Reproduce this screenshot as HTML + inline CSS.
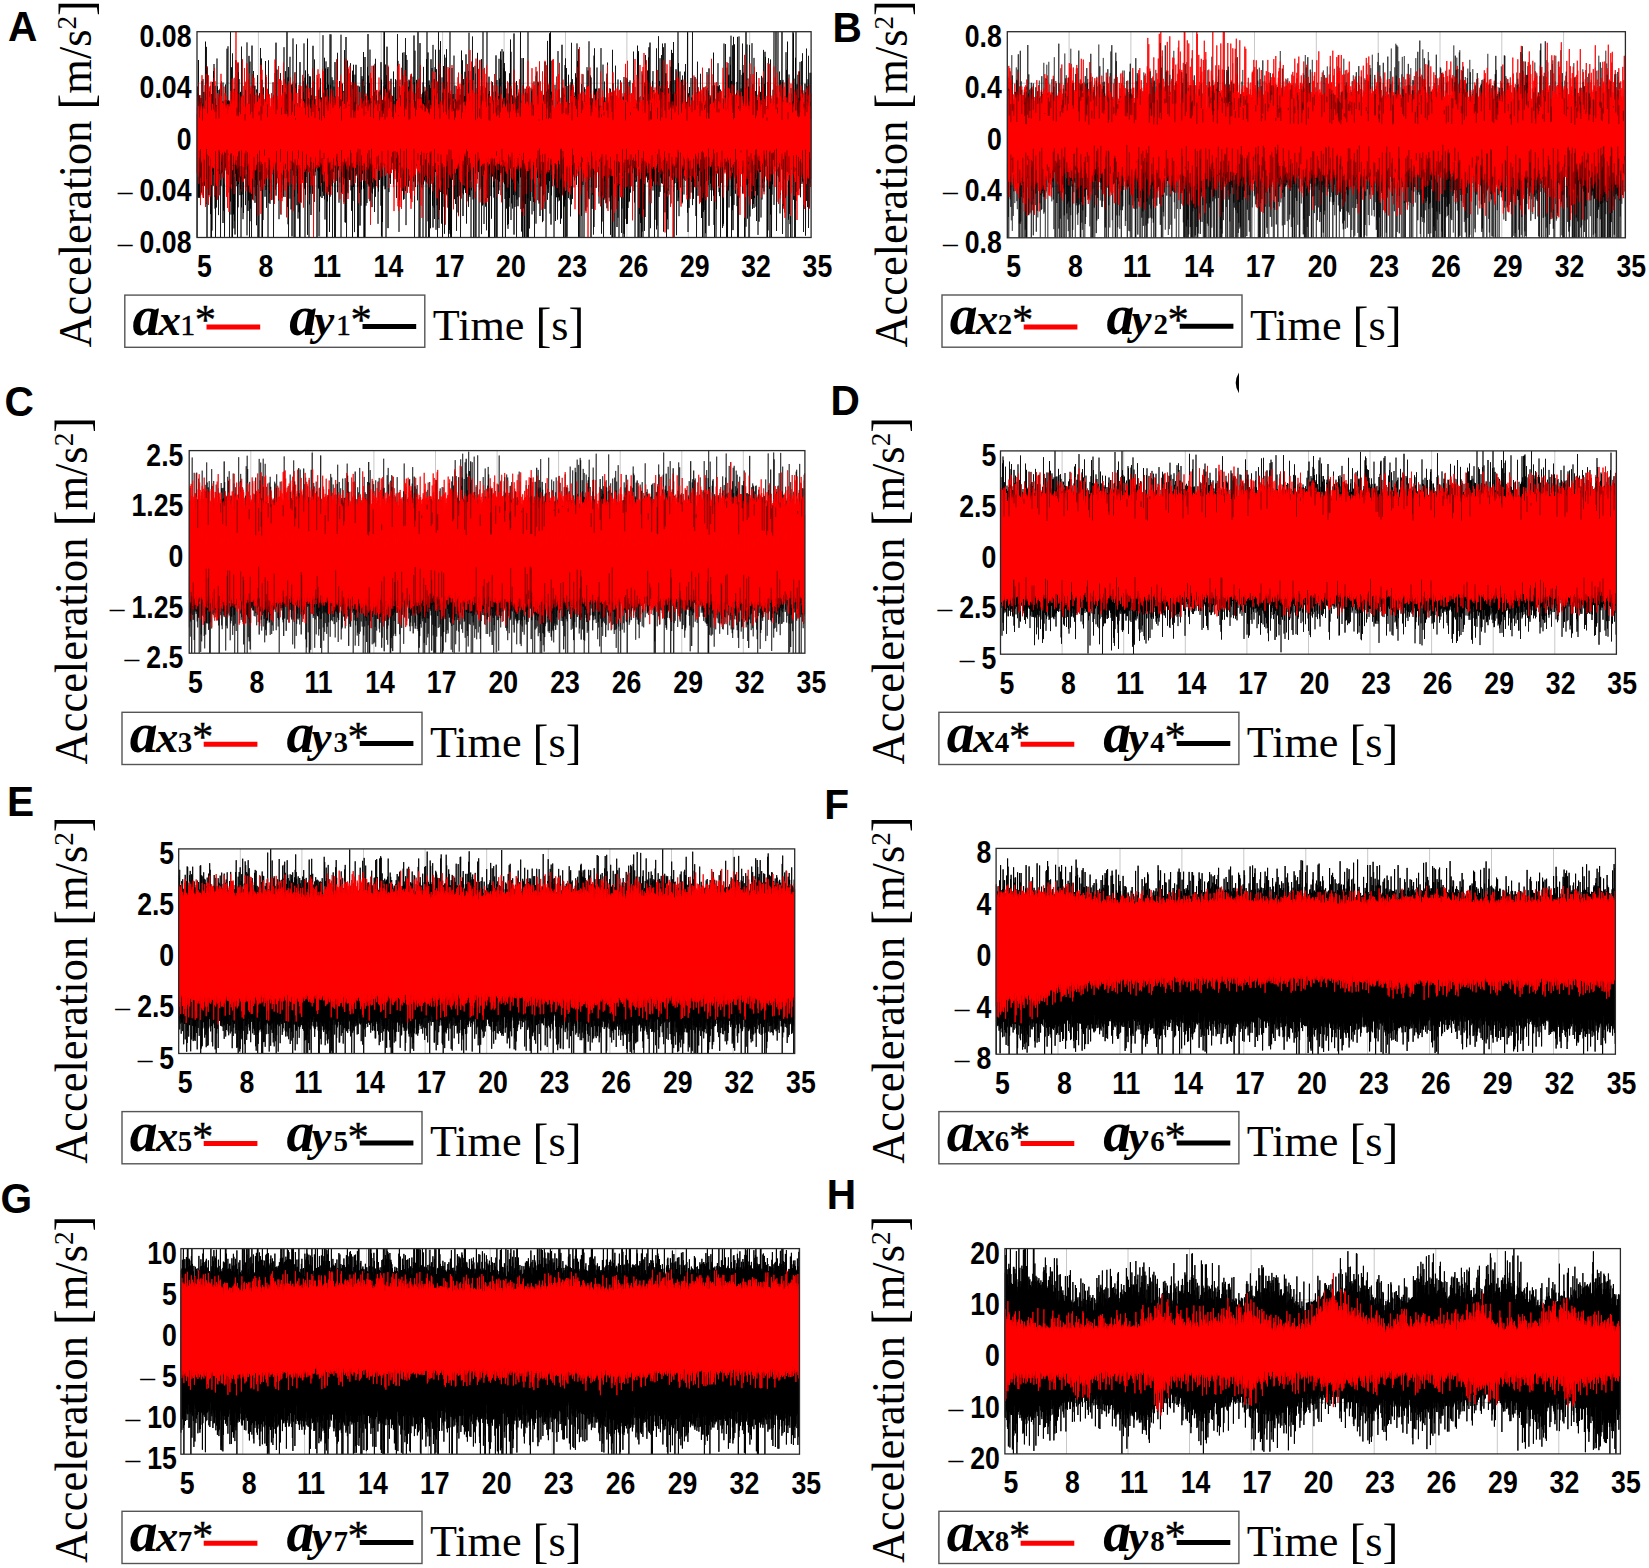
<!DOCTYPE html><html><head><meta charset="utf-8"><title>Acceleration figure</title>
<style>html,body{margin:0;padding:0;background:#fff}svg{display:block}.tk{font-family:"Liberation Sans",sans-serif;font-weight:700;font-size:31px;fill:#000}.pl{font-family:"Liberation Sans",sans-serif;font-weight:700;font-size:41.7px;fill:#000}.se{font-family:"Liberation Serif",serif;fill:#000}</style></head><body>
<svg width="1649" height="1568" viewBox="0 0 1649 1568">
<rect width="1649" height="1568" fill="#fff"/>
<g id="panelA">
<path d="M258.4 31.7V237.5M319.8 31.7V237.5M381.2 31.7V237.5M442.6 31.7V237.5M504.1 31.7V237.5M565.5 31.7V237.5M626.9 31.7V237.5M688.3 31.7V237.5M749.7 31.7V237.5M197.0 83.2H811.1M197.0 134.6H811.1M197.0 186.1H811.1" stroke="#c8c8c8" stroke-width="1" fill="none"/>
<clipPath id="cA"><rect x="196.5" y="31.7" width="615.1" height="205.8"/></clipPath>
<g clip-path="url(#cA)" fill="none" stroke-linejoin="bevel">
<path d="M197 113.8v123.7l.5-151v80.1l.5-73.2v103.5l.5-136.9v137.8l.5-84.7v51.7l.5-69.2v102.1l.5-102.6v101.1l.5-93.9v75.3l.5-79.6v74.7l.5-64.1v83.9l.5-111.6v73.1l.5-50.5v82.4l.5-106.8v116.2l.5-79.9v82.6l.5-106.1v78.7l.5-54.7v69.7l.5-71.7v56.4l.5-128.6v112.3l.5-60.2v110.3l.5-157.2v132.1l.5-108.4v166.9l.5-169.8v103.8l.5-52.9v64.5l.5-66.7v78.7l.5-85.8v85.7l.5-103.4v84.7l.5-90v75.7l.5-47.8v99.9l.5-119.8v143.2l.5-143.5v143.5l.5-116.7v109.8l.5-148.7v89.4l.5-75.7v89.9l.5-114.3v103.4l.5-110.6v121.9l.5-94.1v104.6l.5-110.6v122.8l.5-110.1v139l.5-132.5v61.4l.5-57v98.1l.5-149v132.8l.5-105v111.3l.5-99.1v72.4l.5-50v94.2l.5-125.1v105.3l.5-97.6v76.3l.5-85.3v73l.5-51.4v127.2l.5-152v100.2l.5-104.3v83.6l.5-63.6v72l.5-61.8v60.4l.5-89.5v140.5l.5-121.8v109.4l.5-107.7v67.4l.5-57.6v124l.5-124.2v52.9l.5-80.9v83l.5-67.4v70.4l.5-65.7v63.1l.5-119.2v125.5l.5-73v68.1l.5-123v108.8l.5-54.7v74.2l.5-71.5v89.5l.5-91.3v136.2l.5-128.3v58.6l.5-136.1v169.7l.5-98.2v111.4l.5-147.2v116.9l.5-70.8v124l.5-184.1v184.1l.5-121.2v49.7l.5-70.6v118.9l.5-125.5v139.6l.5-111.7v104.3l.5-143.3v156.8l.5-174.3v113.3l.5-56.1v52.8l.5-86.3v97.2l.5-73.5v78.5l.5-94v145.4l.5-174.2v144l.5-135v111.8l.5-105v98.4l.5-69.2v69.1l.5-84.1v101.8l.5-103.2v97.2l.5-68.9v117.3l.5-190.9v160.7l.5-94.5v81.7l.5-111.5v77.3l.5-64.3v123.2l.5-97.3v91l.5-126.9v92.8l.5-65.4v52.8l.5-51.9v63.8l.5-88.2v115.2l.5-123.5v88l.5-78.5v96l.5-144.7v193l.5-131.6v68.6l.5-59.2v97.7l.5-107.4v97.1l.5-144.7v115.2l.5-65v131.4l.5-175.9v159.6l.5-127.3v114.7l.5-103.6v82.8l.5-82.1v131.8l.5-191.9v149.9l.5-87.2v91.2l.5-114.3v113.7l.5-127.9v111.9l.5-83.8v88.1l.5-101.3v87.6l.5-87.8v117.1l.5-98.4v75.2l.5-77.5v93.8l.5-106.4v135.7l.5-125.5v73.6l.5-98.2v109.8l.5-71.3v123.9l.5-133.3v73.3l.5-66v126l.5-144.3v76.9l.5-56.3v66.7l.5-132.5v138.9l.5-80.5v84.6l.5-132.5v120.9l.5-99.6v157.7l.5-147.9v147.9l.5-141.6v124.1l.5-132.6v86.9l.5-61.9v71.5l.5-72.5v44.4l.5-35.9v76.8l.5-135.7v118.8l.5-72.5v82.6l.5-84.5v102.4l.5-112.2v79.3l.5-70.6v62.5l.5-66.3v137l.5-177.2v117.1l.5-62.9v88.4l.5-98.8v89.1l.5-80.5v91.2l.5-87.9v66.9l.5-73.1v51.6l.5-54.5v93l.5-77.8v52.1l.5-68.8v50.8l.5-73.9v117.5l.5-104.7v142.4l.5-133.7v78.7l.5-73.8v56.8l.5-92.4v116.5l.5-100.9v71.4l.5-117.4v152.9l.5-93.5v82.2l.5-114.6v93.2l.5-42.5v57.9l.5-74.4v49.3l.5-33.4v80.6l.5-89.2v108l.5-116.1v59.1l.5-49v65l.5-105.1v88.6l.5-44.2v97.2l.5-107.1v84.3l.5-78v84.2l.5-113.1v94.4l.5-58.1v63.6l.5-83.3v95.1l.5-149.5v131l.5-88.4v70l.5-67.7v104.9l.5-125.8v97.7l.5-74.6v82l.5-58.8v51.1l.5-136.9v146.5l.5-68.5v97.1l.5-129.4v146.9l.5-157.3v170.5l.5-142.5v81.9l.5-74.3v75.4l.5-121.2v141.8l.5-93.4v56l.5-58.4v106.6l.5-124.3v77.6l.5-78.9v152.6l.5-149.3v83.1l.5-131.8v114.2l.5-53.6v76.5l.5-71.3v133.3l.5-133.1v92l.5-124.3v165.4l.5-119.4v47.5l.5-82.1v79.4l.5-118.5v131.6l.5-72.6v101.8l.5-93.2v81.2l.5-90v115.4l.5-106.2v46.2l.5-69.5v123.1l.5-107.4v132.7l.5-175.4v175.4l.5-149.5v114.1l.5-91.8v56.5l.5-50.1v47.1l.5-44.8v57.7l.5-65.1v68.3l.5-98.8v86.7l.5-75.8v93.4l.5-142v115.5l.5-59.4v89.1l.5-110.9v159.8l.5-167v124.1l.5-79v61.4l.5-91.1v84.4l.5-66.3v78.9l.5-144.2v196.1l.5-160.9v90.7l.5-66.6v73.7l.5-59.8v125.6l.5-161.2v128.1l.5-105.2v94.4l.5-117.1v94.9l.5-63.7v107.3l.5-119.6v84l.5-75v60.6l.5-77.8v106.6l.5-148v124.2l.5-74.5v80.2l.5-64.5v61l.5-112.7v142.3l.5-102.7v76.5l.5-57.9v53.9l.5-60.5v52.9l.5-46.9v44.7l.5-54.2v129.9l.5-159.1v75.4l.5-54.1v71.1l.5-80.9v98.5l.5-98.7v146.6l.5-128.4v103.6l.5-124.1v85.2l.5-94.2v118l.5-90.1v68.5l.5-77.2v85.2l.5-76.7v91.9l.5-92.5v86.1l.5-156.4v119.1l.5-61.5v103l.5-102.3v65.5l.5-101.2v141.5l.5-87.9v108.1l.5-151v102.5l.5-109.6v111.2l.5-70.9v135.8l.5-149.3v149.3l.5-168.7v132.6l.5-134.3v107.3l.5-89.7v107l.5-76.1v58.4l.5-62.5v120.5l.5-197.7v162.4l.5-111.9v109.3l.5-159.7v149.6l.5-85.7v82.7l.5-103.7v108.8l.5-71.6v123l.5-157.3v98.8l.5-78.4v71.3l.5-85.3v82l.5-57.8v126.7l.5-175.4v105.8l.5-67.9v137.5l.5-141v76.3l.5-82.9v71.4l.5-49.1v68.7l.5-128.1v139.4l.5-92.8v70.9l.5-65.4v63.2l.5-61.3v95.9l.5-121.7v100.4l.5-62.1v63.5l.5-83.8v62.7l.5-127v202.8l.5-137.7v92.5l.5-71.3v52.4l.5-89.8v89.5l.5-79.9v83.9l.5-85.9v93.1l.5-76.6v94.4l.5-152v128.4l.5-75.6v119.3l.5-111.9v112.3l.5-185.6v159.9l.5-90.9v131.5l.5-121.7v46.1l.5-101.2v130.8l.5-84.2v85.9l.5-108.5v92.6l.5-72.7v56.8l.5-77.7v96.3l.5-58.8v58l.5-116v116.4l.5-94.6v105.4l.5-74.6v95l.5-106.4v66l.5-99.7v166.8l.5-162.6v126l.5-136.1v122.1l.5-77.2v48.4l.5-56v130l.5-157.4v108.2l.5-85.6v73.9l.5-106.4v111l.5-77v63.9l.5-52.2v63.9l.5-57.2v120.3l.5-151.8v101.3l.5-80.5v131l.5-126.7v43.8l.5-68v106.3l.5-88.9v121.5l.5-114.4v53.4l.5-97.5v138.7l.5-98.9v82.6l.5-113.2v90.9l.5-53.4v59.8l.5-94.6v101.3l.5-128.1v136.5l.5-102.8v151.7l.5-143.5v143.5l.5-180.5v180.5l.5-141v70.3l.5-54.2v93.1l.5-102.9v66.8l.5-50.6v84l.5-136.1v112.1l.5-144.9v149.7l.5-108.1v108.7l.5-79.8v81.8l.5-103.3v103.1l.5-136.6v151.6l.5-103v102.2l.5-99.1v91.3l.5-96.1v86l.5-69.9v94.5l.5-95.5v81.9l.5-85.2v80.3l.5-122.8v96.7l.5-67.8v92.1l.5-94.4v119.6l.5-148.2v95l.5-100v138l.5-106.2v95.4l.5-90.5v73.5l.5-63.3v58.4l.5-57.1v50.8l.5-57.3v123.3l.5-110.4v78.1l.5-99.9v72l.5-52.3v68.7l.5-90.1v81.6l.5-74.5v73.8l.5-108.6v143.5l.5-125.9v155.9l.5-135.4v137.2l.5-133.7v118.1l.5-121.8v52l.5-65.4v78l.5-133v154l.5-154v133.8l.5-64.6v88.4l.5-124.7v124.2l.5-103.9v152.6l.5-162.1v90l.5-118.7v119.9l.5-77.8v83.6l.5-75.6v131.3l.5-161v93.6l.5-70v101.4l.5-99.3v63.7l.5-67.1v88.6l.5-70.1v76l.5-105.1v85.4l.5-55.4v60.4l.5-71.4v60.2l.5-62v66.9l.5-47.4v39.2l.5-83.1v112.6l.5-83.3v76.3l.5-60.4v54.1l.5-83.8v81.8l.5-89.6v72.3l.5-52.4v62.2l.5-52.1v88.6l.5-117.6v97.7l.5-143.9v148l.5-121.2v111.8l.5-57.6v61l.5-87.6v143.4l.5-145.6v113.9l.5-120.6v85.6l.5-69.8v82.2l.5-72.5v53l.5-45.8v51.5l.5-58.4v85.7l.5-138.3v120.1l.5-53.5v71.3l.5-113.5v122.3l.5-147.2v146.6l.5-106.9v81.8l.5-91.4v83.9l.5-128.2v152.7l.5-135.8v170.1l.5-126.7v87l.5-125.5v95.8l.5-73.1v92.1l.5-70.3v67.9l.5-85.5v99.7l.5-106.8v92.9l.5-72.4v80.5l.5-99.9v86.5l.5-91.6v122.8l.5-97.8v74.1l.5-101v125.7l.5-82.4v60.3l.5-60v56.8l.5-97.5v114.2l.5-95.9v81.3l.5-140.8v146.1l.5-99.1v155l.5-186.8v129.7l.5-79.1v85.8l.5-70.7v51.5l.5-88v86.1l.5-62.5v59.4l.5-57.7v95.1l.5-168.6v128.6l.5-63v84.3l.5-93.6v149.5l.5-133v57.1l.5-118.5v194.4l.5-131.8v59.5l.5-59.8v77.9l.5-85.5v86.8l.5-90.4v93.4l.5-94.9v67.6l.5-77.9v155.1l.5-170.6v117.4l.5-97.6v89.9l.5-73.6v77.1l.5-88.6v90l.5-86v81.2l.5-86.3v147.1l.5-178.5v123.1l.5-150.4v122.4l.5-57.3v57.9l.5-102.2v168.8l.5-117.8v134l.5-157v96.8l.5-92.4v152.6l.5-130.3v87.2l.5-106.2v140l.5-168.9v121.3l.5-69.1v62.9l.5-106.4v85.5l.5-63.3v115.5l.5-160.8v182.6l.5-139v83.6l.5-93v128.4l.5-111.9v123.4l.5-151.8v98.3l.5-115.8v122l.5-55.3v113.4l.5-160.6v84.5l.5-61.3v112.9l.5-123v155.2l.5-129.5v53.5l.5-129.8v187.5l.5-116.7v125.5l.5-153.4v135.3l.5-160.1v135.7l.5-144.3v150.7l.5-72.9v61.6l.5-70.6v113.5l.5-146.1v89.8l.5-74.6v144.9l.5-132.7v89.1l.5-127.9v93.2l.5-48.9v96.5l.5-152.1v179l.5-139.8v102.7l.5-77.5v93.7l.5-155.1v133.4l.5-141.8v144.6l.5-112v113.5l.5-98.4v92.1l.5-97.1v73.1l.5-72.1v144.5l.5-139.1v135.3l.5-165.3v161.6l.5-198.3v152l.5-89.7v143.5l.5-123v120.2l.5-115.6v118.4l.5-169.4v103.5l.5-74.1v82.1l.5-85.5v82l.5-75v74.3l.5-119.8v98.4l.5-45.4v90.5l.5-113.5v85.7l.5-71.9v104.6l.5-102.4v53.2l.5-43.1v119.2l.5-130.3v74.1l.5-61.6v83.7l.5-107.9v123.5l.5-104.3v107l.5-115.4v96.5l.5-100.3v61.5l.5-62.7v100.7l.5-88.5v130.6l.5-148.3v84l.5-122.6v128.8l.5-59.7v73.5l.5-132.8v97.2l.5-62.6v121l.5-136.9v115.3l.5-79.7v75l.5-93.4v91.7l.5-116.2v111.6l.5-87.5v96.9l.5-138.4v117.9l.5-90.3v141.5l.5-120.1v64.8l.5-50.5v47.2l.5-93.8v130.2l.5-118.1v123.6l.5-174.2v147.6l.5-65.3v80l.5-114.8v116.7l.5-100.4v83.5l.5-64.1v121.7l.5-162v114.8l.5-70.3v54.5l.5-138v138.2l.5-92.3v117.1l.5-132.3v170.3l.5-117.5v58.8l.5-80.8v88.1l.5-120.3v171.7l.5-163.9v99.7l.5-53.2v117.4l.5-146.3v65.9l.5-43.3v48.2l.5-109.1v126.2l.5-87v78.5l.5-70v71.5l.5-76.1v141.5l.5-128.8v81.5l.5-70.1v68.7l.5-72.4v51.8l.5-72.8v91.5l.5-127.8v175l.5-147.8v75.5l.5-72.5v116.1l.5-173.7v172.8l.5-111.4v81.3l.5-54.3v103.9l.5-107.4v53.7l.5-79.3v75.2l.5-78.5v118.9l.5-90.6v38.4l.5-72.1v148l.5-198.6v159.2l.5-89.8v96.9l.5-95.4v75.8l.5-84.5v143.6l.5-160.8v96.8l.5-82.5v146.5l.5-134.5v65.5l.5-70.4v68.9l.5-65.4v94.5l.5-83.5v106l.5-111.8v67.9l.5-92.6v94.1l.5-76.4v76.8l.5-76.2v86.9l.5-89.8v100.1l.5-93.2v133.1l.5-122.2v62.6l.5-86.2v86.9l.5-123.2v182.1l.5-129.8v48.2l.5-75.9v157.5l.5-137.4v79.6l.5-74.4v69.7l.5-79v98l.5-135.2v131.6l.5-111.8v102.9l.5-73.6v46.8l.5-103.1v121.2l.5-113v135.4l.5-77.6v55.7l.5-124.2v112.7l.5-60.4v136.1l.5-138.3v80.9l.5-128.5v116.2l.5-99.8v91l.5-95.9v121.1l.5-98.4v113.2l.5-127.6v166.1l.5-149v103.2l.5-71.3v88.1l.5-110.1v73.3l.5-71.3v124.7l.5-131.6v135.3l.5-128.5v123.7l.5-117.2v99.9l.5-133.3v124.6l.5-99.6v69.7l.5-128.5v128.9l.5-116.7v168.2l.5-131.3v114.6l.5-101v79.6l.5-86.4v113l.5-102.1v69.2l.5-77.9v97.1l.5-161.3v201.1l.5-137.7v74.9l.5-74.8v109.9l.5-103.7v83.7l.5-88.2v96.6l.5-114.3v156.5l.5-152.4v114.4l.5-78.8v60.1l.5-85v110.4l.5-112.8v90l.5-91.1v105l.5-96.6v54.3l.5-60.6v76.2l.5-138.9v145.6l.5-67.9v99.7l.5-107.9v130.3l.5-173.4v128.9l.5-90.2v140.7l.5-127.9v91.8l.5-143.4v150.3l.5-101.1v130.3l.5-130.2v130.2l.5-148.9v114.8l.5-111.1v111.5l.5-114.7v148.4l.5-147.3v88.9l.5-85.5v143.9l.5-144.6v144.6l.5-205.8v166.8l.5-110.2v149.2l.5-133.5v66.2l.5-76.8v135l.5-117.2v60.9l.5-61.3v90l.5-113.1v71.3l.5-67.9v92l.5-93.8v125.1l.5-108.7v56.3l.5-61.2v96.1l.5-92.1v97.2l.5-120.6v129.7l.5-115.9v142.3l.5-132v56.5l.5-44.8v66.7l.5-108v147.8l.5-151.2v94.8l.5-96v90.5l.5-47.2v63.1l.5-96v118.5l.5-116.9v104.5l.5-68.5v84.3l.5-96.7v70.7l.5-67.4v105.8l.5-97.5v67.7l.5-95.4v73.1l.5-43.8v66.1l.5-90.1v83l.5-75.6v118.6l.5-111v109.8l.5-126.1v100.5l.5-74.2v72.7l.5-79v69.4l.5-122.3v147l.5-115.3v75.7l.5-54.2v122.4l.5-146.1v93.1l.5-90.7v68.2l.5-121.1v158.9l.5-96.9v85.7l.5-99.5v103.7l.5-97.1v63.8l.5-126.1v147.7l.5-79.4v111.9l.5-181.9v122.6l.5-93.6v163.9l.5-132.8v103.5l.5-91.2v71.5l.5-75.4v68.4l.5-54.3v39.9l.5-33.2v37.9l.5-37.9v116.5l.5-118.3v66.2l.5-100.7v95.6l.5-79.9v120.6l.5-124.5v79.8l.5-76.9v97.8l.5-93v49.9l.5-52.4v117.9l.5-168.5v150.3l.5-112v107.9l.5-107.9v107.6l.5-84.2v87.6l.5-88.7v75.6l.5-70.5v107l.5-126.1v58.1l.5-52.3v114.9l.5-173.6v149.3l.5-81.4v44.3l.5-69.3v86l.5-80.7v144.5l.5-142v111.6l.5-112.2v110.9l.5-140.7v172.4l.5-179.1v141.1l.5-91.6v129.6l.5-169.5v123.4l.5-84.3v129.7l.5-121.1v49.3l.5-79v92.7l.5-103.9v123.3l.5-89.8v68.2l.5-73.5v84.8l.5-73.5v85.3l.5-114.4v131.2l.5-134.1v88.6l.5-128.1v161.5l.5-102v54.5l.5-77.6v119.6l.5-109.6v83.4l.5-55.3v57.5l.5-82.4v61.6l.5-57.9v84.3l.5-78.8v59.8l.5-88v94.4l.5-76.9v86.9l.5-100.1v107.1l.5-141.4v130.2l.5-112.5v104.5l.5-100.2v94l.5-110.2v187.4l.5-165.7v166.6l.5-120.1v83l.5-105.1v142.2l.5-137.3v78.4l.5-74.4v62.9l.5-83v131.7l.5-118.9v140.6l.5-136.5v61.1l.5-87.8v110.7l.5-79.9v59.9l.5-61.6v134.1l.5-150.2v88.9l.5-87.1v79.5l.5-55.3v97l.5-106.8v107.4l.5-99.2v54.9l.5-99.4v140.1l.5-108.5v72.5l.5-100.7v120.5l.5-100.5v107l.5-156.3v157.9l.5-93.8v74l.5-81.4v63.6l.5-86v89.7l.5-87.8v160l.5-135.1v85.1l.5-89.3v110.7l.5-101.3v87l.5-95.9v76.5l.5-62.9v122.3l.5-179v171.4l.5-178.7v114l.5-73.8v85.8l.5-85.3v86.3l.5-61.3v74l.5-99.3v83.6l.5-104.8v87.1l.5-42.7v57.7l.5-50.7v41.7l.5-61.8v93l.5-103.4v115.2l.5-93.8v51.7l.5-55.7v48.9l.5-36.5v80.2l.5-150.3v148.4l.5-82.2v119.3l.5-121.6v109.5l.5-114.5v88.3l.5-130.7v130.3l.5-94.3v136.9l.5-125.4v87.7l.5-118.2v99.4l.5-83.5v100.7l.5-85.2v54.5l.5-66.7v102l.5-115.6v90.1l.5-103.7v134.7l.5-145.7v96.1l.5-55.9v68.8l.5-53.3v59.6l.5-61.1v80.8l.5-91.2v69l.5-62.2v88.2l.5-112.7v146.1l.5-138.8v113.5l.5-104.2v90.1l.5-99.5v141.6l.5-187.7v187.7l.5-154.2v110.3l.5-79.1v71l.5-94.6v146.3l.5-115v61.6l.5-79.1v132.8l.5-171.8v88.9l.5-58.5v88.5l.5-76.7v69.1l.5-57.2v107.2l.5-108.7v50.3l.5-89.1v138.2l.5-107.5v90.6l.5-80.2v116.9l.5-118.7v54.2l.5-69.3v81.5l.5-104.8v82.6l.5-66.2v89.9l.5-88.6v134.8l.5-123.7v99.4l.5-100v67.7l.5-79.7v140.9l.5-139.2v81.2l.5-102.5v156.8l.5-111.5v115.2l.5-128.2v62.8l.5-70v84.1l.5-108.5v141.2l.5-123.1v128.2l.5-111.5v94.7l.5-128.4v145l.5-105v89.2l.5-98.5v58.8l.5-86.3v120.1l.5-96.9v95.8l.5-120.6v90.2l.5-58.3v80.2l.5-85v58.6l.5-49.3v58.4l.5-67.6v77l.5-87.6v76.2l.5-64.7v82.6l.5-139.5v116.6l.5-61.1v59l.5-67.9v104.2l.5-115.6v150.7l.5-115.6v55.5l.5-73.8v78.4l.5-75.5v74.1l.5-77.2v52.8l.5-110.5v120.7l.5-112.4v183.5l.5-186.2v115.7l.5-56.4v126.9l.5-140.2v116.9l.5-103.2v59.1l.5-63.5v116.3l.5-112.8v127.4l.5-128.9v128.9l.5-166.2v160.2l.5-156.9v78.4l.5-43.4v127.9l.5-140.2v111.9l.5-93.1v40.5l.5-74v148.3l.5-144.7v130.8l.5-162v113l.5-85.2v94.7l.5-63.9v62.4l.5-79.4v66.9l.5-92.9v111.7l.5-77.7v60.8l.5-107.9v122.4l.5-132.6v190.2l.5-134.8v67.3l.5-127.4v152.9l.5-84.3v117l.5-141.6v116.6l.5-100.3v76l.5-68v64.6l.5-94.4v104.7l.5-114.7v119.4l.5-78.1v69l.5-91.4v85.2l.5-80.8v143.1l.5-122.7v104.9l.5-109.7v42.5l.5-45v59.7l.5-118.8v180.9l.5-142.7v138.9l.5-117.8v73.6l.5-73.2v129.4l.5-201.3v122l.5-63.8v102.5l.5-115.8v80.1l.5-103v133.6l.5-103.3v78.3l.5-60.1v71.1l.5-122.7v128.1l.5-92.2v69.4l.5-116.8v140.1l.5-93v77.1l.5-120.5v184.4l.5-143.4v85.8l.5-77.2v95.7l.5-149.3v169l.5-99.8v52.2l.5-91.4v120.1l.5-99.4v143.5l.5-148.3v104.9l.5-77.8v103l.5-127.5v137.5l.5-141.1v102.5l.5-88.7v74.3l.5-69v45.7l.5-68.4v110l.5-113.6v98.2l.5-112.5v136.8l.5-153.6v119l.5-62v71.1l.5-125v126.7l.5-85.3v78.6l.5-131v149.7l.5-84v129.8l.5-129.3v75.2l.5-103.2v102.9l.5-69.7v45.5l.5-89.6v98.6l.5-73.2v140.5l.5-122.9v55.2l.5-63v85.2l.5-158v169.4l.5-137.9v134.4l.5-92.3v110.9l.5-111.8v63.7l.5-96.6v105.1l.5-71.3v82.1l.5-92.3v87.6l.5-102.8v93.9l.5-93.2v122.9l.5-128v126.7l.5-100.7v77.1l.5-84v76.7l.5-77.8v101l.5-122.8v98.4l.5-86.4v96.3l.5-116v110.1l.5-71.7v77.4l.5-59.9v43.5l.5-61.6v93.3l.5-163.4v181l.5-96.3v115.6l.5-138.7v105.3l.5-91.3v100.5l.5-120.8v110.7l.5-88.4v66.6l.5-67.9v56.4l.5-86.4v114.6l.5-75.7v46.1l.5-65.6v84.5l.5-150.2v173.4l.5-84.7v72.8l.5-88.5v94.1l.5-80.8v52.4l.5-61.6v78.3l.5-110v109.8l.5-95.9v81.5l.5-67.8v111.3l.5-108.5v130l.5-145.4v76.9l.5-107.3v114.1l.5-71.4v91.4l.5-106.1v91.4l.5-73.2v69l.5-75.4v69.5l.5-69.6v97.1l.5-124.7v112.7l.5-92.7v61.6l.5-54v116.6l.5-114.7v67.2l.5-60.2v127.2l.5-145.3v112.7l.5-117.4v124.2l.5-90.6v116.4l.5-132.6v78.8l.5-96.7v123l.5-106.4v129.6l.5-132.5v136.8l.5-147.7v91l.5-108.8v97.7l.5-81.7v79.5l.5-77.1v94.7l.5-92.2v86.9l.5-111.4v157.4l.5-126.8v61.8l.5-65.6v80.5l.5-77.7v85.6l.5-87.3v93.9l.5-89.7v100.5l.5-109.8v85l.5-72.7v76.2l.5-71.7v82.3l.5-137.6v142.9l.5-90.3v119.6l.5-139.5v152.1l.5-126.1v64l.5-70.7v68.4l.5-59.9v124.3l.5-135.3v107l.5-123.1v81.8l.5-58.1v63.1l.5-109.7v101.2l.5-77.9v99.2l.5-77v83.4l.5-106.9v110.9l.5-75.1v64.1l.5-95.5v147.9l.5-133.4v54.6l.5-45v66.2l.5-81.7v84.6l.5-79.7v124.9l.5-122.7v120.8l.5-126.7v124.3l.5-180.2v128.9l.5-64.6v60.4l.5-72.5v73.9l.5-125.5v123l.5-60v58.9l.5-48.8v120.3l.5-169.8v102l.5-70.8v138.6l.5-174.5v103.5l.5-90.9v114.8l.5-115.8v132.9l.5-89.9v46.4l.5-107.2v121l.5-113v105.7l.5-134.8v160.5l.5-115.2v156.5l.5-123.9v74.9l.5-143.1v164.8l.5-114.6v134.5l.5-193.2v132.1l.5-55.6v91.6l.5-160.5v128.7l.5-68v71.1l.5-57.7v75l.5-90.7v49.9l.5-59.9v90.4l.5-101.4v124.2l.5-169.2v200.6l.5-123.1v64.9l.5-73.3v131.5l.5-201.1v139.5l.5-70.1v52.1l.5-87.9v101.4l.5-64.4v79.4l.5-98v63.9l.5-32.3v36.5l.5-81.6v85.3l.5-116.6v149.9l.5-120.6v100.6l.5-100.6v110.2l.5-118.1v127.7l.5-105.5v150.3l.5-144.7v144.7l.5-148.7v71.5l.5-128.6v195l.5-139.8v76.8l.5-119.2v140.3l.5-79v112.8l.5-140.1v105.5l.5-97.1v77.4l.5-77.6v150.8l.5-192.6v137.3l.5-108.2v142.5l.5-122.9v73l.5-70.1v76.4l.5-74.7v100.9l.5-155.9v146.3l.5-90.4v109.7l.5-124.6v81l.5-73.4v112.1l.5-146v150l.5-99v89.2l.5-92v84.9l.5-100v86.7l.5-70.8v99.8l.5-134.7v149l.5-114.8v82l.5-88.1v95.2l.5-100.6v140.2l.5-123.5v57.5l.5-73.1v125.8l.5-135.3v85.4l.5-78v78.2l.5-80v79.7l.5-68v113.9l.5-141.6v81.8l.5-45.8v87.6l.5-90.2v73.4l.5-105.1v110.5l.5-138.2v112.4l.5-57.9v87.1l.5-107.6v97.8l.5-129.9v103.6l.5-98.5v109.7l.5-60.5v70.5l.5-68.2v57.8l.5-48.8v120.1l.5-155.5v155.5l.5-135v127.9l.5-172.2v93.7l.5-50.1v62.7l.5-58.3v82.5l.5-125v173.8l.5-177.9v154.9l.5-97.3v73l.5-74.3v121.6l.5-127.7v84.8l.5-83.6v73.3l.5-94.6v64l.5-34.5v40.8l.5-128.3v173.2l.5-120.9v82.1l.5-52.8v47.9l.5-57.2v55.6l.5-127.9v125.4l.5-47.3v121.2l.5-133.6v78.4l.5-68.1v59.9l.5-135.9v140.1l.5-71.3v76.8l.5-71.3v76.1l.5-110.5v110.2l.5-79.9v111.5l.5-133.3v114.7l.5-84.5v42.8l.5-34.8v47l.5-133.6v137.8l.5-87.6v152.1l.5-154.1v113.7l.5-93.7v106.1l.5-94.2v83.4l.5-84.9v97.3l.5-111.5v83.4l.5-79.6v98l.5-145.7v185l.5-167.3v105.5l.5-94.9v91.4l.5-130.2v129.4l.5-58.9v125.3l.5-125.2v107.3l.5-145.1v98.9l.5-65v105.5l.5-111.4v121.6l.5-117.8v131.2l.5-149.5v80.8l.5-52.9v53.4l.5-75.8v144l.5-136.2v68.2l.5-137.8v137.8l.5-136v166.2l.5-121.1v93.4l.5-75.8v141.3l.5-118.6v90.4l.5-151.5v179.7l.5-205.8v138.7l.5-51.5v73l.5-107.6v74.4l.5-56v91.8l.5-119.7v115.8l.5-92.5v78l.5-96.2v79.9l.5-88.2v99.5l.5-109.2v126.7l.5-92.1v100.7l.5-107.3v66.7l.5-95.4v102.5l.5-49.9v70l.5-130.5v127.5l.5-87.6v88.8l.5-79.6v129.6l.5-128v78.7l.5-66.1v62l.5-94.9v82.8l.5-72.8v141.9l.5-143.5v83.7l.5-127.2v152.3l.5-114.5v97.7l.5-84.4v107.4l.5-127.9v89.3l.5-112.7v172.2l.5-108.8v62l.5-85.1v111.2l.5-134.5v110.5l.5-81.3v84.8l.5-114v106.3" stroke="#000" stroke-width="0.7"/>
<path d="M197 106.8v65.9l.5-66.2v56.6l.5-66.7v80.4l.5-94.4v77.8l.5-65.2v88.8l.5-79.7v67.8l.5-62.8v53.3l.5-51.4v94.1l.5-107.2v96.8l.5-90.4v56.2l.5-85.3v84.8l.5-50.6v72.9l.5-74v89.3l.5-91.5v48.4l.5-48.7v53.3l.5-51.2v73.9l.5-96.6v76.3l.5-52.3v97.7l.5-132.8v128.7l.5-119v77.4l.5-61.5v73.9l.5-107.1v122.4l.5-93.4v92.3l.5-112.5v129.6l.5-116.9v101.5l.5-92.5v70l.5-56.6v86.4l.5-111v70.8l.5-75v77.1l.5-63.3v89.6l.5-81.5v64.9l.5-64.4v62.2l.5-55.4v56.3l.5-89.2v90.2l.5-70.6v66.2l.5-95.8v127.7l.5-114.5v102.3l.5-75.9v59.9l.5-56v51.1l.5-49.9v73.1l.5-80.3v48.7l.5-60.8v106.4l.5-101.7v72.3l.5-60.7v86l.5-101.7v78.8l.5-75.9v59.3l.5-57.3v81.4l.5-96.7v89.1l.5-98.8v88l.5-65.6v61.1l.5-47.8v49.2l.5-55.8v68l.5-67.4v74.3l.5-68.5v59.2l.5-81.9v85.7l.5-72.4v83.5l.5-90.3v76.1l.5-60.8v54.9l.5-67.4v63.5l.5-51v88.4l.5-92v64.8l.5-56.1v94.5l.5-104v65.8l.5-59.9v50.8l.5-54.5v105.7l.5-104.9v52.7l.5-59.5v86.7l.5-96v64.9l.5-49.3v75.9l.5-78.9v85.4l.5-110.1v90.2l.5-67.9v69.1l.5-91.7v84.5l.5-70.8v70.4l.5-62.1v93.6l.5-88.5v71.2l.5-86.2v71.2l.5-91.5v85.6l.5-124.2v133.1l.5-104.5v109.2l.5-77.4v72l.5-69.9v79.4l.5-111.5v119.6l.5-79.1v64.2l.5-61.5v62.2l.5-73.6v87.5l.5-80.7v73.1l.5-69.9v72.5l.5-79.9v58.4l.5-57.5v94.1l.5-82.1v60.6l.5-110.7v117.9l.5-82.1v86.9l.5-75.6v74.7l.5-85.1v78.9l.5-106.8v92.1l.5-57.3v60.1l.5-47v60.4l.5-93.1v107.9l.5-111.6v94.2l.5-110.5v101.9l.5-61v62l.5-55.6v55.6l.5-62.9v82.1l.5-105.9v90.6l.5-96.6v79.9l.5-65.4v104.5l.5-104.5v100.3l.5-102.1v103.7l.5-89.2v93.2l.5-101.7v85.6l.5-103.5v96.5l.5-65.5v73.7l.5-90.8v112.1l.5-122.5v116.8l.5-86.9v72.8l.5-85.4v75.7l.5-75.8v71.6l.5-57v60.5l.5-77.4v75.4l.5-65.1v65.6l.5-66.8v82.8l.5-82.5v113.6l.5-120.1v88.7l.5-76.2v60.6l.5-69.1v69.6l.5-71.1v73.9l.5-97.5v89.4l.5-99v149l.5-110v65.5l.5-99.6v117.5l.5-97.6v76l.5-71.1v95.5l.5-84v80.6l.5-81.9v69.1l.5-74.6v80l.5-70.6v60.4l.5-77.2v93.7l.5-110.7v86.8l.5-84.5v90.9l.5-62.3v72.6l.5-89.6v77.9l.5-72.4v75.5l.5-62.8v57.9l.5-67.4v81.6l.5-84.7v69.8l.5-58.2v84.5l.5-82.8v57.9l.5-67.3v101.8l.5-106.9v86.3l.5-80v64.4l.5-66.6v76.2l.5-70.3v64.1l.5-57.1v52.3l.5-79.9v87.1l.5-68.1v102.3l.5-144.4v101.5l.5-99.9v103.3l.5-95v94.4l.5-57.2v67.4l.5-78v87.3l.5-83.3v70.7l.5-72.2v66.8l.5-99.3v112.1l.5-73.3v94.7l.5-120.4v111.7l.5-95.8v74.1l.5-72.5v117.1l.5-133.2v93.3l.5-77.2v75.8l.5-77.6v106.4l.5-93.3v66.7l.5-81.7v73.4l.5-103.7v99.5l.5-53.3v61.6l.5-91.3v85.1l.5-67.3v93.6l.5-102.2v89.8l.5-94.5v79.5l.5-64.4v118.6l.5-112.9v69l.5-55.1v48l.5-81v96.9l.5-100.9v90l.5-86.7v71.9l.5-63.9v93.1l.5-84v57.5l.5-81.8v83.3l.5-59.4v67.8l.5-76.2v67.4l.5-59.2v82.7l.5-74.3v53.6l.5-62.1v65.1l.5-73.3v118.3l.5-129.6v77l.5-85.2v91l.5-76.2v101.7l.5-84v56.4l.5-69.3v90.4l.5-79.4v61.4l.5-72.3v62.4l.5-48.1v52l.5-53.5v63.1l.5-71.7v104.9l.5-117.2v115.5l.5-93.2v96.2l.5-92.8v73.6l.5-98.5v82.5l.5-82.1v77.1l.5-56.3v95.7l.5-103.8v84.2l.5-108.1v107.7l.5-74.3v61.8l.5-69v106.5l.5-99.2v63.5l.5-64.1v57.8l.5-63v66l.5-64.6v67.3l.5-83.1v80.3l.5-64.4v64.8l.5-84.5v78.8l.5-58.4v95.5l.5-88.5v60.7l.5-68.8v62.2l.5-77.8v71.1l.5-66.9v75.1l.5-58.7v64.1l.5-60.1v63.9l.5-69.1v78.1l.5-81.4v52.9l.5-69.2v97.3l.5-117v100.9l.5-69.5v62.2l.5-80.3v156l.5-133.1v95.8l.5-93v61.7l.5-64.2v52.9l.5-58v56.7l.5-60.3v71.4l.5-61.8v62.7l.5-93.4v93.2l.5-60.8v55.9l.5-93.9v98.9l.5-63.4v55.7l.5-86.7v93.1l.5-67.6v68l.5-50.3v41.2l.5-56.2v84.3l.5-86.9v62.8l.5-61.7v63.3l.5-64.3v74.7l.5-105v104.5l.5-78.2v79.6l.5-103.8v86.4l.5-58.8v82.5l.5-91.4v81.9l.5-63.8v53.4l.5-64.7v75.8l.5-67.7v87.8l.5-84.5v78.2l.5-89.9v67.1l.5-74.1v97.5l.5-82.8v90.6l.5-88.3v49.4l.5-54.2v64.1l.5-66.9v86l.5-89v64.1l.5-46v56.2l.5-81.4v106.1l.5-102v67.6l.5-58.7v67.4l.5-63.6v58.7l.5-67.8v82.8l.5-88.7v70.7l.5-58.3v79.9l.5-83v83.1l.5-85.8v67.2l.5-61.4v63.2l.5-63.3v62.7l.5-106.2v119.4l.5-82.7v71.3l.5-87.5v79.8l.5-72.6v77l.5-67.5v69.6l.5-62v44.4l.5-44.2v72.7l.5-89.9v112l.5-124.4v91.2l.5-68.1v66.8l.5-81.9v86.1l.5-64.9v68l.5-70.7v92.7l.5-89v79.4l.5-92v70.4l.5-56.3v97.5l.5-100.2v55.1l.5-49.5v50.3l.5-99.1v101.7l.5-103.4v105.4l.5-66.9v68.7l.5-84.8v88l.5-73.1v69.3l.5-98.2v131.7l.5-129.9v101.7l.5-80.9v75.5l.5-92.1v91.6l.5-99.2v100.9l.5-69.6v74.1l.5-71.1v80.2l.5-87.4v71.3l.5-81.9v103.2l.5-96.2v74.6l.5-73v77l.5-80.9v74l.5-77.7v83.5l.5-80.3v97.3l.5-100.9v75.6l.5-59.6v69.1l.5-83.2v77.4l.5-65.3v59.9l.5-70.9v79.1l.5-57.1v56.6l.5-55.4v68.7l.5-72.2v97.7l.5-85.1v41.3l.5-53.7v55.7l.5-69.4v82.3l.5-74.9v65.7l.5-67.2v84.1l.5-82.3v67.5l.5-63.3v58.4l.5-58v61.3l.5-62.3v67.3l.5-89.4v99.6l.5-82.2v71.3l.5-76.1v67.5l.5-54v59.8l.5-66.9v80.8l.5-87.4v66.2l.5-51.4v58.7l.5-70.9v74l.5-62.7v76.8l.5-84.3v82.6l.5-75.4v55.3l.5-52.5v89.1l.5-93.4v47.5l.5-49.7v56.9l.5-87.5v152l.5-126.7v68.7l.5-88.5v87.7l.5-100.3v105.5l.5-75.4v86.5l.5-73.8v52.5l.5-51.9v68.7l.5-112.3v99.1l.5-56.9v60.3l.5-75.3v86.2l.5-77.6v78.8l.5-90.3v73.8l.5-58.9v59l.5-73.8v79.4l.5-59v77.2l.5-81.3v58.9l.5-63v63.3l.5-88v93.2l.5-74.2v69.3l.5-62.5v67.5l.5-75.9v83.2l.5-73.2v54.8l.5-60.6v67.4l.5-66.8v76.7l.5-76v70.7l.5-63.8v57.5l.5-77.5v75.7l.5-53.3v57.7l.5-59.3v55l.5-66.4v67l.5-74.7v86.6l.5-69.2v59.6l.5-73.1v80.8l.5-81.4v80.1l.5-64.4v56.8l.5-99.2v105.8l.5-60.9v77.5l.5-90.3v69.2l.5-64.3v70.6l.5-92.2v93.5l.5-65.4v59.2l.5-73.3v68.6l.5-51.6v61l.5-77.3v62.3l.5-58.4v70l.5-59v51.5l.5-50.3v75.4l.5-83.2v107.1l.5-101.6v53.8l.5-57v72.9l.5-66.9v47.4l.5-55.3v66.3l.5-69.6v84.8l.5-84.4v68.7l.5-69.9v72.1l.5-106.2v140.1l.5-98.4v103.1l.5-147.1v94.9l.5-61.1v81l.5-79.1v107.4l.5-100.6v61.3l.5-80.4v100.3l.5-119.8v141l.5-116.6v78.6l.5-85.4v88.5l.5-80.3v94.6l.5-113v97l.5-84.4v100.9l.5-105.6v111.3l.5-124.4v115.5l.5-104.7v105.4l.5-109.9v90.9l.5-61.3v61.9l.5-61.1v52.9l.5-78.5v111.7l.5-100.9v85.9l.5-60v61.7l.5-88.4v78.9l.5-80.8v86.1l.5-71.6v89.3l.5-85.4v70.9l.5-104.5v134.8l.5-129.8v81l.5-67.9v110l.5-94.5v69.7l.5-73.1v53.7l.5-73.3v92l.5-68.3v55.4l.5-55.4v87.4l.5-93.7v59.4l.5-67.9v81.1l.5-78.4v72.9l.5-83.5v78.3l.5-80.6v75.1l.5-76.8v90.8l.5-74.5v86.8l.5-76.9v62.8l.5-91.8v83.6l.5-83.5v93.1l.5-74.4v75.7l.5-108.2v99.1l.5-57v98.5l.5-107.3v73.3l.5-68.3v114.5l.5-107.8v79.6l.5-78.4v61l.5-68.1v77.1l.5-76.1v57.8l.5-56.7v70.3l.5-61.8v57l.5-67.8v70l.5-86.9v88.6l.5-71.7v71.7l.5-84.6v79.5l.5-61.4v74.2l.5-71.6v65.2l.5-76.3v77.6l.5-77.4v65.3l.5-66.2v87.2l.5-82.4v62.1l.5-59.2v67.4l.5-66.6v60.1l.5-59.8v74.9l.5-101.2v95.6l.5-77.5v90.6l.5-119.9v97.5l.5-79.6v93.2l.5-93.9v88.6l.5-66.8v52.2l.5-56.7v57.2l.5-90.9v90.4l.5-57.2v64.3l.5-70.7v77l.5-94.9v117.3l.5-104.8v70l.5-53.3v64.5l.5-66.8v110.3l.5-114.3v63.7l.5-47.9v68l.5-124.4v126.4l.5-99.4v100.8l.5-81.9v76l.5-84.3v64.4l.5-57.2v61.1l.5-86.6v85.1l.5-65.4v75.7l.5-77v63.9l.5-76.1v105.1l.5-94.2v76.9l.5-87.2v109.9l.5-104.6v129.9l.5-157.9v100.2l.5-60.6v52.2l.5-72.4v86.6l.5-86.3v121.1l.5-140.4v97.2l.5-60.3v83.9l.5-119.1v105.2l.5-61.4v62.1l.5-67.6v58.3l.5-60.7v71.5l.5-85.6v87.6l.5-69.4v69.9l.5-113.6v99l.5-65.3v75.2l.5-69.1v64.2l.5-70.3v110.5l.5-108v64.8l.5-63.2v82.4l.5-75.7v48l.5-56.8v72.3l.5-79.4v59.2l.5-66.8v82.4l.5-71.9v72.3l.5-78.1v76.9l.5-90.4v73.2l.5-77.9v143.6l.5-129.4v79.5l.5-78.8v68l.5-71.7v96l.5-75.2v77.6l.5-84.7v71.3l.5-94.5v124.2l.5-120.6v93.3l.5-85.5v78.6l.5-79.1v99.8l.5-82.5v57.4l.5-53.9v58.8l.5-63.3v84.1l.5-81.4v56.8l.5-48.1v52.3l.5-88.2v99.3l.5-95.5v123.9l.5-126.3v74l.5-88.3v130l.5-98.8v65l.5-66.9v71.6l.5-52.1v59.1l.5-70.8v86.4l.5-137.5v105.2l.5-56.6v71l.5-98.6v91l.5-100.5v120.2l.5-91.8v97.7l.5-76.4v63.9l.5-81.8v69.4l.5-82.5v87l.5-73.4v64.4l.5-65.2v105.1l.5-98.7v92.1l.5-107.3v79.8l.5-105.5v97.4l.5-67.8v82.3l.5-70.5v83.6l.5-79.6v57.9l.5-68.1v65.4l.5-90.3v91.6l.5-60.8v59.1l.5-98.3v97.1l.5-97.8v142.6l.5-112.5v77.1l.5-81v80.1l.5-75.6v74.6l.5-85.7v74.7l.5-55.7v77.4l.5-106.6v94.1l.5-60.8v60.9l.5-77.7v117.7l.5-135.5v99l.5-64.4v68.8l.5-69.6v96.3l.5-124.2v128.9l.5-137.4v93l.5-53v74.5l.5-81.4v96.5l.5-112v118.9l.5-96.4v51l.5-61.3v68.4l.5-65.6v66.3l.5-59.7v59l.5-67v80.1l.5-77.8v70.4l.5-88v75.1l.5-56.1v72.7l.5-68.6v70.1l.5-72.9v63.6l.5-73.2v71.4l.5-77.9v96l.5-107.4v97.9l.5-74.4v67.9l.5-60v56.4l.5-60v64.5l.5-51.5v81.9l.5-111.1v77.6l.5-53v52l.5-69.2v77.1l.5-59.8v53l.5-64.8v65.3l.5-56.4v50.2l.5-48.7v52.2l.5-74.5v86.4l.5-72.8v74.6l.5-80.3v107.8l.5-97.6v61.2l.5-58v58.8l.5-68.2v58.5l.5-52.5v77.8l.5-81.1v59l.5-62.4v64.4l.5-55.9v60.3l.5-58.6v52.6l.5-53.7v64.7l.5-68.9v58.5l.5-68.2v80.7l.5-92.4v81.8l.5-80.5v104.9l.5-90.8v87.2l.5-76v58l.5-62.3v65.8l.5-63.9v54.3l.5-66v65.7l.5-73.5v92.3l.5-81.4v63.8l.5-44.8v57.4l.5-69.4v75.5l.5-66.6v49.8l.5-52.3v72.5l.5-113v106.9l.5-71.2v52.7l.5-75.6v107.8l.5-80.2v81.3l.5-89.3v59.6l.5-67.3v72l.5-52.5v54.9l.5-59.5v55.9l.5-55.8v54.4l.5-55.8v54.8l.5-73.6v76.6l.5-86.6v91.5l.5-68.1v65.3l.5-60.7v57.9l.5-53v56.3l.5-65.8v53.1l.5-62.3v118.4l.5-126.3v75.1l.5-46.3v81l.5-99.6v75.1l.5-77.4v122.5l.5-110.1v62.6l.5-65.1v65.8l.5-79.8v86.1l.5-77.2v95.6l.5-107.3v84.7l.5-70v68l.5-66.9v68.2l.5-109.7v110.2l.5-64.8v55l.5-56.9v62.2l.5-80.1v82.2l.5-66.8v68.7l.5-64.9v73.6l.5-70.6v56.1l.5-60v87.2l.5-123.8v97.5l.5-56.6v70.2l.5-95.9v76.4l.5-60v65.4l.5-77v71.4l.5-74.4v98.1l.5-71.7v87.1l.5-94.3v98l.5-135.5v108.4l.5-93.8v85.2l.5-57.8v57.3l.5-70.5v75.8l.5-73.8v59.4l.5-71.7v115.8l.5-96.8v78.3l.5-121.3v105l.5-74.3v66.3l.5-77v92.5l.5-82.3v78.6l.5-77.2v70.5l.5-63.9v110.4l.5-138.6v93l.5-63.8v90.6l.5-89.5v106.4l.5-100.3v55.8l.5-90.1v119.2l.5-131.9v140.9l.5-118.6v107.9l.5-114.1v96.7l.5-108.3v104.4l.5-61.2v63.3l.5-69.9v59.5l.5-67.9v59.9l.5-68.3v72.7l.5-74v88.6l.5-66.3v64.3l.5-59.9v53.8l.5-69.9v64.5l.5-60.6v61.8l.5-54.4v69.2l.5-72.7v61.4l.5-103.9v126.4l.5-92.4v76l.5-110.4v105.1l.5-54.9v69.8l.5-70.2v64.6l.5-66.6v56.1l.5-74.5v73.7l.5-62.9v65.1l.5-88v106.1l.5-76.9v82.1l.5-97.2v77.9l.5-77.9v70.3l.5-86.9v85.9l.5-65.3v64.8l.5-96.6v130.4l.5-90.1v76.7l.5-75.6v71.4l.5-67.1v69.6l.5-75.6v66.5l.5-80.5v67.5l.5-56.5v95.7l.5-115.7v84.8l.5-58.1v50.5l.5-68v98.4l.5-89.9v83.5l.5-72.2v52.6l.5-75.2v104.8l.5-87v86.6l.5-88.2v66.6l.5-57v50.2l.5-56.4v76.5l.5-81.6v67.5l.5-60.8v84.6l.5-87.4v63.3l.5-62.7v60.2l.5-80.6v110l.5-91.3v71.1l.5-78.4v83.2l.5-72.2v79l.5-95.8v70l.5-54.6v59.5l.5-80.5v77.8l.5-75.6v89.8l.5-77.1v88l.5-90.4v78l.5-63v97.1l.5-113.4v80.5l.5-68.1v61l.5-69.8v70.1l.5-66v72.7l.5-109.3v100.7l.5-67.9v66.4l.5-65.2v60.7l.5-67.5v77.1l.5-124.1v167.3l.5-121.8v102.2l.5-100.8v96.7l.5-89.6v60.8l.5-67.1v73.5l.5-94.4v91.3l.5-75.4v91.6l.5-81.5v63.1l.5-54.3v61.1l.5-77.9v81.6l.5-71.4v75.3l.5-71.4v61.8l.5-72.9v87.2l.5-83.2v113.9l.5-126.9v77.3l.5-60.1v73.5l.5-89.5v69.8l.5-53.1v133.7l.5-151.4v84.2l.5-72v64.2l.5-61.3v78.1l.5-111.8v105.3l.5-79.9v83.8l.5-82v82.9l.5-76.9v69.7l.5-58.5v81.3l.5-87.7v62.6l.5-65.9v60.8l.5-71.7v77.5l.5-71.4v60.1l.5-62.7v76.2l.5-65.6v104.5l.5-102.3v42.6l.5-50.5v78.4l.5-70.3v78.6l.5-95v79.2l.5-70.6v72.2l.5-62.3v52.5l.5-50.7v84.6l.5-107.6v71.9l.5-43.9v47l.5-52.9v64.7l.5-104.1v134.9l.5-98.7v63.8l.5-65.5v85.6l.5-94v71.3l.5-78.4v87.6l.5-70v89.8l.5-100.7v59l.5-47.2v67.1l.5-73.9v72.9l.5-71.4v72.7l.5-74.8v62l.5-54.8v94.7l.5-110.8v86.8l.5-101.3v88.8l.5-101.6v123.1l.5-91.1v113.7l.5-109.8v58.9l.5-67v74.7l.5-79.5v80l.5-68.7v75.8l.5-67.7v63l.5-78.8v74.2l.5-73.7v76.7l.5-72.3v79.3l.5-85.8v85.4l.5-103.4v97.4l.5-69.4v121.1l.5-130.9v93.4l.5-82.5v111.1l.5-120.7v105l.5-88v80.9l.5-101.1v72.1l.5-64.2v112.4l.5-113.6v75.6l.5-84.5v96.6l.5-81.5v83.8l.5-87.2v67.2l.5-74.3v73l.5-74.2v85.1l.5-76.1v85.2l.5-83.6v96.8l.5-115.2v74l.5-72.9v113.7l.5-103.5v75l.5-63.1v67.7l.5-73.3v78.6l.5-77.8v96.9l.5-89.4v54.1l.5-69.1v74l.5-56.7v60.9l.5-107.2v124l.5-93.8v92.3l.5-90.4v90.8l.5-106.9v85.3l.5-104.4v125.7l.5-92.9v79.8l.5-72.8v72l.5-86.1v83l.5-74.6v59.7l.5-52.6v87.3l.5-80.8v76.6l.5-91.3v86.5l.5-86.9v92.8l.5-92.6v88.7l.5-99.2v137.2l.5-113.9v63.1l.5-76.1v74.2l.5-87.8v88.4l.5-75.2v72.5l.5-106.5v103l.5-62.6v75.8l.5-69.3v74.1l.5-79.5v66.8l.5-92.4v101l.5-91.1v83.3l.5-89.4v81.8l.5-65.6v93.1l.5-79.8v99.9l.5-106v70.4l.5-107.5v102.1l.5-70.7v82.5l.5-73v56.7l.5-60.7v70.7l.5-72.5v58.9l.5-44.6v46.5l.5-93.9v149.7l.5-111.2v86.6l.5-139.1v114.1l.5-72.6v89.2l.5-79.4v76.2l.5-71.3v59.8l.5-104.5v101.3l.5-105.5v102l.5-67v63.1l.5-78.4v88.3l.5-62.6v67.2l.5-78.8v67.2l.5-63v64.4l.5-58.3v84.8l.5-106.6v120.5l.5-118.9v75l.5-69.2v98.7l.5-100.4v98.2l.5-99.5v73.5l.5-62.1v70.3l.5-61.4v48l.5-63.5v75.1l.5-67.7v67.8l.5-60.9v54.7l.5-73.4v82.2l.5-76.6v89.7l.5-90.1v92.2l.5-81.5v62.7l.5-76.1v72.4l.5-92.3v94.1l.5-62.1v59l.5-66.5v77.6l.5-67v48.2l.5-53.3v85.4l.5-99.5v84.7l.5-65.8v50.6l.5-63.8v82.6l.5-66.5v54.4l.5-63.2v72.6l.5-79.2v68.8l.5-68.4v77.4l.5-62.5v77.6l.5-125v100.5l.5-65.8v82.6l.5-76.9v131.9l.5-118.8v64.9l.5-92.3v104.8l.5-90v70.9l.5-107.7v103.7l.5-86.7v106.8l.5-81.4v89.8l.5-103.1v95.7l.5-87.4v68.7l.5-61.3v51.2l.5-100.2v107.8l.5-76.1v115.1l.5-102v75.3l.5-78.6v57l.5-53.5v70.3l.5-68.8v57.9l.5-63.1v136.1l.5-132.1v80.8l.5-84.4v63.4l.5-73.2v83.5l.5-81.1v68l.5-68.1v83.3l.5-77v77.3l.5-106.4v89.2l.5-48.7v51.2l.5-85v91.3l.5-78.8v91.4l.5-100.1v99.7l.5-104.4v112.7l.5-100.5v90.1l.5-91.3v83.1l.5-66.8v70.6l.5-93.4v124.8l.5-95.4v53.1l.5-54.6v82l.5-87.5v62.1l.5-64.1v66.7l.5-83.5v71l.5-76.8v73.8l.5-63.2v86l.5-74.7v68.7l.5-61.5v72.2l.5-72.2v60.6l.5-66.5v56.3l.5-54.4v94.7l.5-116.4v70.4l.5-55.5v59.6l.5-51.1v51.7l.5-61.3v81l.5-82.5v75.1l.5-65.5v94l.5-89.5v56.2l.5-61v75.6l.5-79.9v66.8l.5-55.3v63.9l.5-80.8v73.3l.5-64.4v57.6l.5-60.7v76.6l.5-101.8v84.3l.5-50.1v69.5l.5-84v91.8l.5-98.6v72.2l.5-81.8v108.7l.5-92.3v80.4l.5-82.5v61.3l.5-48.8v53l.5-53.5v59.1l.5-76.9v75.7l.5-61.3v54.5l.5-64.6v112l.5-101.1v69l.5-58.6v89.4l.5-112.8v74.4l.5-55.9v63.8l.5-81.3v81.4l.5-104.2v130.3l.5-95.8v90.8l.5-90.1v59.7l.5-74.6v71.8l.5-63.5v61.4l.5-48.5v59.9l.5-61v88.2l.5-110.2v114.2l.5-107.1v74.1l.5-77.1v72.5l.5-73v107.3l.5-122.5v88l.5-66.6v70.5l.5-71.3v70.3l.5-51.9v66l.5-74.3v60.6l.5-61.9v63l.5-58.7v47l.5-96.4v107.9l.5-92.4v80.3l.5-68.9v101.6l.5-77.1v47.3l.5-54.7v86.5l.5-76.6v49.3l.5-54.2v58l.5-83.2v119.1l.5-102.8v67.5l.5-60.1v64.5l.5-88.6v88.7l.5-66.5v69.6l.5-66.8v64.1l.5-78.5v58.2l.5-49.4v67l.5-67v65.9l.5-63.9v84.1l.5-96.8v76.5l.5-64v56.5l.5-53.4v55.8l.5-71.1v91.7l.5-76v60.2l.5-63.8v58.8l.5-94.3v94.1l.5-83.7v119.2l.5-108.7v78.4l.5-65.4v57l.5-61v75.8l.5-62.8v51.2l.5-59v69l.5-60.6v79.5l.5-128.7v118.7l.5-71.5v76.4l.5-98.1v71.5l.5-47.4v51.3l.5-65.3v61.9l.5-70.9v88.6l.5-70.9v73.5l.5-86.8v72.8l.5-70.6v79.7l.5-69.5v70.7l.5-91.8v80.3l.5-56v64.4l.5-79.9v68.4l.5-54.8v57l.5-78.2v82.1l.5-60.7v70.6l.5-83.2v67l.5-66.6v95.3l.5-94.8v75.2l.5-67.4v72.2l.5-80.1v70.9l.5-73.6v95.7l.5-98v105.4l.5-99.9v65.3l.5-65.7v73.7l.5-65.1v93.7l.5-100.9v118.2l.5-106.5v65.3l.5-66.2v60l.5-75.4v82l.5-71.8v62.5l.5-68.5v70.7l.5-61v80.5l.5-80.2v87.4l.5-90.1v58.4l.5-107.1v162.7l.5-108.4v56.7l.5-77.2v108.4l.5-90.3v59.5l.5-62.7v72.6l.5-88.9v91.7l.5-99.2v81l.5-62.2v70.1l.5-59.4v61l.5-64.4v90.2l.5-83.8v58l.5-106.9v141.2l.5-128.1v99.3l.5-81.4v88.9l.5-90.4v71.1l.5-75.3v102.5l.5-96.3v90.3l.5-111.1v84.3l.5-74.7v102.2l.5-83.3v74.8l.5-110.5v128.8l.5-92.2v58.9l.5-56v58.8l.5-69.3v77.4l.5-63.5v69.4l.5-81.5v59.6l.5-50.6v47l.5-49.7v66.6l.5-79.1v80.9l.5-94.3v86.6l.5-67.7v68.2l.5-58.3v63.3l.5-59.5v50.5l.5-60.8v66.1l.5-61.4v92.5l.5-93.5v66.5l.5-83.3v91.6l.5-77.7v69.4l.5-99.2v113l.5-75.6v85.5l.5-95.2v59l.5-47.4v48.7l.5-56.7v56.5l.5-63.3v79.8l.5-68.5v73.1l.5-70v69l.5-70.2v50l.5-96.1v115.4l.5-68.5v76.5l.5-89.9v73.7l.5-87.5v76.3l.5-94.4v116.7l.5-83.8v68.3l.5-57.2v65.4l.5-75.4v62.6l.5-65.6v79l.5-74v63.5l.5-60.9v62.5l.5-59.7v63.2l.5-102.6v107.6l.5-78.8v72.9l.5-91v109.7l.5-82.8v62.7l.5-72.8v77.3l.5-68.7v60l.5-76.8v71.2l.5-84.4v96.3l.5-68.5v101.3l.5-103.3v105.4l.5-118.5v75.6l.5-68.9v86l.5-80.7v101l.5-102.1v96.6l.5-108.3v81.9l.5-69.8v61.9l.5-54.7v86.3l.5-91.9v67l.5-77v115.8l.5-101.6v106.1l.5-126.1v91.2l.5-71.4v110.1l.5-125.6v131.1l.5-120.7v92.3l.5-87v62.9l.5-67.9v98.1l.5-92.4v77.5l.5-83.2v68.4l.5-62.2v71.9l.5-97.2v102.1l.5-87.3v78.5l.5-66.9v70l.5-67.2v59.9l.5-64.2v112.6l.5-132.3v109.6l.5-88.4v63.6l.5-67.8v61.1l.5-81.5v94.4l.5-71.8v70.3l.5-61v54.3l.5-59.8v89.3l.5-106.3v88l.5-85.6v76.7l.5-74.2v87.5l.5-86.8v78.7l.5-73.2v100l.5-101.7v121l.5-131.2v99.3l.5-82.7v89.7l.5-123.6v101.4l.5-69.6v91.9l.5-89.4v74.3l.5-79.4v82.8l.5-71v58.9l.5-85.8v87.1l.5-79.2v83.3l.5-72.9v70.5l.5-76.7v71.1l.5-75.2v80.3l.5-64.4v69.1l.5-88.2v114.3l.5-102.2v106.4l.5-98.4v60l.5-61.4v97.1l.5-112v75l.5-79.7v94.6l.5-96.6v90.8l.5-72.6v63.7l.5-74v81.1l.5-70.5v72.5l.5-75.4v67.6l.5-85.7v123.6l.5-102.4v80.5l.5-76.8v50.1l.5-67v66.8" stroke="#f00" stroke-width="0.85"/>
<path d="M198 93.4V101.3M198.5 60V106.1M199.5 95.6V117.7M199.5 157.7V197.7M200 150.9V196.2M200.5 149V177.6M201 98V106.7M201.5 162.8V192.5M202 80.9V103.1M202.5 103.5V120.6M204 91.9V108.6M204.5 159.8V185.6M205.5 41.7V100.4M206.5 148.9V179M207 154.4V237.5M207.5 67.7V113.4M208.5 156.1V195.1M209 165.8V195M211.5 94V110.3M213.5 71.2V109.2M215 85.8V111.7M215.5 151.2V237.5M216 105V118.8M218 169.3V170.9M219 90V118.3M219 149.8V195.3M219.5 151.6V174M221 169.9V185.7M221.5 154.4V165M222.5 152.7V172M223 155.1V223M224.5 151.6V236.7M225.5 152.8V167.5M226 100.1V105.5M227 149.7V174.2M228 153.6V155.1M229.5 101.3V104.1M230.5 153.7V201.4M231.5 67.4V99.6M231.5 153.2V184.3M233 165.1V166M233.5 155.6V214.3M235 164.3V234.5M236 160.4V170.2M236.5 165.6V181.1M237 107.6V115.8M237 168.7V186.1M237.5 156.5V237.5M238 63.3V114.7M238 168.3V207.3M238.5 72.3V116.3M238.5 151.6V184.1M239 79.1V111.9M239.5 150.9V177.4M240 166V195.1M240.5 91.9V114.1M241.5 150.3V207.3M242 166.3V194.5M244 167.2V178.8M245 114.3V120.4M245 153.4V178.1M245.5 89.9V106.9M246 150.7V169.6M247.5 152.2V172.4M248 163.9V210.9M249 55.9V103.9M250.5 93.9V114.3M252 45.6V111.9M253 85.2V118.3M254 157.1V187.2M254.5 85.9V103.7M255 170.1V202.8M256.5 164.7V225.2M257.5 153.9V184.9M258 162.2V237.5M259 111.5V115.3M259.5 150.5V170.1M260 161.3V180.5M261 106.4V120.4M261 165.6V191M261.5 162.3V179.4M262 79.8V113.8M262.5 164V237.5M264.5 149.5V155.8M265 162.1V196.7M265.5 61V101.9M267.5 104.3V117.2M269 157.9V202.9M269.5 160.1V193.2M271 109.8V109.9M276 42.7V114.1M276 162.4V195.6M276.5 151V184.3M277 69.7V109.6M280.5 149V161.7M281.5 107.6V114.8M285 92.1V113.8M285.5 163.9V168.9M286 94.3V114.1M287 31.7V111.3M287 169.5V178.2M287.5 109.7V113.8M287.5 151.3V206.8M288 77.4V116.5M291.5 85.1V114.9M292 161.4V236.4M292.5 87.1V112.1M292.5 151.2V170.2M293.5 162.5V175.5M294.5 104.4V115.8M295 159.4V237.5M295.5 118.1V119.8M297 165.2V205.2M298.5 150.2V158.6M299 165V212.2M300 62.1V103.2M302.5 151.6V179.9M303.5 92V100M305.5 70.5V114.7M305.5 169.5V194.6M306.5 154.4V170.3M307.5 38.7V106.7M307.5 164.9V234.8M308.5 98V117.6M310 99.2V104.8M310.5 157.3V171.4M311 162V215M311.5 95.4V115.8M312.5 87.2V100.1M313 45.8V111.9M313.5 162.8V175.7M315 99.1V117.9M317 165V237.5M318.5 89.9V111M318.5 165.9V188.4M319.5 107.9V119.7M319.5 167V211.5M320 149.7V172.6M320.5 163V196.4M321 165V174.8M321.5 97.6V120.5M321.5 165.8V182.8M322 158V198M323.5 92.8V116M324 152.9V159M324.5 57.8V118.1M328 67.1V110.8M328 158.1V174.4M328.5 84.7V99.4M328.5 162.8V191.7M329.5 163.1V232M330 161.8V196.7M330.5 84.8V103.5M332 168.7V186.1M333 80.2V107.8M333.5 158.4V171.9M335 62.1V105.2M335 165.1V167.9M336.5 156.8V161.3M337 153.7V180.9M337.5 161.2V192.2M339.5 81V108.3M340.5 99V106.3M341.5 99.8V120.4M341.5 150V192.3M343 161.8V177.1M343.5 165.6V184.3M344 107.7V108.9M344.5 158.6V178.5M346 37V108.2M346 161.4V196.9M347.5 60.7V101.5M348 157.3V193.2M349 104.6V106M350.5 149.9V179.6M351 85V117.5M351 152.8V190.4M352 163V170.4M352.5 167.3V237.5M353 74.9V109.9M353.5 64.8V117.6M353.5 168.4V186.9M354.5 102.1V111.7M355 74.7V117.8M355.5 97.3V110.7M356 64.8V104M357 152.4V174.4M358 85.7V110.6M358 148.7V187M359.5 166V192.9M360 149.3V225.5M361.5 155.4V189.4M362 76.2V108.2M362 165.7V167.1M363.5 52.1V101.1M364 85.8V115.7M364 163.1V237.5M364.5 163.8V237.5M365 57V99.4M365.5 96.5V106.1M366 112.6V113.5M367.5 153.5V179M368 34.1V111M368 169.4V183.8M368.5 168.6V184.4M369 150.2V186.4M369.5 166.4V186.2M370 158.4V201.2M370.5 98.2V116.9M370.5 163.8V200.4M371 101.3V103.1M371.5 148.8V182.5M372 164.6V207.1M373.5 65.8V118.2M374.5 92.4V100.3M375 158.6V158.8M376 90.6V104.5M376.5 95.5V102.5M377 156.5V164.1M378 100.5V111.1M378.5 155.4V191.5M379 91.6V104.1M379.5 111.3V120.3M381 62.2V117.3M381 162.7V205.7M381.5 79.8V101.1M382 100.3V110.7M382 151.3V237.5M382.5 103.8V117M382.5 169.4V221.9M383 100.1V110.9M383.5 86.7V113.6M385 100.9V119.5M387 46.7V117.1M388 150.3V228.1M389 90.7V99.3M389.5 92.8V107.7M391 78.8V101.9M391.5 156.9V169.2M392.5 96V117.1M392.5 152V162.9M393.5 71.6V118.8M393.5 151.3V184.2M395 87.1V99.4M395 151V168.9M395.5 79.3V112.6M396.5 158.2V197.9M397 151.8V178M397.5 152.6V182.1M398 155.1V172.7M398.5 115.1V116.1M400 162.7V165.2M400.5 95.4V106.4M400.5 148.7V177.6M402 167.5V191.1M403.5 169.6V199.5M404 150.9V198.9M404.5 92V116.5M405 82.4V107.8M406 55V109.5M406.5 98.4V101.7M406.5 148.7V185.4M408.5 169V186.5M409 79.7V120.1M409.5 100.2V102.6M410 80.8V118.8M414 35.5V99.5M414 148.9V181.6M414.5 82.5V106.7M415.5 101.3V116.3M416.5 79.9V109.9M418 31.7V99.2M418 153.2V160.3M420 43.1V99.1M420.5 155V165.2M421 105.4V108.3M421.5 151.4V184.6M422 165.1V187.6M423.5 165.3V184.3M424 152.8V176.6M425 91.5V111.6M425.5 95.5V111.2M425.5 159.4V176.7M426 90.4V106.4M426 159.5V237.5M426.5 59V107.7M426.5 153.9V182.1M427 153V154.1M428 52.5V109M428.5 103.5V112.6M428.5 162.8V237.5M429 80.5V112.3M429 165V177.3M429.5 84.9V114.4M430 107.2V108.9M430 152.4V194.4M430.5 153.9V228.2M431 59.3V105.3M431 151.3V180.6M433 166.1V227.5M434.5 95.6V119.2M434.5 149V219M438 153.6V161.5M438.5 165V219.2M440 49.8V118.7M440.5 41.2V101.5M441 154.6V180.6M441.5 163.2V223.5M442.5 92.6V104.6M442.5 163.6V237.5M443 167.2V193.9M443.5 66V112.6M444.5 166.8V233.7M446 57.7V111.9M446.5 49.3V114.7M446.5 166V193.9M447 154.6V195.4M447.5 161.4V189.1M448.5 93V109.4M449 98.4V119.3M449 149.4V233.7M451 149.9V234.7M451.5 159.1V237.5M452 68.1V111.6M452.5 159.3V179.6M453 94.1V108.7M453.5 101.1V111.1M454.5 108.6V120.2M454.5 169V199.1M455.5 99.4V117.3M456 101.6V110.4M457 100.6V108.8M458 88.9V110.9M458 165.3V212.4M458.5 163.5V215.1M459 99.7V109.7M460 94.7V104.7M461.5 50.6V118.7M462.5 60.4V112.3M463 161.1V216M464.5 155.7V188M465 71.8V105.1M465 153.6V183.4M465.5 95.9V105.8M465.5 156.6V192.8M466 54.4V101.4M466 164.4V172.3M466.5 149.2V223.5M467.5 151.3V164.9M469 158.1V180.2M469.5 157.8V194.9M470 167.5V196.8M470.5 163.2V179.9M475.5 73.6V120.1M475.5 154.2V173.3M477.5 52.9V118.4M478 152.3V170.6M479.5 108.7V116.8M481 95.4V119M481.5 59.1V104.7M482 86.3V100.8M482.5 164V205.4M483.5 165.9V174.4M484.5 163.2V170.3M486.5 82.3V106.8M487.5 162.3V198M488.5 93.9V105.4M488.5 165.6V237.5M489 76.7V120.2M490 103V120.7M491 158.6V196.1M491.5 161.5V218.6M492.5 158.3V176.2M493.5 100.4V113.6M494 159.2V197.6M494.5 158.4V237.5M496 55.4V112.6M496 169.1V237.5M496.5 107.7V116.5M496.5 151.3V155.9M497 164.1V237.5M498 105.3V115.3M498 164V175M498.5 96V99.3M499.5 78.6V117.7M500.5 51.6V112.3M500.5 165.5V172.8M501.5 164.8V173.3M502 148.9V161.8M502.5 101.4V107.4M503 160.2V180.1M503.5 165.4V167.8M504 68V104.3M505 85.8V102.6M506 88.5V104.3M507.5 100.4V110.3M508 93.5V112.3M508.5 154.3V224M509.5 73.4V117.9M509.5 168.4V198M510 156.8V168.1M510.5 39.6V111.5M512 152.6V181.9M513.5 167.6V194.8M514 33.5V103.3M514 167.1V234.6M516 98.7V112.6M516.5 81V116.9M518 95.8V112.8M518 157.9V206.2M519.5 154.3V155M520 94.4V116.5M520.5 31.7V116.5M521 167.1V209.1M522.5 160V237.5M523 163.4V201.4M523.5 152.9V208.3M524.5 163.4V237.5M525 165.5V203.4M525.5 92.3V103.7M525.5 168.7V203.8M527 93.6V101.7M529 161.8V170.2M530 159.2V172.1M530.5 168.7V200.8M531.5 91.1V102.3M532 89.3V115.5M533.5 104.8V115.6M533.5 162.1V202M536.5 158.7V167.3M537.5 169.3V177.7M538 81.7V104.4M538 150.6V200.2M539 119.3V120.6M539.5 148.6V177.6M540 155.2V216M540.5 164.2V186.2M541 161.9V163.9M542.5 103.5V120.1M542.5 154V222.1M543.5 162.2V195.3M545 61.9V103.9M545 153.8V208.9M546.5 91.4V118.7M547 93.8V108.4M548.5 89.1V119.2M549.5 33.4V117.9M549.5 170V181.1M550.5 31.7V112.7M551 60.7V118.7M551 158.7V224.6M551.5 165.2V195.3M552.5 100.2V105.1M555 163.3V180.3M555.5 164.3V221M556 169.5V176.3M556.5 164.5V197.2M557.5 101.7V104.1M559 89.4V101.7M559 167.3V197M559.5 164.2V200.4M560.5 148.8V223.8M561.5 148.8V218.4M562 44.8V114.1M562 159.3V194.1M563 87.7V112.9M563 151.1V173.7M563.5 157.2V237.5M566 107.9V114.1M567 166.3V236.8M568 86V115.2M568.5 74.8V112.9M572 102.3V120.4M572.5 148.6V198.8M573.5 155.2V174.8M574.5 163.1V180.4M575.5 73.4V105.7M576.5 77.7V108.9M577.5 61.1V117M581 162.6V167.1M581.5 84.1V113.2M581.5 156.7V215.8M582.5 101V109.7M582.5 158V162.1M586 103.5V104.2M588.5 162V197.6M589 165.3V199.2M590.5 75.6V104.7M591 77.5V115.8M591 169.3V237.5M591.5 102.4V109.1M591.5 151.7V187.5M592 98.2V112.1M592 156.3V208.9M595.5 89V100.4M596 160.4V188M598.5 167.1V191.8M599 88.4V117.7M599.5 159.5V161.5M600 105.8V107.3M601 157.5V196.5M601.5 114.3V117.2M601.5 162V233.6M602 154V221.5M603.5 100.6V110.4M604 112.1V115.6M605 165.5V198.2M606 154.6V202.8M607 73.6V110.5M607 160.3V208.3M608 102.8V117.7M610 113.2V113.4M610.5 156.9V234.8M612 95.9V112M613 83.3V120.1M614.5 160.5V183.8M616.5 161.8V177M617 154V227M618.5 161.1V200.8M619.5 162.1V173M622.5 108.6V108.7M622.5 149.1V176.3M623 96.6V99.5M624 162.8V233.8M625 159.6V172.1M625.5 102.1V120.3M626 77.7V100.2M626.5 148.8V224M627.5 78.8V102.2M627.5 159.8V223.8M628.5 159.4V168.3M629.5 164.8V201M630.5 112.3V115.1M630.5 160.3V192.5M631 154.6V166.1M632.5 159.9V173.2M633.5 157.8V168.2M634 107.1V108.2M634.5 160.9V202.4M635.5 154.2V177.4M636 160.8V182M636.5 168V180.6M637 103.4V108.3M637.5 45.7V102.3M638 54V110.3M638.5 51.3V111.2M638.5 150V167M639 169.1V237.5M641.5 163.6V237.5M642 157.9V231.5M643 109.6V109.9M643.5 97.3V100M643.5 151.3V209.2M645 86.2V112.7M645 160.9V217M646 163.2V177.5M647.5 70.6V100.9M648.5 57.5V104.5M649 47.3V120.7M649 163.8V237.5M650 42.6V99.9M650.5 111.2V119.4M651.5 102.9V119.6M651.5 167.3V178.9M652 155.1V175.5M654 169.1V175.2M655.5 110V110.2M655.5 152V152.5M656.5 167.9V229.3M657.5 107.7V118.9M657.5 154.2V181.3M659 149.2V196.9M660 157.9V191.8M660.5 88.5V120.7M661 169.9V177.8M661.5 168.6V183.2M662 91V117.4M664 160V174.1M664.5 151.4V192.6M665 43.3V110.5M665 157.6V212.3M666 73.3V118.1M666.5 163.6V237.5M667 160.8V194.1M668.5 168.9V190.7M669 102V109.6M669 153V176.3M670.5 81V107.6M671 66.7V104.3M671.5 49.9V119.9M672 157V178M672.5 165.5V179.7M673 94.4V108.6M673 163.9V173M673.5 42V105.5M674 166.5V237.5M674.5 167.3V183.4M675 80.2V112.4M675 165.2V183.1M676 69.3V105.2M676 157.3V167.9M676.5 94.7V106.3M677.5 157.9V189.7M678 149.8V201.1M678.5 63.2V114.7M678.5 152V197.6M680.5 152.6V187.4M681.5 79.9V112.7M682.5 167.3V202.2M683 165.1V178.6M684.5 159.3V170.1M687 101.8V120.6M687.5 31.7V103.2M688.5 161.3V198.6M689 168.5V207.8M689.5 87V106.8M690 160.6V175.9M692 97.4V112.2M692 169.3V181.9M693.5 158.8V198.8M695 77.1V110.2M695.5 153.9V172.5M696 156.4V216M698 166.1V195.8M698.5 152.9V181.1M699.5 167.8V171M700 101.4V116.2M700.5 159.5V186.5M701.5 151.9V218M702 103.3V110.6M702.5 150.9V237.5M703.5 152.6V211.7M704.5 104.9V110M705 157.1V210M706.5 89.8V118.7M706.5 156.4V180.8M708 90.4V112.8M708.5 92.9V118.3M708.5 148.6V179.8M709 68.4V118.8M709 157.3V225.8M710 166.3V175.7M711 169.4V190.2M711.5 165.2V201M712 162.1V176.2M713 159.4V190.3M713.5 52.7V100.3M713.5 149.1V195.6M714.5 85.4V100.7M714.5 153.6V237.5M717 86.1V112.3M717 152.4V167.9M717.5 166.3V172.9M718.5 166.2V185.7M719 108.7V112.4M722 150.7V182.8M723.5 99.4V108.8M725 158.6V169.6M726 162.4V166M726.5 161.6V237.5M727.5 157.6V237.5M728.5 160V190.4M730.5 158.4V170.5M731.5 167.6V237.5M733 95.6V112.9M733 165.1V230.1M733.5 36.9V119.3M734.5 44.5V118M735 162V176.3M735.5 149V193.6M736.5 159.7V183.3M738.5 106V108.9M740 70V111.1M741 150.6V152.3M743 72.9V100.3M743 160.6V173.5M743.5 72.9V101.6M746 31.7V106.3M747 149.6V184.8M748.5 86.9V104.6M748.5 162V164.3M749 86.7V101.4M749 156.5V237.5M751 153.5V172.9M752 159.3V189.5M752.5 161V208.8M753 84.2V115M754 164.8V207.9M755 155.2V191M755.5 91V118.4M755.5 149.7V177.7M756.5 72V115.4M756.5 149.2V221M757.5 100.1V110.6M758.5 160.3V168.9M759 155.8V221.6M759.5 161.1V171.7M761 103.6V104M762.5 163.7V182.7M763 77.6V117.8M764 150.5V191.5M764.5 154.5V181.7M765 51.8V114.3M766 106.1V107M766.5 108.4V108.9M766.5 150.3V166.2M767 117.4V120.6M767.5 166.2V237.5M769.5 151.9V188.7M770 150.7V237.5M770.5 59.6V103.3M771.5 153.4V237.5M772.5 152.8V184.3M773.5 152.5V160M774.5 149.9V166.1M776 31.7V109.2M776.5 148.7V231M777 97.4V104M777.5 107.7V113.5M778.5 167.3V177.3M779.5 163.2V181.8M781.5 164.3V165.3M782 31.7V120M782 153.6V169.5M782.5 81.9V101.6M783.5 159.2V206M785 152.3V179.5M785.5 156.2V197.9M787 80.5V102.3M787 150.3V171.9M787.5 41.7V102.7M788 112.2V119.3M789 156.4V173.4M792.5 101.3V112.6M793 31.7V104.1M793.5 33.5V102.8M793.5 155.5V199.7M794 166.8V172M795.5 57.8V110.5M796 168V170.4M796.5 155.1V191.9M797 84.3V110.5M797.5 102.7V116.2M798 74.8V113.3M798.5 98.1V117.3M798.5 156.8V176.1M799.5 71.6V116.6M800 161.2V188.6M800.5 159V197.2M802 162.8V183.8M802.5 150.2V180.8M804 104V107.1M805 83.7V116.2M805.5 149.7V235.6M807 86.4V112.1M807.5 99.7V101.4M809.5 152.1V207.3M810 158.5V183.3M810.5 102V106.3M811 72.8V119" stroke="#000" stroke-width="0.7" stroke-opacity="0.65"/>
</g>
<rect x="197.0" y="31.7" width="614.1" height="205.8" fill="none" stroke="#2a2a2a" stroke-width="1.3"/>
<text class="pl" transform="translate(8.0 40.7) scale(0.975 1)">A</text>
<text class="tk" text-anchor="end" transform="translate(191.5 46.7) scale(0.86 1)">0.08</text>
<text class="tk" text-anchor="end" transform="translate(191.5 98.2) scale(0.86 1)">0.04</text>
<text class="tk" text-anchor="end" transform="translate(191.5 149.6) scale(0.86 1)">0</text>
<text class="tk" text-anchor="end" transform="translate(191.5 201.1) scale(0.86 1)">0.04</text>
<text class="se" font-size="29.5" text-anchor="end" x="132.6" y="201.1">–</text>
<text class="tk" text-anchor="end" transform="translate(191.5 252.5) scale(0.86 1)">0.08</text>
<text class="se" font-size="29.5" text-anchor="end" x="132.6" y="252.5">–</text>
<text class="tk" text-anchor="middle" transform="translate(204.5 277.0) scale(0.86 1)">5</text>
<text class="tk" text-anchor="middle" transform="translate(265.8 277.0) scale(0.86 1)">8</text>
<text class="tk" text-anchor="middle" transform="translate(327.1 277.0) scale(0.86 1)">11</text>
<text class="tk" text-anchor="middle" transform="translate(388.4 277.0) scale(0.86 1)">14</text>
<text class="tk" text-anchor="middle" transform="translate(449.7 277.0) scale(0.86 1)">17</text>
<text class="tk" text-anchor="middle" transform="translate(510.9 277.0) scale(0.86 1)">20</text>
<text class="tk" text-anchor="middle" transform="translate(572.2 277.0) scale(0.86 1)">23</text>
<text class="tk" text-anchor="middle" transform="translate(633.5 277.0) scale(0.86 1)">26</text>
<text class="tk" text-anchor="middle" transform="translate(694.8 277.0) scale(0.86 1)">29</text>
<text class="tk" text-anchor="middle" transform="translate(756.1 277.0) scale(0.86 1)">32</text>
<text class="tk" text-anchor="middle" transform="translate(817.4 277.0) scale(0.86 1)">35</text>
<text class="se" font-size="46" transform="translate(90.5 347.5) rotate(-90) scale(0.966 1)">Acceleration <tspan font-size="49" dy="1">[</tspan><tspan dy="-1">m/s</tspan><tspan font-size="28" dy="-14.5">2</tspan><tspan font-size="49" dy="15.5">]</tspan></text>
<rect x="124.8" y="295.1" width="300.0" height="52.2" fill="#fff" stroke="#555" stroke-width="1.4"/>
<text class="se" font-weight="700" font-style="italic" font-size="58" transform="translate(132.6 334.5) scale(0.96 1)">a</text><text class="se" font-weight="700" font-style="italic" font-size="45" x="158.6" y="334.5">x</text><text class="se" font-weight="400" font-size="29" stroke="#000" stroke-width="0.6" x="180.6" y="334.5">1</text><text class="se" font-size="42.5" stroke="#000" stroke-width="0.4" x="194.8" y="334.0">*</text>
<path d="M206.5 327.1H260.2" stroke="#f00" stroke-width="5"/>
<text class="se" font-weight="700" font-style="italic" font-size="58" transform="translate(289.2 334.5) scale(0.96 1)">a</text><text class="se" font-weight="700" font-style="italic" font-size="45" x="314.2" y="334.5">y</text><text class="se" font-weight="400" font-size="29" stroke="#000" stroke-width="0.6" x="336.2" y="334.5">1</text><text class="se" font-size="42.5" stroke="#000" stroke-width="0.4" x="350.4" y="334.0">*</text>
<path d="M362.5 326.4H416.2" stroke="#000" stroke-width="5"/>
<text class="se" font-size="45" transform="translate(432.7 339.9) scale(0.982 1)">Time <tspan font-size="48.5" dy="0.6">[</tspan><tspan dy="-0.6">s</tspan><tspan font-size="48.5" dy="0.6">]</tspan></text>
</g>
<g id="panelB">
<path d="M1069.1 31.7V237.8M1130.9 31.7V237.8M1192.7 31.7V237.8M1254.5 31.7V237.8M1316.3 31.7V237.8M1378.2 31.7V237.8M1440.0 31.7V237.8M1501.8 31.7V237.8M1563.6 31.7V237.8M1007.3 83.2H1625.4M1007.3 134.8H1625.4M1007.3 186.3H1625.4" stroke="#c8c8c8" stroke-width="1" fill="none"/>
<clipPath id="cB"><rect x="1006.8" y="31.7" width="619.1" height="206.1"/></clipPath>
<g clip-path="url(#cB)" fill="none" stroke-linejoin="bevel">
<path d="M1007.3 103.6v75.9l.5-103.2v161.5l.5-149.3v128.5l.5-139.1v159.9l.5-148.4v89.7l.5-84.5v94.9l.5-108v117.8l.5-95.2v102.8l.5-115.2v128.7l.5-165.3v104.8l.5-84.4v155.4l.5-131.2v72.7l.5-73v116.5l.5-112.1v87.5l.5-84.8v62.1l.5-76.6v111.1l.5-89.8v70.4l.5-91.8v94.5l.5-119v107.4l.5-95v121.4l.5-120.3v128.3l.5-139.6v113.6l.5-128.9v115.5l.5-56.9v124.9l.5-137.9v123.6l.5-137.1v151.4l.5-187v173l.5-136.5v134.2l.5-140.2v156.5l.5-148v107.1l.5-89v75.4l.5-82.8v137.3l.5-131.8v86.6l.5-93v98.5l.5-105.8v145.5l.5-135.5v72l.5-81.3v136.6l.5-131.9v140.1l.5-146.2v146.2l.5-151.2v151.2l.5-134.2v74.4l.5-133v114.9l.5-66.4v121.5l.5-140.6v140.8l.5-113.2v110.7l.5-122.9v114l.5-95.8v62.8l.5-80v121.7l.5-129.7v155l.5-150.5v103.6l.5-93.5v107.2l.5-108.1v61.7l.5-74.8v151.9l.5-133.7v97.3l.5-88.6v102.9l.5-102.8v77l.5-82.5v100.2l.5-117.8v106.2l.5-88.8v127l.5-126.5v71.4l.5-79v113.4l.5-119.9v126.3l.5-115.9v65.6l.5-82v104.7l.5-109.3v97.9l.5-80.5v105.4l.5-99.1v133.6l.5-133v90.2l.5-103v118.1l.5-133.9v132.9l.5-115.1v99.4l.5-85.7v83.2l.5-99.1v105l.5-134v151l.5-100.7v99.2l.5-99.2v83.7l.5-118.7v159.7l.5-131.4v86.4l.5-114v112.5l.5-126.6v122.1l.5-74.1v58.1l.5-77.4v144.4l.5-140.4v62.3l.5-97.9v121l.5-81.3v91l.5-94.2v77.1l.5-68.5v71.2l.5-83.3v89.8l.5-85.6v90.1l.5-109.8v122.1l.5-108.9v95l.5-84.9v79l.5-102.8v120.7l.5-112.8v142.5l.5-172v114.8l.5-65.2v131l.5-120.9v54.1l.5-69.9v136.7l.5-154.5v95.5l.5-77.8v102l.5-106.8v141.6l.5-129.3v73l.5-88.3v100.3l.5-149.8v184.9l.5-145.2v154.4l.5-148.2v78l.5-56.2v107.3l.5-150.5v169.6l.5-139.5v82.7l.5-76.1v132.9l.5-141v81.7l.5-78.5v84.6l.5-96v149.2l.5-141.4v92.2l.5-85.9v112.7l.5-161.9v184.3l.5-144.3v70.2l.5-85.3v115.9l.5-119.1v162.6l.5-148.6v124.1l.5-117.3v107.6l.5-104.8v120.6l.5-141.8v153.6l.5-120.7v91l.5-94.5v130.8l.5-142v111.6l.5-115.1v145.5l.5-189.1v166.5l.5-114.3v80.2l.5-85.8v90.9l.5-77v128.1l.5-154.2v146.8l.5-147v104.2l.5-94.2v99.3l.5-88v77.2l.5-84.9v86.4l.5-73.2v128.1l.5-163.8v96.1l.5-101.8v137.1l.5-102v99.7l.5-97.5v108.9l.5-114.9v125.3l.5-131.2v119.1l.5-162.2v154.6l.5-108v95.8l.5-96v106.9l.5-119.5v153.4l.5-150.4v150.4l.5-153.5v117.6l.5-95.2v115.9l.5-139.3v146.5l.5-136.8v117.4l.5-118.6v146l.5-156v109l.5-91.9v97.8l.5-98.7v139.8l.5-161.7v147.9l.5-140v133l.5-119.4v91.9l.5-121.4v121l.5-105.8v78.9l.5-83.3v116.6l.5-106.6v110.2l.5-103.4v102.7l.5-94.3v63l.5-84.8v144l.5-144.3v87.9l.5-116.1v184l.5-147.6v101.4l.5-81v127.2l.5-134.8v134.8l.5-141.9v92.9l.5-96.9v145.7l.5-131v73l.5-95v123l.5-96.9v127.1l.5-135.2v78.3l.5-84.4v98.7l.5-114.6v152.5l.5-156.3v143.7l.5-134v91.3l.5-75.9v96l.5-106.1v127.1l.5-174.4v135.8l.5-95.9v94.6l.5-112.7v109.1l.5-62.4v87.5l.5-99.1v81.2l.5-72.3v79.3l.5-98.2v115.4l.5-117.9v118.2l.5-124.8v118.9l.5-143.3v134.6l.5-106.5v92.8l.5-97.1v107.3l.5-95.5v144.3l.5-128.4v118l.5-119.6v79.1l.5-90.9v141.8l.5-140.6v78.7l.5-81v92.8l.5-118.5v98.3l.5-70.9v141.2l.5-139.1v106.5l.5-99v77l.5-75.9v120.2l.5-154.4v100.5l.5-122.1v121.2l.5-58.3v78.6l.5-147.8v119.9l.5-63.2v118.3l.5-123.4v141l.5-139.2v85.7l.5-77.2v55.1l.5-83.5v104.5l.5-84.3v73.1l.5-61.6v127.4l.5-185.1v185.1l.5-176.6v118.2l.5-82.2v118.2l.5-110.1v132.5l.5-133.6v123.1l.5-128.4v85.3l.5-80.1v84.9l.5-87.7v114.3l.5-127.5v140.7l.5-132.8v91.3l.5-85.6v108.4l.5-110v137.7l.5-154v111.3l.5-84.9v100l.5-139.7v135.9l.5-100v78.5l.5-81.3v86.4l.5-119.4v89.1l.5-53.2v72.1l.5-82.9v130.3l.5-129.7v124.7l.5-116.2v54.9l.5-78.7v105.4l.5-96.9v148.3l.5-126.7v57.8l.5-68.5v86.1l.5-94.4v138.7l.5-136.9v110.8l.5-133v159.6l.5-167.6v174.1l.5-148.6v105.4l.5-101v85.3l.5-83v141.9l.5-142.9v96.7l.5-85.1v98.9l.5-117.1v109.4l.5-91.7v95.4l.5-98.6v106.1l.5-98.8v65.6l.5-69.6v131.6l.5-179.5v179.6l.5-126.6v51.1l.5-81v127.3l.5-135.4v124.8l.5-109.6v146.2l.5-159.3v104l.5-84.9v107.2l.5-117.2v91.4l.5-86.5v148.5l.5-148v107.9l.5-89.7v129.8l.5-131.2v58.7l.5-58.3v110.6l.5-125.8v146l.5-134.7v108.3l.5-111.2v125.6l.5-153.4v130.1l.5-98.8v74.1l.5-102.4v162.4l.5-140.1v79.5l.5-65.4v113.7l.5-122.6v134.9l.5-155v118.9l.5-125.9v162l.5-134.5v120.2l.5-125.4v93.1l.5-94.5v121.6l.5-124.4v110.7l.5-95.4v72l.5-109.9v146.3l.5-113.1v104.1l.5-105.8v135l.5-159.6v140.3l.5-110v76.9l.5-98.6v111.9l.5-92.3v116.2l.5-141.1v156.3l.5-157.1v117l.5-100.7v88.8l.5-89.3v141.3l.5-168v168l.5-151.2v73.3l.5-60.9v106.7l.5-105.7v88.3l.5-93.9v96.8l.5-107.3v102.7l.5-95.2v95.4l.5-103.9v91.2l.5-87.9v117.6l.5-160.8v181.8l.5-146.3v99.9l.5-110.7v170.1l.5-151.6v151.6l.5-181.5v140.5l.5-86.1v127.1l.5-137.5v111.6l.5-109.7v114.2l.5-126.9v103l.5-93.7v77.5l.5-130.9v184.3l.5-129.1v83.1l.5-111.8v95.8l.5-56.8v84.7l.5-110.4v95.8l.5-110.3v110.2l.5-76.9v131l.5-143.1v76.7l.5-72.4v132.9l.5-154.3v94.2l.5-58.5v86l.5-100.8v129.1l.5-127.4v63.9l.5-82.5v159l.5-138.2v91.5l.5-121.8v121.1l.5-99v84.7l.5-125.3v141.4l.5-98.6v108.6l.5-111.9v128.3l.5-114.3v71.1l.5-92.9v109.8l.5-89v134.5l.5-126.3v66.7l.5-77.2v107.9l.5-90.9v63.4l.5-117.9v129l.5-101v146.3l.5-128.7v69.3l.5-82.8v74.8l.5-66.2v104.9l.5-98.3v60.5l.5-78.6v111.1l.5-131.6v120.8l.5-102.4v100l.5-107.6v100l.5-104.9v144.3l.5-131.4v146.6l.5-157.6v157.8l.5-141.8v141.8l.5-173.6v104.2l.5-68.4v137.8l.5-164.1v152.7l.5-164.2v175.6l.5-143.5v143.5l.5-126.9v108.8l.5-131.9v150l.5-119.9v116.5l.5-132.7v89.6l.5-78.6v80.8l.5-97.9v131.5l.5-141.9v152.6l.5-134.8v134.8l.5-136.6v136.6l.5-136.9v136.9l.5-157.9v131.4l.5-125.9v122.4l.5-117.6v147.6l.5-162.4v162.4l.5-134.6v105.5l.5-96.4v123.1l.5-141.7v144.1l.5-144.8v115.4l.5-105.7v124.2l.5-113.9v124.8l.5-138.3v138.3l.5-148.6v144.2l.5-140.9v85.4l.5-88.6v82l.5-62.5v104.6l.5-101.3v121.9l.5-121.7v109.6l.5-138.3v108.7l.5-109.7v113.8l.5-102.9v128.4l.5-112.9v96.2l.5-93.2v125.8l.5-130.9v56l.5-65.1v140l.5-167.7v167.7l.5-130.9v130.9l.5-178.3v129.4l.5-78.2v92.7l.5-93v127.4l.5-130v115.7l.5-153.3v94.8l.5-56.3v117.2l.5-138.2v150.1l.5-156.1v125.8l.5-113.8v109.5l.5-107.4v142l.5-140.2v140.2l.5-152.8v104.5l.5-132.8v171l.5-136.7v77.5l.5-88.4v121.2l.5-115.9v111.3l.5-88.2v129.3l.5-144.5v144.5l.5-127.9v86.1l.5-105.7v108.2l.5-103.4v89l.5-95.1v148.8l.5-136.7v136.7l.5-150.1v88.4l.5-94v155.7l.5-161.5v121.7l.5-128.4v99.7l.5-78.1v83.7l.5-76.8v139.7l.5-144.7v144.7l.5-138.2v129.4l.5-128v136.8l.5-140.6v140.6l.5-139.1v134.9l.5-151.7v130.1l.5-111v119.1l.5-133.4v89.1l.5-105.8v92.5l.5-66.9v85.7l.5-97.1v99.7l.5-86.7v140.6l.5-139v108.2l.5-137v107.8l.5-105.6v165.6l.5-167.5v92.3l.5-95.9v123.5l.5-97.2v106.6l.5-115.1v153.3l.5-134.8v118.5l.5-130.4v102.4l.5-87.5v131.8l.5-155.9v103.1l.5-82.7v135.5l.5-131v80.7l.5-124.2v174.5l.5-154.1v154.1l.5-150.1v114.9l.5-104.6v109.6l.5-110.9v74.4l.5-60v126.7l.5-164.2v136.6l.5-133.1v160.7l.5-137v88.6l.5-132.2v155.9l.5-112.5v137.2l.5-137.4v132.6l.5-134.4v124.2l.5-114.9v94.2l.5-107.4v133.9l.5-131v129.2l.5-132.8v143.8l.5-130.4v73.2l.5-99v156.2l.5-126.8v88.9l.5-130v167.9l.5-129.9v129.9l.5-141.8v100.9l.5-81.6v75.4l.5-93.4v140.5l.5-138.1v138.1l.5-128.6v73.4l.5-75.9v62.4l.5-73.7v140.8l.5-148.2v121.6l.5-106.4v91.9l.5-112.9v102.8l.5-76.4v111.6l.5-112v123.5l.5-134.6v98.3l.5-96.6v139l.5-139.3v84.8l.5-79.4v76.1l.5-81.9v139.7l.5-164.4v134l.5-114v86l.5-84.4v84.6l.5-91.3v75.9l.5-59.7v91.8l.5-88.8v87l.5-92.6v59.2l.5-56v99.2l.5-93.7v96.4l.5-94.2v86.6l.5-130v124.6l.5-113.4v112.8l.5-81.2v125.6l.5-147.1v94.9l.5-118v170.2l.5-137.3v137.3l.5-158.7v158.7l.5-125.5v90.9l.5-117.2v88.6l.5-72.4v97l.5-83v61l.5-116.8v177.4l.5-136.1v69.1l.5-67.8v76.1l.5-73.2v131.9l.5-156.9v156.9l.5-134.1v103l.5-106.1v91.9l.5-109.7v96.4l.5-77.9v126.4l.5-125.5v131.7l.5-141.6v82.3l.5-71.9v56.6l.5-55.2v133.7l.5-151v120l.5-103.6v89.5l.5-119.6v143.8l.5-126.1v84.7l.5-85.3v96.5l.5-101.3v141.3l.5-134.9v90.1l.5-75.6v73.2l.5-94v152.3l.5-127.1v97.3l.5-106.6v136.4l.5-148.8v120.9l.5-126.1v112.5l.5-78.3v57.1l.5-58.7v108l.5-126.8v78.7l.5-89.2v90.5l.5-72.2v132.4l.5-135.5v99.5l.5-93.4v62l.5-91v127l.5-110.9v90.8l.5-135.3v128.2l.5-71.6v94.8l.5-94.2v76.3l.5-95.7v85.2l.5-105.4v156.9l.5-139.4v106.6l.5-92.8v137.9l.5-143.2v86.5l.5-77v92.7l.5-110.1v138.1l.5-124.6v86.1l.5-85v75.2l.5-77.1v85.9l.5-105.5v102.6l.5-79.6v118.3l.5-142.9v105.3l.5-75.7v130l.5-140.4v87.9l.5-83.4v117.6l.5-99.9v95l.5-125v101.1l.5-85.2v81.7l.5-101.7v141.5l.5-141.8v82.3l.5-78v148.3l.5-142.4v142.4l.5-138.5v118.1l.5-119.1v85.9l.5-89.5v143.1l.5-131.4v131.4l.5-154.4v89.6l.5-84.8v109.6l.5-111.3v151.3l.5-159.1v122.2l.5-108.3v79.5l.5-76.9v129.6l.5-124.4v88.2l.5-78v65.1l.5-83.5v145.6l.5-134.5v134.5l.5-144v74.1l.5-85.2v81.5l.5-78.9v118.2l.5-114v95.4l.5-82.9v58.4l.5-55.8v81.5l.5-99.5v147.8l.5-159.6v144.5l.5-113.4v131.9l.5-141.9v141.9l.5-182.8v125.7l.5-85.1v142.2l.5-170.3v170.3l.5-153.8v111.9l.5-94.6v125.7l.5-169.8v180.6l.5-130.5v130.5l.5-135.9v70.8l.5-89.7v132.9l.5-114.3v88.1l.5-120.1v108.4l.5-71.8v77.4l.5-84.2v138.4l.5-134.5v134.5l.5-178v126.6l.5-89.4v99.4l.5-81v122.4l.5-143.2v101.3l.5-101.3v118.5l.5-116.1v89.1l.5-91.3v110.7l.5-118.2v91.4l.5-62.2v121.3l.5-125.7v74.1l.5-103.6v137.5l.5-124.1v88.8l.5-73.7v96.3l.5-107.8v75.7l.5-55v69.9l.5-89.1v120.8l.5-127.6v117.7l.5-107.7v80.9l.5-108.1v160.7l.5-142.5v142.5l.5-122v76.5l.5-91v83.5l.5-114.4v162.2l.5-125.1v130.3l.5-162.7v139.5l.5-115.5v111.6l.5-100.3v72.8l.5-99.8v154.2l.5-144.5v72l.5-68.5v78.3l.5-108.5v171l.5-127.3v81.6l.5-108v105.1l.5-82v77.2l.5-95.1v148.9l.5-149v112.8l.5-135.1v106.2l.5-64.7v88.9l.5-103v65.2l.5-68.9v102.3l.5-77.7v87.5l.5-102.2v137.7l.5-144.2v111.4l.5-103.6v100.5l.5-91.7v74.5l.5-89.9v120.5l.5-108.3v51.9l.5-56.3v92.6l.5-90.6v133.2l.5-130.1v72.8l.5-82.5v96.9l.5-128.7v124.1l.5-91.3v106.4l.5-121.8v75.3l.5-57.5v136.3l.5-170v143.4l.5-98.7v99.3l.5-108.7v66.1l.5-76.8v100.1l.5-82.3v99l.5-117.6v107.7l.5-90.7v114.9l.5-122.1v128.1l.5-170.7v179.1l.5-124.4v107.2l.5-146.2v127.2l.5-115.9v143.2l.5-139.3v104l.5-111v107.2l.5-97.2v118.6l.5-96.6v113l.5-154.3v122l.5-91.5v108.6l.5-106.3v75.5l.5-74.2v107.4l.5-113.6v78.3l.5-73.8v59.9l.5-75.5v147.7l.5-145.8v94.3l.5-84.2v127.9l.5-148.8v78.4l.5-64.9v113.1l.5-132.5v110.5l.5-89.5v141.5l.5-135.1v82.8l.5-86.1v136.3l.5-120.9v64.7l.5-77.6v106.1l.5-135.8v104.3l.5-72.9v95.6l.5-92.6v97.3l.5-95.5v124.5l.5-136.8v116.5l.5-146.5v171.7l.5-135.4v69.7l.5-67v132.7l.5-131.5v131.5l.5-133v133l.5-161.2v161.2l.5-145.2v85.6l.5-75v69.5l.5-56.7v72.4l.5-83v81.3l.5-88.1v139.2l.5-136.1v136.1l.5-159.5v156.9l.5-155.3v145.1l.5-136.6v107.5l.5-88.8v71.9l.5-71.6v129.1l.5-146.9v99.6l.5-77.7v66.2l.5-96.4v133.7l.5-111.8v74.3l.5-93.1v140.8l.5-160.2v129.6l.5-119.9v101.6l.5-108.1v110l.5-70.5v79.6l.5-77v105.3l.5-160.9v121.6l.5-65.7v49.5l.5-47.3v76.3l.5-75.2v96.1l.5-112.8v119.3l.5-141.6v101.6l.5-82.5v65.9l.5-70.5v112.8l.5-116.2v143.8l.5-122.6v112.8l.5-124.5v142.3l.5-175.9v175.9l.5-184.9v184.9l.5-132.7v90.4l.5-81.2v103.1l.5-152.1v172.5l.5-155.5v155.5l.5-130.1v128.9l.5-133.9v90.2l.5-95.2v93.2l.5-88.7v135.6l.5-131v80.1l.5-124.1v106.1l.5-70v111.1l.5-118.7v85.9l.5-90.3v150.9l.5-141.5v65.9l.5-75.7v96.9l.5-79.9v129.2l.5-137.5v142.6l.5-146.2v105l.5-140v113.3l.5-75.7v93.5l.5-81.9v83.3l.5-85.9v60.4l.5-75.7v149.9l.5-166.6v104.9l.5-91.8v83l.5-118.8v189.3l.5-134.6v78.4l.5-75v89.1l.5-91.1v133.2l.5-142.3v76l.5-66.8v83.4l.5-82.9v106l.5-143.9v105.6l.5-80.3v79.5l.5-128.4v194.1l.5-162.1v162.1l.5-192.5v156.6l.5-91.8v121.8l.5-185.2v149.3l.5-111.2v73.7l.5-97.3v118.5l.5-93.1v146.7l.5-151.1v113.8l.5-101.2v72.5l.5-65.4v82.5l.5-86.1v139.5l.5-163.5v88.4l.5-105.8v130.3l.5-98.4v149l.5-142.8v81.2l.5-86.7v148.3l.5-181.8v147.1l.5-92v126.7l.5-144.7v144.7l.5-144.4v83.1l.5-71.4v76.4l.5-95.9v116.7l.5-99v83.7l.5-102.1v120.5l.5-141.5v123.2l.5-76.6v91.2l.5-116.8v94.7l.5-93.3v151.5l.5-129.9v94.9l.5-134.7v93.2l.5-61.9v138.4l.5-133.5v86.1l.5-99.9v80.7l.5-91.2v157.8l.5-157.3v126.1l.5-116.3v101.3l.5-115.6v101.4l.5-76.8v86.4l.5-75.1v90.7l.5-144.5v123.8l.5-88.9v67.5l.5-56.9v134.2l.5-131.8v88.8l.5-143v168.4l.5-111.3v57.1l.5-63v89.2l.5-88.8v64.1l.5-126.9v154l.5-118.1v157.4l.5-144.1v148l.5-142.7v121.8l.5-138.4v100.6l.5-103.4v146.2l.5-172.5v127.8l.5-68.1v108.9l.5-117.1v136.9l.5-179.5v164.3l.5-121.1v96.8l.5-111.4v123.4l.5-108.7v101.3l.5-91.7v89.9l.5-101.6v138.3l.5-135.2v94.7l.5-121.3v104.8l.5-128.8v181.8l.5-173.4v148.5l.5-122.3v117.1l.5-108.4v142.5l.5-142.3v107.1l.5-110.5v141.2l.5-141.8v88.3l.5-80.2v89.5l.5-86.3v105l.5-112.1v142.1l.5-135.5v135.5l.5-138.8v127.6l.5-143.6v154.8l.5-150.8v150.8l.5-159.6v152.5l.5-137.9v73l.5-111.1v183.1l.5-139.8v113.4l.5-117.2v125.4l.5-127.6v145.8l.5-137.3v74.1l.5-78v141.2l.5-145v119.3l.5-132.4v134.4l.5-146.8v110.1l.5-108.9v103.8l.5-67v132.5l.5-164.9v158.5l.5-146.8v153.2l.5-135.8v135.8l.5-159.2v92.6l.5-94.2v120l.5-86.8v127.6l.5-140v140l.5-136v136l.5-132.9v112.5l.5-111.1v91l.5-114.7v124l.5-121v130.5l.5-134.9v125.5l.5-101.2v109.5l.5-111.4v134.2l.5-162v128l.5-129v106l.5-76.5v133.5l.5-138.4v119.1l.5-119.5v89.6l.5-90.4v121.9l.5-141.4v95.8l.5-76v97.4l.5-95.8v132.5l.5-187.2v148.2l.5-107.2v103.7l.5-108.1v78.9l.5-105.2v182.1l.5-132.9v98.8l.5-133.9v120.5l.5-132.7v140.3l.5-96.9v109.5l.5-141.5v132.6l.5-92.4v128.6l.5-139.6v139.6l.5-185.4v111.2l.5-113.4v185.6l.5-137.8v91.7l.5-101.7v106.9l.5-88.9v94.9l.5-100.9v137.8l.5-166.8v107l.5-86v86.4l.5-111.8v136.4l.5-121.1v101.5l.5-94v132.5l.5-119.9v67.2l.5-92.2v155.3l.5-140v127.3l.5-136v154.2l.5-130.8v130.8l.5-159.8v115.1l.5-124.5v149.4l.5-113.8v76.7l.5-74.8v131.7l.5-135.9v135.9l.5-178v175l.5-162.6v88.1l.5-68.5v70.5l.5-65v100.4l.5-97.1v137.2l.5-143.4v73.4l.5-98.7v102.6l.5-80.9v147l.5-132.2v70.8l.5-72.4v83.1l.5-90.7v132.2l.5-142.3v146l.5-137.5v110.6l.5-111.9v80.9l.5-95.3v115.4l.5-121.4v110.3l.5-79.8v111l.5-103.9v49.4l.5-56.6v64.1l.5-69.8v75.6l.5-83.7v94.7l.5-73.5v70.2l.5-95.6v100l.5-101.6v120.4l.5-124.3v151.9l.5-133.2v129.8l.5-148.9v158.2l.5-130.7v86.4l.5-96.5v140.8l.5-159v89.2l.5-79.5v114.3l.5-105.3v100.7l.5-99.4v77.3l.5-73v92.4l.5-91v133.3l.5-127.4v79l.5-135.6v134.8l.5-96.3v68.8l.5-59.9v117.8l.5-129.1v142.6l.5-148.9v154.2l.5-137.8v70.3l.5-68.5v92.2l.5-105.8v111.2l.5-83.6v120.5l.5-150.9v99.2l.5-85.2v137.2l.5-130.5v71.7l.5-78.9v138.9l.5-129.3v69.2l.5-94.3v108.9l.5-118.1v163.6l.5-181.9v181.9l.5-167.9v94.3l.5-68.2v88.2l.5-82.2v108.2l.5-116.3v143.9l.5-142.1v99.5l.5-107.8v98.1l.5-93.1v145.4l.5-149.9v102.9l.5-85.3v85.6l.5-90.7v70.5l.5-104.5v130.9l.5-114.1v109.4l.5-104.7v103.8l.5-95v87.2l.5-73.7v76l.5-78.5v111.8l.5-164.2v152.3l.5-151.8v114.8l.5-74.9v105.6l.5-125.3v145l.5-109.3v56.9l.5-85.5v78.7l.5-52.2v97.1l.5-127.5v105.2l.5-80.4v71l.5-68.8v105.6l.5-126.2v119.4l.5-99.7v77l.5-67.9v64.6l.5-94.1v117.1l.5-100.4v112.5l.5-121.8v145.5l.5-123.2v123.2l.5-136.4v67.6l.5-70v95.3l.5-90.7v132.2l.5-148.4v108.7l.5-94.1v135.8l.5-145.4v140.7l.5-142.8v147.5l.5-140.7v62.7l.5-87.3v165.3l.5-152.8v111l.5-117.3v117.4l.5-111.9v115.6l.5-99.7v129.6l.5-126.2v134.3l.5-129v129l.5-130v97.6l.5-153.4v126.9l.5-98.6v154.6l.5-180.9v163l.5-170.8v191.6l.5-167v107.7l.5-83.3v99.5l.5-117.7v104.9l.5-96.8v152.7l.5-142v135.6l.5-169.8v152.9l.5-138.9v160.5l.5-153.3v155l.5-162.9v129l.5-129v93.1l.5-101.9v116.6l.5-81.5v92.8l.5-96.4v101.9l.5-101.9v98.5l.5-84.6v80.7l.5-95.3v89.3l.5-87.7v122.2l.5-118.5v77.9l.5-72.5v91.7l.5-93.9v59.3l.5-63.4v112.8l.5-116.6v80l.5-85.1v114.7l.5-116.8v106.3l.5-134.1v132.5l.5-107.4v131.5l.5-116v58.3l.5-53.4v91.5l.5-126.2v120l.5-95.8v103.6l.5-98.1v113.5l.5-124.1v97.4l.5-83.3v129.7l.5-139.9v141.5l.5-161.6v103.7l.5-129.6v133.4l.5-140.1v148.2l.5-121.6v167.6l.5-162.5v162.5l.5-126.6v71.8l.5-68.7v64.8l.5-82.7v121.4l.5-141.5v161.5l.5-141.6v88.8l.5-68.3v73.1l.5-148.5v175.4l.5-126.7v147.8l.5-140.2v130l.5-167.5v114.9l.5-77.5v140.3l.5-166.3v166.3l.5-145.7v95.5l.5-79.6v77.2l.5-99.3v149l.5-129.4v118.5l.5-114.3v109.5l.5-149.3v106.6l.5-69.9v105.8l.5-113.2v117.7l.5-152.9v154.2l.5-157.9v114.8l.5-65.1v118.7l.5-131v140.1l.5-130.4v88.9l.5-114.9v156.4l.5-134.1v66.4l.5-114.4v148.4l.5-106v122.6l.5-103.8v101.8l.5-109.3v103.5l.5-114.9v117.8l.5-154v115.2l.5-93.5v99.5l.5-108.3v92.6l.5-74.3v91.6l.5-85.8v139l.5-187.6v153.7l.5-98v95.8l.5-119.7v153.3l.5-162.2v121.5l.5-83.8v127l.5-141.2v141.2l.5-148.2v105.3l.5-96.4v139.3l.5-157.2v86.6l.5-67.9v73l.5-68v70.3l.5-103v166.2l.5-155.8v115.6l.5-96.5v106.3l.5-100.5v115l.5-122.8v86.9l.5-87.4v133l.5-133v139.2l.5-130.2v118.9l.5-125.8v81.6l.5-71.1v85.2l.5-89.6v98.5l.5-102.9v79.2l.5-82.3v138.5l.5-134.9v134.9l.5-119.5v119.5l.5-174.7v126.5l.5-84.4v132.6l.5-160.4v160.4l.5-149.2v95.1l.5-82.5v136.6l.5-156.1v135.9l.5-110v130.2l.5-140.6v98l.5-102.2v128.3l.5-117.2v133.7l.5-132.2v132.2l.5-141.2v141.2l.5-137.1v80.8l.5-93.9v96.4l.5-82v125.5l.5-139.7v150l.5-134.4v122l.5-129.6v92.9l.5-119.4v108.3l.5-95.8v156l.5-150.8v104.5l.5-105.4v145.9l.5-129.5v118l.5-115.8v101.5l.5-95v126.6l.5-145.3v145.3l.5-135.4v65.2l.5-90.6v142.4l.5-120.3v63.4l.5-62.5v92.5l.5-119v164.3l.5-144.3v83.3l.5-76v83.1l.5-87.1v119.4l.5-115.3v99.3l.5-120.5v115.8l.5-92.1v134.4l.5-130.1v83.7l.5-91.8v95.8l.5-96.1v135.5l.5-134.6v137.6l.5-151.5v112.3l.5-103v102.7l.5-130.6v165.7l.5-142.2v146.6l.5-135.4v134.9l.5-166.6v128.1l.5-103v122.3l.5-127v146.7l.5-137.3v109.1l.5-153.9v151.5l.5-119.4v101.8l.5-87.7v135.9l.5-175.5v157l.5-122.2v106.9l.5-101.7v135.5l.5-170v170l.5-129.6v129.6l.5-135.6v100.5l.5-109.3v103.5l.5-88.6v129.5l.5-144.5v144.5l.5-138.2v101.3l.5-89.8v126.7l.5-187.1v163.5l.5-99.8v76.9l.5-127.8v138.7l.5-127.5v163.1l.5-128.6v128.6l.5-135v135l.5-148.8v101.3l.5-108.9v156.4l.5-134.3v133.5l.5-130.7v131.4l.5-156.5v156.6l.5-130.6v114.9l.5-125.9v116.8l.5-105.5v54.8l.5-58.6v134.1l.5-131.6v99.8l.5-92.1v82.6l.5-109.9v148.1l.5-160.4v163.4l.5-134.5v96.1l.5-125.5v120.8l.5-88.3v131.5l.5-143.2v99l.5-78.8v123l.5-165.8v123.8l.5-105.3v147.3l.5-132.6v70l.5-60.1v122.7l.5-155.1v117.8l.5-92.1v108.1l.5-114.1v135.4l.5-141v93l.5-84.1v98.1l.5-102.2v68.9l.5-62.4v86.9l.5-84.2v62.3l.5-62.8v57.5l.5-74.9v69l.5-58.8v57.2l.5-57.9v135.4" stroke="#000" stroke-width="0.5"/>
<path d="M1007.3 92.2v101l.5-98.6v85.4l.5-80v78.6l.5-112.7v115.7l.5-92.2v107.7l.5-128.9v116.7l.5-113.5v105.1l.5-76.6v74l.5-94.4v102.6l.5-94.7v85.6l.5-82.4v94l.5-84.3v78.2l.5-84.1v79l.5-73.3v74.6l.5-73v86.7l.5-104.8v90l.5-75.2v92.5l.5-94.8v82.4l.5-82.8v95.7l.5-99.8v102l.5-98.9v94l.5-92.6v83.8l.5-108.1v112.3l.5-93.3v107.6l.5-103.1v91.9l.5-91.4v81l.5-90.1v94.2l.5-87v88.9l.5-84v73.6l.5-85.9v98.7l.5-84.9v80.8l.5-86v107.8l.5-107.9v87l.5-86.1v78.3l.5-84.7v122l.5-124.7v91.8l.5-90.1v94l.5-97.3v118.6l.5-104.8v77.9l.5-97.4v136.5l.5-112.2v83.5l.5-85.8v69l.5-73.1v89.6l.5-80.7v92.4l.5-103v80.2l.5-72.6v110.3l.5-125v93.2l.5-87.5v92l.5-82.7v80.2l.5-85.8v103.7l.5-105.9v114.5l.5-121v92.6l.5-96v96.1l.5-81.6v89l.5-88.2v113.8l.5-117.9v90.3l.5-82.9v66.7l.5-72.6v85.1l.5-87.6v82.8l.5-98.8v102.5l.5-83.2v81.7l.5-89.1v91l.5-86.1v94.1l.5-104.8v93.1l.5-74.3v106.3l.5-110.1v91.5l.5-96.4v97.1l.5-92.2v78.7l.5-89.6v84.3l.5-70.4v85.5l.5-95.3v94.2l.5-92.1v77.1l.5-82v93.8l.5-96.8v90l.5-84.8v95.9l.5-115.6v102.1l.5-78.7v76.9l.5-84.1v108.6l.5-99.8v77l.5-96.2v96.6l.5-101v104.5l.5-85.3v78l.5-80.2v86.1l.5-86.4v103.2l.5-103.6v91.6l.5-99.1v111.5l.5-98.1v83.4l.5-87.6v86.5l.5-88.1v105.2l.5-101.4v83.7l.5-85.3v76.2l.5-70.5v67l.5-91v102.1l.5-77.8v67.8l.5-69.6v74.7l.5-75.5v69.3l.5-70.3v70.6l.5-86.1v101.3l.5-86.9v85.5l.5-83v80.7l.5-83v80.3l.5-79.8v88l.5-85v93.2l.5-99.4v86.8l.5-81.1v86l.5-100.5v92.1l.5-76.8v91.4l.5-101.2v89.2l.5-81.3v100.1l.5-133.1v111.6l.5-82.4v98.8l.5-94.9v80.9l.5-79.7v101.9l.5-115.9v84.3l.5-79.8v74.8l.5-67.1v71.6l.5-71v76l.5-72.2v65.9l.5-75.2v86.1l.5-100.1v90.3l.5-77.4v80.9l.5-89.1v80.5l.5-67.4v72.4l.5-70.6v87.7l.5-122.3v113.7l.5-99.3v88.1l.5-97.7v99.2l.5-84.2v95.1l.5-114.1v105.9l.5-83.7v84.7l.5-78.9v77.3l.5-88.6v103.6l.5-116.7v98.8l.5-75.4v112.6l.5-111.4v83.5l.5-85.5v88l.5-95.4v79.4l.5-65.8v77.2l.5-92.2v86l.5-102.3v124.4l.5-121.2v98.5l.5-93.5v99l.5-82v81.6l.5-83.1v98.7l.5-104.3v115.1l.5-102v73.4l.5-90.2v91.6l.5-90.4v104.9l.5-126.7v104.1l.5-74.2v78.6l.5-73.9v84.7l.5-86.1v82.1l.5-114.5v145.3l.5-118.7v81.8l.5-76.7v84.7l.5-92.7v105.5l.5-99.9v80.6l.5-82.9v77.6l.5-67.5v91.3l.5-95.3v87.8l.5-91.7v78.1l.5-74.8v107.7l.5-108.7v112.9l.5-107.8v78.7l.5-83.5v89.3l.5-118.6v138l.5-105.3v88.2l.5-109.7v106.3l.5-98.2v96.7l.5-89v105.6l.5-117.8v103.6l.5-84v75.7l.5-82.3v78.8l.5-81.7v94.9l.5-86v79.2l.5-96.9v92l.5-72.8v75.7l.5-76v71.7l.5-73.6v109.9l.5-127.3v94.2l.5-81.1v83.9l.5-79.1v73.7l.5-85.7v105.9l.5-107.5v91.4l.5-97.2v105.8l.5-86.5v78.6l.5-89.9v93.8l.5-80v75l.5-73.5v73l.5-96.9v98.3l.5-88.1v85.9l.5-74.8v75.6l.5-80v101.6l.5-97.3v78l.5-76.9v82l.5-83.8v112.5l.5-107.6v96.4l.5-101.7v86.5l.5-109.6v107.6l.5-103.2v109.6l.5-87.9v87.7l.5-85.1v75.5l.5-93.5v86l.5-78.4v93.6l.5-90.6v82l.5-99.4v119.7l.5-96.5v91.7l.5-99.3v84l.5-82.3v91.2l.5-85.2v95.1l.5-95.8v91.8l.5-83.4v85.3l.5-93.8v73l.5-88.6v92.3l.5-78.3v105.7l.5-104.7v70.5l.5-79.5v94.2l.5-109.2v128.3l.5-105.4v83.7l.5-85.7v71.8l.5-90v100.4l.5-79.2v78.1l.5-73.9v73.8l.5-75.3v103.9l.5-122v88.9l.5-75.6v84.6l.5-92.3v97.3l.5-112.3v117.4l.5-87.7v80l.5-100.2v85.9l.5-96.3v102.8l.5-98.3v91.4l.5-71.9v80.1l.5-91.5v100.7l.5-81.1v72.1l.5-83.6v88.1l.5-93.4v81.5l.5-71.2v91.2l.5-94.1v92.9l.5-90.5v85.7l.5-87.3v75.9l.5-91.7v98.9l.5-77.8v81.9l.5-85.5v81.4l.5-90.4v98.4l.5-96.5v86.1l.5-77.3v75.7l.5-79v98.6l.5-97v85.9l.5-88v75.6l.5-83.6v106.6l.5-126.4v106.6l.5-80.6v114.2l.5-120.7v90l.5-72.1v67.3l.5-74.8v77.4l.5-72.4v76.5l.5-98.3v107.9l.5-96.6v81.9l.5-73v78.1l.5-82.4v78.6l.5-86.1v92.4l.5-96.6v95.9l.5-111.1v116.6l.5-112.9v132.6l.5-138.4v116.9l.5-95.3v101.1l.5-101.6v88l.5-97v127.2l.5-119.6v96.9l.5-93.6v97.8l.5-92.5v78.2l.5-77.1v76.8l.5-83.1v99.8l.5-105.9v99.6l.5-106.6v131.5l.5-136v95.7l.5-81.2v83.7l.5-71.2v78.4l.5-93.7v91.1l.5-110v106.7l.5-135.2v142.2l.5-75.7v94l.5-154.2v130.1l.5-102v122.9l.5-126.6v120.3l.5-94.7v90.8l.5-71.3v68.9l.5-82v73.1l.5-90.9v91.9l.5-88.6v96.1l.5-105.6v100.9l.5-97.5v94.1l.5-116.7v148.4l.5-102.5v70.5l.5-68.9v83.5l.5-94v113.4l.5-116.4v95l.5-82.9v70.9l.5-101.2v118.7l.5-103v97.4l.5-107.2v118.4l.5-138.9v110.8l.5-73.4v83l.5-145.2v155.9l.5-75.9v64.1l.5-89.5v110l.5-166.7v174.6l.5-116.3v80.9l.5-77.7v101.9l.5-144.6v131.8l.5-83.6v76.9l.5-96.8v116l.5-107v89.9l.5-91.1v91.5l.5-73v66.8l.5-90.7v101.7l.5-79.7v84.2l.5-116.9v109.1l.5-88.3v82.2l.5-131.6v135.6l.5-86.5v81.6l.5-87v87l.5-69.1v72.1l.5-76.4v84.4l.5-147.3v133l.5-77.4v102.3l.5-98.4v89.4l.5-104.4v104.8l.5-80v75.5l.5-93.8v88.1l.5-117.8v124.1l.5-107.4v110.9l.5-127.3v130.3l.5-99.1v85.8l.5-89.6v99.6l.5-81v86.5l.5-125.8v128.3l.5-111.9v85.4l.5-82v96.1l.5-96.4v90.4l.5-100.6v108.1l.5-134.5v123.8l.5-130.7v159.6l.5-130.9v107.1l.5-105.4v108.7l.5-128.1v118.4l.5-62.7v84.7l.5-89v85.6l.5-118.7v123.5l.5-85.8v65.6l.5-75.1v107.3l.5-142.5v137.2l.5-117.1v98.9l.5-150.2v157.2l.5-157.2v149.4l.5-87.6v86l.5-83.5v88.9l.5-91.3v78l.5-77.4v86.8l.5-140.7v151.4l.5-109.7v122.2l.5-118.2v90.7l.5-133.2v161.7l.5-120.2v88.2l.5-85.4v95.1l.5-116.1v116.4l.5-93.2v96.9l.5-91.1v87.4l.5-124.7v142l.5-150.3v127.1l.5-63.4v83.1l.5-89v78.1l.5-105.7v123.3l.5-109.8v81.5l.5-76.6v87.5l.5-101.2v122.3l.5-108.4v61.9l.5-74.7v103.8l.5-158.3v152.1l.5-149.7v141.7l.5-80.1v80.2l.5-66.8v96.5l.5-150.7v125l.5-94.1v111.7l.5-115.6v137.7l.5-152.7v149.4l.5-141v112.5l.5-129v121.8l.5-108.9v104.2l.5-79.1v84l.5-81.5v97.9l.5-137.2v119.6l.5-100.3v100.1l.5-138.7v158.4l.5-106v119.9l.5-108.3v73.5l.5-126.1v117.9l.5-57.6v66.8l.5-94.1v93.9l.5-72.1v65.8l.5-85.3v91.6l.5-74.2v82l.5-117.2v102.5l.5-89.6v95.4l.5-91.7v93.7l.5-93.1v94.6l.5-90.9v86.3l.5-106v99.8l.5-84.7v85.1l.5-95.9v121.7l.5-165.1v143.6l.5-88.9v90.4l.5-70.4v65.4l.5-80.8v97.6l.5-104.2v96.2l.5-98.7v103.1l.5-119.6v124.8l.5-110.7v110.8l.5-144.9v142.4l.5-84.3v70.5l.5-61.3v62.1l.5-89.2v89.7l.5-110.1v116.9l.5-75.3v69l.5-84.2v87.6l.5-86.6v124l.5-173.1v128.7l.5-76.8v89.8l.5-94.9v99.9l.5-120.7v106.7l.5-93v98.8l.5-150.3v144.6l.5-82.9v106.1l.5-167.8v151.7l.5-85.7v88.8l.5-95.6v82.9l.5-88.3v88.1l.5-86.5v88.2l.5-65.5v74.5l.5-81.6v74.9l.5-134.6v135.9l.5-102.1v119.8l.5-94.5v70.5l.5-75.5v84.8l.5-94.1v91.8l.5-76.9v69l.5-128.1v127l.5-90.2v91.3l.5-67.7v76.9l.5-83.3v78.3l.5-127.6v119.8l.5-69.5v73.5l.5-80v101.9l.5-110.3v100.3l.5-90.3v80.1l.5-125v126.2l.5-116.9v105.7l.5-125.1v134.5l.5-79.3v72l.5-91.5v109.6l.5-87v102.7l.5-107.2v86.7l.5-81.1v88.1l.5-101.7v91.8l.5-136v142.3l.5-85.2v82l.5-77v68.2l.5-76.8v82.7l.5-87.5v88.2l.5-77.2v86.8l.5-101.3v89.7l.5-82.4v85l.5-85.8v81l.5-76.5v87.2l.5-137.1v130.6l.5-91.5v112.2l.5-149.1v124.8l.5-85.8v89.3l.5-89.6v85.4l.5-80v76.1l.5-74.9v106.7l.5-123v111.2l.5-105.3v93.6l.5-82.4v72l.5-72.8v91.3l.5-96.2v85.5l.5-92.1v108l.5-92.3v83.3l.5-86.6v71.3l.5-94.5v103.7l.5-86.5v102l.5-120.6v113.6l.5-124.1v112.2l.5-72.1v73.3l.5-106.3v114.2l.5-96.1v90.5l.5-87.2v85.4l.5-113.5v111.7l.5-80.8v95.6l.5-88.3v109.6l.5-110.5v78.8l.5-82.4v77.4l.5-84.4v83.5l.5-73.5v109.5l.5-108.7v83.3l.5-91v80.9l.5-74.8v82.5l.5-108.7v141.7l.5-120v75.3l.5-70.8v78.3l.5-93.1v101.7l.5-85.2v114.9l.5-118.2v98.3l.5-95v77.1l.5-99.5v108.5l.5-89.4v92.6l.5-96.4v113.9l.5-133.6v99.8l.5-81.2v98.7l.5-103.9v107.2l.5-131.8v125.1l.5-81.9v84.8l.5-115.8v112.7l.5-102v90.3l.5-87.9v83.3l.5-88.2v120.6l.5-109.6v118.1l.5-121.6v84l.5-94.6v107.7l.5-89v86.3l.5-108.5v94l.5-94.3v105l.5-119.3v141l.5-122.7v124.6l.5-109.8v76.6l.5-83.2v103.7l.5-133.3v125.9l.5-93v92.8l.5-97.1v125.3l.5-118.3v76.7l.5-78.7v91.9l.5-103.8v98.6l.5-104.9v113.1l.5-116.6v110.2l.5-85.6v82.3l.5-113.4v114.8l.5-82.9v77.7l.5-75.8v103.2l.5-110.6v86.4l.5-88.9v104.2l.5-97.7v88.7l.5-115.5v111l.5-94.6v98.8l.5-89.9v93.2l.5-86.7v86.6l.5-96.9v87.6l.5-95.4v91.6l.5-84.5v81l.5-73v86.5l.5-95v87.5l.5-89.7v90.6l.5-83.2v97.3l.5-104.2v87.7l.5-90v91.2l.5-75.6v82l.5-95.6v106.6l.5-91v87.4l.5-101.8v88.2l.5-98.1v106l.5-91.8v83.3l.5-100.2v104.9l.5-93.3v91.3l.5-99v93.7l.5-74v72.9l.5-109.7v122.6l.5-93.8v81.6l.5-75.8v90.3l.5-93.1v87.6l.5-105.3v96.8l.5-91.6v96.5l.5-111.1v111.4l.5-89.4v81.1l.5-109.9v122.1l.5-84v78.8l.5-84.5v102.2l.5-107.5v95l.5-88.1v84.4l.5-99.6v93.4l.5-71.8v95.9l.5-101.7v78.6l.5-86.3v93.9l.5-104.4v124.3l.5-135.8v121.6l.5-94.7v93.2l.5-88.7v76.2l.5-90.8v94.5l.5-79.9v83.6l.5-84.6v96.5l.5-123.6v114.8l.5-88.4v94.3l.5-102.7v85.5l.5-91.4v110l.5-101.5v107.5l.5-107.1v85.8l.5-80.2v76.2l.5-73.8v84.7l.5-78.3v78.3l.5-84.2v79.8l.5-82.1v72.3l.5-92.3v98.8l.5-90v94.4l.5-94v128.4l.5-121.1v102.3l.5-115v89.5l.5-93.2v111.3l.5-88v82.4l.5-85.5v78.1l.5-78.2v82.2l.5-114.2v117.6l.5-84.1v82.1l.5-85.2v85l.5-78.7v76.9l.5-122.5v118.4l.5-76.2v85.2l.5-89.3v91.7l.5-84.3v107.9l.5-112.5v84.3l.5-95.3v89.3l.5-68.7v79.4l.5-108.7v102.2l.5-80.3v70.2l.5-70.3v79.3l.5-74.6v76.9l.5-80.5v79.6l.5-81.6v78.6l.5-69v75.5l.5-100.8v109l.5-108.5v89.5l.5-78.2v87.8l.5-99.7v117.8l.5-92.9v68.7l.5-74.2v83l.5-95.9v87.9l.5-97.4v108.8l.5-84.8v77.7l.5-120.4v127l.5-92.2v76.5l.5-84v96l.5-97.1v93.3l.5-76.2v88.5l.5-137v141.4l.5-95.1v80.2l.5-101.8v99.6l.5-106.2v102.1l.5-73.5v77.8l.5-79.8v82.8l.5-91.5v91.5l.5-91.7v93.2l.5-122.6v137.9l.5-106.2v97.2l.5-112.8v117.2l.5-135.3v133.9l.5-134v128.5l.5-87.7v96.8l.5-121.5v117.1l.5-85.5v75.4l.5-82.6v90.4l.5-130.9v138l.5-100.4v90.5l.5-86v83.1l.5-105.2v99.8l.5-100.5v132.5l.5-115.8v105.4l.5-101.6v80.7l.5-90.1v116.2l.5-131.2v121.9l.5-99.9v88l.5-97.9v104.5l.5-117.2v103.6l.5-79v74.6l.5-82.8v95l.5-96.6v94.1l.5-106.4v114.1l.5-124.8v110.6l.5-79.2v96.6l.5-97.4v91.1l.5-97v100.3l.5-90.2v76.7l.5-77.5v91.1l.5-105.3v93.6l.5-70.4v90l.5-98.5v80.7l.5-87.4v79.7l.5-89.6v109l.5-100.2v87.9l.5-99.7v106.8l.5-98.4v97.3l.5-100.3v91l.5-75.6v77.9l.5-84.1v98.2l.5-97v80.5l.5-90.1v130.7l.5-137.5v92.7l.5-83.9v107.9l.5-93.9v80.8l.5-90.3v86l.5-81.9v84l.5-106.9v116l.5-96.8v83.6l.5-76.5v83.9l.5-77.7v96.8l.5-134v113.4l.5-88.1v81.6l.5-80.1v96.5l.5-95.2v86.1l.5-96.8v108.2l.5-111.2v96.4l.5-118.6v111l.5-106v117.9l.5-106.2v98.4l.5-93.5v97.8l.5-93.1v97.3l.5-125v118.5l.5-98.1v101.8l.5-88.9v84.9l.5-85.7v110l.5-103.3v87.7l.5-90v92.1l.5-87.9v84.4l.5-95.7v104.4l.5-90.8v95l.5-103.1v102.9l.5-103.8v86.8l.5-76.2v79.6l.5-102.3v92.7l.5-82.2v89.9l.5-80.7v85l.5-92.6v85l.5-93.6v96.3l.5-93.8v106.4l.5-119v99.2l.5-77.5v87.5l.5-86.8v91.6l.5-97.8v111.7l.5-118.2v101.2l.5-106.7v126.4l.5-124.2v100.8l.5-89.3v91.7l.5-83.1v80.3l.5-81.2v100.3l.5-102.4v83.9l.5-96.5v116.8l.5-110.1v81.8l.5-72.3v111.5l.5-138.3v108.7l.5-80v111.5l.5-116.2v87.7l.5-85v81.3l.5-88.7v88.1l.5-100.3v118.3l.5-100.2v80.5l.5-80.9v118.3l.5-113.3v81.3l.5-104.6v110.3l.5-104.7v87.6l.5-74.1v78l.5-77.2v78l.5-84.8v99.6l.5-101v75.7l.5-85v112.7l.5-117.3v112.2l.5-85.7v75.6l.5-86.7v112.1l.5-108v89.1l.5-81.2v63.1l.5-66.6v88l.5-94.8v82.8l.5-81.9v98.7l.5-94.4v116.7l.5-125.6v79.6l.5-74.2v87.2l.5-88.3v113.3l.5-108.2v74.6l.5-96v98.6l.5-89.5v100.3l.5-90.3v117.3l.5-116.2v90.9l.5-95.5v82.6l.5-73.8v75.5l.5-81.3v76.8l.5-74.9v83l.5-104.8v115.4l.5-93.2v85.7l.5-98.2v114.2l.5-114.4v97.1l.5-87.1v89.4l.5-106.4v109.3l.5-90.3v83.7l.5-88.8v78.9l.5-98.3v135.8l.5-109.7v81.2l.5-84.2v75.6l.5-81.1v78.3l.5-91.9v98l.5-101.4v112.9l.5-88.3v77.2l.5-90.3v95.6l.5-75v67.4l.5-79.7v88.4l.5-82v103l.5-102.9v69.8l.5-75.4v73.4l.5-83.8v92.7l.5-82.9v69.1l.5-77.6v80.9l.5-86.5v94.2l.5-102.2v111l.5-112.1v118.1l.5-94.8v79.3l.5-73.8v71.8l.5-74.8v77.3l.5-83.2v77.6l.5-78.7v86.4l.5-99.8v98.3l.5-106.7v109.4l.5-76.2v72.9l.5-82.7v86.3l.5-90.9v102.4l.5-114.9v97.9l.5-86v102.6l.5-86.2v100.1l.5-124.1v120.8l.5-119v92.6l.5-75.3v87.8l.5-105.9v93.3l.5-94.2v101.6l.5-116.5v122.9l.5-89.2v78.3l.5-83.6v80.8l.5-83.7v96.1l.5-121.1v114.6l.5-111.6v115.9l.5-86.5v88.3l.5-85v78l.5-84.5v87.4l.5-81.6v65.2l.5-98.5v109.1l.5-76.6v70.1l.5-75v77.6l.5-81.6v83.6l.5-84.4v101.6l.5-104.7v105.2l.5-119v93.9l.5-75.2v84.4l.5-90.7v83.5l.5-93.1v92.6l.5-74v98.1l.5-103v111.9l.5-100.2v77.1l.5-83.1v87.8l.5-103.9v87.8l.5-81v90.6l.5-87.1v77.1l.5-70.6v106l.5-123.7v99.5l.5-88.1v83.5l.5-98.9v103.3l.5-79.2v96.4l.5-101.5v88.1l.5-80.4v94l.5-121.6v96.3l.5-94.9v96.4l.5-73.7v81.7l.5-78v72l.5-75.8v93.6l.5-99.6v74.2l.5-94v103.7l.5-78.2v73.1l.5-108.4v119l.5-103.8v101.5l.5-95.9v88.5l.5-67.1v75.4l.5-83.6v61.8l.5-87.2v98.9l.5-93.2v95.6l.5-72v69.6l.5-107v112.4l.5-78.7v84.3l.5-101.9v114.3l.5-96.6v66.1l.5-86.3v98.5l.5-86.9v82.8l.5-80v81.3l.5-75.2v85.1l.5-104.1v96.9l.5-87v115.6l.5-124.1v124.3l.5-102.9v68.8l.5-62v73l.5-113.3v111.9l.5-91.2v76.5l.5-79.1v117.6l.5-99.9v73.9l.5-82.3v96.2l.5-86.4v64.2l.5-68.9v84.6l.5-103.3v109.1l.5-118.7v109l.5-89.6v83.6l.5-85.1v106.6l.5-132.6v124.2l.5-92.5v113.3l.5-111.2v91.4l.5-106.6v87.4l.5-87.9v130.7l.5-130.6v114l.5-103.9v94l.5-91.6v94.5l.5-92.9v76.1l.5-78.2v81.2l.5-74.7v81.3l.5-80.2v83.1l.5-86v86.9l.5-86.9v85.6l.5-92.5v82.5l.5-75.1v116.8l.5-124.3v91.5l.5-78.4v98.5l.5-105.2v75.6l.5-76.8v88.1l.5-80.6v74.7l.5-78.4v77.3l.5-86.8v84.2l.5-71.9v90.7l.5-109.9v93.4l.5-91.2v97l.5-87.8v84.5l.5-80.7v90.5l.5-90.9v85.9l.5-89.5v98l.5-113.6v91l.5-72.3v83.1l.5-81.3v85.7l.5-88.4v104.7l.5-112.9v120.7l.5-109.8v85.6l.5-88.1v72.3l.5-75.6v85.1l.5-76.3v74.1l.5-79.2v82.5l.5-87.4v116.6l.5-127.3v84.8l.5-78.4v92.3l.5-109.3v109.9l.5-83.3v75.1l.5-98.8v110.5l.5-83.1v115.2l.5-132.1v91.5l.5-92.7v99.8l.5-114.4v122.6l.5-92.1v81.9l.5-95.7v101.6l.5-93.5v86.4l.5-99.5v99.1l.5-85.8v108.5l.5-104.8v95l.5-112.6v108.8l.5-89.9v92.7l.5-98.2v81.8l.5-77.3v96.2l.5-89.3v70.2l.5-88.2v108.6l.5-98.9v77.4l.5-92.2v105.8l.5-86v104.2l.5-114.5v111l.5-113.3v92.8l.5-85.9v80.8l.5-88.9v98.7l.5-87.6v89.2l.5-85.7v87.2l.5-97v97.6l.5-89.5v84.2l.5-85.1v95.2l.5-93.2v74.9l.5-80v90.1l.5-104.8v94.4l.5-79.8v83.3l.5-81v84.7l.5-81.9v77.7l.5-113.7v135.9l.5-99.1v112.1l.5-122.2v98.8l.5-94.7v94.3l.5-90.1v78l.5-80.3v77.7l.5-85.6v97.6l.5-109.1v90.4l.5-63.8v71l.5-91.3v123.9l.5-120.9v124.3l.5-128.7v101.7l.5-101.3v129.1l.5-119.4v75.7l.5-80.3v105.4l.5-116.3v122.2l.5-114.8v95.5l.5-87.2v83.8l.5-78.2v88.2l.5-88.3v116.2l.5-157.2v115l.5-99v90.6l.5-58.6v72.5l.5-88.3v112.6l.5-95.5v64l.5-86.7v103.4l.5-93.9v111.7l.5-107.2v71.7l.5-81v92.3l.5-79.5v87.2l.5-129.6v114.3l.5-86.3v103l.5-81.8v69.2l.5-90.7v91.6l.5-105.7v106.8l.5-85v95.2l.5-107.5v127.1l.5-163.6v129.3l.5-89.6v95.3l.5-81.7v115.7l.5-127.4v87.9l.5-103.4v116.4l.5-127v137.4l.5-105.3v82.5l.5-78.6v80.1l.5-102.9v102l.5-77.4v79.4l.5-100.8v98.7l.5-81.3v84.1l.5-90.9v88.7l.5-73.9v84.9l.5-126v123.4l.5-103.8v127.6l.5-157.9v130.3l.5-90.7v89.9l.5-116.2v127.9l.5-118.5v107.4l.5-80.5v75.7l.5-77.8v79.4l.5-89.7v123.5l.5-151.3v132.3l.5-96.2v97l.5-113.1v98.2l.5-90.9v90.1l.5-100.1v101.7l.5-108.6v114.4l.5-113.4v118.1l.5-81.6v71.4l.5-104.4v99.6l.5-79.5v81l.5-70.6v65.3l.5-67.5v79.6l.5-90.6v122.1l.5-121.1v90.8l.5-81.1v79.6l.5-117.7v113l.5-81.5v72.9l.5-77.7v85.9l.5-111.2v113.6l.5-78.9v86.3l.5-97.9v86.8l.5-85.9v88.7l.5-87.8v81.6l.5-100.7v119.7l.5-98.8v93.8l.5-97.8v88.2l.5-89.6v96.7l.5-108v108.2l.5-94v122l.5-170.4v139.3l.5-119.7v125l.5-97.7v97.6l.5-91.7v80.4l.5-89.3v110.3l.5-111.7v99.2l.5-83.8v71.8l.5-73.7v98.1l.5-94.1v73.3l.5-120.8v163.8l.5-123.3v84.7l.5-89.5v97.4l.5-90.7v111.6l.5-135.9v119l.5-137v133.1l.5-97v106.7l.5-99.7v79.1l.5-85.2v89.8l.5-95.8v130.2l.5-122v83.7l.5-93.4v96l.5-83.8v74.2l.5-83.4v89.8l.5-116.2v155.8l.5-118.8v74.3l.5-106v132.3l.5-107.8v78.7l.5-84.3v120.9l.5-164.3v148.9l.5-100.7v100.7l.5-95.9v85l.5-92.7v83.7l.5-68.8v87.7l.5-98.9v117.5l.5-122.9v79.5l.5-75.3v86.6l.5-84.3v84.6l.5-101.2v93.5l.5-80.6v80.2l.5-108v116.7l.5-89.1v97.4l.5-80.7v81.1l.5-91.6v112.1l.5-112.6v89.5l.5-134.7v146.1l.5-101.1v87.7l.5-115.5v153.8l.5-141.7v134.9l.5-122.7v111.8l.5-115.7v114.2l.5-127.7v100.9l.5-78.6v109.3l.5-138v125.9l.5-88.5v71.1l.5-78.1v107.1l.5-108.3v78.9l.5-83.3v86.6l.5-101.4v138.1l.5-117.4v79.6l.5-102.1v123.3l.5-137.5v107.5l.5-97.5v101.5l.5-64.7v69.5l.5-84.1v87.5l.5-83.6v66.1l.5-74.5v113.8l.5-153.1v128.8l.5-90.1v99.4l.5-96.6v86.5l.5-76.2v77.7l.5-83.6v124.5l.5-127.7v84.8l.5-104.4v105.2l.5-86v94.2l.5-75.2v63l.5-74.4v80.7l.5-100.5v96.8l.5-105.9v110.5l.5-117.6v124.4l.5-81v72.9l.5-93.3v114.2l.5-117.2v97l.5-81.7v69.8l.5-72.2v81.6l.5-76.9v89l.5-125.5v136.4l.5-108.5v85.5l.5-95.1v94.4l.5-104v99.3l.5-82.4v87.3l.5-75v83.1l.5-93.3v76.3l.5-99v119.3l.5-98.2v93.8l.5-98.6v98.4l.5-88.2v86.9l.5-137.2v136.3l.5-94.2v87.2l.5-79.5v103.9l.5-99.2v86.6l.5-106.7v92.7l.5-85v86.3l.5-103.4v102.5l.5-78.1v84.2l.5-88.1v88.5l.5-93.2v115.2l.5-105.6v84.4l.5-80.7v94.7l.5-105.7v109.3l.5-119.7v122.9l.5-112.7v87l.5-113.4v133.5l.5-112.3v106.8l.5-108.2v104.8l.5-94.7v86.7l.5-116.9v130.3l.5-93.8v87.5l.5-101.7v90.6l.5-83.3v102.9l.5-101.7v76.1l.5-100.1v132.7l.5-129.4v126l.5-152.9v123.2l.5-69.8v91.3l.5-109.8v96.7l.5-85.6v85.5l.5-90.6v127.4l.5-159.9v118.6l.5-68.8v78.2l.5-118.6v122.3l.5-133v139.2l.5-98.7v87.1l.5-79.3v87.6l.5-105.6v128l.5-117.1v82.3l.5-96.9v98.9l.5-107.2v110.9l.5-92v95.6l.5-97.4v88.3l.5-78v76.6l.5-78v91.5l.5-91.9v87.7l.5-106.5v100.7l.5-109.4v116.6l.5-85.3v99.3l.5-108.2v96.6l.5-97.6v83.6l.5-91.9v92.9l.5-77.2v71.2l.5-80v106.8l.5-95.3v81.5l.5-114.3v114.3l.5-85v101.9l.5-118v94l.5-118.3v118.9l.5-85.3v102.1l.5-134v119.9" stroke="#f00" stroke-width="0.85"/>
<path d="M1007.3 164.1V179.5M1008.3 88.5V90.9M1009.3 89.4V115.4M1010.8 104.1V122.2M1010.8 154.5V206.9M1011.8 158.9V159.9M1012.3 75.5V110.9M1012.8 157.4V172.4M1013.8 103.8V115.6M1014.8 92V93.3M1015.8 91.9V97.4M1016.8 79.8V121.9M1017.8 160.3V183.2M1018.3 54.3V101.2M1019.8 169.8V237.8M1020.3 50.8V94.7M1021.8 89.8V114.1M1022.3 177.6V183.3M1022.8 157.8V237.8M1024.3 92.3V104.4M1024.8 102.3V116.1M1025.8 97.7V124.1M1025.8 152.6V237.8M1026.3 91.6V124.1M1026.8 86.6V89.6M1026.8 177.7V237.8M1027.3 165V178M1027.8 45V114.8M1027.8 155.9V159.9M1028.8 74.4V118.1M1028.8 159.1V215.2M1029.8 89.8V110.9M1031.3 82.8V118.7M1031.3 160.2V237.8M1031.8 87.3V99.2M1031.8 167V190.9M1032.3 161.4V204.6M1033.3 83.4V109.7M1033.3 148.8V235.3M1035.8 87.3V112.7M1035.8 155.6V193.5M1036.3 169.9V231.7M1037.8 91.1V103.9M1039.8 97.9V120.6M1039.8 151.6V203.3M1041.3 92V98.3M1041.8 76.2V103.2M1041.8 147.8V209.1M1042.8 169V190.9M1044.8 113.1V114M1047.3 164.4V170.8M1047.8 93.4V95.1M1048.3 97.4V115.9M1048.8 167.2V182.8M1049.3 101.5V115.8M1050.3 173.1V178.1M1050.8 94.8V108.2M1053.3 78.8V120.7M1053.3 151.8V199.5M1053.8 86.7V101M1054.3 148.3V172M1055.8 160.9V237.8M1056.3 83.3V121.5M1056.8 162.8V203M1057.8 153.6V181.5M1058.3 154.6V193.5M1058.8 43.7V91.6M1059.3 165.7V237.8M1059.8 159.6V167.6M1060.3 111.4V116.5M1061.8 104.9V112.1M1061.8 148.6V237.8M1062.8 100V113M1062.8 175.9V184.6M1063.3 88.6V107.5M1063.8 156.8V188.6M1064.3 159.4V215.4M1064.8 147.2V237.8M1065.3 93.5V104.6M1065.8 78.4V90.9M1066.8 162.4V213.3M1067.3 96V110.5M1067.3 180.6V203.6M1067.8 98.8V99.6M1068.3 77.6V103.7M1068.8 172V201.5M1072.3 179.6V237.3M1072.8 83.1V105.3M1073.3 82.9V108.6M1073.8 154V192.2M1074.3 153.5V181.4M1075.8 74V91.2M1075.8 166V170.1M1076.8 147.6V203.1M1077.3 168.4V214.5M1078.8 50.6V111.4M1078.8 172.9V205.2M1079.3 97.2V121.3M1080.3 84.4V90.1M1080.3 178.2V237.8M1080.8 87.4V100.7M1080.8 154.2V237.8M1081.3 84.3V97.2M1082.3 83.3V91M1082.8 93V97.1M1084.3 161.7V196.7M1085.3 76.1V121.5M1085.3 156.8V224M1086.3 97.6V114.1M1086.3 173.5V189.5M1086.8 68.1V115.7M1087.3 83.3V104.7M1087.3 152.2V162.2M1087.8 177.8V195.5M1088.8 95.7V124.6M1088.8 155.8V198.4M1090.3 82V94.6M1090.8 53.8V101.5M1091.8 110.6V118.4M1092.3 175.7V237.8M1093.3 91.9V99.7M1094.3 84.6V119M1094.3 145.5V207.6M1095.3 169.7V180.9M1095.8 169V195.2M1096.3 80.6V106.2M1096.3 161.5V233.1M1096.8 150.9V220.5M1097.8 148.6V197.9M1098.3 167.3V218.9M1099.3 84.4V118.6M1099.8 66.3V97.2M1100.8 145.9V182.6M1101.8 176.2V206.8M1102.3 88.9V112.7M1103.8 86V113.8M1104.3 81.7V109.9M1104.8 169V237.8M1105.3 168.3V227.4M1105.8 156.5V186.9M1106.3 150.8V237.8M1107.8 69.2V101.8M1108.3 96.6V122.7M1108.3 150.6V237.8M1108.8 98.7V119.8M1108.8 151.5V205.2M1110.3 166.6V173.6M1111.8 45.2V122.1M1113.3 172.4V184.3M1113.8 107.1V113.8M1114.3 158.1V183.2M1114.8 155.8V172M1115.3 158.3V237.8M1115.8 52.7V115.4M1116.3 61.2V112.8M1116.3 161.8V179.4M1117.8 104.2V108.7M1118.3 172V184.2M1119.3 101.3V102.4M1120.3 96V97.6M1121.3 175.6V237.8M1122.3 167V210.2M1122.8 178.5V206.4M1125.3 95.7V116.2M1126.8 81V116.4M1126.8 144.9V186.4M1127.3 89.5V112.7M1127.3 180.2V237.8M1128.3 175.7V186.5M1128.8 92.1V92.5M1129.3 93.9V119.6M1129.3 152.2V204.7M1129.8 71.7V104.6M1130.3 63.7V114.9M1130.8 89.2V98.8M1131.8 95.9V115.2M1131.8 169.2V237.8M1132.3 94.9V98.2M1134.3 102.8V123M1135.3 170.4V237.7M1135.8 58.2V119.7M1135.8 168.6V237.8M1136.3 161.4V162.3M1137.3 73.2V98.3M1137.3 178.2V198M1137.8 179.7V234.6M1138.3 159.4V179.3M1138.8 94.4V94.6M1138.8 147.1V201.6M1140.3 89.8V104.7M1141.3 153.8V165.3M1141.8 168.9V217.6M1142.8 150.8V211.4M1143.3 161.2V225.8M1143.8 173.1V202.5M1144.8 158V237.8M1146.3 149.6V237.8M1146.8 162.4V201.7M1147.8 153.2V223.5M1148.8 146.1V218.3M1149.3 93.9V122.6M1150.3 71.3V108.6M1151.3 102.8V116M1151.8 78.2V115.2M1151.8 163.7V218.5M1152.3 174.3V185.4M1152.8 86.8V102.8M1153.3 157.4V222.6M1153.8 81.5V124.5M1153.8 180.1V237.8M1154.3 80.7V117.1M1156.8 169.8V205.7M1157.3 100V124.7M1157.3 172.9V188.3M1158.8 156.6V186.8M1159.3 82.9V117.7M1159.8 178.2V203.8M1160.3 43V112.8M1160.3 180.6V224.8M1161.3 67.7V119.5M1164.3 180.4V192.5M1164.8 98.8V103.3M1164.8 168.3V176.3M1165.3 45.4V90.8M1166.3 71.9V102.8M1166.3 150V167.7M1166.8 167.3V195.6M1167.8 70.7V114M1167.8 158.6V180.9M1169.3 96.2V116.3M1169.8 74.8V95M1171.8 175.7V237.8M1172.3 157.8V191.1M1172.8 69.3V103.9M1173.8 160.9V192.2M1174.8 90.3V122.2M1175.8 82.5V103.4M1180.3 174.8V209.1M1181.8 72.2V120.5M1181.8 148.3V193M1182.3 156.3V190.6M1182.8 83V102.5M1182.8 174.2V183M1183.8 176V237.6M1185.3 64.2V116.1M1185.3 166.8V168.4M1185.8 177.2V237.8M1186.3 73.7V111.7M1186.3 146V226.4M1187.8 170.1V219.7M1188.3 87.8V90.7M1188.3 161V237.8M1190.3 95.6V118.5M1190.3 173.4V227.1M1190.8 85.2V100.5M1191.3 103V118.3M1191.8 101.2V110.4M1192.3 100.9V115.6M1192.3 165.5V237.8M1194.3 75.4V105.9M1195.3 148.8V235.4M1196.8 102.7V123.9M1196.8 167V226.9M1197.3 151.2V237.8M1199.3 89.3V95.6M1199.8 150.6V213.4M1200.3 158.8V234M1200.8 149.2V221.9M1201.3 83.6V108.2M1202.8 109V122.5M1205.3 173.1V237.8M1205.8 148.2V188.9M1207.3 159.6V223.5M1208.8 87.7V96.4M1209.3 81.7V107.4M1209.3 149.3V207.5M1209.8 166.8V203.2M1210.3 168.9V237.8M1210.8 97.6V103.2M1211.3 163.7V189.5M1212.3 91V110.6M1212.3 155.2V168.5M1212.8 80.1V115M1212.8 162.2V201.3M1213.3 85.4V122M1213.3 178.2V196.7M1213.8 108.5V110.8M1213.8 168.7V237.8M1214.3 93.3V100.1M1216.3 89V90.9M1216.3 157.7V237.8M1217.3 87.7V123.5M1217.8 82.1V109.8M1218.3 146.7V198M1218.8 69.6V92.1M1219.3 172.9V174.9M1220.3 93.1V96.5M1220.3 169.5V237.8M1220.8 161.6V229M1221.8 97.2V101.1M1221.8 149V237.8M1222.3 98.7V113.1M1222.8 177.3V212M1223.3 172.7V220.1M1223.8 160.6V175.8M1224.3 70V103.1M1224.8 153.9V181.3M1225.8 97.2V116.7M1225.8 154.7V237.8M1226.8 70V102.9M1226.8 147.6V177.8M1227.3 172.3V237.8M1227.8 70.3V106.6M1228.3 66.7V103.4M1228.3 165.5V190.2M1228.8 93V102.3M1228.8 160.9V199.6M1229.3 84.5V101.8M1229.8 103V124.5M1230.3 91.1V116.5M1230.8 172V237.8M1231.3 81.9V105.2M1231.8 102.3V116.2M1232.3 148.4V187.5M1233.3 83.7V92.9M1233.8 172.8V202.6M1234.3 98V109.8M1234.3 179.8V207.6M1235.3 111.1V117.8M1236.3 178.5V237.8M1237.3 57.2V91.2M1237.8 149.6V237.8M1238.8 98.6V117.7M1239.3 163.9V202.1M1240.3 97.6V106.9M1240.3 154.4V226.8M1240.8 94V102.9M1240.8 178.8V237.8M1241.3 146V180.6M1241.8 157.9V237.8M1242.3 155.4V199.9M1243.3 107.9V119.9M1243.3 176.7V237.8M1243.8 96V105.9M1244.3 158.1V190.7M1245.3 99.7V104.6M1246.8 95.4V118.9M1246.8 158.5V236.2M1247.3 155.4V209.6M1247.8 103.2V121.9M1247.8 163.2V195.1M1248.3 170.6V185M1248.8 152V220.2M1250.3 170V237.8M1251.8 98.1V98.6M1252.8 178.5V179.4M1253.3 156.9V179.6M1255.3 154.6V161.1M1255.8 105.1V111.4M1255.8 147.6V204.3M1257.3 69.4V104.8M1257.8 153.8V193.4M1258.3 146.1V237.8M1259.3 165.1V237.8M1261.3 86V121.3M1261.8 165.7V199.2M1262.3 116.2V117.8M1262.3 157V177.2M1262.8 60.4V113.5M1263.3 145.7V170.8M1264.3 147.9V237.8M1264.8 161.1V237.8M1265.3 103.7V120.4M1265.8 169.8V192.5M1266.8 176V227.7M1267.8 92.3V111.5M1268.8 104.1V107.8M1269.8 179.5V192.7M1270.3 73.1V103.1M1270.3 155.3V216.9M1270.8 90.8V100M1271.8 85.4V95M1271.8 151.8V226.7M1272.8 157.4V179.5M1273.3 85.5V105.7M1275.3 147V196.3M1275.8 118V121M1276.3 153.8V224.4M1277.3 87.1V117.6M1277.3 149.4V177.6M1277.8 105.4V107.1M1277.8 144.7V237.8M1278.3 162.8V201.8M1278.8 108.4V117.6M1279.8 95.5V112.6M1279.8 166V186.3M1280.8 107.6V121M1281.3 178.7V184.5M1282.3 68.6V96.4M1282.8 166V192.7M1283.3 148.2V237.8M1284.3 161.2V196.8M1284.8 175.5V224.8M1285.3 167.5V186.3M1286.3 177.6V185.3M1286.8 172.6V182.4M1288.3 107.8V110.1M1288.8 150.4V185.3M1290.3 89.6V123.6M1290.3 164.5V190.7M1290.8 159V187.2M1291.8 85.2V98.8M1292.3 163.4V237.8M1293.8 98.3V123.4M1293.8 176.5V184.2M1294.8 106.4V113.3M1294.8 152.9V237.8M1296.8 162.3V200.9M1297.3 92.6V100.5M1297.8 95.2V109.9M1298.3 100.4V124.1M1298.8 168V175.7M1299.3 152.7V237.8M1300.8 146.5V164.2M1301.8 89.5V122.8M1302.3 102V113M1302.8 104.6V108.4M1303.3 86.6V110M1303.3 169.6V234.4M1303.8 74.8V92M1303.8 180V219.3M1304.8 177.3V237.8M1305.3 177.6V180.7M1305.8 168.6V237.8M1306.3 67.5V124.7M1306.8 159.4V195.9M1307.3 101.3V102.4M1307.8 57.2V101.4M1308.3 107.3V118.7M1309.3 83V93.2M1309.3 180.4V215.9M1310.3 69.6V101.7M1310.8 157.4V183.6M1311.8 169.8V237.8M1312.8 97V111.3M1312.8 151.1V196.4M1313.8 151.6V195.9M1314.3 94.6V105.2M1314.3 174.7V213.1M1317.3 156.1V220.1M1318.3 160.5V207.4M1318.8 167.8V175.3M1319.8 168.9V221.9M1320.3 171.5V212M1321.3 150.9V237.8M1321.8 95.3V116.9M1323.3 154.2V232.6M1324.3 75.1V112.1M1325.8 146.9V237.6M1326.3 148.2V165.1M1326.8 96.6V102.2M1327.8 174.6V191.7M1328.8 146.4V184M1329.3 169.5V237.8M1329.8 88.8V122.7M1329.8 171.2V201.6M1330.3 157.8V172.7M1331.3 93.9V109M1331.8 90.2V124M1332.8 148V237.8M1333.3 93.6V120M1333.3 172.4V205M1333.8 101.4V101.9M1333.8 169.6V201.9M1334.8 94.8V109.2M1335.8 102.6V115.1M1336.3 174.5V237.8M1336.8 156.4V180.5M1337.3 98V113.1M1337.3 154.5V194.9M1338.3 99V117.4M1338.8 83.6V120.8M1339.3 101.4V122.7M1339.8 164.8V211.1M1340.3 158.7V211.7M1340.8 103V124.4M1340.8 156.1V169.1M1341.3 92.3V119.8M1342.3 91.5V108.8M1342.3 166.7V199.2M1342.8 180.4V223.4M1343.3 176V229.4M1344.3 113.4V116.5M1344.3 174.4V220.6M1344.8 180.5V201.6M1345.3 85.7V99.5M1345.8 89.6V118.4M1346.3 82.6V98.1M1346.8 92.6V122.2M1347.3 179.3V227.6M1347.8 161.6V195.3M1348.3 103.8V110.7M1348.3 148.3V212.4M1349.8 101.2V111.1M1349.8 148.4V179.5M1350.3 105.7V106.8M1350.8 159.3V237.8M1351.8 102.1V114.5M1353.3 175V185.8M1353.8 160.7V237.8M1354.3 102.7V122.5M1354.3 152.9V185.5M1355.3 177.7V179.5M1355.8 162.2V208M1356.3 72.2V109M1357.3 149.7V203.9M1358.8 66.1V94.3M1359.3 102.4V110.2M1359.3 145.5V172.1M1360.8 174.5V237.8M1361.3 76.6V115.8M1361.3 161.9V237.8M1363.3 176.4V186.7M1364.3 168.9V237.8M1366.3 107.1V110.9M1366.3 175.7V179M1367.3 161.2V189.2M1367.8 111.5V113.4M1368.3 81.3V121.2M1368.8 146.2V177.5M1369.8 173.1V194.6M1370.3 169.2V176.3M1373.8 162.2V210M1374.3 97.2V97.6M1374.8 74.9V115.3M1374.8 163.1V176.5M1375.3 94V115.3M1376.3 172.1V229.8M1377.8 169V237.8M1378.3 170.5V237.8M1378.8 105.1V118.7M1379.3 114.3V122.3M1379.3 158V217.4M1379.8 65.3V110.5M1380.3 82.3V101.6M1381.8 97.7V124.2M1381.8 174.8V190.9M1382.3 152.4V237.8M1383.3 62.8V113.6M1386.3 152.6V232.7M1386.8 146.5V237.8M1387.3 170.7V196.6M1387.8 56.6V92.3M1388.3 168.2V187.7M1389.8 87.9V92.8M1389.8 152V237.8M1390.8 84.3V110.7M1391.8 163.2V181.6M1392.3 158.2V195.7M1392.8 104.6V124.5M1392.8 178.1V237.8M1393.3 95.5V123.4M1394.3 177.7V211.2M1395.3 169V172.1M1396.8 45.3V98.3M1398.8 146.8V179.7M1399.3 158.6V233.3M1401.3 98.3V107M1402.8 88.8V114.1M1403.3 95V96.2M1403.8 89.5V116.2M1405.3 174.4V237.8M1405.8 93.4V118.8M1405.8 158.4V176.5M1406.8 171.7V202.3M1407.3 155.8V187M1408.3 63.9V102.2M1408.3 170V187.1M1408.8 150V201.7M1409.3 84.9V94.7M1409.8 168.2V237.8M1411.3 159V237.8M1411.8 171.1V190.4M1412.3 90.5V112.3M1413.8 90.3V99.3M1413.8 165.4V191.6M1414.8 177.1V187M1415.3 111.9V123.2M1416.3 153.1V160.5M1417.3 106V117.4M1417.8 51.8V124.2M1417.8 176.7V220.2M1418.8 175.1V192.2M1419.3 103.4V104.4M1419.8 40.6V94M1419.8 153.3V194.6M1421.3 95.1V114.2M1421.3 158V216.9M1421.8 170.2V179.1M1422.8 152.3V177.2M1423.8 169.4V237.8M1424.3 58.3V89.3M1424.8 172.4V198.3M1425.3 86.9V117.9M1426.3 154.9V201.1M1426.8 168.6V237.8M1427.3 102.6V120.2M1427.8 158.4V180.8M1428.3 161.4V233.8M1428.8 60.4V115.2M1428.8 152V208.9M1429.3 179.8V203.7M1429.8 158V237.8M1430.3 174.3V202.6M1430.8 92.1V92.6M1431.3 91.5V101.6M1431.8 99.6V113.5M1433.3 150.4V237.8M1433.8 151.2V226.6M1435.3 179.5V230.7M1436.3 54.7V97M1436.3 171.5V237.8M1436.8 161.4V211.4M1438.3 151V174.6M1439.8 162.3V214.1M1440.8 160.5V172.3M1441.8 72.9V100.1M1442.3 155.1V237.8M1442.8 144.8V237.8M1443.8 77V96.8M1444.3 110.2V114.2M1444.3 168.4V237.8M1445.3 151.3V237.8M1446.3 106.3V123.5M1446.8 82.6V92.7M1446.8 172.5V206.6M1447.8 152.5V206.7M1448.3 105.5V122.1M1448.3 149.2V215M1448.8 153.7V237.8M1449.3 152.8V203.8M1451.8 98.2V123.9M1451.8 177V220.1M1452.3 78.7V91.3M1452.8 98.5V108.1M1452.8 176V195.9M1454.3 161.8V190.1M1454.8 82V91.3M1454.8 147.6V160.9M1455.3 55.7V99.9M1455.3 180V237.8M1456.3 69.8V104.3M1456.3 178.6V190.3M1457.8 69V109.6M1458.3 151.8V237.8M1458.8 162.4V237.8M1459.8 159.9V235.8M1461.3 106V113.1M1461.8 178.9V237.8M1462.3 71V124.4M1462.8 92V113.6M1463.3 66.6V91.4M1464.3 89.4V119.8M1465.3 172.2V232.3M1465.8 92.3V97M1466.3 83.6V116.3M1469.3 165.3V237.8M1470.3 72.2V101.5M1472.3 157.4V167.8M1474.3 104V113.5M1475.3 86.3V111.6M1475.8 94.8V105M1475.8 165.6V205.4M1476.3 93.5V122.9M1476.3 163.2V174.4M1476.8 155.9V194.5M1477.3 73.1V113.1M1478.3 156.5V160.1M1480.8 85.5V90.4M1480.8 165V185.5M1481.3 83.9V111.3M1481.3 166.8V204.3M1481.8 149.4V231.9M1482.3 158.3V228.5M1483.3 107.1V107.4M1484.3 78.8V120.8M1484.8 174V202.8M1486.8 153.5V237.8M1487.3 153.5V189.4M1489.8 83.6V110M1490.8 149.1V194M1491.3 150.1V199.4M1492.3 85.4V121.7M1492.3 176.7V184.6M1492.8 176.8V236.6M1493.8 98.9V123.1M1494.8 83.4V90.3M1494.8 166.6V192.3M1495.3 74.2V100.6M1495.8 55.9V119.2M1496.8 96V120.1M1497.3 102V108M1497.8 93.9V114.6M1498.8 179.5V185.5M1499.3 92.4V96.6M1499.8 87.9V101M1502.3 87.9V101.8M1502.3 163.7V191.7M1504.8 55.8V113.1M1505.3 159.9V201.3M1505.8 161.2V221M1507.3 146.1V206.7M1507.8 79.2V89.8M1508.3 104V111.1M1510.3 114.4V118.5M1510.8 162.6V202M1511.3 101.6V124.6M1512.3 167.1V237.8M1514.3 87.4V116.2M1515.8 154.6V237.8M1517.3 85V91.8M1517.8 78.7V122.6M1518.3 172.8V199.8M1518.8 100.1V110.6M1519.3 158.3V237.8M1520.3 158.6V205.4M1520.8 52V93.7M1522.3 46.2V98.5M1522.8 70.8V120.3M1524.3 85.1V109.8M1525.3 61.6V90.6M1525.8 171.4V236.1M1526.3 82.8V104.1M1526.8 74.9V105.4M1526.8 170.7V203.9M1527.3 74.9V93.1M1527.8 176.8V182.7M1528.3 101.2V107.8M1529.3 151.2V196.1M1529.8 162.5V192.2M1530.3 162.2V186.2M1530.8 149.4V220.7M1531.8 107.6V123.1M1533.8 92.4V110.9M1534.3 168.4V196.6M1535.3 87.6V118.6M1535.3 152.1V219.1M1535.8 103.1V123.7M1537.3 97.5V108.3M1537.3 178.6V201.1M1538.3 92.4V114.4M1538.3 157.7V189.8M1538.8 106.5V110.9M1538.8 169.9V236.2M1539.3 96.3V105M1539.3 173.9V237.8M1540.3 50.3V94.9M1540.8 43.6V106.8M1542.8 114.3V118.9M1542.8 177.1V179.1M1543.3 148.6V217.8M1543.8 76.3V96.7M1544.3 96.2V121.7M1544.3 167.3V185M1545.3 41.3V101.3M1545.8 176.6V237.8M1547.8 170.9V237.8M1548.3 92.1V112.7M1548.3 155.8V187.6M1548.8 159.8V185.2M1549.8 164.9V224M1550.8 69.9V122.1M1551.3 106.6V121.4M1551.3 179.1V212.4M1553.3 148.1V228.7M1557.3 163.8V212.9M1557.8 149.1V215.8M1558.8 161.5V183M1559.8 93V93.8M1559.8 172.7V184.6M1561.3 171.2V201.7M1562.3 73.1V98.7M1562.8 167.1V237.8M1563.8 177V194.9M1564.3 98.5V114.3M1564.3 163.7V237.8M1564.8 155V167.2M1566.3 71.6V116.3M1567.8 106.9V109.2M1567.8 147.9V221.9M1568.3 146.7V186M1568.8 166.7V231.6M1569.3 150.3V237.8M1571.3 106.8V123M1571.3 153.8V205.3M1572.3 147.6V237.8M1573.8 171.6V189.6M1574.8 77.4V124.7M1574.8 152.9V237.8M1575.3 88.6V103M1575.3 148.5V183.7M1575.8 101.2V106.6M1576.3 164.7V217.6M1576.8 107.6V118.1M1576.8 163.6V237.8M1577.3 172.2V195.2M1577.8 93V111.4M1577.8 169.4V221.3M1579.3 96.6V100.5M1579.8 100.7V104.5M1579.8 163.8V181.5M1580.3 87.6V113M1580.3 165.5V184M1580.8 102V119M1580.8 178.9V227.5M1581.3 162.7V237.8M1582.3 156.2V188.7M1582.8 161.7V177.6M1583.3 81.8V104.7M1584.3 86.1V109.3M1584.3 151.6V232M1585.3 167.7V206.2M1585.8 111.2V114.1M1586.3 92.5V112.1M1586.3 159.7V237.8M1587.8 152.8V162.5M1588.3 154V192.5M1588.8 73.5V120.4M1589.3 93.5V114.1M1589.3 170.5V176.8M1589.8 100.8V114.9M1590.3 96.8V108.2M1591.8 163.6V237.8M1592.3 172.1V191.4M1593.3 99.3V122.1M1593.8 100.2V115.7M1594.3 152.4V198.6M1594.8 175.5V198.3M1595.8 91.2V118.2M1595.8 166.4V237.8M1597.3 173.5V218.1M1598.3 149V209.6M1598.8 162.9V207.2M1599.8 101.9V105.9M1600.3 62.3V107.9M1600.8 147.9V204M1601.3 102.3V120.2M1601.3 155.5V237.8M1601.8 170.5V237.8M1602.3 108.2V121.2M1602.3 167.1V237.8M1602.8 154.2V202.7M1603.3 93.4V113.4M1603.3 146.7V196.9M1603.8 146.2V237.8M1604.3 157.6V237.8M1607.3 74.7V108.9M1607.3 161.5V237.8M1608.8 89V124.1M1608.8 165.8V190.3M1610.3 156.4V237.7M1610.8 81.2V97.2M1611.3 146.7V222.1M1611.8 148.2V213M1612.8 172.7V237.8M1613.3 106.2V107.4M1613.8 172.8V196.5M1614.3 163.5V234.7M1614.8 74.3V99.5M1615.8 73.8V112.5M1617.8 72V115.2M1617.8 146.5V195.8M1618.3 90.5V99.6M1618.3 159.1V237.8M1618.8 105.2V124M1618.8 158.4V175.2M1619.8 82.7V89M1620.8 170.6V237.8M1622.8 180.2V195M1623.3 110.8V120.8M1623.3 163.9V173.1M1624.8 155.9V160.3M1625.3 156.4V237.8" stroke="#000" stroke-width="0.7" stroke-opacity="0.65"/>
</g>
<rect x="1007.3" y="31.7" width="618.1" height="206.1" fill="none" stroke="#2a2a2a" stroke-width="1.3"/>
<text class="pl" transform="translate(832.6 41.5) scale(0.975 1)">B</text>
<text class="tk" text-anchor="end" transform="translate(1001.8 46.7) scale(0.86 1)">0.8</text>
<text class="tk" text-anchor="end" transform="translate(1001.8 98.2) scale(0.86 1)">0.4</text>
<text class="tk" text-anchor="end" transform="translate(1001.8 149.8) scale(0.86 1)">0</text>
<text class="tk" text-anchor="end" transform="translate(1001.8 201.3) scale(0.86 1)">0.4</text>
<text class="se" font-size="29.5" text-anchor="end" x="957.7" y="201.3">–</text>
<text class="tk" text-anchor="end" transform="translate(1001.8 252.8) scale(0.86 1)">0.8</text>
<text class="se" font-size="29.5" text-anchor="end" x="957.7" y="252.8">–</text>
<text class="tk" text-anchor="middle" transform="translate(1013.6 277.3) scale(0.86 1)">5</text>
<text class="tk" text-anchor="middle" transform="translate(1075.4 277.3) scale(0.86 1)">8</text>
<text class="tk" text-anchor="middle" transform="translate(1137.1 277.3) scale(0.86 1)">11</text>
<text class="tk" text-anchor="middle" transform="translate(1198.9 277.3) scale(0.86 1)">14</text>
<text class="tk" text-anchor="middle" transform="translate(1260.7 277.3) scale(0.86 1)">17</text>
<text class="tk" text-anchor="middle" transform="translate(1322.5 277.3) scale(0.86 1)">20</text>
<text class="tk" text-anchor="middle" transform="translate(1384.2 277.3) scale(0.86 1)">23</text>
<text class="tk" text-anchor="middle" transform="translate(1446.0 277.3) scale(0.86 1)">26</text>
<text class="tk" text-anchor="middle" transform="translate(1507.8 277.3) scale(0.86 1)">29</text>
<text class="tk" text-anchor="middle" transform="translate(1569.5 277.3) scale(0.86 1)">32</text>
<text class="tk" text-anchor="middle" transform="translate(1631.3 277.3) scale(0.86 1)">35</text>
<text class="se" font-size="46" transform="translate(907.0 347.5) rotate(-90) scale(0.966 1)">Acceleration <tspan font-size="49" dy="1">[</tspan><tspan dy="-1">m/s</tspan><tspan font-size="28" dy="-14.5">2</tspan><tspan font-size="49" dy="15.5">]</tspan></text>
<rect x="942.0" y="295.0" width="300.0" height="52.2" fill="#fff" stroke="#555" stroke-width="1.4"/>
<text class="se" font-weight="700" font-style="italic" font-size="58" transform="translate(949.8 334.4) scale(0.96 1)">a</text><text class="se" font-weight="700" font-style="italic" font-size="45" x="975.8" y="334.4">x</text><text class="se" font-weight="700" font-size="29" stroke="#000" stroke-width="0" x="997.8" y="334.4">2</text><text class="se" font-size="42.5" stroke="#000" stroke-width="0.4" x="1012.0" y="333.9">*</text>
<path d="M1023.7 327.0H1077.4" stroke="#f00" stroke-width="5"/>
<text class="se" font-weight="700" font-style="italic" font-size="58" transform="translate(1106.4 334.4) scale(0.96 1)">a</text><text class="se" font-weight="700" font-style="italic" font-size="45" x="1131.4" y="334.4">y</text><text class="se" font-weight="700" font-size="29" stroke="#000" stroke-width="0" x="1153.4" y="334.4">2</text><text class="se" font-size="42.5" stroke="#000" stroke-width="0.4" x="1167.6" y="333.9">*</text>
<path d="M1179.7 326.3H1233.4" stroke="#000" stroke-width="5"/>
<text class="se" font-size="45" transform="translate(1249.9 339.8) scale(0.982 1)">Time <tspan font-size="48.5" dy="0.6">[</tspan><tspan dy="-0.6">s</tspan><tspan font-size="48.5" dy="0.6">]</tspan></text>
</g>
<g id="panelC">
<path d="M250.8 450.6V653.2M312.3 450.6V653.2M373.9 450.6V653.2M435.5 450.6V653.2M497.1 450.6V653.2M558.6 450.6V653.2M620.2 450.6V653.2M681.8 450.6V653.2M743.3 450.6V653.2M189.2 501.2H804.9M189.2 551.9H804.9M189.2 602.6H804.9" stroke="#c8c8c8" stroke-width="1" fill="none"/>
<clipPath id="cC"><rect x="188.7" y="450.6" width="616.7" height="202.6"/></clipPath>
<g clip-path="url(#cC)" fill="none" stroke-linejoin="bevel">
<path d="M189.2 500.5v126.9l.5-125.9v105.7l.5-119.2v148.6l.5-128.1v113.1l.5-121.6v113.7l.5-104.1v143.6l.5-195.7v149.4l.5-90.9v98.9l.5-104.7v109.6l.5-108.2v96.6l.5-135.4v167.2l.5-131.9v145.1l.5-154.2v111l.5-116.7v118.3l.5-111.1v113.4l.5-141.2v138.6l.5-104.4v114.6l.5-122.1v128l.5-119.9v109.1l.5-138v139.3l.5-103.3v138.6l.5-143.9v92.3l.5-91.2v107l.5-104.8v139.3l.5-156.3v138.9l.5-123.6v130.5l.5-170.8v145l.5-106.4v91.3l.5-101.9v116.8l.5-101.5v103.1l.5-126.4v145.4l.5-119.6v132l.5-163.6v129.2l.5-122.3v142.9l.5-138.4v126.5l.5-160.3v161l.5-140.9v127.8l.5-97.7v110.8l.5-136v118.3l.5-96.2v120.3l.5-148.7v142.5l.5-111.3v140.9l.5-151v151l.5-136v95l.5-102.9v112.9l.5-153.1v159.4l.5-142.5v121.7l.5-109.5v116.1l.5-110.4v94.6l.5-117.5v134.2l.5-112.2v109.7l.5-107.7v102.2l.5-101.2v111.3l.5-106.8v99.3l.5-125.2v129.1l.5-99.5v98.9l.5-110.5v114l.5-109.6v97.9l.5-116.7v132.1l.5-128.1v133.3l.5-107v134.7l.5-150.2v111.2l.5-96.4v94.7l.5-109.1v111.8l.5-132.2v118.8l.5-113.7v137.3l.5-137.1v140.9l.5-129.8v105.7l.5-117.3v123.6l.5-113.1v117.2l.5-154v155.6l.5-135v133.3l.5-112.1v107.6l.5-116.1v155.8l.5-153.7v128.8l.5-112.4v96l.5-107.6v126.6l.5-151.5v137.5l.5-105.3v97l.5-125.2v131.8l.5-141.4v144.4l.5-110.3v95.9l.5-101.6v140.7l.5-144.7v127.8l.5-123.2v120.7l.5-125.2v120.9l.5-109.7v100.6l.5-96v123.4l.5-161.4v127.6l.5-93.7v118.2l.5-142.1v131.6l.5-121.6v159.7l.5-151.7v122.2l.5-136.5v117.9l.5-88.2v114.1l.5-120.9v95l.5-105v97.8l.5-96.7v152l.5-158.7v113l.5-150.3v145l.5-96.1v102.9l.5-95.4v109.4l.5-141.6v132.1l.5-139.6v126.5l.5-119.6v139.1l.5-103.2v100.5l.5-130.1v121l.5-110.3v124l.5-116.3v99.8l.5-97.2v136.3l.5-136.3v107.3l.5-113.2v151l.5-138v89.8l.5-109.3v127.5l.5-157v148l.5-114.1v115l.5-159.4v197.5l.5-184.2v147.5l.5-124.9v145.5l.5-138.4v119.7l.5-109.2v132.2l.5-159.5v140.5l.5-104.1v131.2l.5-144.8v118.2l.5-121.4v105.2l.5-94.9v96.4l.5-108.9v106.8l.5-125.2v129l.5-111.3v112.3l.5-103.5v102.6l.5-115.7v121.6l.5-113.3v100.8l.5-108.7v121.8l.5-138.9v135.6l.5-105.1v94.9l.5-87.1v109.4l.5-131.1v113.6l.5-105.4v112.6l.5-111.1v99l.5-94.8v98.3l.5-147.5v175.6l.5-142.4v131.5l.5-143.2v131.1l.5-148.9v145.8l.5-96.6v108l.5-121.4v132.2l.5-154.4v138.7l.5-128.3v117.4l.5-145.3v167.8l.5-139.5v125.6l.5-104.7v111.1l.5-113.8v137.1l.5-178.5v152.5l.5-99.2v112.7l.5-127.9v133.5l.5-148.6v136.6l.5-126.7v123.6l.5-116.1v116.2l.5-116.9v101.7l.5-98.6v105.6l.5-129.6v139.9l.5-126.8v126.3l.5-145.2v158.1l.5-148.1v128.5l.5-111v103.5l.5-105.3v131.5l.5-134.5v125.9l.5-124.4v120.3l.5-112.2v121.7l.5-131.1v110.2l.5-109.7v108.4l.5-126.9v127l.5-125.1v128.2l.5-111.5v107.2l.5-119.1v141.8l.5-155.9v132.1l.5-100v91.1l.5-94.4v114.9l.5-115.1v123.6l.5-122.1v115.2l.5-121.6v154.7l.5-133.9v84.9l.5-122v113.3l.5-81.4v94.6l.5-87.4v89.7l.5-106.7v101.5l.5-92.4v95l.5-93.3v105.2l.5-114.5v117l.5-120.5v134.2l.5-179.6v145.2l.5-114.1v131l.5-127.5v113.2l.5-99.3v101.4l.5-106.1v130.6l.5-137.2v109.6l.5-95.1v96.3l.5-102.9v118l.5-133.4v109.6l.5-90.8v106.7l.5-103.4v114.5l.5-127v113.4l.5-134.5v135.4l.5-118v111.9l.5-105.2v118.7l.5-119.1v121.1l.5-119.4v105.2l.5-93.3v132.5l.5-157.7v124l.5-150.3v159.2l.5-101.9v104.2l.5-140.5v167.1l.5-151.6v108.4l.5-98.3v89.5l.5-91.9v131.3l.5-139.4v127.4l.5-130.3v125l.5-104.8v99.8l.5-103.4v109.3l.5-151.4v134.2l.5-109.1v124.9l.5-121.2v127.6l.5-154.9v130.2l.5-93.8v98.3l.5-94.4v124.5l.5-130.6v108.2l.5-112.5v116.9l.5-106.6v99.6l.5-113.4v122.9l.5-150.3v146.5l.5-107.3v102.2l.5-125.9v129.8l.5-107.1v97.6l.5-126.8v161.7l.5-125.9v139.8l.5-146.9v141.1l.5-151.1v108.3l.5-118.4v120.6l.5-102.7v128.2l.5-134.9v108.3l.5-125.7v172.6l.5-152.6v153.2l.5-150.6v100l.5-98.9v146.1l.5-180v134.2l.5-104.1v105.6l.5-152.8v161.2l.5-124.3v118.7l.5-112.6v122.2l.5-135v132.8l.5-129.3v120.9l.5-90.9v131.4l.5-138.4v110l.5-114.8v95.3l.5-118.3v152.8l.5-142.8v121.8l.5-116v118.1l.5-118.4v118.9l.5-106.6v107.1l.5-118.8v137.9l.5-147.4v140.9l.5-136.1v118.2l.5-115v122.9l.5-163.6v192.5l.5-139v110l.5-119.5v153.7l.5-141.1v93.2l.5-98.4v106.5l.5-104.4v118.5l.5-138.2v151.3l.5-132.9v104.6l.5-101.9v121.5l.5-116.7v107.9l.5-116.9v106l.5-104.9v106l.5-109.7v130.3l.5-136.5v129.3l.5-124.9v112.6l.5-119v157.8l.5-156.1v125.3l.5-133v116.8l.5-98.6v96.7l.5-107v139.5l.5-162.9v147.1l.5-120.6v105.5l.5-128.5v142.6l.5-118.7v104.6l.5-96.1v111.5l.5-136.8v132.4l.5-115.3v97.8l.5-94.6v119.3l.5-128.9v121.6l.5-113.1v133.8l.5-134.7v108l.5-97.6v98.7l.5-102.9v113.2l.5-138.3v129.8l.5-149v153l.5-120v144.3l.5-137.8v115.9l.5-138.1v129.2l.5-105.1v89.1l.5-95.5v105.1l.5-116.5v118.4l.5-102.8v135.6l.5-141.5v131.1l.5-129.4v127.8l.5-148.9v128.1l.5-105.4v108.7l.5-107.1v113.4l.5-118.3v119.1l.5-118.7v122.5l.5-142.7v150.2l.5-130.5v116.8l.5-105.7v93.9l.5-121.8v120.3l.5-137.8v152.8l.5-140.8v134.2l.5-127.7v134.3l.5-124.8v154.3l.5-144.3v102.1l.5-94.6v114.8l.5-119.3v122.1l.5-121.5v121.4l.5-135v118.8l.5-106.7v101.3l.5-94.2v96.4l.5-109.3v114.7l.5-130.7v171.3l.5-157.5v115.1l.5-114.9v124.5l.5-120v114.4l.5-143.2v174l.5-136.8v116.6l.5-126.3v122l.5-108.6v99.8l.5-103.7v127l.5-148.3v145.4l.5-122.7v101.8l.5-119.4v153.6l.5-142.3v130.3l.5-166.1v144.9l.5-117.6v136.4l.5-124v104.7l.5-112.1v121.3l.5-114.1v105.6l.5-110.2v123.8l.5-107.5v83.1l.5-103.4v154.4l.5-155.2v137.4l.5-158.5v135l.5-106.6v121.2l.5-134.2v160.9l.5-154.5v119l.5-123.7v127l.5-111.8v132.8l.5-131.7v98.8l.5-127.1v171.2l.5-147.4v119.5l.5-163.3v153.2l.5-132.5v170.5l.5-141.1v141.1l.5-183.1v142.6l.5-102.7v111.2l.5-112.5v119.4l.5-108.5v88.2l.5-100.1v136.6l.5-163.3v136l.5-107.5v104.2l.5-129.5v159.3l.5-127v88.7l.5-100.2v137.4l.5-144.7v129.2l.5-146.6v166.4l.5-126.1v93.8l.5-111.3v127.5l.5-126.3v114.5l.5-118.2v118.3l.5-137.4v131.3l.5-111.7v104.5l.5-127.7v150.8l.5-116.4v120.1l.5-122.5v112.8l.5-116.8v111.1l.5-102.8v90.2l.5-80v123.3l.5-160.4v150.4l.5-147.2v129.8l.5-131.5v124.8l.5-154.9v150.7l.5-121.5v163.4l.5-151.6v120.8l.5-110.7v97.4l.5-98.7v112l.5-114.3v95.9l.5-100.3v138.1l.5-164.7v153.6l.5-122.5v138.4l.5-176.8v157.6l.5-141v135l.5-121v107.6l.5-109.3v117.5l.5-96.3v135.2l.5-172.5v172.5l.5-148.9v143.9l.5-173.1v162.9l.5-150.9v128.8l.5-111.7v146.9l.5-174.1v137.8l.5-108.6v129.6l.5-138.9v124.1l.5-114.8v106.3l.5-107v128.3l.5-137.3v139.6l.5-129.3v102.9l.5-107.6v104.8l.5-129.8v135.7l.5-101.3v94.2l.5-97.1v115.4l.5-118.5v103.9l.5-117.1v119.5l.5-99.7v122.1l.5-120.5v139.5l.5-143.7v98.9l.5-96.9v103.2l.5-104.6v117.8l.5-107v93.9l.5-99.3v86.9l.5-103.6v101.1l.5-108.5v152.5l.5-180.4v148.6l.5-113.5v118.3l.5-122.8v123.9l.5-107.7v96.7l.5-104.4v108.8l.5-107.5v117.3l.5-122.2v105.6l.5-97v98.7l.5-108.9v104.9l.5-91.8v108.1l.5-138.4v132.7l.5-133.9v147.3l.5-131.6v136.5l.5-123.6v114.9l.5-125.7v119.1l.5-125.5v124.1l.5-130.9v142.6l.5-159.1v147.6l.5-113.8v132.5l.5-134v104.9l.5-127.6v136.4l.5-120.1v129.6l.5-136.2v142.2l.5-140.2v137.5l.5-136.7v124.4l.5-115.8v112.3l.5-125v143.9l.5-130v116.1l.5-106.5v122.5l.5-125.3v147.4l.5-142.2v136.7l.5-147.7v136.1l.5-138.6v126.5l.5-119.8v111.5l.5-100v111.9l.5-112.1v90.8l.5-95v107.4l.5-110.8v113.4l.5-121.6v153.5l.5-140.3v105.2l.5-93.5v118.2l.5-142.9v153.3l.5-149.2v108.5l.5-100.9v111.2l.5-131.1v153.4l.5-139.8v107.8l.5-108.4v113.6l.5-128.4v147.5l.5-117.7v114l.5-133.9v118.8l.5-111.2v145.8l.5-171.2v123.4l.5-108.6v112.2l.5-96.5v98.3l.5-111.6v116.2l.5-107.7v142.9l.5-138.1v93.1l.5-104.7v123.8l.5-132.1v142.9l.5-140.4v158.1l.5-152.4v103.6l.5-98.7v147.5l.5-154v127.2l.5-110.3v137.1l.5-173.1v129.5l.5-98.2v125.2l.5-135.9v103.5l.5-90v101.8l.5-98.8v110.8l.5-128.7v106.8l.5-103.8v124.9l.5-112.9v97.2l.5-123.1v135.9l.5-115.3v144.2l.5-153.6v136.8l.5-129.5v90.5l.5-110.3v166.1l.5-152.3v152.3l.5-146.5v144l.5-133.3v114.6l.5-119.2v96.2l.5-93.1v101.3l.5-106.5v108.5l.5-112.3v135.4l.5-133.8v95.9l.5-95.1v124.6l.5-128.7v125l.5-120.5v99.1l.5-101.7v126.3l.5-129.9v110.3l.5-130.7v134.7l.5-108.8v108.1l.5-108.6v113.5l.5-119.5v120.8l.5-113.7v140.1l.5-168.3v144.6l.5-122v114.7l.5-142.2v175.8l.5-137.2v99.2l.5-128.7v139.2l.5-123v151.4l.5-181.9v149l.5-160.2v156.7l.5-115.5v143l.5-168.3v137.7l.5-117.8v134.7l.5-113.5v102.8l.5-122.2v114.7l.5-110v115.6l.5-140.8v154.4l.5-120.8v140.9l.5-150.9v103.6l.5-96.6v116.6l.5-165.1v153.2l.5-146.1v143.4l.5-123.5v142.8l.5-151.6v137.9l.5-161.7v179.1l.5-129.7v103.5l.5-107.9v110.6l.5-130.3v142.8l.5-121.3v120.1l.5-158.3v175.5l.5-125.2v95.8l.5-149.6v194.4l.5-179.5v138.5l.5-121.9v140.6l.5-153.8v158.9l.5-135.7v146.2l.5-194.9v161.4l.5-141.8v152.8l.5-152.9v131.3l.5-119.7v142.1l.5-163.4v151.9l.5-114.6v154.5l.5-173.2v133.1l.5-150.9v153.9l.5-121.3v158.4l.5-157.1v126.3l.5-112.3v115.3l.5-168.8v158.1l.5-122.7v145.8l.5-131v103.6l.5-105.3v124l.5-142.1v125.2l.5-107.2v134.3l.5-135.1v110.5l.5-159.4v154.3l.5-109.9v132.8l.5-128v99.7l.5-110.2v111.8l.5-105.4v126.3l.5-112.2v124.4l.5-122.5v136.8l.5-145.8v113.7l.5-102.8v83l.5-98.9v110.3l.5-96v98.3l.5-137.9v131.9l.5-113v119.2l.5-111.4v101.1l.5-108.3v127.8l.5-155.9v147.5l.5-101v100l.5-118.4v137.4l.5-133.2v96.7l.5-96.5v118.4l.5-133.8v148.4l.5-167.1v150.1l.5-142.6v132.3l.5-110.5v107.7l.5-88v120.7l.5-136v115l.5-103.1v102.8l.5-126.8v143.5l.5-142.1v119.1l.5-95.2v131.1l.5-138.5v109.8l.5-107.7v109.5l.5-118.2v153.4l.5-151.8v123.7l.5-118.2v123.6l.5-139.5v120.7l.5-106.1v109.9l.5-107.5v144.5l.5-155.1v112.9l.5-109.6v119.3l.5-118.7v103.7l.5-120.5v135.7l.5-107.7v138.2l.5-195.2v156.5l.5-105.5v109l.5-103.2v105.9l.5-136.7v145.9l.5-121.7v101l.5-99.1v108.4l.5-119.9v115.6l.5-104.3v104l.5-108.1v117.9l.5-117.2v95.8l.5-118.7v124.5l.5-128.4v131.2l.5-106.8v103.7l.5-112.6v135.2l.5-113.6v92.4l.5-132.2v156.2l.5-125.5v123l.5-150.7v162.7l.5-130.8v101.3l.5-102.2v107.7l.5-123.4v140.4l.5-120.4v101.7l.5-128.5v134.2l.5-109v107.3l.5-118.6v110.5l.5-128.3v171.1l.5-153.5v111.7l.5-101.3v95.4l.5-92.4v111.7l.5-111.6v96.1l.5-110.1v133.3l.5-117.2v97.1l.5-121.1v127.9l.5-114.3v112.6l.5-106.4v109.6l.5-110.5v134.1l.5-147v124.2l.5-107.5v109.5l.5-113.5v110.4l.5-120.1v110.8l.5-139.5v148.4l.5-110.3v98.5l.5-100.3v136l.5-133.5v114.1l.5-120.7v142.3l.5-135.2v109.7l.5-102.8v108.5l.5-116.9v122.5l.5-124.2v108.9l.5-115v103.1l.5-98v128l.5-136.8v121.9l.5-104.4v88.2l.5-94.7v103.1l.5-126.9v139.4l.5-111.4v108.7l.5-115.5v146.9l.5-152.8v109.8l.5-109.6v121.3l.5-136.8v114l.5-76.2v94.5l.5-120v101.2l.5-88.9v98.9l.5-130.7v122.7l.5-94.3v132.8l.5-143.2v124.3l.5-113.8v101.8l.5-99.2v144.2l.5-150.4v106.8l.5-105.4v108.9l.5-116.3v117.5l.5-114v152.9l.5-171.4v147.7l.5-117.3v107.7l.5-102.2v110.6l.5-160.5v147.7l.5-122.6v133.6l.5-139.5v133.5l.5-150.6v166.3l.5-147.6v127.9l.5-136.4v152.8l.5-123.2v97.3l.5-119.5v165.7l.5-194.1v182l.5-135.7v106.8l.5-107.9v148.9l.5-171.3v141.9l.5-134.1v143.4l.5-130.5v142.6l.5-139.3v127.9l.5-132.3v150.2l.5-141.1v126.5l.5-143.4v132.5l.5-143.1v140.7l.5-125.8v104.3l.5-109.5v110.2l.5-95.6v115l.5-110.6v105.9l.5-125.6v139.2l.5-173.6v143.3l.5-109v141l.5-122.3v120.2l.5-130.2v110.6l.5-99.7v93.7l.5-93v124.5l.5-157.2v161l.5-128.9v101.9l.5-123.3v139.4l.5-126.2v127.6l.5-149.8v161.1l.5-132.7v116l.5-123.7v121.4l.5-122.5v103.6l.5-112.2v137.5l.5-152.4v147l.5-116.5v109.5l.5-104.6v112.4l.5-125.6v110.8l.5-112.8v95.7l.5-84.5v97.8l.5-130.7v136.9l.5-96.9v137.3l.5-170.4v127.4l.5-105.5v102.2l.5-108.9v122.9l.5-115.7v100l.5-105v117.3l.5-111.3v115l.5-106.4v111.1l.5-115v138.4l.5-162.2v129.3l.5-119.9v139.8l.5-161.9v142.1l.5-112.1v148.8l.5-166.1v132l.5-131.3v121l.5-121v133.6l.5-133.6v165.4l.5-144.7v102.9l.5-111.2v95.4l.5-104.4v115.1l.5-111.7v119.5l.5-147.5v138.6l.5-107.3v121.1l.5-106.7v117.5l.5-129.7v105.9l.5-104v108.6l.5-140.2v158.3l.5-123.9v120.8l.5-130.2v144.7l.5-139.3v152.4l.5-150.8v119.6l.5-154.2v135.6l.5-131.2v135.9l.5-112.4v131.7l.5-110.5v89.4l.5-146.7v157.4l.5-123.1v109.8l.5-99.4v100.4l.5-139.8v146.5l.5-107.8v129.9l.5-120.7v115.6l.5-170.5v162.2l.5-159.8v145.3l.5-90.9v124.8l.5-126.7v104.7l.5-137.3v125.9l.5-114.8v138.1l.5-160.5v138l.5-110.2v143.2l.5-166.9v180.2l.5-155.8v143.3l.5-141.8v116l.5-104.1v99.2l.5-135.4v143.3l.5-119.7v123.8l.5-126.5v137.3l.5-146.1v134.8l.5-141.2v150.5l.5-153.7v176.1l.5-193.5v144.6l.5-102.6v118.6l.5-133.3v128.5l.5-98.3v86.9l.5-90.8v95.2l.5-93.8v85.8l.5-93.5v108.1l.5-123.5v138.7l.5-162.7v148.8l.5-136.7v140.5l.5-120.8v104.3l.5-98.5v110.5l.5-107.7v111.3l.5-110v99.6l.5-155.2v169.3l.5-116.7v100.8l.5-97v99.5l.5-99.4v129l.5-129.9v112.8l.5-112.4v117.8l.5-114.5v101.5l.5-101.2v133.1l.5-167.3v125.8l.5-97.4v111.2l.5-129.8v164.3l.5-156.7v130.5l.5-136.5v132.6l.5-146.9v159.7l.5-142.1v117.4l.5-125.1v135.5l.5-124v119.8l.5-130v135.8l.5-112.3v105.6l.5-130v150.4l.5-156.7v144.6l.5-137.3v120l.5-98.2v101l.5-107v109.1l.5-121v138.9l.5-175.9v161.2l.5-108v96.8l.5-114.2v127.1l.5-106v110.2l.5-138.2v132.5l.5-111.1v125.6l.5-137.5v108.7l.5-101.2v124.5l.5-146.2v131.1l.5-95.2v97.1l.5-96.8v109.5l.5-119.6v129.3l.5-156.4v152.5l.5-120v106.9l.5-146.1v158.8l.5-139.1v157.3l.5-166.3v147.1l.5-123.6v96.8l.5-99.5v103.2l.5-140.4v188l.5-156.6v129.9l.5-123.6v107.3l.5-98.4v106.6l.5-115.9v128.4l.5-122.1v144.4l.5-146.3v88.1l.5-79.7v83.8l.5-83.7v114.2l.5-125.5v105.1l.5-109.1v111l.5-107v119.1l.5-140.8v150.2l.5-135.9v113.6l.5-122.8v111.4l.5-98.5v112.4l.5-137.9v146.4l.5-136.3v137.2l.5-110.9v141.9l.5-160.4v103.7l.5-89.8v101.5l.5-112.7v114.1l.5-118.4v133.6l.5-129.6v127.2l.5-110.3v101.9l.5-113.8v100.7l.5-114.4v133.6l.5-110.1v101.3l.5-123.5v107l.5-96.3v109.5l.5-141.5v143.1l.5-136v141.9l.5-140.2v119.4l.5-88.7v104.2l.5-113.8v114l.5-112.8v142.2l.5-157.2v134.7l.5-112.7v102.2l.5-126.3v139.1l.5-102v87.6l.5-99.6v118.4l.5-111v111.7l.5-114.8v128.3l.5-120.7v88.8l.5-121.7v137.3l.5-113.2v105.5l.5-112.6v102.9l.5-113.6v114.7l.5-123.5v144.3l.5-127.1v113.1l.5-95.7v93.2l.5-111.6v129.1l.5-115.7v84l.5-100.1v107.6l.5-139.9v154.1l.5-103.8v93.5l.5-91.6v87.9l.5-111.4v107.5l.5-110.2v124.1l.5-119.1v117.8l.5-98.8v97.7l.5-98.8v102.8l.5-108.6v96.3l.5-97.8v101.2l.5-109.3v102.6l.5-93.5v92.8l.5-102.1v109.7l.5-121.5v116.1l.5-92.6v93.8l.5-118.5v117.7l.5-98.9v112.7l.5-115.6v103.8l.5-120.4v170.2l.5-139.2v127.4l.5-128v139.9l.5-161.1v107.2l.5-105.6v102.4l.5-104.2v110.4l.5-95.3v119.3l.5-139.9v117.1l.5-104.5v111.5l.5-146v151.8l.5-141.8v125.5l.5-88v112.4l.5-113.2v98.6l.5-107.3v102.6l.5-95.9v101.2l.5-91.8v84.8l.5-109.6v119.4l.5-123.8v128.7l.5-143.4v132.5l.5-154.7v157.9l.5-110.1v152.9l.5-151.1v117.1l.5-129.6v112.1l.5-116v139.4l.5-151.4v154.1l.5-134.7v136.7l.5-138.9v121.9l.5-104.8v109.8l.5-151v130l.5-77.5v91.2l.5-113.7v105l.5-105.3v121.5l.5-156.9v158.4l.5-115.4v149.1l.5-144v112.6l.5-119.2v128.4l.5-141.6v111.9l.5-102.6v107.1l.5-137.5v131.9l.5-118.9v171.9l.5-143.5v113.4l.5-127.4v103.8l.5-92.9v114.2l.5-107v84.9l.5-90.2v98.6l.5-102.4v104.3l.5-111.9v102.8l.5-109.1v136.2l.5-125.9v112.5l.5-151.2v147.5l.5-115.5v111.6l.5-138.7v149.3l.5-96v100.9l.5-103.7v87.4l.5-110.7v119l.5-116.9v103.2l.5-97.5v126.8l.5-126v95.3l.5-104.5v131.2l.5-117.9v99.2l.5-98.5v95l.5-101.2v136l.5-135.4v128.1l.5-140.5v137.8l.5-137.7v124.6l.5-106.3v100.8l.5-106.2v106.6l.5-101.6v99.7l.5-112.2v110.9l.5-108.6v109.7l.5-126.3v134.8l.5-105.2v114.8l.5-118.6v144.5l.5-190.2v148.8l.5-102.5v104l.5-110v144.5l.5-163.6v119.7l.5-122.9v136l.5-108.7v120.8l.5-156.7v142l.5-91.4v81.6l.5-122.3v121.3l.5-123.3v143.2l.5-118.2v101.1l.5-90.3v89.8l.5-96.7v109l.5-103.8v110.3l.5-118v100.3l.5-102.3v150.3l.5-145.9v93.7l.5-103.4v119.2l.5-122.1v110.6l.5-127.9v123.1l.5-103.7v108.5l.5-98.5v105.9l.5-113.9v99l.5-98v110.5l.5-99.9v102.2l.5-122.2v126.2l.5-102.8v107.1l.5-159.8v155.9l.5-124.4v119.4l.5-97.5v107.8l.5-144.5v131l.5-104.3v118.9l.5-153.3v153.7l.5-129.7v131.9l.5-120.4v117.9l.5-145.4v175.1l.5-202.6v202.6l.5-166.2v122.6l.5-102.5v127.7l.5-173.2v142.5l.5-98.2v121.5l.5-115.3v123.5l.5-133.5v106.9l.5-123.3v127.9l.5-132.9v153.8l.5-155.4v124.2l.5-94v108.4l.5-115.4v144.4l.5-152.4v125.6l.5-114.3v96.3l.5-99.3v126.8l.5-116.8v90.7l.5-146.7v158.5l.5-104.5v107.8l.5-117.9v107.2l.5-110.7v125.8l.5-127.6v110.9l.5-104.1v121.6l.5-106.2v116.4l.5-144.7v119.4l.5-109v112.2l.5-104.1v115.6l.5-107.3v102.9l.5-125.7v110.6l.5-127.3v152.5l.5-138.2v138.8l.5-120.3v101.2l.5-125.3v131.9l.5-121.8v129l.5-128v119.6l.5-138.2v139.9l.5-164v157.7l.5-110v112l.5-119.7v110.8l.5-91.8v122.4l.5-129.3v101.4l.5-109.3v117.6l.5-149.4v132.8l.5-90.2v116.9l.5-137.6v128.2l.5-154v157.7l.5-129.9v139.6l.5-120.3v100.4l.5-120.8v144.4l.5-151.8v156.7l.5-170.3v146.3l.5-120.9v136.4l.5-163.7v153.5l.5-109.5v93.9l.5-96v105.8l.5-127.2v129.4l.5-145.1v148.9l.5-128.7v134.4l.5-150.5v155.5l.5-141.8v107.7l.5-80.3v122l.5-135.9v146.1l.5-145.6v100l.5-125.7v144.9l.5-119.7v108.5l.5-116.3v113.4l.5-97.2v121.3l.5-126.7v122.3l.5-142v141.3l.5-120.9v109l.5-128.6v152.9l.5-157.9v137.4l.5-147.9v142.4l.5-106v97.6l.5-96.3v107.8l.5-105.1v109.5l.5-114.5v121.4l.5-134v114.3l.5-114.4v131.3l.5-119.4v135.9l.5-132.8v116.6l.5-130.7v153.9l.5-142.4v104.6l.5-154.3v163.5l.5-121.6v117.3l.5-102v110.2l.5-118.8v125.6l.5-142.9v126.5l.5-109.4v104.5l.5-125.4v144.9l.5-142.7v150.8l.5-149.8v124.1l.5-106.3v106.1l.5-119.1v115.8l.5-89.9v100.1l.5-131.3v130.7l.5-131.3v137.3l.5-125.3v132.1l.5-116v125.6l.5-128.6v142.6l.5-158.6v121.5l.5-126.4v117.1l.5-105.5v111.6l.5-119v112.4l.5-105.1v147.7l.5-152.4v136.5l.5-126.7v123.5l.5-125.5v110.5l.5-117.5v120.8l.5-105.6v108.4l.5-108.6v104.6l.5-122.5v119.7l.5-118v114.5l.5-103.5v105l.5-110.5v110.4l.5-132.5v161.6l.5-131.8v101.2l.5-104.3v103.8l.5-101.4v127.2l.5-134.4v106.2l.5-154.2v159.8l.5-123.1v129.7l.5-134.5v126.1l.5-118.3v112.5l.5-95.9v93.8l.5-133.9v150.4l.5-115.6v117l.5-113.1v142.7l.5-142.5v109.4l.5-112.3v107.7l.5-105.3v106l.5-161.5v185.1l.5-178.2v169.2l.5-134.1v118.7l.5-119.1v133.7l.5-120.4v93.2l.5-111.6v133.6l.5-130.7v139.8l.5-123.4v106.2l.5-101.6v98.2l.5-125.5v120.2l.5-95.5v113.8l.5-150.9v150.2l.5-110.8v104.1l.5-114.1v132.6l.5-182.3v155.1l.5-116.9v119.5l.5-107.4v120.8l.5-132.5v131.9l.5-156.8v145.6l.5-101.8v98.1l.5-113.8v127.4l.5-111.1v89.7l.5-96.5v95.8l.5-94.4v106.2l.5-125.1v123l.5-109v96.4l.5-92.3v117.8l.5-124.3v117.6l.5-111.7v100.4l.5-98.9v100.7l.5-98.8v145.6l.5-189.2v159.6l.5-115v143.6l.5-145.3v101.9l.5-126.7v164.9l.5-138.7v106.8l.5-122v130.4l.5-110.2v100.2l.5-114.8v132.5l.5-128.8v150.8l.5-161.5v116.8l.5-92.6v96.6l.5-107.3v92.8l.5-84.6v98.9l.5-104.8v145.7l.5-181.6v132.1l.5-134v151l.5-122v110l.5-97.7v106.5l.5-112.3v111.8l.5-111.9v100.8l.5-115.9v163.2l.5-189.3v150.9l.5-96v84.1l.5-86.3v100.6l.5-134v170l.5-153.8v115l.5-105.7v92l.5-112.6v133.5l.5-132.9v139.5l.5-121.4v116.7l.5-148.8v140.9l.5-100.6v99.2" stroke="#000" stroke-width="0.6"/>
<path d="M189.2 501.3v96.4l.5-94.6v104.5l.5-121.7v116.4l.5-102.1v97.4l.5-113.7v118.5l.5-106.6v123.9l.5-118.9v97.8l.5-117.9v125.4l.5-106.4v109.7l.5-112.6v103.2l.5-97v94.1l.5-103.8v105.4l.5-101.8v108l.5-95.7v93.6l.5-129.5v136l.5-113v97.5l.5-93v104.7l.5-103.4v104.2l.5-117v106.6l.5-101.3v104l.5-124.4v126.7l.5-118.3v121.3l.5-113.9v129.5l.5-120.3v104.1l.5-99.4v91.1l.5-103.2v105.3l.5-111.3v113.4l.5-103.7v104.2l.5-110.9v136.1l.5-118.4v96.1l.5-125v128.3l.5-112.6v127.9l.5-132.5v118l.5-108.5v109l.5-109.2v105.3l.5-105.4v103.2l.5-112v118.7l.5-115.5v104.9l.5-94.3v97.1l.5-107.9v111l.5-100.4v108.9l.5-120.7v104l.5-88v90.6l.5-96.7v102.5l.5-114.2v122.3l.5-113v128.8l.5-125.8v97.3l.5-110.2v103.7l.5-108.7v126.8l.5-103.7v101.2l.5-110.1v119.9l.5-118v121.1l.5-128.8v112.7l.5-112.6v116.1l.5-114.4v108.8l.5-106.7v124.7l.5-138.9v138.7l.5-117v94.9l.5-124.1v127.2l.5-98.8v106l.5-111.8v121.6l.5-125v125.4l.5-110.9v104.2l.5-112.6v108.5l.5-115.3v113.6l.5-103v95.9l.5-96.2v105.8l.5-105.4v89.3l.5-91.1v100.3l.5-99.5v99.8l.5-100.9v104.1l.5-110.6v106.2l.5-109.7v124.5l.5-114.3v109.4l.5-106.9v101.7l.5-109.5v105.9l.5-105.6v113l.5-112.4v120.4l.5-115.9v111.8l.5-120.6v102.5l.5-95.1v102.9l.5-124v123.4l.5-105.9v104.3l.5-96.4v102.3l.5-98.7v91.9l.5-99.6v97.3l.5-106.2v111.5l.5-98.1v98.6l.5-111.7v114.5l.5-113.1v105l.5-124.3v130.8l.5-94.5v90.4l.5-103.9v111.1l.5-109v105.1l.5-109v104.3l.5-116.5v116.4l.5-104.1v116.8l.5-111.9v109.1l.5-109.8v103.1l.5-104v108.3l.5-119.7v137.9l.5-126.7v106.4l.5-122.1v128l.5-118.2v116.8l.5-100v90.7l.5-120.8v122.5l.5-99.7v94.8l.5-108.3v126.6l.5-124.9v134.2l.5-131.7v108.1l.5-100v124.4l.5-127.1v110.6l.5-103.2v89.3l.5-84.9v113.8l.5-123.1v103l.5-111.5v107.5l.5-103.1v103.9l.5-116.8v113.7l.5-89.4v95.1l.5-105.8v103.2l.5-115.5v133.2l.5-112.2v92l.5-102.1v130.2l.5-122.4v97.4l.5-100.9v102.1l.5-99.1v98.9l.5-124.2v124.6l.5-119.3v117.2l.5-100.1v100.7l.5-106.9v105.5l.5-97.5v104.2l.5-102.6v95.1l.5-117.4v125.5l.5-109.8v107.3l.5-96.3v104.6l.5-121.4v115.2l.5-114v107.2l.5-125.7v124.4l.5-94.1v118.3l.5-132.8v112.6l.5-96.9v94.7l.5-106.5v132.8l.5-124.1v107.1l.5-109.2v109.1l.5-136.5v127l.5-90.8v107.3l.5-131v115.8l.5-100.3v107.4l.5-105.1v108.9l.5-105.2v103.2l.5-132.9v130.1l.5-105.2v108l.5-109.6v103.3l.5-127.7v132.3l.5-111.7v112.4l.5-112.7v122l.5-119.9v111.2l.5-125.6v116.6l.5-95.5v101.7l.5-102.9v95.7l.5-103.8v116.3l.5-108.3v98.1l.5-112.2v124.6l.5-119.8v106.7l.5-110.2v129.4l.5-122.4v107.4l.5-104v102l.5-101.2v120.1l.5-116.1v96.5l.5-103.8v107.5l.5-100.9v100.4l.5-102.4v106.3l.5-110.7v108.9l.5-119.1v114.5l.5-100.7v97.2l.5-97.6v100.9l.5-105.6v104.7l.5-116.2v126.8l.5-115.3v98.7l.5-108.3v116l.5-106.8v101.8l.5-101.8v105.8l.5-112.1v126.8l.5-124.4v114.6l.5-110.6v106.6l.5-122.1v123.6l.5-111.6v108.7l.5-102.5v101.1l.5-128.6v121.1l.5-93.4v103.5l.5-132.1v131.1l.5-104.4v105.8l.5-133.2v131.1l.5-123.1v128.5l.5-113.1v112.6l.5-114.4v107.6l.5-112v110.7l.5-107.6v115.6l.5-106.2v102.9l.5-101.8v121.2l.5-139v115l.5-113v113.6l.5-99.6v95.3l.5-114.1v122l.5-103.2v97l.5-91.4v92.6l.5-107.1v110.5l.5-124.4v127.7l.5-110v110.3l.5-108.4v101.8l.5-127v150.1l.5-124v114.3l.5-114.6v103.3l.5-115.5v117.8l.5-103.2v106.2l.5-105.9v101.4l.5-109.9v108.9l.5-130.3v126.6l.5-97.2v107.8l.5-110.8v111.7l.5-110.1v102.7l.5-95.8v92.7l.5-107.3v116.1l.5-107.5v115.8l.5-136.5v119.6l.5-105.9v106.1l.5-103.1v111.2l.5-109.5v125.6l.5-132.5v120.4l.5-112.9v104.5l.5-103.4v108.5l.5-104.1v94.4l.5-123.9v150.1l.5-122.9v123.2l.5-121.1v99.8l.5-120.2v116.2l.5-113.8v117.1l.5-104.5v96.1l.5-90.6v101.8l.5-101.9v100.4l.5-124.7v123.7l.5-114.1v110.1l.5-100.1v105.2l.5-100.8v102.3l.5-113.4v121.4l.5-111.8v113.6l.5-125.8v111.4l.5-130.2v126.7l.5-96.7v114.8l.5-114v96.5l.5-105.5v113.1l.5-116.2v109.3l.5-103v104.6l.5-105.9v105.1l.5-104.5v110.3l.5-102v92.6l.5-98.4v102.1l.5-123.1v123l.5-97v95.6l.5-100.1v110.9l.5-107.8v100.6l.5-112.7v115.1l.5-111.6v107.6l.5-100v100.9l.5-96.3v98.9l.5-103.5v104.5l.5-97.7v99.8l.5-129.7v120.6l.5-109.7v114.9l.5-99.7v100.8l.5-104.7v107.7l.5-108.7v105.4l.5-108.5v106.5l.5-104.1v105.9l.5-123.4v122.8l.5-100.4v101.5l.5-107.7v105.8l.5-100.5v98.2l.5-101.5v103.7l.5-111.3v124.8l.5-133.6v133.3l.5-115.6v115.7l.5-122.3v109.7l.5-105.7v107.4l.5-96.1v90.9l.5-101.7v107.1l.5-101.6v109.4l.5-118.1v109.3l.5-103.1v115.1l.5-115.3v104.5l.5-115.5v119l.5-108.5v112l.5-116.2v113.2l.5-127.4v121.6l.5-106.9v107.6l.5-97.8v99.3l.5-97.6v99l.5-106.7v104.4l.5-110.7v108l.5-96v92.5l.5-95.1v107l.5-113.6v117.6l.5-109.1v98.4l.5-107v110.5l.5-101.4v98.8l.5-97v104.8l.5-104.9v94.2l.5-90.8v95.4l.5-114.3v125.2l.5-113.9v97.7l.5-95.5v110.2l.5-114.9v101.8l.5-103.3v106.1l.5-103.2v125.6l.5-118.3v93.7l.5-128.4v145.6l.5-111.8v99.8l.5-113.6v105l.5-87.9v84.1l.5-88.3v92.7l.5-98.3v105.4l.5-113.7v116.7l.5-104.6v95.5l.5-98.1v96.2l.5-95.9v119.3l.5-143.6v128.7l.5-109.6v100.3l.5-92.7v91.9l.5-122.2v131.8l.5-123v126.1l.5-101.8v93.8l.5-119.2v122.6l.5-108.6v104.2l.5-100v104.4l.5-103.6v109.1l.5-104.2v103l.5-104.1v101.5l.5-101.4v113l.5-120.5v102.1l.5-100.2v98.5l.5-98.4v100.6l.5-105.8v109.7l.5-109.2v111.9l.5-108.5v115.9l.5-111.7v101.1l.5-97.5v102.8l.5-102.3v97.8l.5-132.4v135.5l.5-109.9v116.2l.5-127v117.6l.5-106.5v116.2l.5-116v118.7l.5-113.1v102.2l.5-106.2v100.1l.5-98.7v103.5l.5-103.4v116.1l.5-108.6v89.5l.5-104.1v116.5l.5-123.7v126.3l.5-127.8v114.8l.5-92.2v103.9l.5-107.3v98.6l.5-105.5v112.7l.5-120.5v117.2l.5-102.8v124.5l.5-123.8v109.2l.5-134.7v131.6l.5-105.9v106.4l.5-117.9v109l.5-100.5v105.7l.5-116.1v123.3l.5-115.1v108.4l.5-112.3v109.5l.5-107.8v109.5l.5-108.9v117.4l.5-110.1v100.7l.5-117.9v114.4l.5-100.5v111l.5-130.8v115.5l.5-99.9v121.6l.5-117.5v107.5l.5-117.1v121.7l.5-107.3v93.2l.5-109.8v105.1l.5-116.6v134.3l.5-122.4v109.5l.5-120.9v142.8l.5-144.6v125.7l.5-106.6v110.1l.5-107.2v127.4l.5-130.1v117.2l.5-112.7v115.3l.5-123.4v108.4l.5-97.3v116.6l.5-122.2v101.9l.5-97.9v106.9l.5-117.4v122.9l.5-112.2v101.6l.5-103.6v106.2l.5-112.4v108.3l.5-106.6v121.5l.5-113.9v102.6l.5-124v134.3l.5-119.6v100l.5-93.7v95.1l.5-107.1v117.5l.5-110.6v108.1l.5-130.2v132.8l.5-111.6v108.9l.5-106.9v101.4l.5-112.4v110.5l.5-103.6v110.9l.5-104.6v99.8l.5-97.7v91.3l.5-101.4v106.4l.5-97.7v110.8l.5-110.2v100.9l.5-97.5v103.2l.5-116.3v115.1l.5-100.4v115.2l.5-121.3v99l.5-108.3v117.1l.5-119.5v121.4l.5-112.1v126.1l.5-123v106.2l.5-110v107.8l.5-109.2v106.2l.5-99.6v99.9l.5-101.2v97.2l.5-98.8v117.1l.5-124v105.2l.5-120.2v121.7l.5-117.7v115.2l.5-113.9v142.9l.5-139.8v110.8l.5-119.5v146.7l.5-123.3v100l.5-98.9v102.9l.5-128.3v130.3l.5-101.8v94.9l.5-108.8v101.7l.5-108.4v108.9l.5-103.7v108.9l.5-90.2v99.8l.5-122.9v121.1l.5-110.4v110.7l.5-104.1v97.8l.5-98.4v112.2l.5-116v106.4l.5-107.8v102.5l.5-107v112.1l.5-101.5v99.4l.5-108.1v102.8l.5-120.3v137.8l.5-102.7v89.6l.5-105.5v102.6l.5-95.6v102l.5-112.5v109.1l.5-99.6v94.8l.5-98.5v103.2l.5-107.5v118.3l.5-114.9v106.2l.5-128v130.4l.5-109.9v114.5l.5-111.7v103.5l.5-99.5v92.9l.5-93.3v97.2l.5-101.9v100.6l.5-106.2v105.1l.5-103.2v111l.5-133.3v129.2l.5-112.3v127.5l.5-133.5v127.8l.5-113.2v102.9l.5-97.2v95.9l.5-102.2v107l.5-108.3v106.2l.5-105.3v114.4l.5-129.1v111.7l.5-92.1v93.8l.5-99.9v111.5l.5-107.4v98.5l.5-96.5v100.4l.5-106.4v102.6l.5-102.1v102.1l.5-95.9v100.1l.5-117.5v112.8l.5-94.7v88.6l.5-118.8v122.5l.5-104v102.4l.5-116.3v123.6l.5-103.2v104.4l.5-118.9v114.3l.5-118.4v130.8l.5-114v112.7l.5-118.8v107.5l.5-125.8v138.7l.5-141v129.1l.5-97.7v98.7l.5-98.8v104.9l.5-100.6v91.6l.5-105.9v108l.5-102.8v113.7l.5-108.1v101.4l.5-106.5v104.2l.5-99.6v117.6l.5-122.8v120.1l.5-118.4v104.2l.5-107.7v101.1l.5-108.2v128.1l.5-135.7v138.5l.5-124.5v102.3l.5-93.3v93.4l.5-103.8v116.3l.5-110.1v101.2l.5-96.7v97.1l.5-102.4v102.2l.5-104.8v101.7l.5-120.3v127.9l.5-109.8v99.9l.5-96.6v99.6l.5-118.2v116.1l.5-107.1v105.7l.5-104.3v108.2l.5-108.4v112.8l.5-102.4v98.7l.5-109.6v109.4l.5-101.2v100.7l.5-102.3v127.9l.5-132v109.4l.5-102v103.2l.5-132.8v133.1l.5-103.5v107.7l.5-104.3v90l.5-111.6v133.2l.5-121.7v108.3l.5-97.4v93.3l.5-94.9v97.1l.5-103.6v116.4l.5-109.4v94.6l.5-91v109.8l.5-111.2v116.7l.5-155.4v136.4l.5-102v103.1l.5-103.8v103.5l.5-113v127.3l.5-117.4v100.3l.5-100.7v109.9l.5-104.2v113.7l.5-116.9v98.3l.5-103.9v103l.5-98.4v101.6l.5-97.8v93.5l.5-104.7v116.3l.5-106.8v107l.5-113.7v113.2l.5-107.5v93.8l.5-86.5v91.8l.5-98.9v102l.5-109.3v105.3l.5-124.3v123.7l.5-105.5v105.4l.5-99.5v111.4l.5-118v106.3l.5-97.3v101l.5-108.7v116.3l.5-132.4v119.9l.5-101v104l.5-103.9v99.8l.5-104.8v112.4l.5-105.4v97.3l.5-97.6v97.2l.5-101.2v107.8l.5-102.1v95.5l.5-111.2v129.3l.5-109.9v105.3l.5-112.4v109.5l.5-103.3v106.9l.5-106.7v93.6l.5-102.1v123.5l.5-124.4v99.2l.5-104.2v131.2l.5-139.7v118.9l.5-100.1v111.5l.5-114.4v114.4l.5-107.7v109.5l.5-119.8v108.9l.5-99.5v102.2l.5-102.1v102.9l.5-120.6v114.2l.5-101.7v98.6l.5-105.9v107.7l.5-99.7v114.7l.5-113.6v125.6l.5-125.2v104.2l.5-115.2v108l.5-91.5v94.4l.5-108.2v121.3l.5-115v99.2l.5-98.1v97.5l.5-108.1v121.4l.5-115.7v127.8l.5-143.5v118.8l.5-110.6v114.4l.5-95.1v91.6l.5-99.3v108.8l.5-118.8v112.5l.5-105.7v112.2l.5-114.1v107.6l.5-106.4v107.5l.5-119.7v120.5l.5-127v122.5l.5-104.6v109l.5-99.7v94.9l.5-101.1v104.7l.5-102.8v104.9l.5-119.6v131.1l.5-117.1v105.6l.5-111.3v124.6l.5-118.9v102.1l.5-107v107.1l.5-92.1v95l.5-119.9v118.6l.5-101.5v100l.5-119.6v127.5l.5-133.1v124.1l.5-101.2v124.3l.5-125.4v101.1l.5-96.4v101.6l.5-107.6v113l.5-117v119.1l.5-137.4v129.5l.5-103.9v100.3l.5-102.2v128.8l.5-123.1v96.8l.5-110v112.7l.5-103.9v103.1l.5-120.5v120.8l.5-100v101.3l.5-107v105.1l.5-107.8v124.9l.5-119.5v110.6l.5-104.9v94.7l.5-113v111.4l.5-94.7v97.6l.5-97.1v99l.5-109.4v112.7l.5-131.6v123.7l.5-94.2v101.6l.5-106.5v108.1l.5-124.1v126.5l.5-120.2v116.2l.5-109.8v109.5l.5-103.6v109.4l.5-118.5v120.1l.5-109.3v108.8l.5-131.2v133.7l.5-111.5v97.4l.5-125.3v132.2l.5-103.1v94.7l.5-107v110.9l.5-108.5v117.8l.5-129.9v128.3l.5-137.5v127.4l.5-96.2v95.1l.5-101.8v109.9l.5-102.2v103.6l.5-113.9v115.7l.5-109v98.9l.5-100.1v105l.5-101.7v107.5l.5-119.7v124.6l.5-117.7v108.4l.5-109.1v104.9l.5-121.6v126.9l.5-119v116.7l.5-115.9v112.5l.5-106.2v108.5l.5-102.6v105.1l.5-106v102.9l.5-126v140.8l.5-116.1v102.4l.5-115.4v111l.5-95.7v98.3l.5-132.5v130.4l.5-122v138.6l.5-130.6v121.8l.5-126.2v133.5l.5-138.2v118.8l.5-91.1v101.5l.5-108.5v108.8l.5-110.2v115.3l.5-112.2v99l.5-97.4v110l.5-107.7v97.1l.5-107.5v119.4l.5-106.7v103.2l.5-133.5v124.8l.5-103.6v117l.5-106.1v104.7l.5-103.2v93.6l.5-101.7v104.1l.5-107.2v126.1l.5-124.6v102.3l.5-109.8v105.6l.5-95.2v99.3l.5-97.8v111.4l.5-111.2v94.9l.5-102.7v99.8l.5-98.8v125.4l.5-127v108.6l.5-103.5v102.8l.5-99.4v91.5l.5-93.8v106.7l.5-101.7v103.4l.5-115.2v105.2l.5-122.2v135.9l.5-125.3v127.8l.5-126.5v115.6l.5-110.4v103.3l.5-90.8v98.7l.5-104.3v117.3l.5-121.3v107.4l.5-101.9v118.5l.5-124.6v102l.5-109.5v120.8l.5-118.6v116l.5-106.7v98.5l.5-102.2v101.9l.5-103.1v107.5l.5-98.5v91.8l.5-94.8v96.6l.5-102.9v111l.5-100.7v92.1l.5-98v105.5l.5-105.5v102.1l.5-95.5v89.6l.5-92.6v96.4l.5-120.1v124l.5-128.3v143.2l.5-127.3v116.8l.5-116.5v106.2l.5-97.4v108l.5-114.8v103.9l.5-100.8v107.8l.5-114.2v116.8l.5-130.3v139l.5-117.1v101.4l.5-104.9v103.4l.5-97.8v101.1l.5-95.2v94.1l.5-105.9v102l.5-125.8v128.3l.5-98.2v100.6l.5-108.1v110.8l.5-104.8v107.1l.5-122.7v111.8l.5-94.5v107.2l.5-117.3v109.5l.5-93.2v89.8l.5-104.8v100.6l.5-92.6v99.5l.5-105.8v111.5l.5-103.2v95.5l.5-115.6v134l.5-111.5v93.5l.5-96.6v104.8l.5-112.2v103.9l.5-100.6v112.4l.5-109.8v100.8l.5-103v97.5l.5-93.4v105.8l.5-104.2v100.1l.5-99.9v109.1l.5-105.1v92l.5-119.6v119.9l.5-104.9v112.6l.5-109.3v114.7l.5-115.6v99.6l.5-101.9v118.6l.5-107.4v91.7l.5-91.5v89.1l.5-97.3v111.3l.5-114.3v123.2l.5-127.6v121l.5-107.8v98.2l.5-99.9v94l.5-94.5v93.1l.5-94.4v100.5l.5-99.6v100.6l.5-95.8v90.9l.5-99.4v98.2l.5-94v98.4l.5-109.3v113.7l.5-107.9v96.7l.5-88.3v102l.5-125.7v116.4l.5-107.7v121.5l.5-121.4v128.8l.5-119.8v111.7l.5-115.2v98.8l.5-107.8v113.7l.5-97.9v95.6l.5-100.5v100.6l.5-104v100.8l.5-94v101l.5-102.8v100l.5-120.9v119.9l.5-99.6v101l.5-92.9v103.4l.5-109v98.8l.5-99.4v100.6l.5-106.6v104.5l.5-120.7v118.8l.5-97.9v100.9l.5-108v115.2l.5-105.4v97.2l.5-96.7v95.4l.5-98.7v111.3l.5-103.9v94.8l.5-110.3v109.1l.5-114.7v124.4l.5-109.7v100.8l.5-95.1v91.9l.5-98.5v101.4l.5-103.2v102l.5-95.4v92.1l.5-94v100.2l.5-100.1v99.2l.5-104.4v119l.5-115.6v113.2l.5-141.2v142.5l.5-134.9v120.3l.5-97.4v103l.5-102.6v96.9l.5-99.5v102.7l.5-105.2v99.7l.5-94.2v100l.5-103.2v108.4l.5-106.1v97.7l.5-109.3v104.4l.5-111.5v137.4l.5-134.7v111.5l.5-94.8v107.5l.5-116.8v105.1l.5-105.7v133.7l.5-131v104.8l.5-101.8v101.1l.5-99.5v107.6l.5-111.5v102.2l.5-96v104.4l.5-118.5v118.5l.5-110.7v106.8l.5-113.5v105.3l.5-98v104.3l.5-98.3v102.8l.5-106v121.8l.5-121v97.8l.5-105.3v102.4l.5-104v125.7l.5-109.4v89.6l.5-98.2v96l.5-108.7v113.5l.5-115v135.6l.5-148.8v122.1l.5-101.8v109l.5-101.1v103.5l.5-104.9v109.8l.5-104.2v109.3l.5-113.1v105.5l.5-111.4v98.5l.5-102.7v104.6l.5-101.1v112.5l.5-104.3v95.8l.5-105v107l.5-103.1v111.4l.5-125.8v135.6l.5-140.4v121.6l.5-105.4v105.3l.5-110.4v117.4l.5-116.5v112.2l.5-100.2v94.5l.5-90.5v109.1l.5-130.9v115.3l.5-125.9v127.5l.5-104.3v106.9l.5-109.4v111.4l.5-100.4v90l.5-101.3v107l.5-110.8v126.1l.5-118.9v106.6l.5-102.1v101.9l.5-101.8v108.3l.5-109.6v96.9l.5-94v94.9l.5-101.3v108.3l.5-103.4v103.5l.5-105.2v104.1l.5-123.1v118.6l.5-115.3v117.2l.5-103.9v104.6l.5-102.8v101.1l.5-103.4v119.3l.5-130.9v115.5l.5-100.1v101.3l.5-102.2v103.3l.5-106.7v104.3l.5-101.7v107.9l.5-109.8v103.6l.5-110v119.3l.5-110.1v96.8l.5-101.1v105.6l.5-102.8v103.5l.5-119.7v126.3l.5-112.2v107.1l.5-110.1v100.9l.5-95.8v96.6l.5-100.4v107.6l.5-107.3v107.2l.5-110.8v112.1l.5-110.2v104.2l.5-106v130.5l.5-124.4v110.1l.5-105.1v91.5l.5-93.1v110.8l.5-115.9v110.3l.5-109.2v111.1l.5-103.4v100.8l.5-108.2v101.4l.5-97.8v104.9l.5-104.1v102l.5-106.2v106.4l.5-110.1v106.9l.5-127.8v129.1l.5-107.9v115.5l.5-113.8v108.9l.5-112.4v108.3l.5-118.6v113.1l.5-98.2v113.9l.5-127.9v117.4l.5-113.9v130.9l.5-119.1v124l.5-147.4v120.3l.5-101.4v103.2l.5-100.4v106.7l.5-128.8v131.1l.5-114.4v110.6l.5-108.6v123.4l.5-121.3v100.2l.5-110.9v131l.5-115.8v97.8l.5-100.7v106.3l.5-112.6v104.2l.5-101.7v105.4l.5-102.1v101.2l.5-102.2v101l.5-97.6v103.9l.5-105v99l.5-93.8v96.5l.5-109.9v109.1l.5-114.7v126l.5-111.1v99.7l.5-121.7v118.5l.5-94.5v96.7l.5-92v90l.5-105.7v129.4l.5-126.7v104.6l.5-97.3v104l.5-132.3v129.7l.5-106.1v101.1l.5-101.5v108.1l.5-106.4v109.3l.5-106.2v110.5l.5-117.5v104.5l.5-100.6v100.1l.5-94.7v95.2l.5-123.8v124.1l.5-97.1v99.4l.5-99.1v113.4l.5-113.6v95.4l.5-99.3v95.4l.5-108.3v133.7l.5-116.2v96.2l.5-104.4v101.5l.5-101.8v102.4l.5-104v106.6l.5-121.6v130l.5-111.6v111.2l.5-103.2v104.9l.5-108.1v98.9l.5-100.3v110.9l.5-109.4v94.3l.5-107.4v118.2l.5-112.4v116.4l.5-110.4v102.6l.5-102.2v104.5l.5-119v119.7l.5-99.6v95.8l.5-102.4v110.5l.5-109v96.8l.5-99v101.5l.5-103.3v102.5l.5-107.2v103.1l.5-93.8v105.1l.5-102.2v91l.5-102.7v106.4l.5-110.6v113.2l.5-113.5v111.7l.5-110v119l.5-104.3v92.4l.5-101.7v104.6l.5-118.6v114.3l.5-89.5v96.6l.5-107.7v117.2l.5-116.6v124l.5-113.8v90.8l.5-104.5v110.2l.5-119.8v135.7l.5-122.6v109l.5-129.8v126.3l.5-95.2v93.2l.5-103.7v111.4l.5-109.4v103.9l.5-114.6v112.2l.5-100.5v108.3l.5-116.9v109.9l.5-107.8v106.6l.5-99.6v103.8l.5-91.7v94.9l.5-107.1v106.1l.5-110.5v113.5l.5-118.2v111.5l.5-126v139.4l.5-117.6v121l.5-127.2v108.3l.5-109.1v113.3l.5-99.4v92.6l.5-95.6v102.1l.5-111.7v111.8l.5-112.4v124.2l.5-126.1v118.7l.5-118.7v114.5l.5-105.5v105.2l.5-104.1v105.8l.5-99.1v95.8l.5-101.5v100.2l.5-107.5v108.5l.5-100.8v110l.5-114.1v104.3l.5-94.8v103.9l.5-105.1v123.3l.5-119.9v93.4l.5-105.4v127.4l.5-121.2v94.9l.5-110.4v130.6l.5-121.6v118l.5-136.6v127.1l.5-108.8v113.4l.5-104.1v98.6l.5-100.6v108.1l.5-112v113.7l.5-119.3v112.3l.5-109.1v104.3l.5-113.6v128.3l.5-108.2v117.3l.5-126.4v103.7l.5-105.2v130.5l.5-129.3v127.2l.5-129.9v122.5l.5-125.8v111.1l.5-113v119.9l.5-106.1v98.2l.5-96.1v93l.5-99.7v123.5l.5-125.8v127.5l.5-120.9v95.7l.5-99.5v111.6l.5-128.1v120.5l.5-110.5v106.3l.5-106.6v112.4l.5-109.9v110.7l.5-106v121.2l.5-141.5v133l.5-150.4v143.5l.5-103.9v105.4l.5-101v100.5l.5-109.7v118.2l.5-117.9v104.8l.5-98.1v123.4l.5-124.1v98.7l.5-104.3v110.5l.5-109.1v101.9l.5-93.8v92.6l.5-103.9v104.9l.5-96.5v97.5l.5-105v112.5l.5-103.1v114.1l.5-115.6v118.1l.5-128.2v105.8l.5-118.6v131.2l.5-112.6v111l.5-111.1v100.5l.5-106.7v107.6l.5-107.5v109.8l.5-105.1v99.1l.5-104v108.8l.5-94.9v111.3l.5-109.8v94.8l.5-103.2v102.2l.5-99.4v123.9l.5-118.8v113.1l.5-125.5v113.1l.5-137v138l.5-124.3v118.3l.5-108.2v108.4l.5-100.4v106.4l.5-104.6v115.6l.5-118.9v100.6l.5-92.2v98l.5-105.1v103.5l.5-132.1v141.2l.5-116v101.9l.5-107.4v110l.5-102.9v103.5l.5-107.5v103.3l.5-112.1v111.3l.5-112.1v115.5l.5-103.8v102.8l.5-100.5v122.5l.5-127.1v109.2l.5-106.7v107.1l.5-101.4v96.6l.5-103.2v100.9l.5-106.6v128l.5-120.1v106.6l.5-106.7v116.6l.5-121.9v107.8l.5-106.4v102.9l.5-101.8v105.9l.5-104.6v101.4l.5-114.9v119.6l.5-106.8v104.7l.5-102.4v106.7l.5-113.2v106l.5-122.2v123.3l.5-109.6v113.4l.5-104.2v102.5l.5-102.9v108.9l.5-113.9v103l.5-111.4v128.6l.5-113.7v102.8l.5-106.9v98.4l.5-94.9v105.4l.5-115v109.3l.5-95.5v106.2l.5-112.8v112.7l.5-121v111.6l.5-96.4v91.9l.5-103.9v124l.5-117.3v95l.5-94.7v106.1l.5-125v114.9l.5-100.2v97.5l.5-92.5v99.9l.5-109.1v106.2l.5-94.6v93.9l.5-94.2v94.4l.5-96.6v104.2l.5-99.7v115.6l.5-123.9v112.1l.5-120.9v115l.5-111.9v117.9l.5-125.2v120.7l.5-104.6v96.4l.5-91.2v90.1l.5-104.1v119.2l.5-110.6v101.9l.5-117.6v113.4l.5-95.8v93.3l.5-91.9v101.9l.5-118.4v118.8l.5-110.7v106l.5-101.3v103.5l.5-114.2v113.2l.5-103.3v93.6l.5-121.8v126.5l.5-96.9v99.3l.5-103.8v106.8l.5-105.7v96.2l.5-97.9v98.1l.5-90.7v97.2l.5-107.1v104.8l.5-106.6v111.1l.5-97.7v92.9l.5-95.4v90.4l.5-89v89.4l.5-104.4v110l.5-129.8v126.5l.5-84.4v99.4l.5-125.6v127.4l.5-116.7v98.4l.5-101v103.8l.5-94.5v94.8l.5-96.9v96.1l.5-99.7v96.9l.5-105.5v115.1l.5-129.4v133.1l.5-106.6v116.8l.5-122.8v125.1l.5-125.5v102.1l.5-93.1v92.6l.5-121.6v127.6l.5-122.2v114.2l.5-90.7v94.4l.5-95.3v98.9l.5-105.7v117.2l.5-137.1v125.8l.5-101.7v118.1l.5-114.2v97.9l.5-109.4v124.8l.5-116.3v117.2l.5-113.9v97.1l.5-119.2v115l.5-101.8v100.5l.5-119.4v118.3l.5-96v99.2l.5-100.9v108.1l.5-102.7v110.2l.5-113.1v109.5l.5-113v126.3l.5-142.3v128.1l.5-135.4v126" stroke="#f00" stroke-width="0.8"/>
<path d="M189.7 605.5V607.2M191.2 591.8V613.7M191.7 596V653.2M193.2 582.4V619.8M196.7 472.7V497.2M197.7 499.4V528M199.7 597.5V601.6M206.2 568.7V622.7M208.2 487.4V524.8M208.2 578.1V605.7M208.7 568.6V629.8M214.2 588.9V612.7M218.2 585.9V620.3M219.2 595.9V653.2M220.7 503.4V512.4M222.7 499.4V524M224.2 461.5V505.8M226.2 496.9V525.9M227.2 575.9V628.3M227.7 570.3V614.3M229.7 570.6V601.2M231.7 606.6V616.6M233.7 574.5V625.6M234.2 604.6V615.1M237.2 500.1V532.8M240.7 571.5V600.4M243.2 576.6V605.3M243.7 580.5V644.4M249.2 509.2V519.4M249.2 593.5V641.4M250.2 576.7V649.5M255.7 477.6V535.2M258.2 588.1V602.9M258.7 508.1V531.2M258.7 566.6V606.4M259.2 598.1V634.5M260.2 606.6V611.5M261.2 511.8V526.8M261.7 498.4V535.7M262.2 583.3V614.9M265.2 577.2V616.3M265.7 601.5V629.8M266.2 501.9V503.3M266.2 594.1V635.4M267.7 581V620.4M268.2 503.5V517.6M269.2 600.6V622.5M270.7 486.8V507M271.2 504.3V523.4M272.2 499.5V499.8M274.2 500.2V505.1M274.2 573.6V608.6M280.7 602.5V608.2M283.2 505.3V516.2M283.2 590.5V622.3M283.7 596.9V636M284.7 603.8V618.5M286.2 596.1V630.8M287.7 580.4V619.5M290.7 492V508.5M291.7 584.4V619.4M292.2 500V510.4M294.7 481.4V526.3M295.7 507V518.4M298.7 468.1V528.5M301.2 572.1V634.4M301.7 575V612M303.7 468.6V511.7M308.7 497.4V531.2M312.7 489.6V496.4M315.7 589.7V599.9M316.7 491.6V530.1M317.2 576V615.5M318.2 586.9V616.5M320.7 455.5V513.9M320.7 595.5V648M325.2 515.2V534.1M327.2 597.6V626.7M328.2 495.4V521.3M334.2 606.8V624.1M335.7 570.3V610.8M337.2 483.9V533.9M338.7 586.3V620.1M339.7 506.1V519.1M342.2 590.8V627.5M343.7 502.9V525.5M343.7 597.2V616.3M344.2 498V521.2M348.7 606.5V645.9M355.2 471.6V523M366.7 606.1V642M367.7 482V534.4M368.7 462V535.7M369.2 482.7V531.6M369.2 587.4V653.2M373.2 509.5V533.9M381.7 524.4V530.3M381.7 581.4V647.7M383.2 488.8V498.9M384.2 576.3V651.3M392.2 487.1V526.9M392.7 578V651.1M394.7 582V612.5M395.2 572V633.8M397.2 607V612.8M397.7 580.5V605.7M401.7 571.8V627.9M402.7 592.5V602.4M403.7 491.4V526.3M405.2 494.1V525.6M407.2 588V604.6M413.2 606.6V633.4M413.7 575V604.3M414.2 476.7V508.2M414.7 493V526.8M415.2 486.4V520.5M415.2 567V628.6M419.2 511V534.1M419.2 606.2V647.7M419.7 605.2V636.1M420.2 568.5V624M421.7 515.5V518.2M423.7 577.8V618.1M425.7 585V622.8M427.2 504.7V509.4M427.2 590.3V618.3M430.2 593.7V609M431.2 499.2V526.2M431.2 570V615.4M431.7 579.7V650.6M432.2 512.5V523.8M434.7 570.5V653.2M436.2 480.1V533M437.2 596.6V604.2M437.7 514.2V530.1M437.7 599V616M438.7 572.6V606.1M441.7 571.6V597.4M443.7 573V632M452.7 476.5V521.4M453.7 485.6V519.3M457.7 497.7V529.3M457.7 607.2V612.4M458.7 477.2V515.9M463.2 601.6V606.6M464.7 500.5V529.8M466.2 458.8V535.1M468.7 607.5V613M470.7 461.4V518.5M476.2 567.5V612.2M480.2 514.5V525.9M483.2 586.2V609M484.2 579.2V604.9M487.2 583.1V619.4M488.7 581.6V606.7M490.7 512.5V534.2M491.2 488.5V534.7M492.2 574.8V644.9M495.7 505.6V523.9M495.7 602.8V615.5M499.7 506.5V512.8M502.2 583.5V611.7M504.7 477.2V521.8M504.7 599.1V608.4M505.2 501.6V510.8M509.7 512.8V520.2M510.2 486V530M510.7 511.2V527.9M510.7 568V618.5M512.2 586.8V611.4M514.2 603.5V632.5M515.2 491.3V516.7M517.2 497.3V505M519.7 598.5V608.2M521.7 510.9V512.3M523.2 507.7V533.9M525.2 567.5V603.6M526.2 594.1V624.5M526.7 513.1V529.9M527.2 574V653.2M528.7 590.4V599.1M530.2 566.6V608.6M530.7 477.9V534.1M531.2 567.7V639.1M531.7 495.9V534.1M531.7 592.5V620.2M535.2 481.8V536.2M536.7 467.8V526.6M539.2 480.1V530.9M542.2 481.9V530.6M544.2 501.5V526.5M544.7 583.2V637.1M548.2 593.9V631.3M551.2 579.3V636.8M553.2 588V631.1M554.2 509.7V511M555.2 500.9V516.3M555.7 595.1V629.8M558.7 508.8V513.1M560.7 583V606.9M562.7 506.2V507M563.2 581.9V625.9M563.7 598V649.3M566.7 595.5V608.8M568.2 508.5V512M569.7 572.5V614.1M571.7 605.3V606M573.7 581.8V640.1M575.7 472.2V513.9M577.2 569.6V617M580.2 588.4V620.1M580.7 570.2V605.6M581.2 576.7V639.5M582.7 601.9V629.4M586.7 585.1V622M591.2 513.3V527.1M592.7 491.6V509.1M592.7 594.8V630.3M594.2 499.4V532.8M595.2 600V619.3M598.2 596.8V622.1M599.2 582V614.5M600.2 479.1V520M601.2 488.9V530.4M604.2 601.7V617.4M605.7 600.2V636.9M606.7 487.5V501M609.2 573.4V604.4M609.7 490.2V518.9M612.2 567.5V624.8M623.2 500.1V512.9M624.7 496.7V531.4M625.7 595V612.8M626.2 474.9V512.2M627.2 589V653.2M628.2 598.2V608.2M631.2 587.7V620.1M634.7 589.8V610.2M637.2 480.5V499.5M637.2 595.5V619.6M639.7 599V606.3M641.2 501.6V514.4M641.7 490.9V528.4M644.7 596.8V603.2M647.2 596.1V613.4M647.7 570.8V612.1M648.2 513.3V519.9M649.7 583.5V606.1M650.7 587.7V598.7M651.7 484.8V531.8M655.2 607.2V653.2M657.2 507V533.5M657.7 486.4V534.3M658.7 582.7V616.3M659.7 601.4V624.4M664.2 500.3V529.2M665.2 489.6V526.5M666.2 473.7V495.6M666.2 599.2V627.8M668.7 597.9V610.5M669.7 496.5V514.2M670.7 569.1V653.2M671.2 577.7V621.8M673.2 468.3V494M673.7 606.6V653.2M676.2 602.5V607.1M679.7 582.7V616.6M680.2 590.9V621.5M681.2 494.5V504.3M682.2 502.3V511.8M682.2 600.3V629.1M685.7 600.3V627.7M686.7 586.5V609.1M688.7 582V607.4M690.7 461.2V503.1M691.2 603.7V611.5M691.7 571.3V646M692.7 601.4V615.2M693.7 470.6V527.1M693.7 589.8V612.6M694.7 480.5V531.1M695.7 577.1V604.6M696.2 514.3V517.6M698.7 573.4V601M704.7 492.6V523.3M707.2 494.1V529.2M707.7 581.5V623.5M708.2 568.2V653.2M709.2 487V534.8M710.7 505.9V524.1M710.7 577.2V627.4M711.2 594.4V635.6M712.7 480.7V514M714.7 494.3V532M721.2 583.5V623.2M721.7 584.5V618.8M725.7 575.5V617.5M726.7 501.2V507.8M727.2 493.5V497.9M727.2 574.1V604.3M732.7 481.3V503.8M735.7 593.1V615.7M736.2 605.7V619.5M738.2 607.7V637.8M738.7 501.9V534.3M740.2 587.6V610.4M742.2 485.2V508.2M743.2 486V521.3M743.7 574.7V618.4M745.7 599.3V620.4M746.7 578.3V607.6M747.2 493.2V520.1M748.7 494.1V517.4M748.7 576.5V648M749.7 455.9V496.4M754.2 504.4V515.6M759.7 587.5V606.3M762.2 497.3V530.5M764.2 496.1V530.7M765.2 501.6V502.6M766.7 506.2V535.2M767.7 501.4V530.7M768.2 598.7V613.2M770.7 469.6V519M771.2 587.8V621.4M771.7 508.3V532.4M772.7 505.6V535.6M774.7 606.3V613.2M775.7 507.4V517M777.2 570.8V614.5M778.7 598.2V624.1M779.7 579.3V616.7M780.2 502.6V507.7M780.7 597.6V608M785.2 591.5V611.8M790.7 591.1V647M793.7 579.5V608.5M797.2 587.7V608.7M797.7 511V513.8M799.2 580.3V653.2M801.7 499.4V516.5" stroke="#000" stroke-width="0.7" stroke-opacity="0.65"/>
</g>
<rect x="189.2" y="450.6" width="615.7" height="202.6" fill="none" stroke="#2a2a2a" stroke-width="1.3"/>
<text class="pl" transform="translate(4.6 415.7) scale(0.975 1)">C</text>
<text class="tk" text-anchor="end" transform="translate(183.4 465.6) scale(0.86 1)">2.5</text>
<text class="tk" text-anchor="end" transform="translate(183.4 516.2) scale(0.86 1)">1.25</text>
<text class="tk" text-anchor="end" transform="translate(183.4 566.9) scale(0.86 1)">0</text>
<text class="tk" text-anchor="end" transform="translate(183.4 617.6) scale(0.86 1)">1.25</text>
<text class="se" font-size="29.5" text-anchor="end" x="124.5" y="617.6">–</text>
<text class="tk" text-anchor="end" transform="translate(183.4 668.2) scale(0.86 1)">2.5</text>
<text class="se" font-size="29.5" text-anchor="end" x="139.3" y="668.2">–</text>
<text class="tk" text-anchor="middle" transform="translate(195.3 692.7) scale(0.86 1)">5</text>
<text class="tk" text-anchor="middle" transform="translate(256.9 692.7) scale(0.86 1)">8</text>
<text class="tk" text-anchor="middle" transform="translate(318.5 692.7) scale(0.86 1)">11</text>
<text class="tk" text-anchor="middle" transform="translate(380.1 692.7) scale(0.86 1)">14</text>
<text class="tk" text-anchor="middle" transform="translate(441.7 692.7) scale(0.86 1)">17</text>
<text class="tk" text-anchor="middle" transform="translate(503.3 692.7) scale(0.86 1)">20</text>
<text class="tk" text-anchor="middle" transform="translate(565.0 692.7) scale(0.86 1)">23</text>
<text class="tk" text-anchor="middle" transform="translate(626.6 692.7) scale(0.86 1)">26</text>
<text class="tk" text-anchor="middle" transform="translate(688.2 692.7) scale(0.86 1)">29</text>
<text class="tk" text-anchor="middle" transform="translate(749.8 692.7) scale(0.86 1)">32</text>
<text class="tk" text-anchor="middle" transform="translate(811.4 692.7) scale(0.86 1)">35</text>
<text class="se" font-size="46" transform="translate(87.0 764.4) rotate(-90) scale(0.966 1)">Acceleration <tspan font-size="49" dy="1">[</tspan><tspan dy="-1">m/s</tspan><tspan font-size="28" dy="-14.5">2</tspan><tspan font-size="49" dy="15.5">]</tspan></text>
<rect x="122.0" y="712.3" width="300.0" height="52.2" fill="#fff" stroke="#555" stroke-width="1.4"/>
<text class="se" font-weight="700" font-style="italic" font-size="58" transform="translate(129.8 751.7) scale(0.96 1)">a</text><text class="se" font-weight="700" font-style="italic" font-size="45" x="155.8" y="751.7">x</text><text class="se" font-weight="700" font-size="29" stroke="#000" stroke-width="0" x="177.8" y="751.7">3</text><text class="se" font-size="42.5" stroke="#000" stroke-width="0.4" x="192.0" y="751.2">*</text>
<path d="M203.7 744.3H257.4" stroke="#f00" stroke-width="5"/>
<text class="se" font-weight="700" font-style="italic" font-size="58" transform="translate(286.4 751.7) scale(0.96 1)">a</text><text class="se" font-weight="700" font-style="italic" font-size="45" x="311.4" y="751.7">y</text><text class="se" font-weight="700" font-size="29" stroke="#000" stroke-width="0" x="333.4" y="751.7">3</text><text class="se" font-size="42.5" stroke="#000" stroke-width="0.4" x="347.6" y="751.2">*</text>
<path d="M359.7 743.6H413.4" stroke="#000" stroke-width="5"/>
<text class="se" font-size="45" transform="translate(429.9 757.1) scale(0.982 1)">Time <tspan font-size="48.5" dy="0.6">[</tspan><tspan dy="-0.6">s</tspan><tspan font-size="48.5" dy="0.6">]</tspan></text>
</g>
<g id="panelD">
<path d="M1062.1 450.9V654.2M1123.7 450.9V654.2M1185.3 450.9V654.2M1246.9 450.9V654.2M1308.5 450.9V654.2M1370.0 450.9V654.2M1431.6 450.9V654.2M1493.2 450.9V654.2M1554.8 450.9V654.2M1000.5 501.7H1616.4M1000.5 552.5H1616.4M1000.5 603.4H1616.4" stroke="#c8c8c8" stroke-width="1" fill="none"/>
<clipPath id="cD"><rect x="1000.0" y="450.9" width="616.9" height="203.3"/></clipPath>
<g clip-path="url(#cD)" fill="none" stroke-linejoin="bevel">
<path d="M1000.5 483.5v150.5l.5-156.9v130.9l.5-112v107.5l.5-113.7v145.9l.5-172.3v138.8l.5-145.7v166.2l.5-162.4v170.4l.5-136.2v118.7l.5-131v127.4l.5-107.4v109.3l.5-144.8v142.9l.5-108.7v111.5l.5-123.2v144.7l.5-148.3v130.7l.5-125.4v116.5l.5-115.6v116.1l.5-120.7v129.1l.5-126.5v121.2l.5-149.4v144.1l.5-121v125.3l.5-111v116.8l.5-146.8v143l.5-148v144.8l.5-122.5v114.3l.5-98.4v113.5l.5-125.7v126.8l.5-119v113.6l.5-141.5v155.7l.5-142.4v148.8l.5-137.7v114.4l.5-133v128.1l.5-109.3v119.9l.5-123.4v115.6l.5-124.8v124.5l.5-115.2v127.1l.5-153.9v140.4l.5-107.5v114.2l.5-117.1v133.5l.5-147.9v130.4l.5-128v138.8l.5-165.6v166.1l.5-130.6v114.7l.5-116.3v114.7l.5-112.2v113.8l.5-112.2v102.4l.5-106.9v124.3l.5-119.2v117l.5-112.3v110.2l.5-124.7v135.7l.5-138.7v129l.5-146.7v160.2l.5-135.5v119.3l.5-137.7v147.2l.5-129.4v127.4l.5-126.2v129.7l.5-126.7v111.1l.5-106v110.2l.5-135.6v136.9l.5-111.1v111.4l.5-110.5v129.8l.5-144v131.5l.5-143.7v136.7l.5-117.6v120.5l.5-129.4v134.7l.5-130.7v125.6l.5-124.7v129.7l.5-142.5v142.9l.5-128.4v122.7l.5-118.4v152.2l.5-144v116.6l.5-148.9v147.7l.5-119.8v107.4l.5-106.4v136.5l.5-150.2v143.3l.5-142.9v130.1l.5-130v124.6l.5-119v149.2l.5-164.6v142l.5-138.8v132.7l.5-126.4v130.9l.5-123.3v137l.5-137v127.6l.5-127.3v116.8l.5-105.7v106.2l.5-122.7v156.1l.5-143v131.8l.5-174.5v181.9l.5-150.1v134.6l.5-147v136.2l.5-125.5v120.1l.5-129.3v137l.5-127.3v143l.5-132v120.1l.5-146.4v137.7l.5-120.5v116.3l.5-121.3v131.8l.5-126.9v125.2l.5-127.2v132.4l.5-158.9v157.6l.5-131.1v123.5l.5-140.3v160.3l.5-142.6v129.3l.5-128v116l.5-132.4v131.6l.5-125.7v137.4l.5-124.6v125.3l.5-138.3v139.1l.5-140.8v141.8l.5-125.2v121.6l.5-164.6v165.9l.5-126.4v122.8l.5-136.6v149.8l.5-138.9v125.6l.5-136.7v131l.5-116.2v119.7l.5-126v125.3l.5-141.4v143l.5-136.9v133.6l.5-116.1v111.9l.5-118.4v125.3l.5-137.2v135.8l.5-131v158.5l.5-141.5v147.9l.5-152.7v125.2l.5-115.1v105.3l.5-125v135.7l.5-135v142.2l.5-135v124.3l.5-128.2v140.1l.5-152.6v144.9l.5-132v122.6l.5-111.4v107.4l.5-118.2v140.7l.5-139.9v122.1l.5-117.1v124.8l.5-129.4v125.1l.5-131.1v147.3l.5-138.8v143.6l.5-154.5v132.2l.5-139.5v135l.5-113.7v134.5l.5-148.4v131.8l.5-106.3v111.7l.5-128v128l.5-124.7v116.6l.5-116.6v121.5l.5-119.7v123.9l.5-133.9v126.1l.5-143v155.1l.5-144.4v131.1l.5-144.4v175.1l.5-143.6v119.5l.5-122v109.1l.5-122.3v133.4l.5-120.3v112.3l.5-130.9v138.1l.5-124.4v117.2l.5-151.1v158.1l.5-116.6v112.1l.5-127.2v126.9l.5-123.6v123.3l.5-117.8v132.2l.5-127.7v121.3l.5-142.7v136.6l.5-139.9v146l.5-136.3v145.5l.5-146.8v150.8l.5-149.8v132.5l.5-151.6v148.7l.5-126.3v131.1l.5-128.9v125.1l.5-133.5v132l.5-108v111.6l.5-120.9v121.8l.5-112.2v112.3l.5-117.2v158.5l.5-162.9v129.7l.5-122.2v108.9l.5-112.8v121.6l.5-133.9v163.6l.5-154.8v118.2l.5-132.7v130.4l.5-146.5v150.6l.5-122.4v125.1l.5-130.2v124.2l.5-150.8v165.4l.5-151.9v165.4l.5-148.7v132.1l.5-123.2v118.4l.5-112.1v106.8l.5-121.2v120.2l.5-133.4v149.9l.5-131.7v113l.5-126.6v125.9l.5-120.3v142l.5-142.7v122.2l.5-112.1v120.4l.5-156.8v170.6l.5-131.9v147.9l.5-154.2v128.6l.5-147v139.6l.5-128v126.9l.5-115.7v108.1l.5-118.7v133.3l.5-141.5v178.6l.5-160v113.4l.5-120.4v139l.5-140.9v125.2l.5-116.8v129.7l.5-136.5v129.7l.5-140.8v147.4l.5-126v121.6l.5-125.6v115.5l.5-121.6v128.1l.5-121.7v125.5l.5-126.1v114.2l.5-124.3v135.1l.5-140.4v131.9l.5-121.1v121.9l.5-121.5v121.8l.5-130.4v132.9l.5-121.8v126.6l.5-127.3v159.9l.5-155.7v121.4l.5-128.8v133.6l.5-131.3v124.4l.5-118.3v142l.5-154.2v159.5l.5-159.9v162.7l.5-193.8v177.1l.5-135.9v110.1l.5-113.8v126l.5-124.8v126l.5-130.5v129l.5-145.2v154.4l.5-139.8v148.3l.5-171.3v187.3l.5-156.3v128.2l.5-139.6v130.3l.5-127.7v129.7l.5-128.9v125.6l.5-133v136.7l.5-137.9v135.5l.5-160.6v179.2l.5-159.9v161.7l.5-157v153.2l.5-140.2v142.3l.5-153.5v137.3l.5-137.3v136.5l.5-130.5v128.4l.5-120.4v122.7l.5-120.1v127.3l.5-140v135.2l.5-116.7v116.6l.5-119.6v120.1l.5-150.1v142.2l.5-140.1v165.7l.5-145.5v122.8l.5-131.3v130.4l.5-131v141.3l.5-143.6v131.1l.5-140.5v154.4l.5-157v141.6l.5-121.3v125.3l.5-130.7v166.8l.5-189.3v185.4l.5-150.7v162.1l.5-184.6v140l.5-123.3v158.3l.5-156.3v131.2l.5-135.9v133.5l.5-130.5v133.9l.5-135.9v126.1l.5-118.8v126.7l.5-155.4v153l.5-118.1v103.6l.5-108.2v117.5l.5-124.9v143.2l.5-138v149.6l.5-157.8v149.7l.5-151.6v128.2l.5-107.9v128l.5-134.5v117.1l.5-119.9v139.6l.5-136.2v129.8l.5-129.1v112.9l.5-141.2v146.2l.5-126.4v148.3l.5-140.7v144.4l.5-138.9v112.6l.5-117.8v115.2l.5-121.1v153.7l.5-168.3v143.1l.5-150v150l.5-120.6v113.6l.5-114.5v105.9l.5-109.7v147.3l.5-164.4v137.9l.5-115.4v112l.5-114v141.6l.5-143.5v112.4l.5-128.8v139.4l.5-129.4v130.7l.5-147.9v158.6l.5-134.2v102.6l.5-118.5v137.7l.5-143.4v145l.5-125v118.3l.5-119.3v111.6l.5-106.8v110.3l.5-129.8v137.9l.5-142.2v148l.5-131.6v133.7l.5-125.1v119.2l.5-130.1v130.4l.5-129v136.4l.5-141.1v120l.5-137.4v154.6l.5-121v116.8l.5-118.9v104.1l.5-100.8v109.4l.5-121.4v117.3l.5-128.9v135l.5-124.2v118.7l.5-136v165.2l.5-161.9v140.1l.5-123.5v118l.5-135.9v139.2l.5-130.2v132.6l.5-119.5v111.2l.5-117.8v128.5l.5-128.6v117.6l.5-124.4v123.6l.5-111.7v110.4l.5-114.9v136l.5-131.6v114.4l.5-126.6v127.9l.5-133.9v125.8l.5-106.7v131.8l.5-164.2v165.3l.5-148.2v139.4l.5-144.5v129.8l.5-112.5v115.8l.5-105.6v103.4l.5-114.2v133.3l.5-145.8v141.8l.5-129.8v147.7l.5-165.3v138.1l.5-126.6v137.9l.5-135.4v124.4l.5-130.6v134.2l.5-127.9v126.3l.5-126.1v126.8l.5-149.2v151.5l.5-130.1v126.9l.5-114.5v127.1l.5-162.8v150.8l.5-144.1v142.2l.5-119v118.4l.5-131v136.1l.5-126.7v132.4l.5-156.4v129.8l.5-106.7v115.1l.5-122.4v123.2l.5-121.8v116.4l.5-106.4v111.9l.5-116v121.6l.5-113.5v113.6l.5-121.7v121.9l.5-120.2v145l.5-150.2v129.2l.5-125.7v113l.5-118.3v118l.5-113.9v119.3l.5-121.4v111.6l.5-105.5v112.2l.5-115.7v128.3l.5-135.9v132.8l.5-159.8v170.3l.5-131.1v109.7l.5-108.3v112l.5-119.3v119.9l.5-111.4v106.3l.5-109.8v120l.5-143v144.7l.5-154.3v142.6l.5-115.3v127.2l.5-116.6v102.1l.5-112.9v124.6l.5-117.3v113l.5-113.8v115.1l.5-153.5v156l.5-114.9v104.3l.5-107.4v109.2l.5-109.5v113.6l.5-119.7v115.5l.5-107.4v116.7l.5-121.1v116.8l.5-127.4v121.3l.5-118.8v132.9l.5-123.6v119.3l.5-127.1v127.7l.5-122.1v117.2l.5-113.6v137.3l.5-144.2v121.3l.5-130.3v125.5l.5-123.2v148.8l.5-158.3v133l.5-104v105.5l.5-140.4v141.9l.5-117.9v128.2l.5-144.2v135l.5-124v143.3l.5-142.2v137.6l.5-126v132.8l.5-150.2v152.2l.5-144.9v115.9l.5-113.1v119l.5-122v126.9l.5-139.1v139.6l.5-132.4v123.7l.5-112.7v124.1l.5-131.2v130.7l.5-116.4v114.3l.5-115.5v109.4l.5-126v131.4l.5-123v116.3l.5-116.6v112.9l.5-104.4v117.3l.5-122.8v110.4l.5-118.3v121.7l.5-137.1v136.2l.5-112.3v112l.5-121v121.1l.5-119.4v125.7l.5-129.7v121.5l.5-115.2v128.9l.5-144.6v129.1l.5-124.9v133.9l.5-117v132.4l.5-130.2v112.4l.5-117.2v141.8l.5-137.8v145.7l.5-151v117.1l.5-149.5v163.5l.5-122.2v114.4l.5-129.9v125.2l.5-118.2v114.8l.5-110.4v126.3l.5-123.1v107.3l.5-109.7v113.6l.5-132v130.8l.5-124.7v134.7l.5-134.9v115.6l.5-113.8v133.7l.5-133.8v120.9l.5-116.8v122.6l.5-114.2v109.1l.5-106.3v113.3l.5-122.2v136.1l.5-128.8v107.8l.5-134.4v146.9l.5-124v113.2l.5-133.2v127.7l.5-111.2v110.9l.5-120.3v134.6l.5-136.8v139.9l.5-142.1v128.5l.5-126v136.2l.5-136.8v117.5l.5-118.9v142.1l.5-132v113.7l.5-110.4v125.9l.5-137.3v141.7l.5-135.1v116l.5-133.4v140.1l.5-111.4v105.3l.5-100.9v100.4l.5-105.9v108.3l.5-129.2v139.1l.5-129.7v127.5l.5-136.5v124.7l.5-113.2v123.5l.5-120.9v126.8l.5-134.2v119.9l.5-116v109.9l.5-109.1v118.5l.5-121.5v155.6l.5-148v121l.5-111.7v112.5l.5-153.2v153.5l.5-127.8v120.5l.5-126.9v124.2l.5-133v164.7l.5-145.9v134.9l.5-149v140.8l.5-118.2v140.4l.5-150.3v137.1l.5-137v147.9l.5-139.1v108.1l.5-115.5v118.4l.5-109.5v122.1l.5-146.5v140.7l.5-118.5v128.2l.5-131.8v112l.5-115.3v120.7l.5-115.7v118.2l.5-125.2v132.8l.5-122.5v105.7l.5-108.8v114.9l.5-128.6v127.9l.5-136.9v141.5l.5-125.2v120.6l.5-118.1v138.2l.5-133v116.3l.5-117.8v108l.5-134.6v157l.5-127v112.8l.5-134v139.5l.5-133.1v125.1l.5-116.4v143.7l.5-143.3v116.5l.5-149.5v164.6l.5-138.5v118.5l.5-113v120.5l.5-119v132.9l.5-166.6v153.6l.5-125.4v127.6l.5-125.2v138.5l.5-151v139.8l.5-117.8v119.7l.5-124.2v135l.5-134.9v129.8l.5-152.9v142.6l.5-131.1v146l.5-137.5v142.8l.5-133.9v141.9l.5-157v118.3l.5-132v132.7l.5-140.1v140.1l.5-109v136.4l.5-170.9v158.7l.5-140.7v134.2l.5-149.8v146l.5-109.5v107.1l.5-117.4v126.7l.5-117.5v121.6l.5-123.9v108.9l.5-110.8v120.6l.5-124.1v150.1l.5-156.7v127.6l.5-155.6v150.8l.5-99.8v130.6l.5-162.2v132.9l.5-118.5v126.3l.5-123.1v116.2l.5-111.7v127.2l.5-124.7v136.1l.5-145.1v114.9l.5-131.2v150.8l.5-142.7v123.7l.5-116.1v162.7l.5-158.7v123.1l.5-122v122.2l.5-128.4v131.1l.5-135v120.7l.5-150.2v153.5l.5-117.9v142.9l.5-157.9v145.1l.5-130.4v148.5l.5-149.2v117.2l.5-110.3v105.7l.5-117.4v147.5l.5-138.4v109.3l.5-120.3v125.7l.5-111.2v114.5l.5-119.6v147.4l.5-156.1v125.7l.5-148.6v159.2l.5-131.5v129.8l.5-120.9v116.4l.5-119.7v118.5l.5-121.5v119.6l.5-111.8v131.2l.5-139.2v115.4l.5-104.9v133.4l.5-159.9v128.9l.5-117.3v113.7l.5-135.9v141.4l.5-116.3v123.1l.5-137v139.9l.5-120.6v139.4l.5-141.6v118.1l.5-111.3v106.7l.5-120.8v149.7l.5-151.2v135l.5-128.6v126.9l.5-123.9v118.3l.5-124.6v119.2l.5-123.5v128.4l.5-113.4v112.6l.5-116v128.9l.5-130.7v115.1l.5-120.1v117.9l.5-115.8v123l.5-128v137.1l.5-134.3v144.6l.5-143.5v116.9l.5-116.2v113.3l.5-101.9v103.9l.5-118.1v137.9l.5-134.7v123.1l.5-123.3v114.5l.5-126.1v127.5l.5-111.2v110.5l.5-133.8v147.8l.5-127.2v139.5l.5-169.2v152.8l.5-123.5v105.1l.5-114.3v153.3l.5-153.3v155.4l.5-161v123.7l.5-109.9v121.7l.5-133.4v137.5l.5-125.6v127.4l.5-150.6v147.2l.5-158.1v150.3l.5-137.5v130.2l.5-123.9v136.9l.5-120v137.3l.5-147.4v123.5l.5-125.3v137l.5-142.7v127.5l.5-102.4v111.3l.5-126.6v134.9l.5-129.7v124.4l.5-121.2v106.8l.5-139.1v141.6l.5-127.3v143.9l.5-160.9v169l.5-125.5v106.6l.5-120.8v114.6l.5-137.9v151.4l.5-138.9v124l.5-118.4v134.5l.5-120.1v107.2l.5-127.3v137.7l.5-128.2v123.6l.5-129.6v123.7l.5-108.9v114.5l.5-115.8v124.9l.5-126.5v107.8l.5-116.5v122.2l.5-125.2v126l.5-122v116.3l.5-136v142.2l.5-114.9v110.7l.5-120.6v150.7l.5-134.5v142.1l.5-160.4v142.4l.5-124.2v105.5l.5-104.5v108.2l.5-107.3v114.1l.5-117.9v103.8l.5-102.6v107.9l.5-118.3v119.9l.5-134.7v133.3l.5-115.1v119.1l.5-125v122.6l.5-119.4v109.2l.5-111.2v113.4l.5-118.8v128l.5-119.8v118.4l.5-123.2v118.7l.5-110.9v127.6l.5-129.2v109.4l.5-122.6v127.6l.5-125v156.9l.5-151.7v151.2l.5-159.7v132.9l.5-115.8v113.8l.5-119.9v118.5l.5-127.8v124.5l.5-135.7v158.1l.5-131.6v116.6l.5-104.6v97.9l.5-112.5v113l.5-115v120.8l.5-127.1v126.9l.5-119.4v143.6l.5-146.2v134.3l.5-137.1v136.8l.5-129.3v128.7l.5-118.6v108.4l.5-124.4v139.9l.5-140.9v132.4l.5-158.8v165.5l.5-133.6v118.1l.5-114.4v129.9l.5-131.3v108.7l.5-117.2v138.2l.5-142.6v125.3l.5-112.6v115.4l.5-115.3v120.7l.5-144.4v142.3l.5-122.1v113.1l.5-112.5v117.9l.5-111.3v135.9l.5-149.2v121.7l.5-120.2v117.3l.5-108.6v117.1l.5-137.4v141.2l.5-111.3v106l.5-117.5v120.6l.5-140.4v163l.5-144.3v124l.5-134.2v130.4l.5-131.2v154l.5-136.3v129.6l.5-146.5v130.1l.5-157.5v161.1l.5-124.1v150.4l.5-152.1v153l.5-147.5v132.6l.5-132.4v141l.5-143.2v114.4l.5-115.8v119.9l.5-123.2v122.7l.5-132v149.4l.5-165.8v138.8l.5-142.6v147l.5-145.5v152.1l.5-144.5v156.9l.5-128v124.6l.5-149.7v137.2l.5-119.7v125l.5-141.9v137.6l.5-129.7v139l.5-134v126l.5-124.4v122.6l.5-120.3v121.7l.5-118.7v123.1l.5-134.4v129.5l.5-124.1v123.1l.5-112v126.7l.5-123.4v105.6l.5-113.4v126.2l.5-155v164.8l.5-142.3v125.5l.5-126v139.7l.5-132.2v131.4l.5-135.3v136.5l.5-129.2v125l.5-133.7v135.1l.5-126.9v110.1l.5-113.6v133.3l.5-133.2v130.8l.5-144.5v165.9l.5-155.8v123.7l.5-136.9v132.8l.5-144.2v144.5l.5-146.2v143.9l.5-116.4v122.7l.5-131.1v135.8l.5-123.2v124l.5-116.4v103.7l.5-104.9v103.5l.5-144.5v159.2l.5-131.3v125.5l.5-155.2v152.7l.5-119.9v119.9l.5-114.3v109l.5-116.9v148.8l.5-148.3v120.8l.5-111.8v119.8l.5-124.4v132.4l.5-148.3v130.5l.5-122.6v124l.5-137.5v138.9l.5-146.3v168.9l.5-139.9v116.4l.5-114.8v114.9l.5-135.7v137.6l.5-129.7v154.5l.5-147.5v127.8l.5-121.2v141.7l.5-144.3v120.1l.5-140.4v134.8l.5-116.8v123.4l.5-126.4v136.4l.5-138.2v133l.5-159.6v163.3l.5-139.4v144.9l.5-143.5v146.1l.5-149v133.6l.5-136v163.1l.5-142.9v120.4l.5-121.7v107.7l.5-114.6v114.1l.5-111.8v114.5l.5-137.5v133.2l.5-113.5v125.1l.5-136.1v131.7l.5-120.5v123.7l.5-115.2v126.1l.5-129v120.2l.5-138.2v157.9l.5-180.5v151.4l.5-109.1v111.6l.5-115.3v121l.5-118.9v132.4l.5-150.9v134.5l.5-117.6v106.8l.5-122v140.1l.5-158.1v155.9l.5-125.4v130.8l.5-137.5v128.4l.5-122.3v112.9l.5-113.6v127.8l.5-127v114.6l.5-110.2v118.2l.5-123.9v114.9l.5-116.9v124l.5-118.9v122.1l.5-122.8v120.9l.5-125.1v130.4l.5-127.4v122.6l.5-120.9v116.9l.5-132.9v130.5l.5-128.6v166.1l.5-157.8v143.4l.5-137.9v131.1l.5-149.9v145.1l.5-126.3v115.3l.5-109.3v114.1l.5-119.5v118.7l.5-117.4v132.5l.5-135.5v118.5l.5-113.7v119.6l.5-129.9v159.7l.5-153.7v116l.5-113.6v130.5l.5-132.4v114.6l.5-146.1v186l.5-161.8v117.6l.5-121.5v150.1l.5-145.6v129.1l.5-127.8v128l.5-121.7v147.2l.5-161.2v145.2l.5-127.1v126.4l.5-130.8v127.9l.5-150.6v150.3l.5-126.2v110.9l.5-123.8v130.3l.5-114.4v116.4l.5-117.2v114l.5-114.4v122.8l.5-130.5v123.5l.5-131v130.3l.5-137.8v132.7l.5-135.4v146.7l.5-135v133.8l.5-122.7v131.5l.5-133.8v123.9l.5-130.1v139.1l.5-139v145.1l.5-141.2v123.1l.5-116.2v127.7l.5-130.4v123.3l.5-115.3v107.6l.5-115.9v113l.5-110.6v117.4l.5-134.3v157.5l.5-181.3v160.5l.5-138.3v132.9l.5-113.2v121.1l.5-132.2v129.2l.5-112.9v122.4l.5-138.1v135.2l.5-128.7v118.3l.5-114.2v121.3l.5-120.7v112.9l.5-137.3v136.3l.5-115.1v120.2l.5-117.1v109.5l.5-122v145.1l.5-149.6v132.1l.5-127.5v126l.5-135.9v138.4l.5-119.3v116.6l.5-113.3v114.3l.5-121.8v126.2l.5-121.2v129.7l.5-131.8v119.8l.5-131.3v145.8l.5-145.2v153.6l.5-140.8v117.5l.5-125.7v123.8l.5-123.8v124.9l.5-145.9v142.6l.5-126.9v126.1l.5-118.9v124.7l.5-127.2v154.6l.5-150.9v154.9l.5-159v145.8l.5-134.8v139l.5-140.4v124l.5-151.8v142.1l.5-129.1v138.2l.5-132.5v135l.5-128.2v114.3l.5-108.2v145.7l.5-163.8v132.2l.5-151.3v180.9l.5-154.6v144.6l.5-134.3v110.1l.5-112.4v122.3l.5-128.7v148.4l.5-149.2v129.6l.5-149.9v150l.5-137.5v155.6l.5-150v133.7l.5-131.7v126.4l.5-130.5v130.2l.5-117.6v136.5l.5-139.9v136.6l.5-144.9v126.4l.5-115.7v130.2l.5-128.6v111.6l.5-119.2v112.6l.5-117.8v132.2l.5-142.5v135.8l.5-113.5v113.7l.5-141.3v142.6l.5-138.8v144.3l.5-144.1v138.4l.5-117.2v126.9l.5-156.3v152.2l.5-135.4v139.5l.5-139.3v127.9l.5-120.4v125.6l.5-133.8v159.9l.5-163.8v132.8l.5-117.9v152.9l.5-165v139.5l.5-125.7v113.8l.5-140.1v145.7l.5-129.3v143.2l.5-142v135.5l.5-136.2v154.5l.5-145.9v117.8l.5-115.3v124.6l.5-167.9v175.9l.5-135.4v119.7l.5-113.5v107.5l.5-137.7v148.3l.5-127.7v123.9l.5-142.7v143.2l.5-122v154.7l.5-151.8v125.2l.5-144.3v153.3l.5-135.6v139.6l.5-148.4v144l.5-159.8v142.6l.5-159v168.2l.5-127.4v127.8l.5-154.1v153.7l.5-128.7v119.6l.5-126.2v148.9l.5-144.6v127.6l.5-121.6v120.3l.5-132.7v140.5l.5-135.8v134.3l.5-120.8v121.8l.5-161.7v165.2l.5-131.3v122.6l.5-120.6v115.6l.5-116.1v124.2l.5-137.8v133.6l.5-153.2v143.2l.5-113.9v122.2l.5-120.8v115l.5-119.2v131l.5-151.4v144l.5-161.4v172.2l.5-127.5v123.9l.5-152v159.7l.5-147.5v147l.5-154.8v149l.5-124.8v118.2l.5-124.1v123.3l.5-139.8v138.9l.5-121.2v127.1l.5-127.3v119.2l.5-133.2v148.3l.5-134v132.2l.5-141.3v137.2l.5-140.7v149.4l.5-137.7v142.5l.5-148.4v139.8l.5-138.7v121.8l.5-147.6v161.5l.5-139.1v150.4l.5-164.4v145.8l.5-129.2v129.7l.5-163.8v185.9l.5-163.7v135.6l.5-119.1v127.3l.5-154v157.2l.5-159.5v168.3l.5-132.3v112.4l.5-107.9v109.5l.5-125v124.7l.5-111.4v109.2l.5-112.5v109l.5-112.2v133l.5-137.4v130.2l.5-133.1v128.4l.5-127.7v126.3l.5-126.1v144l.5-174.7v153.4l.5-121.7v135.6l.5-127.3v141l.5-146.4v117.3l.5-113.2v124.7l.5-138.7v124.9l.5-121.6v134.7l.5-124.3v132.3l.5-138.9v128.4l.5-133.9v132.7l.5-124.2v133.3l.5-126.9v111.3l.5-118.3v123.3l.5-153v160l.5-124.2v115.1l.5-112v131.8l.5-148.7v148.8l.5-138.6v111.8l.5-111.4v120.3l.5-128.9v155.2l.5-153.2v122.4l.5-126.4v130.4l.5-156v162.3l.5-141.1v139.4l.5-131.8v130l.5-159.1v147.5l.5-120.8v129.2l.5-156.2v151.4l.5-152.5v159.7l.5-137.8v149.8l.5-136.3v114.8l.5-138.7v143.7l.5-113.6v119.2l.5-119.3v121.8l.5-140.4v129l.5-127.9v153.1l.5-141.8v129.2l.5-127.9v112.7l.5-134.5v152.4l.5-138.1v122.7l.5-103.3v106.5l.5-158.6v164.2l.5-115.3v110.6l.5-116.4v112l.5-108.1v108.4l.5-141.8v153.8l.5-139.6v134.8l.5-128.3v130.3l.5-140v137.1l.5-141.6v147.3l.5-138.6v137.3l.5-123.7v117.5l.5-133.9v126.8l.5-106.2v105.8l.5-114.1v115.6l.5-129.8v125.5l.5-142v153.7l.5-135v144.5l.5-129.8v141.6l.5-150.8v124.7l.5-114.7v134.7l.5-158v137l.5-126.3v136.1l.5-126.9v129.9l.5-127.8v139.9l.5-163.7v152.2l.5-119.8v116.2l.5-116.8v123.4l.5-138v131.2l.5-157.2v144.8l.5-115.3v134.1l.5-138.9v145.5l.5-126.1v99.4l.5-122.6v126l.5-123.2v127.2l.5-113.8v118.9l.5-144.9v147.8l.5-122.1v106.6l.5-125.2v137.4l.5-119.4v115.7l.5-116.6v110.8l.5-130.3v152.1l.5-143.3v123.5l.5-116v113.6l.5-109.1v116.7l.5-148.5v135.3l.5-111.9v115.7l.5-128.3v137.6l.5-134v130.1l.5-123.2v115.4l.5-103.5v122.5l.5-126.4v112.3l.5-119.8v125.1l.5-130.4v142.1l.5-143.2v141.3l.5-131v126.3l.5-122.7v113l.5-114.5v120.9l.5-129.6v117l.5-112.4v110.9l.5-128.1v133l.5-122.9v130.4l.5-123.2v149.4l.5-142.7v116.2l.5-108.1v102.8l.5-121.7v144.5l.5-162.1v155.5l.5-138.8v139.5l.5-141.2v123.8l.5-119.8v123.6l.5-119.6v142.9l.5-141.3v111.1l.5-121.1v140.9l.5-143v124.2l.5-131v148.7l.5-129.9v110.2l.5-125.1v131.2l.5-136v133.7l.5-111.6v136.9l.5-131.3v127.3l.5-130.6v103.9l.5-129.6v168.5l.5-139.5v111.4l.5-115.6v139.3l.5-168.9v141.5l.5-109.8v110.7l.5-116.2v111.5l.5-128.7v129.2l.5-108.6v111.7l.5-125.7v133l.5-123.8v120.2l.5-131.8v141.5l.5-125.7v138.3l.5-177.7v167.3l.5-128.1v143.8l.5-159.2v125.1l.5-107.3v102.8l.5-122.7v134.2l.5-111.9v115.6l.5-122.6v120.3l.5-125v127.6l.5-119.3v109.3l.5-108v117.8l.5-143.7v134.9l.5-113.7v113l.5-128.8v126.5l.5-104.2v110.7l.5-117.5v138.1l.5-130.5v109.6l.5-116.7v133.5l.5-152.1v134.5l.5-127.7v150.8l.5-139.5v121.4l.5-145.1v146.5l.5-133.7v131.7l.5-119.7v120.7l.5-119.7v110.3l.5-125.8v136.2l.5-143.7v136.3l.5-123.8v119.9l.5-111.4v123.2l.5-134.2v128.9l.5-120.6v131.7l.5-130.8v125.4l.5-120.9v107.7l.5-112.3v116l.5-107.8v106.7l.5-110.7v142.5l.5-148.2v122.6l.5-127.2v152l.5-158.2v147.1l.5-142.9v145.6l.5-168.5v165l.5-156v138.2l.5-128.2v127.5l.5-112.8v113.2l.5-112.7v152.4l.5-158.8v119.6l.5-123.3v149.9l.5-151.2v128.5l.5-136.9v137.8l.5-136.4v132.4l.5-117.6v119.2l.5-120.7v119.9l.5-116.4v129l.5-121.4v105.7l.5-117.9v116.4l.5-116.7v120l.5-133.7v158.4l.5-156.5v128.6l.5-119.2v152.5l.5-151.6v136.8l.5-139.4v130.5l.5-123.5v139.9l.5-151.2v159.3l.5-149.1v121.9l.5-115v126.5l.5-141.1v124.4l.5-113.4v115l.5-135.6v136.3l.5-154v156.3l.5-122.6v155.2l.5-148v130l.5-124v124l.5-143.6v134.2l.5-122.8v124.2l.5-139.3v137.7l.5-127.6v135.4l.5-138.2v129.3l.5-118v111.1l.5-113.5v142.2" stroke="#000" stroke-width="0.75"/>
<path d="M1000.5 493.1v107.7l.5-97.9v91.3l.5-106v114.1l.5-101.1v100.4l.5-111.9v116.2l.5-103.4v96.6l.5-104.2v105.7l.5-112.8v112.3l.5-104v98l.5-101.6v105.1l.5-111v122.2l.5-110.1v102.6l.5-108.3v106l.5-97.6v92.1l.5-92.6v98.4l.5-95.7v92.4l.5-98.8v108.4l.5-126.1v117.8l.5-97.2v104.2l.5-105.9v98.4l.5-107.7v109.2l.5-123.4v125.7l.5-101.5v104.2l.5-106.7v109.5l.5-104.5v96.1l.5-104.2v103.3l.5-118.6v134.2l.5-128.6v114.9l.5-103.8v94.6l.5-91.9v95.9l.5-109.3v120.8l.5-115.9v106.1l.5-97.3v99.3l.5-120.1v116.8l.5-103.7v106.4l.5-100.8v99.9l.5-122.3v130.1l.5-102.8v112.1l.5-117.1v108.4l.5-101.1v108.2l.5-114.1v109.2l.5-108v97l.5-110.9v118.1l.5-109.1v103.2l.5-96.3v116l.5-119.5v100.6l.5-104.7v106.3l.5-104.8v103.8l.5-116.2v123.4l.5-109.1v98.5l.5-106.7v107.8l.5-103.3v107.5l.5-103.1v98.7l.5-100.2v105.9l.5-102.9v101l.5-102.9v99.8l.5-109.2v117.1l.5-109.7v111.2l.5-112.8v112.2l.5-132.5v128.2l.5-100.3v101.4l.5-104.3v97.6l.5-101.7v109.5l.5-110.7v112.4l.5-109.1v104.9l.5-113.3v110.7l.5-108.1v120.4l.5-128.7v116.3l.5-101.8v108.8l.5-104.9v95.9l.5-99.4v99.2l.5-105v107.5l.5-125.9v130.2l.5-111.7v113.1l.5-108.4v113.1l.5-132.8v121.1l.5-119.4v120.6l.5-103.9v106.1l.5-124.6v125.6l.5-128.7v124.1l.5-106.1v111.8l.5-111.8v116.9l.5-110.8v113.1l.5-110.8v108.7l.5-114.2v106.6l.5-104.2v114.8l.5-125.8v109.7l.5-101v103.8l.5-123.3v124.6l.5-100.8v97.4l.5-101.3v104.6l.5-105.2v105.2l.5-102.5v98.8l.5-107.1v124.4l.5-130.3v128.9l.5-119.6v105.3l.5-123.6v130.4l.5-123.2v121.2l.5-110.3v108.1l.5-105.1v105.8l.5-105.8v106.3l.5-124.7v126l.5-105.2v101.2l.5-102.7v108.2l.5-107.4v101.1l.5-97.6v93.7l.5-96.2v102l.5-105v103.7l.5-105.8v117.8l.5-112.8v110.7l.5-110.3v104.1l.5-109.7v108.5l.5-103.5v111.4l.5-111.7v96.2l.5-101.5v104l.5-113.6v113.5l.5-106.7v114.6l.5-117.5v118.8l.5-105.4v99.4l.5-110.1v109.7l.5-104.3v117.2l.5-128.4v119.8l.5-107.8v100.6l.5-94.1v99.9l.5-107.3v120l.5-125v128.7l.5-131.9v108.4l.5-106v119.5l.5-109v101.2l.5-105.7v110.1l.5-105.4v102l.5-109.3v114.5l.5-104.4v102.1l.5-116.7v109.2l.5-103.6v104.3l.5-104.9v118.9l.5-120.4v117.3l.5-109.2v99.9l.5-108.3v122.3l.5-125.7v107.6l.5-103.9v110.3l.5-127.1v119.3l.5-99.1v99l.5-100v99.7l.5-106v109l.5-103v114.6l.5-111v103.4l.5-100.8v99.5l.5-111.7v114.8l.5-112.8v107.3l.5-117.8v119.6l.5-104.1v105.3l.5-96.7v94.8l.5-93.7v89.9l.5-104.5v126.8l.5-117.2v111l.5-114.6v118.2l.5-143.3v131.3l.5-106.1v119.9l.5-114.4v95.5l.5-112.8v113.6l.5-98.4v101.6l.5-124.4v127.4l.5-106.9v113.2l.5-118.6v107l.5-95.4v98.8l.5-99.9v95l.5-114.1v114l.5-116.7v114.5l.5-90.3v90.6l.5-87.4v86.9l.5-96.5v101.3l.5-100.8v105l.5-109.7v104.5l.5-107.8v112.9l.5-108.1v113.6l.5-116.3v121l.5-112.6v113.5l.5-113.1v112.6l.5-114.4v94.6l.5-96.4v97.1l.5-99.6v108.2l.5-108.6v101.7l.5-98.9v116.9l.5-127v106.9l.5-93.3v97.2l.5-101.4v107.3l.5-116.2v111.4l.5-114v121l.5-119.9v116.5l.5-122.1v116.9l.5-101.6v104.4l.5-104.3v107.6l.5-119.4v123l.5-104.5v104.5l.5-117.2v105.9l.5-94.9v101.2l.5-114.1v109.2l.5-103.8v105.7l.5-100.8v102.3l.5-108.4v102.7l.5-99.8v120.7l.5-116.1v101.2l.5-108.3v111.6l.5-107.1v101.9l.5-116.4v113l.5-105.9v104.4l.5-97.7v114.7l.5-110.9v99.9l.5-106.8v116.4l.5-119.5v111l.5-99.6v110.3l.5-120.9v107l.5-98.4v105.4l.5-109.2v105.5l.5-102.7v98.9l.5-100.9v102.9l.5-113.1v113.5l.5-106.6v103l.5-102v102.5l.5-105.5v103.6l.5-104.9v107.6l.5-101.9v100l.5-114.2v119.7l.5-127.7v129.9l.5-108.5v103.4l.5-99.1v101.5l.5-106.8v106.3l.5-98.5v102.7l.5-115.1v111.4l.5-117.5v114.2l.5-123.2v119.1l.5-92.7v106.4l.5-110.2v105.7l.5-100.9v109.3l.5-120.2v115.6l.5-109.1v104.9l.5-107v102.4l.5-99v103.6l.5-119.2v114.4l.5-94.2v102.3l.5-126.7v116.7l.5-102.8v104.4l.5-100.5v102.5l.5-98.5v107.5l.5-110.8v110.4l.5-110.8v97.7l.5-110v107.9l.5-91.5v110.3l.5-117.5v116.4l.5-115v113.7l.5-114.8v99.6l.5-108.6v111.8l.5-109.7v122l.5-121.5v106.5l.5-89.4v90.7l.5-95.8v97.3l.5-100.2v106.6l.5-105.9v99.9l.5-99v98.1l.5-120.9v121.7l.5-116v118.7l.5-97.6v97.9l.5-104.7v116l.5-131.8v124.5l.5-101.3v90.5l.5-100v106.9l.5-120.5v133l.5-124.6v108.8l.5-98v112.7l.5-135.9v124l.5-98.1v92.9l.5-92.7v97.3l.5-105.4v106.8l.5-108.6v105.8l.5-97.1v94.4l.5-115.3v125.7l.5-103.3v112.6l.5-123.9v104l.5-92.6v97.6l.5-112.4v111.8l.5-114.3v119l.5-120.9v119.1l.5-108.6v113.1l.5-111.7v104.7l.5-104.5v112.7l.5-115.7v123.4l.5-136.9v119.5l.5-121.7v121.5l.5-100.5v96.9l.5-93.4v100.9l.5-107v103.2l.5-101.5v118.8l.5-117.8v104.4l.5-106v102.9l.5-102.7v104.4l.5-121.7v124.1l.5-103.7v101.8l.5-100.3v95.1l.5-104.5v103l.5-119.8v139.4l.5-119.8v103.9l.5-106.8v109.6l.5-114.7v114.9l.5-111.2v124.1l.5-119v102.8l.5-97v96.9l.5-104.8v102.7l.5-95.7v94.5l.5-115.6v120.1l.5-101.2v103.7l.5-104v110.3l.5-111.7v102.1l.5-97.6v107.3l.5-118.8v110.7l.5-114.4v112.1l.5-103.4v109.3l.5-116.8v128.6l.5-117.5v104.1l.5-100.3v102.9l.5-108.2v97.9l.5-95.9v117.7l.5-136.5v121.5l.5-101.3v96.7l.5-98.3v104.9l.5-113.2v110.7l.5-101.6v98.3l.5-111.2v119.3l.5-110.7v100.6l.5-120.4v137.2l.5-110.9v96.6l.5-106.7v102.7l.5-91.9v99.7l.5-107.8v110.1l.5-129.6v128.2l.5-125.1v118.5l.5-105.2v116.6l.5-107.3v103.5l.5-108.1v116.4l.5-115.5v102.1l.5-116v117.4l.5-103.2v103.2l.5-112.1v125.9l.5-120.8v126.6l.5-122.2v105.6l.5-107.3v109.5l.5-106.9v97.4l.5-99.2v103.2l.5-108.3v114.9l.5-106.5v98.5l.5-94.3v112.5l.5-128.1v108.7l.5-119.8v122.3l.5-102v106.2l.5-107.2v101.3l.5-97.7v99.4l.5-125.7v129.9l.5-102.3v103.2l.5-109.5v101.5l.5-98.6v98.4l.5-100.2v100.4l.5-112.9v135.1l.5-126v107.4l.5-104.3v102.7l.5-96.7v96.8l.5-91.4v90.3l.5-100.6v103.5l.5-124.2v132.3l.5-108.3v101.9l.5-110.8v108.3l.5-102.1v113.3l.5-108.2v94.6l.5-104.4v106.3l.5-105.9v102.6l.5-104.7v109.3l.5-103.7v96.6l.5-105.2v112.5l.5-102.3v111.3l.5-132.8v125l.5-101.8v112.3l.5-123.9v116.7l.5-131.8v120.4l.5-101.8v103l.5-97.5v100.3l.5-98.8v111l.5-113.6v105.8l.5-107.5v116.2l.5-110.9v102.3l.5-106.5v101.2l.5-96.9v100.4l.5-108.2v114.4l.5-109.6v113l.5-112.9v100.2l.5-104v104.6l.5-109.4v118.9l.5-108.1v106.9l.5-114.5v106.7l.5-99.4v97.8l.5-126.7v141.6l.5-117.5v106.9l.5-103.1v99.1l.5-98.4v110.9l.5-114.9v107.5l.5-117.5v127.8l.5-135.8v118.6l.5-101.4v101.9l.5-124.3v129.8l.5-98.2v95.8l.5-109.2v107.1l.5-110.3v112.1l.5-120.2v125.6l.5-107.5v103.5l.5-103.1v95.5l.5-96.1v99.1l.5-127.7v129.1l.5-99.3v100.7l.5-103.5v110.3l.5-108v101.6l.5-99.1v98.1l.5-104.8v119.1l.5-124.4v112.5l.5-103.5v102.1l.5-107.9v109.6l.5-116.4v122.1l.5-118.8v110.8l.5-106.5v108.5l.5-101.1v97.1l.5-99.2v101.4l.5-103.1v105.2l.5-104.5v119.8l.5-119.2v100l.5-99.7v101.2l.5-98.8v98.6l.5-105v125.5l.5-133.2v111.1l.5-106.3v111.8l.5-105.1v115.1l.5-145v134.5l.5-104.6v117.5l.5-124.3v120.1l.5-113.6v103.9l.5-128.4v138.7l.5-113.6v99.3l.5-97.9v113l.5-122.2v111.3l.5-101.4v110.2l.5-111.2v100.7l.5-125.1v122.3l.5-101.3v105.3l.5-108.2v119.7l.5-128.7v114.9l.5-108.1v110.4l.5-102.3v105.7l.5-110.2v105.7l.5-102.4v100.3l.5-100.8v105.7l.5-126.2v133.8l.5-113.4v116.4l.5-114.5v105.3l.5-106.6v101.9l.5-106.5v106.6l.5-93.1v93.7l.5-97.7v96.8l.5-96.9v93.9l.5-96.2v103l.5-123.4v121l.5-100.2v100.9l.5-131.7v127.5l.5-118.2v139.6l.5-126.7v111.1l.5-122.6v118.5l.5-110.6v110l.5-97.9v104.8l.5-105.9v100.6l.5-123.2v126.8l.5-110.2v110.6l.5-104.2v107.7l.5-106.8v95.2l.5-107.7v120.4l.5-119.4v111.6l.5-105v111.5l.5-124.9v118.6l.5-102.8v99.7l.5-104.9v116.6l.5-116.2v121.6l.5-131.2v114.8l.5-101v101.8l.5-99.3v100.3l.5-106.6v102.7l.5-97.9v109.3l.5-119.1v109.3l.5-123.8v128.5l.5-106.5v108.1l.5-112v109.3l.5-107.9v108.4l.5-105.2v104l.5-118.2v118.1l.5-109.6v109l.5-104v99.3l.5-100.6v108.4l.5-108.6v104.3l.5-116.7v115.8l.5-106.1v111.2l.5-101.2v97l.5-103.4v103.5l.5-115.5v126.4l.5-118.8v106l.5-112.8v117.6l.5-106.7v104.9l.5-104.2v101.1l.5-96.8v98.8l.5-102.8v104l.5-103v104.1l.5-105.2v103.2l.5-102.8v110.8l.5-112.8v105.8l.5-112.6v121.6l.5-130.5v123.4l.5-111.7v111.5l.5-106v110.1l.5-118.9v119.1l.5-116.1v105.3l.5-104v114l.5-124.6v124l.5-112.2v113l.5-117.6v111.8l.5-118v121.4l.5-112.4v111.1l.5-108.9v107.9l.5-112.5v125.4l.5-121.8v104.3l.5-121.8v124.4l.5-118.7v116.4l.5-112.4v117.1l.5-109.5v105.5l.5-97.6v106.1l.5-114.3v105l.5-117v119l.5-108.3v115.3l.5-110v112.3l.5-108.5v103.9l.5-124.4v121.1l.5-109.8v114.5l.5-132.4v129.2l.5-106v104.1l.5-115.2v115.3l.5-99.1v104.5l.5-111.4v111l.5-110.1v106.4l.5-117.2v120.6l.5-118.5v117.2l.5-105.8v112.5l.5-116.3v117l.5-116.9v118.4l.5-114.9v98.1l.5-101.7v110.7l.5-102.2v94.5l.5-108.1v114.2l.5-121.2v119.4l.5-104.3v103.2l.5-125.2v127.8l.5-114.9v118.8l.5-110.2v105.7l.5-108.1v101.8l.5-97.2v109.3l.5-117.9v109.3l.5-100.1v119.6l.5-127.8v110.5l.5-126.7v127.3l.5-116.8v133.3l.5-121.5v103l.5-96.2v96.4l.5-110.6v112.6l.5-109.3v118.6l.5-115.4v100.5l.5-98.1v114.1l.5-120.7v116.8l.5-111.9v107.1l.5-102.8v118.8l.5-140.7v116.8l.5-92.8v106.8l.5-103.6v92.8l.5-106.9v112.5l.5-119.8v114l.5-103.1v105.5l.5-101.8v103.4l.5-105v101.4l.5-101.5v102.6l.5-101.1v97.6l.5-105.4v110.3l.5-106v112.8l.5-113.5v109.7l.5-106.5v99.4l.5-103.1v124l.5-117.3v100.3l.5-120.6v123l.5-107v107.9l.5-105.2v102.9l.5-105.8v108.4l.5-114.2v119.7l.5-134.8v121.2l.5-110.7v120.4l.5-112.7v105.5l.5-106v114.7l.5-106.6v110.1l.5-119.7v104.9l.5-90v95.6l.5-103.8v101.6l.5-109.1v114.8l.5-103.1v92.6l.5-100.1v105.5l.5-97.8v95.7l.5-104.6v118.8l.5-118.1v102.6l.5-102.6v106.3l.5-103.2v118.3l.5-133.5v112.7l.5-91.4v98.9l.5-108.4v121.5l.5-127.2v110.6l.5-99.9v98.4l.5-95.9v96.2l.5-97.7v100.7l.5-115.4v125.6l.5-122.9v110.9l.5-116v114.5l.5-111.8v112.2l.5-112.7v115.3l.5-103.1v98.3l.5-102v101.9l.5-94.5v95.7l.5-106.5v116.4l.5-110.2v107l.5-103.8v94.7l.5-99.9v110.8l.5-105.6v99.1l.5-104.3v102.6l.5-99.7v107.6l.5-110.4v113.4l.5-108v96l.5-93.5v109.9l.5-112v94.5l.5-97.9v104.9l.5-107.5v107.4l.5-105.8v107.7l.5-105.5v99l.5-97.7v105.6l.5-103.6v98.9l.5-101.6v100.6l.5-102v97.9l.5-100.9v114.5l.5-109.9v98.8l.5-110.9v115l.5-101v98.9l.5-101.7v105l.5-112.6v109.3l.5-120.8v132.2l.5-115.1v97.6l.5-94.8v113.4l.5-113.4v108.9l.5-128.1v120.9l.5-107.7v102.4l.5-94.6v109.6l.5-110.6v103.4l.5-110.2v113.5l.5-109.1v103.5l.5-122.4v128l.5-107.2v107.8l.5-114.1v105.6l.5-98.8v101.7l.5-117.6v121.5l.5-117v108.2l.5-98.5v100.1l.5-108v107.4l.5-112.6v108.6l.5-103.6v128.8l.5-126.3v102.8l.5-94.2v103.5l.5-104.1v97l.5-100.7v97.1l.5-93.6v95.5l.5-97v101.2l.5-96.7v109.8l.5-116.3v118.2l.5-130.6v116.3l.5-105.3v106.5l.5-117.2v124.4l.5-132.3v123l.5-109.5v108.1l.5-104.8v105.5l.5-107.7v106.9l.5-115.5v127l.5-116.8v109l.5-115.6v110.3l.5-96.5v98.6l.5-104.4v105.7l.5-102.5v103.1l.5-102v98.9l.5-98.8v97l.5-89.1v95.7l.5-99.1v96.4l.5-98.4v102.4l.5-106.5v96.9l.5-92.6v101.3l.5-102.1v107.7l.5-110.5v111.9l.5-110.8v100.9l.5-97.4v96.2l.5-99.9v103.2l.5-125.8v123.5l.5-97.9v99.5l.5-103v100.7l.5-102.2v101.3l.5-110.7v117.1l.5-125.4v128.7l.5-118.4v121.9l.5-115.1v116.2l.5-114.6v108.4l.5-103.9v107.4l.5-108.5v98.4l.5-106.7v119.5l.5-110.8v103.8l.5-125v117.4l.5-92.6v93.7l.5-99v103.7l.5-110.6v121.3l.5-116.6v99.5l.5-92v97.1l.5-125.9v125.5l.5-104v102l.5-97.2v104.5l.5-127.4v119.8l.5-104.3v121l.5-120.6v99.7l.5-111.6v117.1l.5-109.4v112.3l.5-108.7v109.3l.5-114v111.6l.5-106.4v112.6l.5-104.9v97.9l.5-100.9v107.5l.5-101.2v102.8l.5-105.5v112.7l.5-125.6v105.6l.5-105.6v108l.5-99.5v98.4l.5-93.6v93.9l.5-107.2v127.3l.5-123.1v106.3l.5-98v108.4l.5-114.4v107.2l.5-115.3v113.3l.5-108.1v117.5l.5-115.3v114.1l.5-111.2v105.8l.5-102.4v96.1l.5-96.1v102.9l.5-106.9v100.7l.5-102.9v100.7l.5-98.4v115.6l.5-137.1v122l.5-104.1v101.7l.5-101.1v105.4l.5-109.5v109.9l.5-109.8v109.6l.5-106.7v123.3l.5-116v99.9l.5-118.6v133l.5-121.2v106.2l.5-125.3v119.2l.5-119.3v140.1l.5-121.8v102.8l.5-109.6v113.3l.5-106.8v101.7l.5-95v98.7l.5-101.5v100.6l.5-100v99.5l.5-98.1v99l.5-114.5v114.4l.5-101.7v100.3l.5-96.9v97.6l.5-106.2v125.6l.5-125.1v107.7l.5-107.3v104.1l.5-102.4v116l.5-111.2v111.5l.5-111.8v114.8l.5-110v103.6l.5-108.7v110.8l.5-124.1v132.7l.5-121.7v99.7l.5-106v112l.5-100.4v101.1l.5-105.3v104.4l.5-107v115l.5-113.8v116.1l.5-109.3v97.8l.5-100.1v99.8l.5-100.8v110.9l.5-109.7v111.8l.5-117.7v104.6l.5-109.7v114.6l.5-121.3v119.5l.5-115.2v128.4l.5-140.8v126.3l.5-112.6v111.1l.5-106.6v103.4l.5-120v121.4l.5-96.7v97.2l.5-105.1v112.8l.5-110v109.2l.5-113.8v113.8l.5-118.2v117.8l.5-105.5v103l.5-104.2v102l.5-100.4v104.9l.5-110.9v112.8l.5-115.4v115l.5-109.9v103.4l.5-119.4v121.2l.5-110.4v112.2l.5-107.3v104.3l.5-126.3v130.1l.5-108.3v104.4l.5-99.7v96.8l.5-95.3v115.4l.5-117.3v102.8l.5-117.1v112.8l.5-100.9v103.6l.5-110.7v115.6l.5-111.5v104.4l.5-100.8v101.6l.5-104.8v111.3l.5-104.1v103.6l.5-109.7v101.5l.5-97.7v103l.5-118.3v126.4l.5-119.8v110.5l.5-102.3v119.1l.5-119.5v100.8l.5-106.1v110.9l.5-110.2v104.3l.5-107.7v110.2l.5-105.9v115.2l.5-122.4v110.1l.5-101.5v110.1l.5-112.9v104.7l.5-99.4v99.1l.5-97v101.6l.5-99.6v109.5l.5-125v114.1l.5-106.8v108.4l.5-112.8v111.6l.5-101v101.6l.5-105.7v99.6l.5-97.6v120.4l.5-120.4v104.8l.5-106.7v101.2l.5-108.9v110.8l.5-103.4v100.5l.5-103.2v105.3l.5-106.7v109.2l.5-100.5v98.2l.5-107.3v106.3l.5-107.1v116.6l.5-111.3v116.4l.5-118.1v99.8l.5-95.1v97.1l.5-98.1v104.7l.5-108.8v102.1l.5-103.4v105.2l.5-98.8v101.9l.5-102.3v103.7l.5-106.4v96.3l.5-101.8v127.5l.5-131.5v112.3l.5-119.6v122.7l.5-107.3v105l.5-97v98.9l.5-109.5v108.6l.5-106.1v100.7l.5-108.1v119.8l.5-114.3v108.5l.5-106.9v102l.5-106.5v107.1l.5-107.5v111.8l.5-107.7v109.1l.5-104.2v110l.5-115.1v106l.5-98.8v97.5l.5-123.7v124.3l.5-113.8v110.5l.5-98v107l.5-114.4v117.9l.5-101.8v97.4l.5-106v96.7l.5-97.3v106.6l.5-107.4v100.7l.5-99.5v99.8l.5-116.3v121.3l.5-104.6v99l.5-118.4v119.4l.5-101.7v101.8l.5-100.8v103.7l.5-116.1v113.9l.5-96.9v99.3l.5-114v107.7l.5-119v119.5l.5-95.8v105.3l.5-108v97.7l.5-94.8v99.7l.5-115v114.3l.5-108.7v105.3l.5-94.9v97.7l.5-99.9v116.1l.5-127.6v109.4l.5-101.2v100.9l.5-98.2v98.6l.5-108.2v108.2l.5-97.1v100.3l.5-99.3v99.8l.5-113.1v121.4l.5-112.5v100l.5-112.9v116.8l.5-99.3v95.9l.5-99v113l.5-113.7v98.6l.5-97.1v96.5l.5-94.7v99l.5-106.5v106.8l.5-99v98.1l.5-123.8v123.8l.5-99.3v99.9l.5-99.7v101.9l.5-98.8v107.2l.5-124.4v128.6l.5-117v117.7l.5-117v115.7l.5-122.9v110.7l.5-109v109.9l.5-107.1v106.2l.5-103.2v102.1l.5-100.9v100.9l.5-104.8v107.1l.5-107.4v108.8l.5-104.8v102.5l.5-113.2v114.7l.5-102.3v104.8l.5-114.4v109.4l.5-101.6v104.2l.5-103.8v101.2l.5-102.2v103.4l.5-108.9v118.9l.5-124v114.4l.5-103.4v105.9l.5-118.1v117.8l.5-105v94.4l.5-99.7v102.6l.5-104.6v104.8l.5-97.2v99.2l.5-111.6v125.2l.5-118.3v101.9l.5-99.1v100.1l.5-97.6v99.7l.5-103.6v103.1l.5-124.7v122.2l.5-96.9v97.1l.5-101.1v105.7l.5-109.2v111.8l.5-114.6v108.1l.5-110.9v116.1l.5-118.5v112.5l.5-101.2v108.3l.5-115.8v118.7l.5-116.7v110.4l.5-100.5v96.8l.5-102.2v107.8l.5-108.2v105.4l.5-109.9v111.8l.5-104.4v111.4l.5-108.8v105.2l.5-114.4v112.4l.5-112.3v104.7l.5-91.9v97.7l.5-102.5v102.8l.5-112v109.9l.5-112.2v114.7l.5-112.3v116.2l.5-105.4v95.6l.5-92.8v95l.5-102.9v106.5l.5-98.9v94.9l.5-96.2v96.4l.5-121.3v123l.5-107.8v109.6l.5-120.5v119.5l.5-101.6v114.1l.5-110.6v93.8l.5-94.8v109.9l.5-127.6v121.3l.5-105.9v97.5l.5-93.4v97.6l.5-111.2v106.5l.5-93.8v97.6l.5-109.8v124.8l.5-124.8v113.6l.5-104.3v106.6l.5-104.6v103.1l.5-105.4v101.2l.5-100.6v94.1l.5-93.1v112.4l.5-110.1v99.4l.5-115.5v110.6l.5-92.4v97l.5-107.2v111.1l.5-120.3v111.8l.5-99v108.3l.5-104.5v94.3l.5-121.1v132.7l.5-106.7v110.3l.5-131.5v116.2l.5-96.1v108l.5-110.2v101.7l.5-103.5v106.8l.5-102.8v105.6l.5-106.7v111.9l.5-107.4v98.6l.5-100.1v100.8l.5-117.6v113l.5-106.8v111.5l.5-103.4v104l.5-100.4v94.7l.5-98v98.3l.5-106.4v109.3l.5-118v120.8l.5-101.3v100.3l.5-103.7v98.9l.5-96.4v107.4l.5-119.3v110.8l.5-98.8v93.9l.5-95.7v96.7l.5-93.6v98.9l.5-100.5v96.8l.5-99.4v105l.5-106.8v106.9l.5-106.9v99.6l.5-106.9v106.7l.5-106.7v107l.5-93.5v99.7l.5-98.3v94.3l.5-104.8v111.2l.5-114.9v109.7l.5-100.1v98.1l.5-102.2v105.7l.5-105.5v104.6l.5-105.7v108.5l.5-126.3v141.2l.5-136.7v114.4l.5-99.6v103.1l.5-106.7v110.4l.5-105.2v100l.5-99.2v101.8l.5-125.2v128.5l.5-114.7v110.4l.5-122v125.8l.5-106.5v107.1l.5-109.2v101.8l.5-95.4v96.9l.5-101.2v102.9l.5-112.7v109.9l.5-100.4v114.4l.5-113.4v114.4l.5-136.9v132.2l.5-116v105.2l.5-98.6v112.1l.5-117.5v107.8l.5-114.1v113.4l.5-104v107.3l.5-108.5v121.5l.5-117.9v107.2l.5-104.3v99l.5-104.7v110.6l.5-126.5v124.1l.5-115.1v116.7l.5-124.8v117.4l.5-100.6v104.2l.5-106v109.4l.5-114.7v120.7l.5-117.4v105.8l.5-120.8v121.7l.5-101.4v101.2l.5-105.8v121.8l.5-118.3v101.7l.5-114.5v114.4l.5-104.7v104.5l.5-97.3v101.5l.5-116.6v122.6l.5-109.3v99.6l.5-100.5v98.5l.5-93.4v92.7l.5-97.7v100.5l.5-109.1v106.6l.5-104.3v107.7l.5-122.9v134.1l.5-123.3v111.5l.5-111.5v113.6l.5-107.9v113.1l.5-106.3v97.3l.5-99.3v102.4l.5-98.8v99l.5-106.7v104.9l.5-113.2v112.9l.5-103.8v108.4l.5-126.5v129.6l.5-110.9v104.7l.5-100.5v117.3l.5-121.6v102.7l.5-109.6v107.5l.5-96.6v114.2l.5-123.6v111.5l.5-105.6v103.8l.5-103.6v105.9l.5-103.9v111l.5-120.9v126.2l.5-130.6v116.2l.5-109.8v117.5l.5-117.8v114.6l.5-105.9v101.9l.5-108.3v117l.5-114.5v101.2l.5-107v112.4l.5-116v122.1l.5-109.6v97.2l.5-95.8v103.3l.5-110.5v112.5l.5-128.5v123l.5-110v110.2l.5-106.5v106.7l.5-110.4v110.8l.5-103.7v101.7l.5-107.3v107l.5-108.2v118l.5-108.7v117.1l.5-133.1v114.9l.5-102.8v109.7l.5-107v118l.5-130.2v113.2l.5-101.5v99.1l.5-99.7v99.7l.5-96.8v109.7l.5-117.4v107.5l.5-120.3v117l.5-117.7v137.7l.5-122.6v107.9l.5-104.5v101.9l.5-118.6v130.7l.5-120.6v107.4l.5-104.9v108.9l.5-111v127.1l.5-136.2v129.6l.5-115.3v105.2l.5-105.5v107.3l.5-121.4v118.7l.5-100.7v101.2l.5-98.3v100.1l.5-123.1v127.9l.5-110.5v112.1l.5-129.2v117.9l.5-112.1v117.4l.5-114.9v110.3l.5-99.4v104.1l.5-109.6v101.4l.5-97.3v107.7l.5-129.6v140l.5-122.4v104.8l.5-123.3v123.5l.5-99.4v100.2l.5-108.6v104.5l.5-121.4v127.4l.5-120v133.7l.5-129v112.5l.5-121.1v136.6l.5-133.2v117.2l.5-97.2v104.5l.5-116.2v109.2l.5-101.8v104.7l.5-108.9v107.7l.5-101.2v102.5l.5-107.7v112.2l.5-113.9v114.2l.5-111.9v101.7l.5-118v122.9l.5-119.8v128.3l.5-109.4v115.7l.5-121v106.4l.5-120.2v119.2l.5-105.8v109.4l.5-133.7v130.1l.5-114.9v122.1l.5-118.7v110.3l.5-98.4v97.8l.5-100.3v99.6l.5-100.4v98.8l.5-106.3v115.6l.5-110.4v104l.5-128.3v126.1l.5-105.7v112.9l.5-114.2v111.8l.5-102.1v106.3l.5-113.8v121l.5-143.4v135.6l.5-129.5v124l.5-101.9v103.7l.5-114.1v112.3l.5-125.5v124.2l.5-100.6v106.2l.5-115.4v130l.5-125.2v110.6l.5-124.2v118.5l.5-101.5v108.8l.5-111.6v107.1l.5-111.8v109.1l.5-103.5v102.2l.5-109.1v131.6l.5-133.6v111l.5-100.9v110.3l.5-124.3v136l.5-129.6v111.7l.5-96.9v110.5l.5-115.3v108.5l.5-131v120l.5-103.5v109" stroke="#f00" stroke-width="0.9"/>
<path d="M1004 494.5V516.7M1009 489.8V516.3M1010 484.7V487.9M1013 490V497.3M1013.5 579.7V611.4M1014 469.9V503.3M1014 579.8V625.6M1015 586.4V608.7M1016 494.5V507.4M1019 582.4V627.8M1024 498.8V503.9M1026 577.1V607.6M1026.5 469.9V494M1026.5 599V617.1M1031 602.1V608.6M1031.5 491V495.6M1032 482.1V508.8M1032 585.7V616.8M1034 585.5V611.4M1037.5 484.5V508.1M1037.5 599.9V614.6M1039 474.8V514.5M1043.5 597.4V639.1M1044 595.1V623.6M1045.5 578.7V615.1M1047 472.5V520.9M1047.5 580.3V606M1049.5 461.1V507.3M1050.5 470.8V492.3M1056 476.7V492M1056 593.8V626.5M1057.5 491.3V498.4M1058.5 468.9V502.2M1062 580.1V616.3M1064 489.4V516.2M1064.5 596.4V625.6M1067.5 492.1V510.4M1071 600.6V611M1071.5 582.2V616.4M1077 479.8V502.7M1078 474.3V511.4M1080 480.5V492.4M1083.5 602.3V628.3M1087 586.4V612.1M1087.5 580.4V612.2M1088.5 490.6V510.1M1089.5 494.2V517.4M1092.5 483.2V520.3M1093.5 590.6V635.5M1096.5 601V605.6M1099.5 583.5V644.2M1105 587.6V616.6M1105.5 588.7V623.2M1107 487.1V503.4M1108.5 482.8V511.5M1109 477.5V514.8M1109.5 488.3V493.6M1110 583.6V610.5M1113 589.4V614M1113.5 495.7V515.6M1116.5 577.4V616.7M1118.5 587.1V648.9M1120.5 484.6V500.1M1121.5 599V611.5M1126 589.3V620.6M1127 499.1V506.7M1135 488.3V518.6M1135 577V619.5M1138 591.1V601.7M1141 501.5V507M1143.5 468V508.2M1143.5 601.4V614.2M1145 597.8V613.5M1146 489.8V519.6M1147.5 497.7V520.6M1148.5 594.7V640.3M1150 496.4V499.2M1151.5 587V618.8M1157 584.5V617.9M1161.5 587.6V613.3M1164 599.9V613M1166 489.2V510.1M1168.5 482V512.8M1176 487.4V489.7M1180 480.6V493.2M1183 493.2V518.4M1183.5 602.5V610.7M1184.5 591.5V611M1187 487.9V506.5M1187.5 583.1V597.4M1188 491.9V514.4M1188 599.7V604.1M1190.5 585.6V606.4M1194.5 601.3V611.2M1196.5 591.8V600.1M1202 492.6V512.3M1203 476.7V496.5M1205.5 487.6V517.5M1210 578.1V612.4M1211.5 602.7V614.6M1212 592.4V612.5M1215.5 588.6V605.3M1216.5 492.1V512.3M1219.5 599.2V609.5M1221 577.4V631.7M1222 577.8V605.7M1224.5 493.4V502.5M1229.5 597.4V612M1232 473.4V520.1M1233 480.5V517.2M1233.5 478.3V494.1M1234 476.1V490.8M1234 584.4V604.6M1234.5 478.6V499.2M1234.5 594.8V614.8M1237 599.4V620.3M1239.5 588.7V603.7M1245.5 459.5V490.6M1248 474.7V515.9M1249 487.4V499.5M1250.5 593.1V607.3M1256.5 487.5V492.2M1260 592.9V607.4M1261 491.4V509.7M1261 583.6V607.9M1267 470.4V508.9M1270 588.6V603.2M1275 596.6V639.9M1276 598.6V606M1277.5 594.9V615.3M1280 580.5V624.7M1281.5 602.3V616.7M1293 580.6V634.8M1296.5 492.6V516.9M1299 591V611.5M1299.5 593.8V606.1M1300.5 497.6V500.8M1305 597.9V604.4M1307.5 590V604.5M1309 461.6V487.1M1311.5 595.3V611.6M1315 492V505.5M1323 496.1V514.7M1324 600.4V609.1M1325 592.9V608.8M1327 582.1V605.7M1328 464V520M1329 481.4V513.2M1330 479.3V512.8M1331.5 499.4V500.1M1333 486.4V490.6M1335 487.1V490.1M1336.5 487.9V500.7M1337.5 580.9V618.5M1338.5 596.9V603.7M1345 584.2V632.6M1346 483.6V501.8M1349 489.7V496.3M1360.5 594V613M1364 486V503.4M1368 593.8V611.9M1368.5 591.4V607.6M1369 477.9V490.8M1370.5 578.8V608.5M1376 487.3V512M1376 595.7V623.8M1378 490.6V511.8M1379 477V517.1M1381 460.8V519.6M1381 586.5V604.7M1381.5 488.3V495.5M1382.5 492.5V516.7M1383 597.9V603.8M1386.5 591V635.4M1387 589.7V607.9M1391.5 472.4V510.6M1391.5 588V610M1393 493.9V508.2M1393.5 598.7V611.4M1398.5 497.8V505.9M1399.5 600.7V603.7M1404 453.8V509.2M1407 477.7V506.1M1411 584.3V603.3M1412 601.4V613.6M1412.5 490.8V514.2M1413 486.6V520.5M1419.5 494.7V506.3M1421.5 579.6V605.5M1424.5 591.6V639M1425 598.1V623M1431 469.3V510.4M1431 580.5V616M1434 487.6V492.5M1434.5 494.5V517.6M1443 495.7V506M1444 478.7V499.3M1447 493.3V498.8M1450 484.9V503.5M1452.5 488V518.4M1453.5 494.9V512.6M1461 479.4V501.6M1461.5 485V520.4M1464 584.3V610.2M1467 582V609M1470 480.3V516.6M1475 584.2V619.3M1480 490.4V504.2M1487.5 601.7V621.7M1488 460V497.4M1488 584.9V625.2M1489.5 495.4V504.2M1493.5 595.8V619.5M1495 471.9V500.7M1495 602.6V620.9M1496 588.2V613.5M1497.5 491.2V493.9M1500.5 585.7V624.5M1501.5 460V503.5M1502 482.4V507.7M1504.5 593.6V616.9M1508.5 602.4V625.4M1510.5 486V491.8M1515 590.3V615.5M1521 485.8V520M1522.5 582.3V616.8M1524.5 455.6V500.8M1527 496.1V511.9M1530 588.5V621.7M1530.5 585V606.3M1531 503V505.6M1534 595.3V613.5M1534.5 588.1V615.5M1535 587.5V612.6M1535.5 582.4V618.3M1536 479.7V488.9M1536.5 493.3V501.7M1540 491.9V515.3M1540.5 579.8V607.4M1542 480.1V493.8M1543.5 582.4V619.8M1544 599.2V616.2M1545.5 587.6V603.6M1551 588.7V604.9M1551.5 474.6V493M1552.5 588.3V604.5M1555.5 589.3V600.3M1556.5 585.8V605.2M1557 485.4V516.8M1557.5 480.1V492M1565 480.7V516.7M1567 480.3V512.4M1577 587.6V631.7M1579.5 598.3V609.9M1581 486.3V519.9M1583.5 475.4V509.2M1584 577.6V608.4M1585.5 491.4V501.5M1586 594.4V607.3M1587 602V612.3M1588 480V503.9M1590.5 482.5V495.6M1592 581.5V620M1595 586.3V610.2M1596 476.8V504.7M1596.5 481V511M1597.5 595.4V605.3M1598 587.2V604.6M1599 591.8V644.7M1599.5 485.9V518.7M1600 581.5V632.1M1601.5 591.9V606.3M1603 490.7V515.7M1603 578.4V619.7M1608 477.4V498.6M1610 589.7V605.9M1610.5 470.3V516.9M1614 476.2V510.2M1616 593.4V634.6" stroke="#000" stroke-width="0.7" stroke-opacity="0.65"/>
</g>
<rect x="1000.5" y="450.9" width="615.9" height="203.3" fill="none" stroke="#2a2a2a" stroke-width="1.3"/>
<text class="pl" transform="translate(830.6 415.0) scale(0.975 1)">D</text>
<text class="tk" text-anchor="end" transform="translate(996.3 465.9) scale(0.86 1)">5</text>
<text class="tk" text-anchor="end" transform="translate(996.3 516.7) scale(0.86 1)">2.5</text>
<text class="tk" text-anchor="end" transform="translate(996.3 567.5) scale(0.86 1)">0</text>
<text class="tk" text-anchor="end" transform="translate(996.3 618.4) scale(0.86 1)">2.5</text>
<text class="se" font-size="29.5" text-anchor="end" x="952.2" y="618.4">–</text>
<text class="tk" text-anchor="end" transform="translate(996.3 669.2) scale(0.86 1)">5</text>
<text class="se" font-size="29.5" text-anchor="end" x="974.5" y="669.2">–</text>
<text class="tk" text-anchor="middle" transform="translate(1007.0 693.7) scale(0.86 1)">5</text>
<text class="tk" text-anchor="middle" transform="translate(1068.5 693.7) scale(0.86 1)">8</text>
<text class="tk" text-anchor="middle" transform="translate(1130.0 693.7) scale(0.86 1)">11</text>
<text class="tk" text-anchor="middle" transform="translate(1191.6 693.7) scale(0.86 1)">14</text>
<text class="tk" text-anchor="middle" transform="translate(1253.1 693.7) scale(0.86 1)">17</text>
<text class="tk" text-anchor="middle" transform="translate(1314.6 693.7) scale(0.86 1)">20</text>
<text class="tk" text-anchor="middle" transform="translate(1376.1 693.7) scale(0.86 1)">23</text>
<text class="tk" text-anchor="middle" transform="translate(1437.6 693.7) scale(0.86 1)">26</text>
<text class="tk" text-anchor="middle" transform="translate(1499.2 693.7) scale(0.86 1)">29</text>
<text class="tk" text-anchor="middle" transform="translate(1560.7 693.7) scale(0.86 1)">32</text>
<text class="tk" text-anchor="middle" transform="translate(1622.2 693.7) scale(0.86 1)">35</text>
<text class="se" font-size="46" transform="translate(904.1 764.4) rotate(-90) scale(0.966 1)">Acceleration <tspan font-size="49" dy="1">[</tspan><tspan dy="-1">m/s</tspan><tspan font-size="28" dy="-14.5">2</tspan><tspan font-size="49" dy="15.5">]</tspan></text>
<rect x="938.9" y="712.3" width="300.0" height="52.2" fill="#fff" stroke="#555" stroke-width="1.4"/>
<text class="se" font-weight="700" font-style="italic" font-size="58" transform="translate(946.7 751.7) scale(0.96 1)">a</text><text class="se" font-weight="700" font-style="italic" font-size="45" x="972.7" y="751.7">x</text><text class="se" font-weight="700" font-size="29" stroke="#000" stroke-width="0" x="994.7" y="751.7">4</text><text class="se" font-size="42.5" stroke="#000" stroke-width="0.4" x="1008.9" y="751.2">*</text>
<path d="M1020.6 744.3H1074.3" stroke="#f00" stroke-width="5"/>
<text class="se" font-weight="700" font-style="italic" font-size="58" transform="translate(1103.3 751.7) scale(0.96 1)">a</text><text class="se" font-weight="700" font-style="italic" font-size="45" x="1128.3" y="751.7">y</text><text class="se" font-weight="700" font-size="29" stroke="#000" stroke-width="0" x="1150.3" y="751.7">4</text><text class="se" font-size="42.5" stroke="#000" stroke-width="0.4" x="1164.5" y="751.2">*</text>
<path d="M1176.6 743.6H1230.3" stroke="#000" stroke-width="5"/>
<text class="se" font-size="45" transform="translate(1246.8 757.1) scale(0.982 1)">Time <tspan font-size="48.5" dy="0.6">[</tspan><tspan dy="-0.6">s</tspan><tspan font-size="48.5" dy="0.6">]</tspan></text>
</g>
<g id="panelE">
<path d="M240.3 848.9V1053.5M301.9 848.9V1053.5M363.5 848.9V1053.5M425.1 848.9V1053.5M486.7 848.9V1053.5M548.3 848.9V1053.5M609.9 848.9V1053.5M671.5 848.9V1053.5M733.1 848.9V1053.5M178.7 900.0H794.7M178.7 951.2H794.7M178.7 1002.4H794.7" stroke="#c8c8c8" stroke-width="1" fill="none"/>
<clipPath id="cE"><rect x="178.2" y="848.9" width="617.0" height="204.6"/></clipPath>
<g clip-path="url(#cE)" fill="none" stroke-linejoin="bevel">
<path d="M178.7 874.9v143.2l.5-141.5v144.4l.5-151.2v159.6l.5-144.4v138.6l.5-123.6v118.8l.5-130.1v145l.5-152.6v140.8l.5-133.9v134.9l.5-143.6v151.8l.5-142.3v129.5l.5-125.6v151.6l.5-150.3v121.3l.5-127v135.7l.5-149.2v164.6l.5-146.7v127.2l.5-122.9v125.6l.5-141.4v170.6l.5-185.4v176.5l.5-175.9v163.6l.5-141.3v126.8l.5-121.7v142.2l.5-153.9v142.5l.5-150.1v149.7l.5-153.9v148.9l.5-139.1v170.6l.5-162.4v130.3l.5-144.9v165.2l.5-164.8v138.8l.5-146.8v159.2l.5-136.1v151.3l.5-150.3v147.4l.5-156.8v158.9l.5-152.6v149.1l.5-149.3v153.4l.5-152.2v137.7l.5-141.4v136l.5-129.9v141.9l.5-152.5v168.9l.5-164.5v136.3l.5-131.5v138.2l.5-145.9v137.8l.5-123.7v139.8l.5-146.3v128.9l.5-152.7v153.4l.5-153.9v188.2l.5-168.5v163.6l.5-173.3v171.5l.5-170.4v169.5l.5-155.9v138.8l.5-141.3v128.7l.5-143.9v149.9l.5-143.4v148.8l.5-144.7v154.7l.5-158v145.8l.5-142.2v151.5l.5-133.2v145.7l.5-161.1v146.3l.5-154.8v168.4l.5-154v129.2l.5-121.7v145.8l.5-171.7v154.8l.5-134.7v125.4l.5-155.9v153.5l.5-146.9v156.8l.5-142.4v147.2l.5-131v114.1l.5-124.4v136l.5-130.5v146.6l.5-153.9v158.1l.5-148.5v125.3l.5-137.3v133.4l.5-144.3v149.5l.5-137v140.6l.5-136.7v158l.5-171.5v137.9l.5-128.6v166.3l.5-167.6v147.5l.5-143.1v138.6l.5-138.1v129.6l.5-142.2v169.8l.5-165.5v137.8l.5-129.7v130.4l.5-137.4v136.8l.5-144.8v143.6l.5-133.5v139.9l.5-140.1v140.5l.5-153.4v150.1l.5-133.2v137.1l.5-138.5v132.3l.5-136.4v146.9l.5-138.3v132.2l.5-151.2v165.3l.5-145.5v131.9l.5-130.3v127.8l.5-140v153.7l.5-157v150.5l.5-139.7v139.5l.5-157.5v148.2l.5-124.6v128l.5-122.8v130.3l.5-141.3v145.2l.5-147.2v127.4l.5-134.5v144.7l.5-140.5v148.2l.5-161.5v152.9l.5-143.5v150.2l.5-149.2v136.5l.5-128.2v157.6l.5-166.1v139.6l.5-131.8v146.1l.5-134.3v126l.5-138.4v133.8l.5-133.4v134.1l.5-138.8v148.5l.5-161.5v144.6l.5-156.4v169.7l.5-141.1v159l.5-154.6v126.9l.5-124.2v151.5l.5-170.7v176.8l.5-167.2v143.7l.5-158v158.7l.5-141.4v162.2l.5-184.2v181.6l.5-163.2v147.7l.5-152.4v157.7l.5-164.5v154.9l.5-141.5v151.9l.5-180.8v194.8l.5-154.4v131.7l.5-141.7v131.4l.5-136.7v130.8l.5-131.1v160.7l.5-182.8v192.1l.5-188.3v160l.5-138.4v139.1l.5-153.8v167.8l.5-150.3v132l.5-147.9v160.4l.5-173.9v164l.5-136.3v130.7l.5-150.4v159.1l.5-139.9v143.2l.5-147v145l.5-140.1v153.7l.5-161.2v137.8l.5-130.8v133.8l.5-143.7v140.3l.5-136v150.9l.5-142.2v133.6l.5-133.5v137.4l.5-143.5v149.8l.5-162v157.7l.5-160.7v148.3l.5-131.9v160l.5-175.5v179.9l.5-156.2v124.5l.5-133.2v149.2l.5-136.1v154.6l.5-163.8v154.2l.5-156.4v145l.5-146v143.7l.5-143.1v134.4l.5-145.3v141.2l.5-122v133.9l.5-144.3v146.6l.5-149.4v171l.5-181.7v159l.5-155v178l.5-159v134.7l.5-153.1v166l.5-150.1v149.9l.5-150.3v133l.5-138.7v160.9l.5-159.8v138.3l.5-142.2v151.1l.5-136.8v124.8l.5-142.9v144.2l.5-170.9v167.2l.5-130.4v144.5l.5-143.1v134.2l.5-136v162.6l.5-166v140.1l.5-133.8v132.8l.5-175.8v196.9l.5-156.4v140.3l.5-151.5v145.2l.5-162.9v172.4l.5-146.8v137.1l.5-140.7v159.9l.5-164v159.6l.5-161.7v170.1l.5-160v135.6l.5-130.2v136.3l.5-142.2v155.3l.5-151v163.3l.5-169.3v151l.5-141.8v129.7l.5-143.8v145.2l.5-137.1v164.2l.5-166.3v138.6l.5-164.9v167.2l.5-146v144.3l.5-139.4v158.1l.5-159.8v138.8l.5-141.6v132.2l.5-133v144.3l.5-138v148.8l.5-169.3v166.3l.5-153.3v149.6l.5-137.5v128.6l.5-154.5v158.1l.5-161.2v160.7l.5-149.6v157.8l.5-151.3v157.2l.5-144.7v139.8l.5-147.5v139l.5-162.9v176.1l.5-161.7v145.2l.5-141.8v154.5l.5-133.8v140.5l.5-147.7v126.1l.5-136.9v147.4l.5-153.8v169.7l.5-157.8v141.3l.5-138v151.1l.5-165.7v156.9l.5-153.1v141.6l.5-148v181.2l.5-165.5v149.7l.5-155.3v141.4l.5-135.2v136l.5-147.3v142.3l.5-149.8v180.6l.5-196v175.8l.5-158.1v158.7l.5-152.1v150.6l.5-133.8v148.7l.5-159.8v131.5l.5-139.5v149.1l.5-138.4v139.6l.5-139.2v150.3l.5-159.8v150.8l.5-145.5v143.5l.5-139.7v138l.5-144.9v141.4l.5-133.8v137.3l.5-138v132l.5-142.5v152.4l.5-135.8v132.9l.5-156v160.5l.5-142.6v165.5l.5-174.3v161.6l.5-159.1v143.2l.5-138.6v153.6l.5-162v175.6l.5-170v156.3l.5-154.8v149.9l.5-152.5v171.1l.5-163.6v131.6l.5-138.5v160.1l.5-183.5v167.8l.5-142.2v164.9l.5-162.8v142l.5-154.4v144.1l.5-137.6v171.9l.5-194.5v166.5l.5-132.3v129l.5-148.2v146l.5-135.2v141.7l.5-131.6v121.7l.5-130.7v142.6l.5-146.8v155.4l.5-142v134.2l.5-151.9v149.8l.5-132.5v127l.5-141.1v140.9l.5-141.6v146.9l.5-139.9v135.5l.5-141.6v149.9l.5-140.7v163.7l.5-168.2v168.2l.5-171.5v148.9l.5-149.6v140.6l.5-136.2v153.1l.5-156.7v162.3l.5-152v130.6l.5-144.8v147.2l.5-132.2v133.1l.5-130.8v134.7l.5-133v134.7l.5-175.1v173l.5-167.7v161.1l.5-132.1v154.1l.5-164v147.4l.5-161v166.5l.5-155.9v151.2l.5-129.7v140.8l.5-149.3v152.3l.5-178.6v174.3l.5-150.6v142.5l.5-141.5v130.8l.5-140.7v173.8l.5-164.1v140.9l.5-146.1v169.3l.5-162.5v146.3l.5-155.6v168.9l.5-156.4v159.3l.5-167v138.5l.5-152.6v181.1l.5-157.8v124l.5-120.9v121l.5-124.3v139l.5-150.4v140.5l.5-157.3v154.2l.5-161.4v193.4l.5-175.7v160.1l.5-146.2v135.7l.5-132.6v130.7l.5-135.5v129.7l.5-129.6v131.7l.5-122.5v143.2l.5-153v152.9l.5-156.5v137.5l.5-143.7v145.2l.5-153.5v164.4l.5-145.6v130.9l.5-125.4v137.3l.5-154.8v147.7l.5-137.8v155.5l.5-152.2v138.1l.5-138.6v127.7l.5-149.1v158.5l.5-163.1v188.6l.5-157.8v131.6l.5-143.7v145.6l.5-136.2v138.2l.5-136.5v135.4l.5-140.9v143.7l.5-138.2v120.4l.5-122.6v136.6l.5-139.8v132l.5-171.9v170.8l.5-133.5v144.4l.5-136.9v142.2l.5-151v139.8l.5-130.8v158.4l.5-158.2v127.2l.5-127.9v138.8l.5-149.5v143.4l.5-131.9v135.8l.5-136.3v159.3l.5-171.9v142.2l.5-162.5v165.1l.5-140.3v134.8l.5-131.4v136.1l.5-135.9v133.3l.5-134.3v145.8l.5-140v130.5l.5-127.8v136.8l.5-143.3v123.5l.5-120.2v124.2l.5-129.3v134.4l.5-155.6v156.7l.5-131.9v131.7l.5-130.8v147.8l.5-149.5v131.3l.5-129.9v126.2l.5-158.5v183.8l.5-166.9v149.4l.5-135.7v162.1l.5-195.6v171.4l.5-133.7v127.5l.5-134v147.7l.5-171.2v162.2l.5-132v124.2l.5-135.6v139.4l.5-134.1v129.9l.5-136.5v143.8l.5-144.6v140.6l.5-137.4v136.4l.5-131.3v128.6l.5-127.4v133.1l.5-142.6v141.3l.5-141.3v150.4l.5-141.5v131.9l.5-152.4v150.9l.5-136.2v144.6l.5-132.6v133.4l.5-140.8v136.2l.5-138.4v133.5l.5-143.4v152.1l.5-138v138.8l.5-153.7v161.3l.5-178.3v178.2l.5-151.5v135.1l.5-162.8v161.6l.5-143.7v146.9l.5-135.4v142.6l.5-138v129.2l.5-132.2v144.5l.5-141v151.6l.5-186.7v164.7l.5-127.4v146.1l.5-185.7v161.8l.5-160.2v175.1l.5-138.3v125.5l.5-146.7v152.6l.5-140v154.6l.5-160.4v149.4l.5-136.9v138.7l.5-145.8v141.6l.5-148.5v150.3l.5-141.1v165.6l.5-172.1v138.9l.5-140.5v167.6l.5-166.9v167.3l.5-168.4v147l.5-149.7v153.6l.5-171.7v160.4l.5-125.4v138l.5-144.8v131.1l.5-134.4v156.6l.5-167.5v174.8l.5-170.5v152.6l.5-145.2v169.2l.5-173.5v141.3l.5-137.4v169.6l.5-166v166l.5-164.9v140.9l.5-135.5v128.9l.5-137.3v157l.5-156.1v146.2l.5-146.7v151l.5-152.8v157.1l.5-161.1v143l.5-131.5v140.1l.5-157.8v143.7l.5-130.6v135.3l.5-135.7v135.5l.5-145.7v155.4l.5-140.4v133.9l.5-153.5v151l.5-151.4v176.3l.5-160.2v129.3l.5-125.4v144l.5-141.7v140.9l.5-148.8v132.9l.5-127.2v132l.5-155v158.7l.5-165.2v165.2l.5-145.8v149.4l.5-145.2v143.4l.5-144.8v166.8l.5-174.9v166.7l.5-160.2v142.1l.5-143.7v149.5l.5-161.9v152.7l.5-131v130.9l.5-130.6v137.9l.5-161.8v167l.5-147.9v150.6l.5-150.4v137.5l.5-136.2v166.1l.5-171.3v151.1l.5-149.8v142.6l.5-139.3v150.4l.5-165.7v177.2l.5-165.4v148.5l.5-141.6v153l.5-146.6v154.3l.5-175.8v158.2l.5-157.1v152l.5-135v125.2l.5-126.8v127.8l.5-135.3v150.2l.5-146.6v145.6l.5-142.8v135.7l.5-141.2v150.7l.5-168.8v166.4l.5-174.8v171.5l.5-143.3v136.7l.5-140.8v141.1l.5-146.5v148.7l.5-132.9v126l.5-133.5v143.4l.5-140.3v136.3l.5-138.8v137.2l.5-149.6v159.9l.5-143.8v129.4l.5-126.7v134.9l.5-145.2v135.3l.5-150.6v173l.5-150.2v128l.5-151.6v162l.5-145.7v134.5l.5-128.9v147.8l.5-184.2v165.9l.5-137v161.9l.5-160.4v140.9l.5-139.4v137.6l.5-136.8v135.8l.5-130.9v164.3l.5-193v153.9l.5-148.5v155.7l.5-137.5v141.5l.5-140.1v129.7l.5-133v134.5l.5-153.5v158.8l.5-131.8v131.9l.5-137.3v136.8l.5-129.1v150.1l.5-153.7v153.5l.5-148v136l.5-159.6v149.6l.5-148v177.9l.5-175.7v144.5l.5-131.8v128l.5-137.5v167.2l.5-152.4v128l.5-139.9v151.5l.5-154.1v147.8l.5-132.6v129.1l.5-143.3v141l.5-161.6v160.2l.5-164.3v171.1l.5-139.3v134.4l.5-129.4v152.1l.5-162.6v163.9l.5-159.3v168.2l.5-167.8v147.1l.5-139.9v138.9l.5-148v164.3l.5-164.9v137.5l.5-136.7v147.8l.5-177.1v178.7l.5-168v164.4l.5-138.6v134.6l.5-140.3v142.6l.5-141.6v130.4l.5-147.5v171.3l.5-166.8v149.6l.5-138.2v136.1l.5-136.1v143.3l.5-137.4v129.7l.5-140.7v168.7l.5-158.1v135.1l.5-151v175.8l.5-174.2v140.8l.5-134.7v142.8l.5-142.8v134.3l.5-130.4v151.8l.5-160.6v140.6l.5-136.4v141.6l.5-138.3v140.8l.5-162.3v158.8l.5-135.5v138.4l.5-140v148.1l.5-137.5v135.9l.5-167.8v158l.5-129.5v151.2l.5-155.4v134.1l.5-136.9v147.4l.5-176v160.2l.5-160.5v163.1l.5-138.7v149.2l.5-149.2v169.3l.5-160.2v145.2l.5-157.9v153.1l.5-159.5v168.4l.5-155.2v169.2l.5-159.3v126.1l.5-131.7v140.3l.5-139.5v129.6l.5-145.1v160.2l.5-148.8v165.1l.5-166.2v149.4l.5-159.8v150.9l.5-141.7v142l.5-131.8v133.9l.5-165.3v161.9l.5-172.4v170l.5-131.9v127.7l.5-135.8v138.8l.5-147.6v154.3l.5-147.3v137.7l.5-122.3v128l.5-146v174.7l.5-177.1v149.9l.5-135v129.1l.5-139.2v142.2l.5-133.5v130.8l.5-132.7v152.6l.5-165.8v146.3l.5-129v125.3l.5-133.7v152.4l.5-145.7v139.6l.5-138.8v132.1l.5-159.8v165l.5-134.5v153.2l.5-187v168l.5-138.7v150.6l.5-156.3v171.6l.5-160.6v128.6l.5-129.3v152.5l.5-163.7v137.3l.5-123.7v134.8l.5-152.1v150.2l.5-138.6v142.5l.5-138v144.4l.5-144.3v129.3l.5-141.1v154.6l.5-144.6v135.5l.5-136.8v141.1l.5-138.1v123.9l.5-126.4v135l.5-156.7v150.1l.5-124v123.1l.5-130.5v131.7l.5-135.2v134.3l.5-123.6v128.5l.5-129.8v132.2l.5-143.3v143.6l.5-146.3v142.7l.5-159.8v163.8l.5-141.6v144.6l.5-140.7v159.8l.5-180.5v153.5l.5-136v131.8l.5-130v144.1l.5-165.6v177.6l.5-152.9v139.4l.5-153.7v154.5l.5-143v138l.5-127.6v141.2l.5-174.9v161.5l.5-142.2v138l.5-121.1v132.1l.5-151.6v140.7l.5-129.9v141.6l.5-148v134.5l.5-135.2v127.4l.5-120.8v139.4l.5-137.6v131.5l.5-138.9v146.8l.5-130.8v116.1l.5-168.2v185.5l.5-147.7v133.7l.5-132.2v144.8l.5-141.4v143.3l.5-159.7v152.1l.5-133.1v120.5l.5-119.6v120.9l.5-127.9v143.5l.5-150.2v145.2l.5-144v143.5l.5-134.5v130.2l.5-133.5v154l.5-153.9v129.5l.5-145.1v164.5l.5-150.8v149.7l.5-172.1v157.8l.5-132.3v157.6l.5-184.5v167.5l.5-150.2v147.3l.5-148.4v142l.5-139.7v154l.5-144v125.1l.5-139.1v136.1l.5-125.5v131.5l.5-132.2v139.8l.5-138.9v160.2l.5-156.3v145.4l.5-140.8v131.8l.5-144.7v165.7l.5-151.8v142.9l.5-149.6v129.1l.5-142.5v152.6l.5-136.6v132.8l.5-156.7v144.6l.5-116.9v126.2l.5-131.2v127.4l.5-138.5v136.1l.5-124.5v123.6l.5-157.8v169.6l.5-137.4v129.2l.5-129.2v126.8l.5-129.9v138.3l.5-148.2v143.5l.5-141.5v141.4l.5-140v135.7l.5-129.8v130.8l.5-151.1v178.7l.5-162.2v136.2l.5-127.2v124.5l.5-130.8v163.7l.5-162.6v127.3l.5-132.1v137l.5-150.5v160l.5-147.8v144.7l.5-130.7v123.8l.5-141.5v149.9l.5-135.7v146.1l.5-157.2v169.4l.5-172.2v142.7l.5-122.4v154.6l.5-159v130l.5-155.9v166l.5-145v146.6l.5-148.4v144.7l.5-156.3v136.1l.5-121.6v122.7l.5-137.3v164l.5-150.4v141.3l.5-145.9v158.6l.5-152.2v130.2l.5-152.9v156.4l.5-130v129.8l.5-141.2v169.7l.5-165.2v134.4l.5-133.9v135.2l.5-154.8v164.8l.5-139.9v126l.5-124.8v117.1l.5-122.1v160.2l.5-162.7v133.2l.5-130.5v132.8l.5-135.1v134.5l.5-136v136.6l.5-169.3v166.4l.5-123.6v128.4l.5-135.1v128.1l.5-142.1v138.8l.5-129.3v159.7l.5-156.2v137l.5-136.2v135.6l.5-136.9v139.1l.5-134.1v153.3l.5-165.9v139.7l.5-161.5v166.6l.5-134.1v126.9l.5-142.8v149.1l.5-140.6v143l.5-158.4v169.5l.5-149.6v142.6l.5-166.8v159.5l.5-136.2v134.4l.5-140.3v139.9l.5-158.4v166l.5-150.9v174.9l.5-164.7v131.7l.5-136.5v128.2l.5-134.1v136.3l.5-131.4v133l.5-131.9v142.6l.5-133.7v145.6l.5-146.4v152.3l.5-150.4v138.1l.5-148.7v166.7l.5-171.9v165.9l.5-175.3v173.3l.5-162v146.7l.5-140.2v136.8l.5-147.9v172.6l.5-164.3v164.5l.5-158.1v132.9l.5-125.1v130.1l.5-132.7v125.5l.5-150.7v154.8l.5-137.4v161.5l.5-167.8v149l.5-135.2v124.4l.5-125.5v126.7l.5-134.4v145.7l.5-144.3v141.2l.5-145v143.6l.5-144.1v143.5l.5-141.9v154.2l.5-144.1v135.5l.5-147.1v139.1l.5-129.6v122.3l.5-149.2v182l.5-156.7v125.6l.5-145.3v149.9l.5-151.5v165.7l.5-153.9v154.4l.5-145.2v161.7l.5-172.4v145.2l.5-133.9v139l.5-141.8v136.5l.5-134.1v162l.5-161.5v131.8l.5-129.4v127.4l.5-136v140.2l.5-147.6v156.2l.5-146.4v140.2l.5-142.8v147.3l.5-147.3v134.7l.5-143.4v141l.5-134.9v154l.5-142v126.9l.5-151.2v162.9l.5-140v136l.5-140v150.7l.5-175v156.8l.5-158.2v157.8l.5-149.1v167.7l.5-148.9v141.2l.5-155.8v150.5l.5-156.8v167.7l.5-160.8v147.3l.5-138.4v167.3l.5-183.8v164.8l.5-156.4v171.3l.5-166.1v170.2l.5-173.1v143.5l.5-127.6v126.6l.5-136.4v144.1l.5-149.3v152.8l.5-136.5v144.1l.5-171.9v156.6l.5-151v160.4l.5-153.1v140.5l.5-128.8v156.3l.5-180.5v150.4l.5-129.8v136.4l.5-143v142.1l.5-138.7v154.9l.5-146.5v143.2l.5-144.5v125.9l.5-136.3v154l.5-170.1v152.4l.5-141.2v146.4l.5-140.3v150.8l.5-144.9v134.9l.5-147.3v159.1l.5-146.4v139.5l.5-176.2v177.2l.5-156.6v160.5l.5-180.2v163.3l.5-122.7v129.8l.5-147.2v163.2l.5-154.3v149.5l.5-144.2v139.2l.5-157.9v151.7l.5-138v165.2l.5-168v139.2l.5-151.7v154.2l.5-136.7v130.4l.5-133.5v132.3l.5-133.1v135.1l.5-145.3v152.6l.5-160.6v158.8l.5-171.2v165.8l.5-125.5v130.5l.5-136.8v163.2l.5-198.4v195.9l.5-179.3v153.5l.5-137.7v140.2l.5-138.7v134.7l.5-132v127.1l.5-135.6v145.9l.5-149.7v140.7l.5-127.1v144.6l.5-172.5v161.9l.5-139.5v144.1l.5-144.5v155.7l.5-156v143.4l.5-144.7v145.8l.5-160.2v162.1l.5-140.6v147.7l.5-153v140.5l.5-136.7v138.6l.5-155.5v146.1l.5-145.5v155.5l.5-143.9v160.9l.5-188.3v166.9l.5-135.2v136.1l.5-156.2v153.6l.5-128.2v123.1l.5-128.4v145.2l.5-167.8v161.9l.5-145.5v141l.5-135.9v134.4l.5-138.2v154.4l.5-152v139l.5-137.6v142.7l.5-149.5v152.8l.5-143v139.4l.5-153.7v167.9l.5-158.1v135l.5-136.8v147.5l.5-144.7v144.3l.5-142.3v144l.5-151.8v147.8l.5-158.9v158.1l.5-146.3v165.4l.5-157.4v161.8l.5-178.8v148.1l.5-135.1v146.1l.5-168.1v165.3l.5-141v152l.5-153.1v140.9l.5-157v179.1l.5-187v176.2l.5-149.9v144.7l.5-169.5v187.1l.5-169v141l.5-136.9v134.4l.5-159v169.1l.5-178.5v195.1l.5-169.3v173.1l.5-183.1v158.8l.5-147.6v159.1l.5-157.6v160.2l.5-166.8v153l.5-152.3v165l.5-190.2v166.4l.5-133.8v156.9l.5-158v141.8l.5-133.5v133.6l.5-148.6v146.4l.5-138.3v139.2l.5-135v136l.5-172.2v178.5l.5-146.6v134.4l.5-135.8v144.3l.5-137.8v135.5l.5-149.1v165l.5-170.9v177.5l.5-157.5v163.1l.5-163.3v131.6l.5-133.6v142.4l.5-149.6v142.2l.5-139.3v142.2l.5-167.7v170.2l.5-145.6v148.8l.5-152.2v155l.5-152v132.9l.5-135v158.5l.5-167.1v154.5l.5-140v167.1l.5-164.6v133.1l.5-143.5v140.3l.5-131.1v141.3l.5-157.5v146.3l.5-134.6v148.8l.5-157v153.1l.5-147.2v150.7l.5-152.3v151.7l.5-144.1v166.6l.5-172.3v151l.5-152.5v142.1l.5-153.2v151.8l.5-160.5v185.3l.5-157.4v141.4l.5-144.3v168.6l.5-168.7v132.9l.5-137.8v139.5l.5-146.2v156.8l.5-144.3v163l.5-168.9v141.5l.5-142.4v158.3l.5-156.4v145l.5-138.7v139.1l.5-150.3v148l.5-136.3v129.6l.5-126.8v141.9l.5-183.2v173.6l.5-123.8v138l.5-155.5v162.8l.5-167.9v144.7l.5-147.2v148.6l.5-132.4v163.5l.5-170v137.6l.5-145.3v142.9l.5-141.5v161.6l.5-146v135l.5-151.6v141l.5-128.9v151.6l.5-154.4v137.1l.5-130.3v129.6l.5-134.6v128.6l.5-121v139.1l.5-136.4v122.9l.5-144.4v163.6l.5-178.1v182.6l.5-160.8v151.5l.5-155.7v174.3l.5-164.4v137.7l.5-156.7v178l.5-166v154.1l.5-145.1v130.5l.5-139.9v139l.5-135.6v159.6l.5-155.3v138l.5-138.2v143l.5-145.1v141.1l.5-144.4v168.4l.5-164.3v158.3l.5-158.2v163.1l.5-167.4v158.8l.5-154.9v147.5l.5-160.7v157.3l.5-151.4v167l.5-175.8v164l.5-149.4v153.4l.5-158v153.5l.5-143.6v162.1l.5-162.5v129.9l.5-123.9v146.6l.5-172v160.5l.5-162.3v155.4l.5-150.1v152.7l.5-152.3v153l.5-171.7v175.4l.5-147.6v139.7l.5-139.4v147.7l.5-141.8v141.3l.5-142.6v162.1l.5-174.5v167.9l.5-150.3v137.1l.5-138.2v153.7l.5-166.6v142.6l.5-132.6v138.9l.5-142.7v166.6l.5-169.8v166.4l.5-163.6v164.7l.5-199.5v165.6l.5-125.8v133.8l.5-146v150.8l.5-159.3v182.7l.5-189.3v161.6l.5-141.9v149.3l.5-142.3v162.6l.5-157.2v130l.5-132.1v133.1l.5-135.4v161.6l.5-163.4v163.4l.5-161.7v141l.5-139.9v152.6l.5-153.7v138.8l.5-164v156.2l.5-128.8v133.5l.5-128.8v137.3l.5-154.2v144.7l.5-140.9v167.9l.5-161.4v125l.5-125.9v139.9l.5-143.2v143.4l.5-135.1v142.2l.5-150v143.8l.5-136v132.8l.5-141.4v141.5l.5-137.1v130.8l.5-142.4v153l.5-137.9v125.6l.5-142.1v146.5l.5-135.2v163.1l.5-158.1v158.2l.5-157.3v153.5l.5-164.6v152.1l.5-137.7v142.6l.5-162.1v155.8l.5-140.5v127.2l.5-127v133.5l.5-137.4v127.4l.5-125.9v156l.5-171.9v167.6l.5-172.8v154.1l.5-132.4v148.1l.5-145.4v130.1l.5-146.7v139.6l.5-132.5v139.1l.5-132.5v130.3l.5-127.5v123.4l.5-138.9v139.1l.5-123.7v127.6l.5-137.5v145.9l.5-142.2v136.4l.5-132.3v143l.5-161.9v147.3l.5-126.8v155.3l.5-158v127.5l.5-149.8v162.4l.5-143.5v138.2l.5-137.9v131.1l.5-134.7v141.1l.5-132.8v139.4l.5-145.8v146.1l.5-152.7v142.6l.5-130.7v124.8l.5-129.9v142.4l.5-144v154.5l.5-180.5v169.5l.5-142.9v135.6l.5-133.1v154.5l.5-157.2v138l.5-132.5v148l.5-154.1v146.4l.5-145.9v137.8l.5-128.5v123.9l.5-136v136.6l.5-131v130.4l.5-133.4v140.1l.5-149.7v147.3l.5-141.8v140l.5-133.8v154.6l.5-153.3v145.4l.5-142.5v148.4l.5-150.9v157.2l.5-191v172.3l.5-138.6v160.1l.5-173.5v151l.5-153.7v139.8l.5-127.5v134.7l.5-128.7v131.9l.5-144.6v156l.5-149.1v155.6l.5-162v152.3l.5-177v177.3l.5-138.5v128.8l.5-141.2v134.1l.5-124v132.1l.5-136.1v140l.5-148.1v173.2l.5-184.7v162.8l.5-150.4v149.7l.5-145.4v143.6l.5-153v143.4l.5-133.3v133.3l.5-136.3v143.7l.5-130.5v121l.5-125.7v161.8l.5-180.3v149.4l.5-130v154.1l.5-160.3v141.4l.5-151.9v151l.5-134.8v161.4l.5-164v140.9l.5-151v151.7l.5-139.8v138.2l.5-136.1v134.3l.5-138.1v138.6l.5-144.3v154.9l.5-154.2v157.8l.5-175.8v162.5l.5-148.1v153l.5-161.9v169.1l.5-155.7v139.6l.5-136.7v146.1l.5-145.5v133.8l.5-142.7v146.8l.5-151v157.3l.5-174.9v173.4l.5-141.4v156.6l.5-164.5v141.5l.5-163.9v169.1l.5-162.1v151.8l.5-141.6v137.9l.5-135.4v145.6l.5-151.4v158.8l.5-147.6v148.7l.5-173.7v163.3l.5-130v130.2l.5-132.4v143.8l.5-163.9v156.8l.5-145.2v170.8l.5-166.5v146.6l.5-146.1v139.5l.5-153.7v153.8l.5-133.2v129.8l.5-149.6v179.4l.5-171.4v150.6l.5-144.5v131.6l.5-137.6v171.1l.5-160.6v155.5l.5-160.2v153.6l.5-184.8v165.9l.5-169.3v164.2l.5-131.3v145.2l.5-156.7v151.4l.5-150.6v146.2l.5-127.8v138.5l.5-156.2v149.3l.5-134.2v134.6l.5-153.9v160l.5-159.5v152.1l.5-150.6v158.8l.5-145.9v148.3l.5-154.3v133.7l.5-120.1v128.8l.5-138.3v144.3l.5-150.9v150.8l.5-138.1v137.1l.5-138.5v141.4l.5-156.1v152.7l.5-150.2v163l.5-158.6v142.9l.5-140.4v145.2l.5-139.8v128.7l.5-137.9v152.2l.5-153.1v139.5l.5-135.1v136.8l.5-138.3v136.1l.5-133v140.7l.5-134.2v133.6l.5-162v189.6l.5-197.9v181.8l.5-155.4v143.1l.5-141v148.3l.5-149.3v134.3l.5-144.9v150.9l.5-135.8v139.3l.5-143.4v140.2l.5-153.1v153l.5-138.1v142.2l.5-141.3v156.6l.5-146.3v121.4l.5-141.4v160.4l.5-157.3v144.1l.5-150.9v161.9l.5-155v144.6l.5-135.2v134.5l.5-133.2v131.7l.5-132.9v127.3l.5-149.3v166.5l.5-148.3v147.3l.5-138.9v136.3l.5-142.9v137.6l.5-134.9v163.4l.5-173.9v146.5l.5-137v129.8" stroke="#000" stroke-width="0.9"/>
<path d="M178.7 884.7v131.7l.5-126v116.4l.5-120.4v109.3l.5-106.9v113l.5-106.1v118.4l.5-127.3v108.9l.5-112v111.5l.5-99.1v101.4l.5-105.6v114.1l.5-110.4v109.5l.5-106.1v115l.5-120.3v112.7l.5-123.6v126.1l.5-130v137.2l.5-124v103.9l.5-98.8v125.8l.5-129.8v115.6l.5-113.4v109.5l.5-109.6v102.9l.5-104.5v104.1l.5-112.2v131.7l.5-128.9v115.4l.5-122.2v124.9l.5-113.1v102.5l.5-112.1v115.1l.5-104.7v104l.5-108.9v112.7l.5-115.2v131.4l.5-128.2v110.2l.5-119.5v119.3l.5-107.5v103.5l.5-100.2v104.3l.5-106.5v106.6l.5-106v125.5l.5-121.7v112.5l.5-131.1v119.1l.5-106.7v126.4l.5-135.7v118l.5-108.4v111.3l.5-113.3v111.2l.5-108.1v107.6l.5-108.3v111.1l.5-110.9v104.7l.5-104.5v126.9l.5-126.6v104.3l.5-103.1v109l.5-106.9v111.4l.5-125v126.8l.5-120v109.1l.5-107.1v118.8l.5-119.5v117l.5-110.9v104.6l.5-117.6v111.4l.5-102.4v104.5l.5-104.5v113.4l.5-108v117.7l.5-128.7v116.1l.5-121.1v124l.5-115.4v106.2l.5-114v128.5l.5-118.9v104.6l.5-101.4v106.8l.5-127.2v121.9l.5-111.1v113.9l.5-106.7v110.1l.5-114.3v112.6l.5-117.7v113.3l.5-111.4v113.7l.5-113.1v111.8l.5-112.3v113.2l.5-111.1v131.3l.5-123.1v99.3l.5-103.7v112.9l.5-114v108.7l.5-108v114.7l.5-132.6v127.8l.5-111.1v104.6l.5-108.7v117.1l.5-116.9v111.5l.5-103.1v129.4l.5-135.7v113.8l.5-111.4v107.3l.5-113.2v122.7l.5-118v111.4l.5-115v111.5l.5-108.3v111.4l.5-112.5v118l.5-114.3v113.8l.5-117.8v116.2l.5-107.3v109.8l.5-123.9v119.7l.5-127.7v128.1l.5-111.5v107.7l.5-110.3v126.6l.5-131.9v114.7l.5-110.3v106.7l.5-111.9v113.5l.5-101.9v106l.5-108.4v108.2l.5-110v108.2l.5-105.1v107.6l.5-114.8v110.8l.5-108.4v126.2l.5-118.4v105.2l.5-127.6v129.9l.5-115.9v119.2l.5-124.8v116.3l.5-117.9v115.4l.5-105.6v119.8l.5-129.9v120.8l.5-116v116.9l.5-109.4v127.5l.5-124.8v103.1l.5-103.1v105.5l.5-104.3v109.8l.5-113.6v108.1l.5-104.7v103.6l.5-106.7v115.1l.5-122.1v120.5l.5-119.2v118.5l.5-118v115.3l.5-116.1v110.1l.5-103.9v105l.5-113.3v113.6l.5-102.7v104.8l.5-108.3v109.4l.5-108.8v117.9l.5-124.4v130.8l.5-124.9v106.9l.5-107v109l.5-104.3v121.5l.5-129.7v125.7l.5-129.9v117.9l.5-127.3v126.4l.5-114.3v110.1l.5-102.7v105.8l.5-116.8v110.8l.5-108.4v115.3l.5-125.8v125.2l.5-107.2v104.7l.5-100.9v112.9l.5-118.8v116.8l.5-113.6v117.2l.5-135.3v122.3l.5-111.5v112.6l.5-123.1v136.8l.5-126.2v125.7l.5-130.9v131.5l.5-117.3v103.9l.5-104.8v105.2l.5-111.6v116.6l.5-111.2v103l.5-106.3v112l.5-110.9v102.9l.5-102.2v103.7l.5-100.6v101.8l.5-103.9v106l.5-106.2v123.5l.5-125.6v120.9l.5-120.1v111.7l.5-110.6v105.3l.5-110.4v114.7l.5-128.5v127.1l.5-117.6v112.7l.5-109.1v115.4l.5-103.1v92.1l.5-99.8v103.7l.5-102.7v108.9l.5-107.9v107l.5-119.7v114.5l.5-116.4v117.7l.5-99.3v107.9l.5-116.3v103.2l.5-98.3v107.9l.5-113.5v108.6l.5-102v104.6l.5-109.1v128.3l.5-123.4v104.5l.5-122.5v121.1l.5-100.2v111.6l.5-120.6v130.3l.5-138.2v117.1l.5-108v107.4l.5-108.1v105.1l.5-102v109.5l.5-104.9v96.7l.5-117.6v122.2l.5-121.3v130.6l.5-114.1v109l.5-117.7v117.6l.5-109.6v106.7l.5-106.9v117.5l.5-116.7v103.5l.5-110v109.3l.5-99.1v100.6l.5-123.3v128.4l.5-112.6v112.2l.5-114.6v113.5l.5-109.5v119.4l.5-117.1v103.3l.5-110.2v112.3l.5-119.5v117l.5-106.7v105.5l.5-102.2v118.7l.5-125v109.3l.5-117.5v118.1l.5-108.8v111.6l.5-114.2v122.5l.5-114.7v102.1l.5-107.6v110.1l.5-119.9v121.5l.5-108.9v104.2l.5-97.9v95.7l.5-119.7v122.7l.5-101v103.9l.5-109.8v130.5l.5-130.3v111.4l.5-108.7v101.4l.5-104.7v105.1l.5-107.1v133.4l.5-128v112.6l.5-110.3v103.1l.5-106.2v108.3l.5-112.3v110.8l.5-108.9v111.4l.5-108.9v104l.5-114.2v113.9l.5-103.3v116.6l.5-115.4v115.5l.5-115.1v107.7l.5-110.4v111.1l.5-105.6v106.2l.5-118.3v110.5l.5-103.8v108l.5-101.7v116.5l.5-119.7v126l.5-133.8v109.9l.5-105.3v104.8l.5-99.2v100.5l.5-114.2v117.2l.5-110.6v110.6l.5-107.6v104.7l.5-101.1v108.6l.5-112.5v119.9l.5-125.6v114.9l.5-105.1v101.1l.5-101.6v119.9l.5-124.4v109.7l.5-114.8v108.8l.5-95.5v97.4l.5-103.6v101.5l.5-100.5v105.3l.5-103v98.4l.5-116.4v119.3l.5-101.9v99.1l.5-95v97.3l.5-103.7v99.1l.5-102.1v101.9l.5-93.5v95.5l.5-107.2v111.2l.5-119.4v121.2l.5-104.8v102.3l.5-100.5v100.2l.5-105.4v108.5l.5-125.5v120.8l.5-104.3v109.8l.5-124.1v121.9l.5-118.2v123.9l.5-110.7v104.6l.5-112.8v109.5l.5-99.3v105.2l.5-101.4v94.6l.5-106.9v106.3l.5-102v105.2l.5-112v108.6l.5-99.8v98.7l.5-108.6v125.1l.5-115v97.9l.5-98.3v118.8l.5-122.2v118.2l.5-113.2v102.3l.5-103.5v99.1l.5-99.4v102.5l.5-106.2v108.3l.5-107.7v103.6l.5-113.1v116.9l.5-102.7v101.2l.5-104.1v101.9l.5-99.1v99.3l.5-100.9v100.9l.5-100.1v104.3l.5-110.7v110.7l.5-114.1v108.6l.5-105.3v108.9l.5-103.9v111.5l.5-117.2v115.7l.5-117.7v116.8l.5-108.1v101l.5-123v130.1l.5-107.6v102.5l.5-115.2v112.4l.5-107.8v113.4l.5-122.2v123.1l.5-105.3v100l.5-114.1v116.4l.5-110.9v129l.5-136.7v120.4l.5-126.1v131.8l.5-115.1v109.7l.5-103.1v103.1l.5-106.8v113l.5-123v117.1l.5-125.5v132.7l.5-118.5v108.7l.5-101.6v100.8l.5-105.2v111.4l.5-120v113.9l.5-103.3v123.6l.5-131.9v112.6l.5-112v108.3l.5-105.6v116.1l.5-135.5v135l.5-115.4v116l.5-119.9v108.7l.5-102.5v110.4l.5-110.2v109.9l.5-126v123.6l.5-107.6v109.8l.5-118.4v122.6l.5-115.8v102.1l.5-104.3v108.3l.5-107.3v119.4l.5-127.5v130.4l.5-128.1v111.7l.5-103v109.7l.5-108.6v101.6l.5-113.2v117l.5-103.8v107.8l.5-121.7v122.1l.5-117.7v117.3l.5-112.1v112l.5-119.7v112.8l.5-113v127.7l.5-124.4v127.9l.5-120.3v119.9l.5-125.4v110l.5-118.5v124.7l.5-130.5v134.9l.5-118.2v114.8l.5-134.6v142.4l.5-120.3v110.2l.5-120.1v115.8l.5-122.4v125.7l.5-121.3v116.9l.5-109.7v120.6l.5-122.5v109.6l.5-105.9v109.6l.5-119.1v120.2l.5-118.1v115.6l.5-106.6v104.7l.5-104.1v105l.5-122.4v122.6l.5-106.2v109.5l.5-110.5v112.4l.5-123.4v129.9l.5-126.8v124l.5-122.8v117.5l.5-119.9v123.3l.5-126.7v136.8l.5-142.7v145.5l.5-125.4v108.9l.5-109.8v112.1l.5-125.1v124.3l.5-112.1v118.4l.5-118.9v108.7l.5-105.3v112.7l.5-126.8v120.5l.5-108.9v111.7l.5-109v100.5l.5-98.7v110.5l.5-119v114.3l.5-116.6v136.2l.5-131.3v109.9l.5-108.7v113.9l.5-127.7v122.7l.5-106.5v100.3l.5-100v112.2l.5-109.9v98.7l.5-100.7v111.3l.5-108.6v102.6l.5-115.4v115.6l.5-105.1v103.5l.5-113.2v125.5l.5-120.7v109.8l.5-106.6v104.5l.5-115.2v112l.5-115.3v124.1l.5-112.2v105.8l.5-97v95.7l.5-103.3v105.2l.5-100.1v107.8l.5-110.3v105.1l.5-107.1v113.5l.5-117.9v111.2l.5-101.9v115.4l.5-131.4v130.5l.5-130.4v116.4l.5-101.6v99.2l.5-103.4v112.2l.5-115.8v115.9l.5-113.5v119.5l.5-125.9v117.9l.5-113v104.8l.5-103v115.1l.5-108.2v120.6l.5-124.2v105.7l.5-115.4v118.1l.5-106.5v97.9l.5-100.5v107.4l.5-105.7v101.5l.5-104.2v102.4l.5-99.2v101.7l.5-104.2v105.5l.5-102.1v117.7l.5-130.9v117.4l.5-118.5v116.3l.5-106.3v106.1l.5-104.3v109.8l.5-114.5v115.4l.5-112.4v112.9l.5-109.6v106l.5-109.8v110.8l.5-110.7v108.7l.5-107.1v107.5l.5-115.7v112.5l.5-112.8v115.5l.5-103.5v101.3l.5-107.2v119.3l.5-114.6v101.5l.5-107.7v105l.5-112.9v116.5l.5-110.5v109.2l.5-99.5v102l.5-116.2v127.8l.5-140.1v134.2l.5-118.6v117.7l.5-110.6v108.2l.5-107.7v111.6l.5-115.4v106.8l.5-104.7v107.9l.5-111.3v113.1l.5-110.4v111.6l.5-110.7v101.8l.5-101.1v101.8l.5-106.1v106.1l.5-105.2v110.2l.5-121.2v125.7l.5-124.4v124.6l.5-126v144l.5-130.8v108.3l.5-107.9v112.6l.5-135.8v149.5l.5-125.4v108.6l.5-107.2v100.4l.5-109.2v135.3l.5-131.1v103.7l.5-105v115.1l.5-113.3v113.5l.5-115.4v130.3l.5-123.7v100.6l.5-102.4v106.5l.5-120.4v122.9l.5-106.8v103.6l.5-103.9v114.6l.5-115.3v109.5l.5-126.3v122.7l.5-109.3v108.2l.5-118.5v124.8l.5-114.9v116.5l.5-115.4v105.1l.5-125.5v131.9l.5-113.8v110.8l.5-114v119.2l.5-114.3v115l.5-115.3v109.7l.5-113.9v111.5l.5-104.1v117.3l.5-116v110.3l.5-110.9v107.1l.5-112v112.7l.5-111.7v112.2l.5-113.9v112.6l.5-117.6v112.1l.5-105.9v108l.5-106.4v110.3l.5-115.6v128.7l.5-119.8v107.9l.5-128v128.7l.5-115.9v114.9l.5-107.3v103.4l.5-113.4v118l.5-108.5v102.7l.5-104.1v111.6l.5-108.1v105.1l.5-104v100.5l.5-107.1v106l.5-101v109.8l.5-108.3v99.4l.5-103v100.1l.5-120.1v120.9l.5-107.1v112.5l.5-123.7v129.1l.5-110.6v101.1l.5-106.9v109.5l.5-104.8v100.5l.5-98.9v106.8l.5-115v131.3l.5-122.8v109.5l.5-115.4v108.1l.5-105.5v106.4l.5-121.6v112.5l.5-99v106.2l.5-103.3v100.4l.5-113.7v123.6l.5-111.6v124.3l.5-129.8v114.5l.5-117.3v115.7l.5-127.7v130.4l.5-111.7v103.2l.5-100.7v116.5l.5-123.7v112.4l.5-104.6v106.5l.5-108.3v123.9l.5-126.2v107.9l.5-103.8v97.5l.5-112.9v136.9l.5-124.4v104.7l.5-119.5v116.2l.5-99.4v110.8l.5-112.2v107.6l.5-104.5v103.2l.5-111.7v118l.5-110.8v102.7l.5-109.9v110.3l.5-102.5v112.3l.5-116v105.2l.5-102.2v115.2l.5-119.6v115.8l.5-111v98.5l.5-96.2v107.4l.5-128.5v116.7l.5-94.8v103.6l.5-106.8v104.3l.5-103.9v101.7l.5-102.9v115l.5-116.8v99l.5-102.5v116.6l.5-110.3v105.3l.5-113v128.1l.5-117.1v95.1l.5-108.5v109.8l.5-99.2v100.9l.5-100.7v103l.5-103.4v111.3l.5-129.2v132.7l.5-122.9v108l.5-94v102.6l.5-110.9v112.3l.5-112.7v112.8l.5-113.4v114.5l.5-118.5v116.6l.5-106.5v113.7l.5-115.6v105.5l.5-103.1v105.6l.5-108.4v104.9l.5-109.5v106.5l.5-104.8v110.5l.5-109v105.8l.5-107.5v105.6l.5-116.1v115.3l.5-103v98.1l.5-93v98.9l.5-115.5v119.9l.5-113.6v128.4l.5-131.9v120.5l.5-115.2v106.5l.5-101.7v120.5l.5-127.3v117.1l.5-107.2v100.5l.5-101v117.2l.5-119.3v111.8l.5-121.3v116l.5-105.4v98l.5-120.6v119l.5-99.7v106.2l.5-104.2v99.2l.5-99.9v100.2l.5-105.4v129l.5-138.1v126.3l.5-108.2v95.7l.5-94.5v96.6l.5-104.1v105.7l.5-106.5v121.2l.5-123.2v115.1l.5-116.5v117.1l.5-107.8v99.2l.5-101.2v97.6l.5-97.3v109.3l.5-108.5v118.5l.5-118.7v123.1l.5-124.9v103.8l.5-105.4v115.5l.5-122.7v114.3l.5-102.4v103.5l.5-105.7v97.4l.5-103.2v110l.5-105.7v111.2l.5-114v101.9l.5-99.8v106.7l.5-101.4v93.7l.5-100v104.1l.5-102.1v101.6l.5-101.6v102l.5-104.3v110.2l.5-111.5v105.8l.5-98.5v111.4l.5-115.3v100.7l.5-97v110.5l.5-117.3v114.6l.5-124.4v119.9l.5-116.1v112l.5-100.7v113.1l.5-121.7v114.4l.5-110.6v116.6l.5-116.4v100.3l.5-101.9v105.8l.5-98.8v98.8l.5-98.2v97.3l.5-108.5v111.2l.5-107.2v124.1l.5-137.7v125.9l.5-106.7v105.3l.5-107.6v106.6l.5-109.9v109.9l.5-104.2v103l.5-124.3v128.7l.5-108v101.9l.5-107.1v105.5l.5-115.3v115.2l.5-103.2v110l.5-110.7v107.5l.5-103.5v104.9l.5-107.7v101.4l.5-101.4v111.5l.5-110.7v103.2l.5-98.5v95l.5-102.1v110l.5-108.8v106.7l.5-107.7v111.5l.5-122.8v113.8l.5-98.8v101.8l.5-105.6v104.3l.5-100.3v97.2l.5-121.2v138.7l.5-112.4v96.6l.5-106.2v109.5l.5-103.6v107.5l.5-119.1v113.2l.5-106.6v107.4l.5-102.7v111.4l.5-120.9v113.1l.5-101.5v101.1l.5-103v98.6l.5-107.2v112.3l.5-105.1v99.1l.5-116v122.3l.5-120.6v118l.5-109.4v105l.5-105.2v120.8l.5-122.6v116.4l.5-118.1v129.8l.5-124.7v109.8l.5-113.5v109.1l.5-105.6v110.7l.5-117.1v116.8l.5-105.2v105l.5-105.4v103.9l.5-97.7v95.3l.5-98.5v101.7l.5-105.9v107.5l.5-111.2v126.8l.5-126.8v113.6l.5-111.1v108.8l.5-113.1v127.7l.5-119.8v104.7l.5-114.6v111.9l.5-116.8v127.8l.5-112.1v108.2l.5-113.9v106.9l.5-112.7v119.1l.5-106.3v110.3l.5-121.7v113.2l.5-109.1v112.2l.5-114.3v110.7l.5-103.2v111.6l.5-120.7v111.4l.5-100.6v101.6l.5-102.3v119.4l.5-122.1v110.5l.5-117.6v110.6l.5-108.4v117.6l.5-113.5v109.2l.5-105.1v119.8l.5-124.1v103.4l.5-104.4v107.9l.5-102.1v103l.5-107.8v115.2l.5-129.6v125.9l.5-106.2v99.2l.5-100.8v104.9l.5-115.8v114.4l.5-102.5v111.5l.5-115.5v105.5l.5-99.1v115.9l.5-135.3v121.2l.5-105.3v99.9l.5-108.4v112.2l.5-106.9v112.8l.5-114.9v109.4l.5-106.9v110.4l.5-118.6v130.4l.5-128v117.3l.5-118.4v111.6l.5-122.3v124.7l.5-105.8v107.6l.5-113.6v114.6l.5-108.1v107.8l.5-117.5v115.5l.5-116.2v121.2l.5-110.2v109.8l.5-116.7v110.9l.5-104v105.8l.5-109.3v108.8l.5-127.6v125.3l.5-104.5v110.8l.5-105.5v109.6l.5-119.2v123.6l.5-119.2v111.4l.5-113.1v105.8l.5-100.5v103.8l.5-107.6v107.8l.5-111.2v112.6l.5-107.3v107.1l.5-111.2v106.9l.5-121.2v135.5l.5-117.7v104.2l.5-104.8v115.8l.5-124.9v117.5l.5-108.8v105.7l.5-121.5v123.6l.5-105.6v110.2l.5-128v125.9l.5-111.5v109.2l.5-115.4v117.1l.5-116.7v120.2l.5-108.3v100.9l.5-105.1v121l.5-119.1v101.7l.5-107.1v117.8l.5-127.3v116.3l.5-106.4v108.7l.5-113.7v115.2l.5-109.6v130.2l.5-129.3v125.2l.5-130.2v118.8l.5-118.6v110.9l.5-112.5v116.7l.5-114.3v121.6l.5-128.9v119.7l.5-107v120.3l.5-124.5v112.8l.5-118.7v128.9l.5-127.9v116l.5-108.2v107.3l.5-115.6v115.1l.5-106.3v111.4l.5-112.4v115.4l.5-111.6v112.2l.5-120.3v106.4l.5-101.2v113.1l.5-114.8v117.5l.5-116.3v115.2l.5-119.3v109.7l.5-104.6v107l.5-108.8v118l.5-129.1v120.9l.5-110.3v117.3l.5-115.6v128.4l.5-129.8v117.9l.5-118.6v118.8l.5-114.9v105.3l.5-109.8v112.1l.5-108v101.8l.5-102v112.8l.5-118.2v123.3l.5-116.7v106l.5-111.6v116.9l.5-114.2v113.9l.5-112.9v111l.5-121.3v121.6l.5-114.4v113.5l.5-116.4v113.7l.5-105.6v108.9l.5-114.4v111.4l.5-110.6v110.9l.5-120.2v125.7l.5-115.2v116.1l.5-116.7v113.1l.5-112.6v108.2l.5-120.4v142.2l.5-128.6v129.5l.5-129.5v115.8l.5-123.6v128.7l.5-118.5v110.8l.5-128.5v123.9l.5-115.4v123.5l.5-117.9v118l.5-125.5v128.6l.5-130.8v121.8l.5-120.1v121.5l.5-108.2v111.1l.5-120.8v107.8l.5-95.8v103.5l.5-113.7v115.7l.5-110.7v110.3l.5-123.8v124.7l.5-131.6v123.9l.5-113.4v119.5l.5-109.6v110.3l.5-117.1v131l.5-131.7v114.7l.5-105v106l.5-114.1v121.3l.5-117.1v105.7l.5-108v110.2l.5-120.6v121.8l.5-114.6v108.5l.5-99.7v103.7l.5-120.5v119.4l.5-115.9v129.2l.5-113.9v101.9l.5-106.8v101.7l.5-105.5v121.4l.5-120.1v113.9l.5-128.4v121.6l.5-116.1v121.7l.5-105.4v103.4l.5-102.9v101.3l.5-110.5v115.8l.5-110.2v104.5l.5-104.4v109.5l.5-119.8v121.6l.5-111.6v112.4l.5-111v117.6l.5-117.7v100.6l.5-102.8v105.3l.5-100.7v113.8l.5-118.8v116.9l.5-115.6v119.9l.5-119.4v105.2l.5-115.8v137l.5-123.7v104.7l.5-112.6v113.3l.5-112.9v109.4l.5-108.3v124.6l.5-121v108.2l.5-112.7v110.9l.5-111v110l.5-126v128.5l.5-114.2v118.1l.5-107.1v97.3l.5-101.1v102.2l.5-106.3v106.4l.5-119.4v121.4l.5-105.3v105.3l.5-114v116.5l.5-109.4v108.9l.5-105.6v104.8l.5-103.5v106.1l.5-116.5v109.7l.5-99.9v104.3l.5-119.2v124.8l.5-113v103.8l.5-99.7v101l.5-100.2v120.5l.5-123.5v102.6l.5-107.9v106.6l.5-103.7v103.3l.5-115.9v118.7l.5-127.1v128l.5-123.5v121.2l.5-104v113.4l.5-121.6v116l.5-109.3v116.9l.5-114.8v111.8l.5-118.5v128.8l.5-133v118.9l.5-112.4v106.7l.5-98.9v103.9l.5-116.8v120.3l.5-114.2v109.9l.5-108.6v104.7l.5-111.1v120.5l.5-127.2v123.9l.5-118.3v124.6l.5-121.4v109.9l.5-105.9v114.9l.5-130v123.9l.5-112.7v105.9l.5-98.6v112l.5-126.3v114.6l.5-99.3v119.2l.5-122.8v108.1l.5-117.7v122.4l.5-114.4v116.1l.5-111.7v111.4l.5-112.1v104.3l.5-109.8v114.3l.5-108.3v122.4l.5-122.4v99.1l.5-98.2v103.6l.5-109v115.6l.5-110.6v101.6l.5-101.7v100l.5-103.2v118.5l.5-114.5v103.6l.5-117.2v136.3l.5-123.5v104.2l.5-112.4v111.6l.5-109.1v112.3l.5-109.3v104.6l.5-111.1v109.4l.5-101.2v118.7l.5-120.1v120.5l.5-129.4v111l.5-102.9v103.4l.5-104.1v106.7l.5-109.9v121.6l.5-122.6v125.6l.5-119.4v109.1l.5-116.1v112.6l.5-104.7v101.8l.5-103.8v113.3l.5-112.5v105.8l.5-104.6v108.5l.5-104.3v109.4l.5-126.5v114.2l.5-102.5v103.9l.5-117.6v120.1l.5-102.9v111.8l.5-113.1v120.7l.5-125v119l.5-127.8v114.2l.5-98.3v101.9l.5-112.2v114.4l.5-107.2v117.7l.5-121.8v109.2l.5-103.1v101l.5-103.3v106.2l.5-126.5v127l.5-107.5v100.4l.5-101.3v107.9l.5-104v109l.5-112.7v114.5l.5-120.7v111.7l.5-102.8v99.9l.5-112.7v113.9l.5-114.5v135.7l.5-122.7v99.4l.5-99.7v107.5l.5-108.4v106.4l.5-121.8v118.5l.5-116.1v115l.5-99.1v102.5l.5-118.5v116l.5-99.1v97l.5-104v104.2l.5-101.9v109.3l.5-110.3v109.3l.5-106.3v109.7l.5-122.5v117.5l.5-102.2v102.9l.5-104.3v107.4l.5-103.9v106.8l.5-124.3v114.6l.5-113.1v111.6l.5-100.6v105.5l.5-104.3v110.1l.5-129.8v118.4l.5-96v102.6l.5-112.1v113l.5-107.4v104.1l.5-116.2v113.9l.5-115.9v122.9l.5-110.6v107.1l.5-100.8v118.6l.5-122.9v107.1l.5-112.8v109.6l.5-118.1v136.1l.5-121.2v97l.5-105v118.9l.5-115v103.5l.5-104v123.7l.5-126.6v109.2l.5-100v102l.5-108.2v112.9l.5-111.1v107.3l.5-109.4v102.6l.5-98.1v109.3l.5-118.8v130.8l.5-128.2v109.3l.5-103.7v117.8l.5-119.8v107.5l.5-123.9v131.3l.5-120.6v111.1l.5-102.2v101.7l.5-103v100.7l.5-110.6v116.1l.5-110.3v107.5l.5-106v108.7l.5-115.2v123.6l.5-116v103.3l.5-107.4v111.1l.5-123.8v125.3l.5-129.7v122.4l.5-102.5v115.4l.5-119.2v112.8l.5-117.7v114.5l.5-107.9v112.1l.5-111.1v110.5l.5-117.5v129.3l.5-128.6v116.2l.5-113.3v111.7l.5-106.9v107.5l.5-111.4v108.4l.5-102.8v112.4l.5-120.1v114.9l.5-107.8v104.6l.5-112.5v120.7l.5-132.2v124.6l.5-112.4v108.5l.5-101.8v101.2l.5-99.8v116.7l.5-117.5v110.2l.5-114.9v114.5l.5-119.2v119.1l.5-112.4v110.6l.5-116.3v111.9l.5-112.8v134.3l.5-130.8v124.7l.5-122.1v120.5l.5-116.8v105.4l.5-110.4v113.5l.5-119.6v133.1l.5-129v117.8l.5-123.6v121l.5-133.5v131.7l.5-129v128.6l.5-121.9v127.2l.5-114.8v112.8l.5-126.1v125.1l.5-118.2v112.6l.5-107.7v107.5l.5-107.5v119.4l.5-125.2v136l.5-138.8v121l.5-112.8v110.2l.5-103.2v100.1l.5-103.5v124.3l.5-130.2v114.5l.5-119.6v125.1l.5-120.1v117.9l.5-124v119l.5-107v104.3l.5-101.1v114.5l.5-115.2v108.8l.5-134.8v134.5l.5-118.1v113.4l.5-113.3v121.3l.5-116.3v109.9l.5-118.6v113.4l.5-103.5v125l.5-124.3v101.6l.5-100.8v107.9l.5-108.2v111.8l.5-111.8v108l.5-112.1v115.6l.5-113.5v106.2l.5-127.1v130.5l.5-110.1v114.4l.5-112.9v108l.5-108v126.7l.5-128.6v109.1l.5-109.8v113.8l.5-121.8v119.1l.5-111.9v110.5l.5-110.2v125.4l.5-120.1v106.5l.5-121.8v122.9l.5-111.1v99.8l.5-118.8v127.6l.5-101.8v101.9l.5-117.5v123l.5-117.5v105.2l.5-95.2v107.3l.5-113.7v114.3l.5-133.1v124.5l.5-104.9v108.1l.5-118.5v113.6l.5-109.1v113l.5-104.7v101.3l.5-107.7v122.1l.5-127.4v113.5l.5-106.7v124.3l.5-119.9v106.5l.5-108.4v103.5l.5-105.2v105.5l.5-106v110.5l.5-106.7v109.1l.5-110.2v106l.5-104.7v107.4l.5-114.3v110.1l.5-102.5v122.3l.5-123.4v126.6l.5-127.6v108.1l.5-110.7v113.9l.5-115.9v115.3l.5-111.3v99l.5-94.4v101.7l.5-127.9v134.3l.5-120.3v114.9l.5-103v100.6l.5-100.8v99.9l.5-102.8v115.8l.5-113.5v101.7l.5-112v108.2l.5-110.9v119.6l.5-109.1v117l.5-118.5v107.3l.5-114v113.3l.5-121.1v137.2l.5-120.1v101.9l.5-105.2v113.1l.5-107.7v102.2l.5-118.8v119.4l.5-104.2v104.7l.5-104.5v105.1l.5-113.8v113l.5-104.1v113.7l.5-117.2v122.1l.5-121v107.8l.5-119.5v117.4l.5-104.2v106.5l.5-113.9v117.1l.5-120.8v119l.5-112.9v121.7l.5-116.8v108.3l.5-118v121.9l.5-113.7v116.6l.5-122.7v116.9l.5-119.7v114.7l.5-104.5v113.7l.5-113.3v125.8l.5-126.7v104.8l.5-113.7v126.4l.5-132.9v125.6l.5-113.7v110.9l.5-110.6v109.8l.5-105.2v109.2l.5-124.3v122.1l.5-107.7v111.6l.5-119.7v114.1l.5-110.7v111.3l.5-113.4v114.5l.5-111.8v113.6l.5-108.7v110.7l.5-111.2v100.7l.5-106.4v114.2l.5-128.2v142.1l.5-123.3v108.7l.5-119.7v118.9l.5-109v123.8l.5-127.6v109.2l.5-111.4v111.8l.5-106v106.9l.5-111.6v115.3l.5-112.3v117.1l.5-124.3v116.7l.5-107.1v111.7l.5-114.2v119.5l.5-113.6v99.3l.5-110.5v130.6l.5-129.6v116.2l.5-104.1v103.9l.5-116.8v123.9l.5-120.1v120.7l.5-115.4v108.3l.5-109.7v109.3l.5-113.5v109.8l.5-121.7v130.9l.5-127.8v139.4l.5-128.6v115.7l.5-124.6v135.4l.5-122.3v111.3l.5-114.8v109.6l.5-112v114.2l.5-131.6v126.6l.5-111v131.5l.5-127.2v107.4l.5-111v110.3l.5-104.2v104.8l.5-110.8v126l.5-122.8v117.7l.5-124.1v117.2l.5-107.2v105.6l.5-105.6v102.6l.5-102.6v122.9l.5-124.9v114.2l.5-111.4v102.6l.5-101.6v101.1l.5-105.3v103.4l.5-111.8v116.7l.5-111.4v125.3" stroke="#f00" stroke-width="0.9"/>
</g>
<rect x="178.7" y="848.9" width="616.0" height="204.6" fill="none" stroke="#2a2a2a" stroke-width="1.3"/>
<text class="pl" transform="translate(7.0 815.7) scale(0.975 1)">E</text>
<text class="tk" text-anchor="end" transform="translate(174.2 863.9) scale(0.86 1)">5</text>
<text class="tk" text-anchor="end" transform="translate(174.2 915.0) scale(0.86 1)">2.5</text>
<text class="tk" text-anchor="end" transform="translate(174.2 966.2) scale(0.86 1)">0</text>
<text class="tk" text-anchor="end" transform="translate(174.2 1017.4) scale(0.86 1)">2.5</text>
<text class="se" font-size="29.5" text-anchor="end" x="130.1" y="1017.4">–</text>
<text class="tk" text-anchor="end" transform="translate(174.2 1068.5) scale(0.86 1)">5</text>
<text class="se" font-size="29.5" text-anchor="end" x="152.4" y="1068.5">–</text>
<text class="tk" text-anchor="middle" transform="translate(185.2 1093.0) scale(0.86 1)">5</text>
<text class="tk" text-anchor="middle" transform="translate(246.8 1093.0) scale(0.86 1)">8</text>
<text class="tk" text-anchor="middle" transform="translate(308.3 1093.0) scale(0.86 1)">11</text>
<text class="tk" text-anchor="middle" transform="translate(369.9 1093.0) scale(0.86 1)">14</text>
<text class="tk" text-anchor="middle" transform="translate(431.5 1093.0) scale(0.86 1)">17</text>
<text class="tk" text-anchor="middle" transform="translate(493.1 1093.0) scale(0.86 1)">20</text>
<text class="tk" text-anchor="middle" transform="translate(554.6 1093.0) scale(0.86 1)">23</text>
<text class="tk" text-anchor="middle" transform="translate(616.2 1093.0) scale(0.86 1)">26</text>
<text class="tk" text-anchor="middle" transform="translate(677.8 1093.0) scale(0.86 1)">29</text>
<text class="tk" text-anchor="middle" transform="translate(739.3 1093.0) scale(0.86 1)">32</text>
<text class="tk" text-anchor="middle" transform="translate(800.9 1093.0) scale(0.86 1)">35</text>
<text class="se" font-size="46" transform="translate(87.0 1163.8) rotate(-90) scale(0.966 1)">Acceleration <tspan font-size="49" dy="1">[</tspan><tspan dy="-1">m/s</tspan><tspan font-size="28" dy="-14.5">2</tspan><tspan font-size="49" dy="15.5">]</tspan></text>
<rect x="122.0" y="1111.6" width="300.0" height="52.2" fill="#fff" stroke="#555" stroke-width="1.4"/>
<text class="se" font-weight="700" font-style="italic" font-size="58" transform="translate(129.8 1151.0) scale(0.96 1)">a</text><text class="se" font-weight="700" font-style="italic" font-size="45" x="155.8" y="1151.0">x</text><text class="se" font-weight="700" font-size="29" stroke="#000" stroke-width="0" x="177.8" y="1151.0">5</text><text class="se" font-size="42.5" stroke="#000" stroke-width="0.4" x="192.0" y="1150.5">*</text>
<path d="M203.7 1143.6H257.4" stroke="#f00" stroke-width="5"/>
<text class="se" font-weight="700" font-style="italic" font-size="58" transform="translate(286.4 1151.0) scale(0.96 1)">a</text><text class="se" font-weight="700" font-style="italic" font-size="45" x="311.4" y="1151.0">y</text><text class="se" font-weight="700" font-size="29" stroke="#000" stroke-width="0" x="333.4" y="1151.0">5</text><text class="se" font-size="42.5" stroke="#000" stroke-width="0.4" x="347.6" y="1150.5">*</text>
<path d="M359.7 1142.9H413.4" stroke="#000" stroke-width="5"/>
<text class="se" font-size="45" transform="translate(429.9 1156.4) scale(0.982 1)">Time <tspan font-size="48.5" dy="0.6">[</tspan><tspan dy="-0.6">s</tspan><tspan font-size="48.5" dy="0.6">]</tspan></text>
</g>
<g id="panelF">
<path d="M1058.0 848.4V1054.2M1120.0 848.4V1054.2M1181.9 848.4V1054.2M1243.8 848.4V1054.2M1305.8 848.4V1054.2M1367.7 848.4V1054.2M1429.6 848.4V1054.2M1491.5 848.4V1054.2M1553.5 848.4V1054.2M996.1 899.9H1615.4M996.1 951.3H1615.4M996.1 1002.8H1615.4" stroke="#c8c8c8" stroke-width="1" fill="none"/>
<clipPath id="cF"><rect x="995.6" y="848.4" width="620.3" height="205.8"/></clipPath>
<g clip-path="url(#cF)" fill="none" stroke-linejoin="bevel">
<path d="M996.1 883.9v170.2l.5-157.6v130.8l.5-135.8v129.5l.5-119.8v124.3l.5-139.2v139.4l.5-134.9v132.6l.5-131.7v139l.5-150.3v146.3l.5-128.6v155.3l.5-188.3v163.9l.5-136.6v135.7l.5-137.7v133.5l.5-130.2v138.6l.5-143v147.9l.5-167.8v149.9l.5-132.5v134.9l.5-141.3v156.1l.5-156.2v149.6l.5-136.7v134.1l.5-132.5v137.6l.5-136.9v149.4l.5-169.3v157.5l.5-135.1v129.2l.5-168.7v167.2l.5-159v179.2l.5-156.2v127.9l.5-114v150.6l.5-166.3v147.8l.5-139.4v127.7l.5-144.8v146.4l.5-150.8v152.4l.5-129.7v129.2l.5-135.4v129.7l.5-125.9v128.6l.5-129.1v137.9l.5-165.2v157l.5-139.8v145.2l.5-147v140.7l.5-145.8v144.9l.5-144.9v146.5l.5-126.7v130.9l.5-126.5v132.3l.5-145.1v165.2l.5-181.9v175.9l.5-158.3v144.8l.5-142.8v130.6l.5-123.7v126.1l.5-151.9v152.5l.5-127.2v140.1l.5-155.9v157.7l.5-167.2v160.7l.5-136.7v129.3l.5-134.6v137.6l.5-138v158.3l.5-151.6v149l.5-160.8v140.2l.5-129.3v138.6l.5-141.8v149.8l.5-143.2v148.7l.5-160.6v139.6l.5-163.1v177.3l.5-145.3v133.9l.5-139.7v161.4l.5-157.4v139.1l.5-138.1v122.7l.5-129.8v156.9l.5-179.7v159l.5-121.3v116.2l.5-124.8v141.7l.5-140.2v126.2l.5-126v131.5l.5-132.8v123.4l.5-138.4v148.5l.5-152.2v146.2l.5-133.4v136.9l.5-136.1v131.1l.5-134.1v135.1l.5-125.7v144l.5-148v154.3l.5-154.9v130.8l.5-130.5v125.6l.5-126.1v130.9l.5-160v179.3l.5-150.3v139l.5-140.4v146.7l.5-142.1v142.2l.5-148.5v152.7l.5-176.4v155l.5-124v127.9l.5-126.3v134.5l.5-138.4v129.1l.5-136.7v137.2l.5-131.3v128.4l.5-127v131.4l.5-130.2v123.8l.5-125.1v125.5l.5-129.6v137.1l.5-138.8v166.2l.5-162.4v144.8l.5-138.7v124l.5-150.7v151.4l.5-152.5v157.6l.5-142.1v161l.5-185.6v168.9l.5-163.5v165.7l.5-138.1v141.9l.5-155.8v143.6l.5-122v125.2l.5-129.5v136.9l.5-154.9v152.1l.5-132.9v139.1l.5-140.7v157.2l.5-161.9v130l.5-133.1v139.4l.5-133.5v123.7l.5-122.9v133.9l.5-132.2v129.9l.5-133.2v133.3l.5-124.4v142.6l.5-181v159.9l.5-125.8v125.7l.5-131.3v141.4l.5-154.3v142.6l.5-130.2v140.3l.5-145.8v135.7l.5-136.2v139.5l.5-159.5v168.1l.5-135.9v124.6l.5-127.2v145.6l.5-170.3v154.4l.5-131.3v135.6l.5-165.4v167l.5-137.3v136.5l.5-151.7v161.4l.5-148.2v129.7l.5-134.5v151l.5-151.1v132.2l.5-125v128.6l.5-124.4v122.6l.5-155v182l.5-160.1v138.5l.5-140.7v154l.5-148.3v127.6l.5-123.1v123.7l.5-139.6v136.5l.5-123.6v137.3l.5-148v140.8l.5-130.9v128.2l.5-148.9v160.5l.5-133.7v141.1l.5-140v139l.5-173.2v148.8l.5-120.4v133l.5-139.1v138.1l.5-143.6v136.1l.5-123.8v146l.5-148.6v155.8l.5-155.9v131.9l.5-131.8v145.5l.5-161.6v175.5l.5-192.2v177.7l.5-140.2v142.9l.5-172.2v149.1l.5-142v147.8l.5-129v137.3l.5-136.1v150.3l.5-152.3v128.1l.5-143.3v145.7l.5-128v126.6l.5-127.9v129.2l.5-139.7v140.2l.5-131.6v136.8l.5-158.7v180.4l.5-160.8v142.2l.5-164v155.8l.5-136.9v147l.5-138.8v135.9l.5-143.8v161.8l.5-177.1v145.1l.5-117.6v144.6l.5-147v126.6l.5-137.5v142l.5-130.1v125.4l.5-126.5v128.4l.5-138.6v157.3l.5-148.9v129.6l.5-130.6v128.3l.5-126.9v133.9l.5-154.9v149.1l.5-126.5v144.2l.5-153.9v136.8l.5-130.2v129.9l.5-129.5v133.9l.5-135.9v135.7l.5-142.9v132.6l.5-121.5v134.9l.5-148.3v149.4l.5-137.2v119.7l.5-116.8v133.1l.5-136.4v134.7l.5-150.2v137.8l.5-133.7v141.2l.5-123.4v126.9l.5-137.7v130.7l.5-128.6v135.1l.5-132.2v123.6l.5-120.8v126.2l.5-135.6v145.4l.5-142.2v130.3l.5-127.6v133.9l.5-148.6v150.5l.5-140.5v133.3l.5-134.5v133.2l.5-146.6v151l.5-138.7v149.2l.5-136.5v127.3l.5-142.8v139.3l.5-134.8v131.4l.5-147.7v168.1l.5-162.9v155.6l.5-127.2v131.3l.5-167.6v163.3l.5-135.1v118.2l.5-147.7v169.6l.5-153.2v135.2l.5-121.5v126.7l.5-127.9v122.6l.5-121.7v121.9l.5-125.5v126l.5-125.1v122.8l.5-143.2v140.2l.5-122v141.6l.5-164.9v152.3l.5-147.7v168.3l.5-148v134.4l.5-145.9v139l.5-122.9v116.2l.5-118v127.3l.5-126.5v128l.5-129.2v123.2l.5-151.6v155.7l.5-134.9v131.6l.5-120.8v135l.5-143.4v146l.5-144.1v131.1l.5-151v163.7l.5-138.3v133.8l.5-148.3v136.5l.5-141.2v134.4l.5-124.2v141.3l.5-136.1v124.2l.5-121.1v125.7l.5-126.6v127.8l.5-124.5v121.5l.5-147.5v151.1l.5-133.1v128l.5-135.8v136.7l.5-133v136.8l.5-125.4v149.7l.5-164.6v144.6l.5-143.6v160.9l.5-152.9v141l.5-134.2v134.3l.5-130.8v117.9l.5-131v149.6l.5-147.9v126.7l.5-124.5v124.3l.5-119.6v126.7l.5-127.3v122.8l.5-121.8v134l.5-144.8v162.3l.5-153.1v143.6l.5-156.5v144.3l.5-138.3v140.6l.5-139.3v141.6l.5-141.5v124.8l.5-118v117.5l.5-114v116.1l.5-124.5v147.3l.5-172.7v161l.5-136.2v134.9l.5-135.9v124.4l.5-123.5v130.2l.5-127.8v123.9l.5-156.2v163.7l.5-137.3v129.3l.5-120.5v115.8l.5-112.8v121.1l.5-123.8v128.3l.5-130.7v121.3l.5-119.6v133.3l.5-132.6v128.9l.5-151v175.1l.5-155.8v141.8l.5-143.6v141.8l.5-142.9v130.4l.5-139.7v148.9l.5-157.7v147l.5-127.7v127.2l.5-139.9v162.6l.5-163.7v156.6l.5-149.6v145.9l.5-144.7v152.7l.5-171.4v162.3l.5-160.3v147.5l.5-124.4v133.7l.5-136.4v127.7l.5-133.7v134.7l.5-125.2v129.1l.5-130.4v132.9l.5-132.9v131.2l.5-127.7v127.9l.5-129.5v129.1l.5-132.1v129.8l.5-133.2v135.8l.5-137.8v127.7l.5-117.2v132.7l.5-138.1v122.5l.5-126.8v130.1l.5-126.4v143.2l.5-149.9v142.8l.5-129.4v145.2l.5-147.1v123.4l.5-131.5v143l.5-169.4v188.9l.5-184.1v157.6l.5-147.2v136.5l.5-127.4v149.6l.5-144.9v121.5l.5-145.4v165.3l.5-136.4v126.7l.5-136.9v146l.5-133.5v152.6l.5-169.2v138.1l.5-123v129.2l.5-133.4v127l.5-124.2v126.8l.5-152.1v152.3l.5-132.4v141.7l.5-152.7v154.9l.5-154.5v137.8l.5-115.7v115l.5-123.4v129.6l.5-131.8v135.8l.5-133.4v130.4l.5-131.6v126.3l.5-142.2v138.7l.5-126.6v135.3l.5-136.7v132.8l.5-151v147l.5-118v113.1l.5-117.7v123.2l.5-127.3v138.7l.5-126v123.2l.5-140.2v166.2l.5-155.3v122.2l.5-126.7v127.8l.5-138.8v153.8l.5-137.2v117.8l.5-117.4v135.1l.5-137.2v126.9l.5-135v126.7l.5-132.3v137.5l.5-132.8v136.9l.5-154.5v150.3l.5-144.1v152.9l.5-162.2v151.6l.5-125.1v159.1l.5-182v149.3l.5-112.7v110.4l.5-128v135.9l.5-133.8v155.2l.5-168.8v142.7l.5-125.9v123.9l.5-124.6v127.3l.5-151.4v143.4l.5-126.1v143l.5-141.5v154.7l.5-149.5v126.3l.5-128.8v141.2l.5-146.1v142.6l.5-140.8v134.3l.5-126.6v129.7l.5-142.5v156.9l.5-148.2v139.6l.5-143v150.9l.5-169.3v156.1l.5-133v130.2l.5-144.4v143l.5-127.2v157.6l.5-157.9v137.4l.5-133.9v119.9l.5-147.7v165.2l.5-164.8v167l.5-147.2v141.4l.5-158.1v146.4l.5-123.8v121.4l.5-118.2v130.9l.5-140.2v136.5l.5-130.2v128.2l.5-130.1v125.5l.5-135.7v136.3l.5-128.3v129.9l.5-124.3v124.6l.5-125.9v124.4l.5-141.7v131.5l.5-140.3v175.4l.5-169.9v144.7l.5-126.9v127.3l.5-143.9v150.1l.5-138.9v146.7l.5-146.9v131.8l.5-148.7v162.1l.5-136v133l.5-135.2v153.3l.5-158.3v128.3l.5-124.4v139.9l.5-154.3v135.1l.5-115.5v150.4l.5-153.8v129.7l.5-135.8v129.9l.5-127.4v159.3l.5-152v119.3l.5-138.2v146.6l.5-132.7v129.6l.5-144.9v153.8l.5-136.1v122.7l.5-149.6v147.3l.5-123.3v130.2l.5-137.6v141.8l.5-155.9v145.6l.5-133.4v158.7l.5-149v123.6l.5-137.3v141.2l.5-147.6v159.4l.5-140.3v128.9l.5-141.5v138.1l.5-145.7v144.4l.5-126.7v134l.5-142.5v144.6l.5-129.2v136.5l.5-157v150l.5-142.9v145.1l.5-133.3v135.9l.5-159.2v149.6l.5-156.7v151l.5-123.7v138.8l.5-136.1v129.6l.5-139.9v134.9l.5-127.1v127.4l.5-128.3v149.8l.5-148.1v126.9l.5-126.6v127.8l.5-133.5v146.9l.5-141v136.6l.5-135.3v132.1l.5-151.3v144.4l.5-131.8v132.6l.5-125.2v130l.5-138.9v135.7l.5-148.5v145.1l.5-130.6v133.4l.5-125.7v144.7l.5-161.8v160.9l.5-149.4v130.9l.5-135.1v133.3l.5-153.1v167.6l.5-141.1v139.9l.5-145.7v138.5l.5-162.2v174.2l.5-149.3v149.2l.5-142.5v143.7l.5-166.4v154.9l.5-135.8v141l.5-147.1v144.2l.5-144.4v138l.5-138.5v166.4l.5-162.8v132.3l.5-132.9v144.9l.5-152.5v140.3l.5-132v135.7l.5-127.1v123.2l.5-129.8v130l.5-132.2v130.1l.5-123.3v125.7l.5-151.1v151.7l.5-140v169.8l.5-179.3v145.9l.5-142.3v153.4l.5-138.3v129.1l.5-121.8v127.9l.5-128.2v120.7l.5-132.5v134.8l.5-126.1v143.4l.5-156.5v135.4l.5-124.7v131l.5-155.7v171.3l.5-166.5v146.1l.5-116.9v117.5l.5-127.9v135.1l.5-141v137.8l.5-133.5v128.9l.5-129.3v135.4l.5-127.5v126.8l.5-130.8v139.5l.5-138.2v129l.5-142.8v139.3l.5-123.8v142.9l.5-175.4v166.4l.5-136.1v126.9l.5-133.4v129.5l.5-120.6v122.4l.5-131.7v143l.5-167.3v156.4l.5-124.1v124l.5-144.7v144.1l.5-136.9v138.5l.5-149.4v153.9l.5-158.9v178.6l.5-157.6v137.9l.5-132.2v130.7l.5-128.6v139.7l.5-153.8v149.6l.5-141.6v149.9l.5-152.5v128.5l.5-119.1v119.5l.5-120.8v138.5l.5-145.3v128.1l.5-138.5v135.3l.5-142.5v147.1l.5-125.3v134.1l.5-140.5v146.9l.5-141v131.4l.5-128.9v154.5l.5-162.4v128l.5-116v132.8l.5-142.4v125.2l.5-132.2v137.8l.5-149.7v147.7l.5-129.4v137.5l.5-135.8v136.3l.5-151.6v147.1l.5-138v131.6l.5-149.2v153.4l.5-123.7v125.3l.5-142.5v145.8l.5-128.7v148.7l.5-149.2v119.8l.5-129.8v135.6l.5-127.2v154l.5-148v119.4l.5-119.6v143.2l.5-155v135.2l.5-146.5v155.5l.5-143v136l.5-140v151.4l.5-146v126.8l.5-117.7v123.3l.5-125.7v142.4l.5-157.2v136.5l.5-138.5v146.2l.5-143.6v132.7l.5-148.4v160.9l.5-128.5v121.7l.5-145.7v149.6l.5-130.1v132.4l.5-130v136.9l.5-151.1v151.5l.5-139.6v126.4l.5-134.7v128.2l.5-121.6v132.2l.5-145.8v140.1l.5-130.8v132.7l.5-133.3v140.1l.5-147v154l.5-149.1v148.1l.5-139.5v153.1l.5-154.7v141.3l.5-170.4v160.3l.5-123.5v123l.5-148.3v146.3l.5-125.5v117.8l.5-115.6v141l.5-168.1v152.3l.5-143.2v154.6l.5-150.9v144.8l.5-138v143.6l.5-140v141.9l.5-145.2v127.2l.5-124.7v132.2l.5-137.4v129.2l.5-137.8v146.6l.5-131.5v123.1l.5-128.5v140.8l.5-144.8v132.4l.5-124.9v126.8l.5-150.7v171.3l.5-148.9v130.2l.5-148.5v162.8l.5-148.8v142.8l.5-151.7v147.2l.5-133.4v159.9l.5-161.7v144.5l.5-159.9v149.3l.5-142.2v143.5l.5-137.2v140.8l.5-143.9v166.8l.5-170.2v156.1l.5-170v152.2l.5-125v120.1l.5-157.2v157.8l.5-123.8v133.8l.5-140.7v131.5l.5-158.1v170.4l.5-134.4v127.9l.5-120.7v120.6l.5-119.8v120.2l.5-126.5v127.7l.5-139.3v136.7l.5-151.4v153.8l.5-127.2v127.5l.5-142.8v140.4l.5-158.4v160.3l.5-123.8v134.8l.5-140.3v156.7l.5-159.2v126l.5-123.3v138.7l.5-144.9v151.2l.5-152.4v137.2l.5-134.3v156.2l.5-163.7v166.1l.5-157.6v143.5l.5-138.3v127.8l.5-146.5v174.6l.5-182v155.7l.5-134.6v132.1l.5-134.3v143.5l.5-144v145.9l.5-142.9v131l.5-132.6v138l.5-146.5v140.4l.5-143.3v147.7l.5-143.4v155.3l.5-151.1v146l.5-170.4v189.5l.5-165.8v138.2l.5-163v169.3l.5-145.8v159.4l.5-165v141.6l.5-141.4v152.3l.5-147.7v135.6l.5-131.9v136.2l.5-129.5v151.5l.5-171.9v151.9l.5-147.6v156l.5-141.1v156.4l.5-162.2v144.9l.5-143.9v130.8l.5-130.5v136.1l.5-138.8v135.3l.5-129.3v146.4l.5-147.2v144.1l.5-146v144.4l.5-141.4v133.5l.5-129.7v124.5l.5-132.3v160.1l.5-155.3v127.4l.5-154.8v154l.5-132.5v134.7l.5-139.8v143.7l.5-128.9v126.4l.5-150.2v166.8l.5-137.4v122.8l.5-154.7v164.2l.5-160.1v152.9l.5-138v132.4l.5-132.5v130.5l.5-126v151.8l.5-168.8v153.7l.5-140.4v135l.5-144.3v154l.5-143.1v130.3l.5-129.8v134.4l.5-139v133l.5-139.1v167.3l.5-159.9v162.8l.5-171.1v144.1l.5-139.7v138.5l.5-164.8v168.6l.5-144.2v153.2l.5-152.2v151.6l.5-153.7v141.3l.5-128.9v153.5l.5-158.6v153.8l.5-156.1v155.4l.5-160.1v138.5l.5-123.4v132.7l.5-160.7v157.7l.5-134.4v130.7l.5-133.6v142l.5-145.7v149.2l.5-139.7v131.6l.5-161.5v155.1l.5-141.7v151.2l.5-148.5v145.2l.5-150.6v158.7l.5-168.4v178.3l.5-161v154.7l.5-146.4v128.2l.5-128.9v131.7l.5-135v129l.5-140.2v159.8l.5-142.2v134.9l.5-132.8v123.4l.5-144.1v163l.5-178.9v168.5l.5-143.8v135.5l.5-139.1v150.8l.5-133.3v116.9l.5-120.6v132l.5-131.6v125.7l.5-128.8v127.7l.5-123.4v143.5l.5-183.2v164.6l.5-134.8v140l.5-128.9v128.9l.5-142.4v141.8l.5-128.6v122.7l.5-123.3v127.1l.5-133.7v143.6l.5-139.9v136.2l.5-136.9v131.2l.5-130.1v120.4l.5-122v117.7l.5-115.8v129.3l.5-149.7v144.6l.5-125.3v131.1l.5-127.9v126l.5-137.5v137.2l.5-133.5v132.4l.5-129.4v132.2l.5-143.8v142.9l.5-142.7v149.6l.5-167.7v156.3l.5-129.4v139.9l.5-137.1v131.7l.5-128.3v128.7l.5-132.4v156.9l.5-186.4v170.1l.5-143.9v150.5l.5-164.8v154.5l.5-139.4v136.4l.5-143.3v142.4l.5-136v140.8l.5-170.5v159.6l.5-149.2v147.6l.5-128.7v130.2l.5-125.8v142l.5-158.8v159.6l.5-146.8v162.7l.5-168.6v152.7l.5-143.3v128.2l.5-157.2v162.4l.5-145.4v143.3l.5-146.6v161.7l.5-156.6v134.2l.5-130.8v141.4l.5-164.3v154.4l.5-131v134.9l.5-138v137.3l.5-127.9v157.1l.5-156.9v127l.5-128.5v130.5l.5-131.4v132.7l.5-143.7v172.4l.5-152.9v121.1l.5-142.9v137.7l.5-138.8v151.8l.5-141.5v143.6l.5-137v140.4l.5-133.6v151.1l.5-164.7v142.5l.5-155.4v155.9l.5-137.9v150.9l.5-164.3v150l.5-132.9v136.4l.5-141.5v162l.5-162.7v125.7l.5-127.9v143.9l.5-133.5v130.8l.5-154.1v161.7l.5-147.7v150l.5-146.3v137.1l.5-140.3v128.9l.5-126.3v146.3l.5-148.8v131.7l.5-128.8v128.7l.5-153.6v160.9l.5-137.5v146.9l.5-140v141.7l.5-151.4v144.9l.5-137.6v135.5l.5-130.6v140l.5-140.1v129l.5-165.6v162.6l.5-128.9v128.5l.5-128.7v129.7l.5-135.1v134.4l.5-149.7v149.2l.5-136.2v134.3l.5-128.7v130.4l.5-137.1v138.5l.5-127.2v131.4l.5-141.8v134.5l.5-130.8v150.1l.5-154.7v135.4l.5-125.1v125.6l.5-146.4v146.2l.5-143.3v150l.5-138.1v137.6l.5-133.5v127l.5-122.8v124.1l.5-158.6v183l.5-160.5v148.6l.5-142.1v134.6l.5-143.7v153.8l.5-150.4v136.2l.5-125.8v127.5l.5-149.8v147.1l.5-131.5v125l.5-129.8v138.3l.5-148.5v144.2l.5-134.8v138.6l.5-138v132l.5-136.1v156l.5-159.7v142.2l.5-133.9v133.8l.5-130.2v141.4l.5-143v126.3l.5-124.9v133.9l.5-138.5v143.1l.5-153.9v149.6l.5-139.7v140.5l.5-141.2v146.3l.5-144.6v149.1l.5-165.6v151.2l.5-128.4v139.4l.5-135.9v118.9l.5-133.6v137l.5-129.1v140.6l.5-142.8v139.3l.5-134.2v130.8l.5-131.7v142.8l.5-146.3v138.3l.5-134.1v125.8l.5-157.9v166.8l.5-141.2v137.9l.5-136.3v134.9l.5-131.9v124.9l.5-135.6v149.4l.5-169.5v158.1l.5-133.2v138.2l.5-148.2v156.4l.5-156.7v145.3l.5-141.9v149.6l.5-131.9v122.6l.5-135v134.6l.5-131.3v127.9l.5-125.9v140.1l.5-139.9v126.3l.5-129.2v138.1l.5-137.5v153.5l.5-150.6v130.5l.5-156v181.1l.5-152.2v122.2l.5-135v143.1l.5-157.5v172.7l.5-146.2v144.7l.5-156.7v170.7l.5-183.7v161.1l.5-136.2v131.5l.5-128.8v154.6l.5-172.4v145.8l.5-128.9v140.4l.5-154.5v172.2l.5-155.3v125.5l.5-155v153.8l.5-155.6v159.3l.5-139.3v126.6l.5-123.4v130.6l.5-141.7v135.7l.5-119.4v140.1l.5-149v133.1l.5-128.2v141.4l.5-148.3v139.3l.5-133.3v125.9l.5-126.9v133.8l.5-128.8v136.7l.5-142.4v128.9l.5-116.8v118.6l.5-124.8v129.6l.5-156.8v150.5l.5-121.3v132.1l.5-137.2v137.8l.5-133.7v116.5l.5-119.7v135.4l.5-138.8v122.8l.5-118.2v130.8l.5-164v158.7l.5-133.9v130.2l.5-139.6v150.9l.5-134.8v140.3l.5-140v123.7l.5-130v134.3l.5-140.6v141.1l.5-140.1v142.4l.5-126v122.5l.5-127.4v125.5l.5-126v136.3l.5-139.7v142.8l.5-128.1v117.8l.5-135.1v144.9l.5-142.2v150l.5-139.1v125.7l.5-135.4v128.9l.5-126.8v133.4l.5-128.5v133.3l.5-137.7v122l.5-133.5v140.2l.5-130.8v128.4l.5-121.8v137.8l.5-148.2v140l.5-153.9v170.8l.5-149.8v155.3l.5-169.7v148.6l.5-135.5v123.1l.5-119.1v135.8l.5-135.3v123l.5-123.9v125.4l.5-122.6v117.9l.5-122.6v136.1l.5-137.8v154.4l.5-153.1v136.1l.5-139v147.3l.5-136v111.8l.5-120.6v126.6l.5-122.8v121.3l.5-132.9v149.5l.5-133.3v142.7l.5-159.3v132.6l.5-116.2v123.4l.5-126v120.1l.5-135.8v139.7l.5-137.3v137.5l.5-134v146.7l.5-165.4v161.3l.5-141.2v144.5l.5-163.4v152.6l.5-143.4v165.7l.5-156.6v129.5l.5-122v133.8l.5-144.2v154.2l.5-143v137.1l.5-140.6v136.8l.5-143.1v138.9l.5-136.3v129.1l.5-121.6v129.7l.5-135.5v126.5l.5-125.6v138.8l.5-162.9v148.1l.5-130.7v151l.5-138.4v121l.5-120.9v126.3l.5-137.4v151l.5-142.1v120.6l.5-120.4v126.6l.5-156.6v186.3l.5-170.5v157.7l.5-147.2v127.2l.5-123.4v118.8l.5-155.4v182l.5-144.1v125.7l.5-124.1v138.4l.5-144.6v142.6l.5-149.5v132.6l.5-141.1v146.1l.5-156.8v180.6l.5-152.5v129.7l.5-140.1v137.6l.5-124v130.5l.5-131.8v136.3l.5-149.3v134.1l.5-132.3v142.7l.5-130v138.1l.5-147v151.4l.5-154v140.4l.5-130.2v126.4l.5-128.7v124.9l.5-131.9v129.2l.5-122.5v140.7l.5-150.4v142.3l.5-151.2v159l.5-143.7v148.7l.5-162.3v141.1l.5-120.7v120.7l.5-129.1v146.7l.5-143.3v136.1l.5-142v134.1l.5-134.2v133.9l.5-119.8v137.2l.5-137.2v123.8l.5-130.1v131.4l.5-131.2v140.3l.5-138.8v135.3l.5-143.7v146.5l.5-140.3v140.8l.5-143.7v135.7l.5-137.6v161.9l.5-156.4v132l.5-128.4v119.8l.5-143.9v150l.5-136.8v136.3l.5-132.9v151.5l.5-147.2v130.7l.5-135.4v132.9l.5-139.2v151.6l.5-143.2v141.7l.5-141.4v128.5l.5-120.7v127.7l.5-130v125.9l.5-134.8v144.2l.5-154.9v145.9l.5-129v134.4l.5-141.1v136.1l.5-132.5v127.1l.5-121.9v151.6l.5-152v138.4l.5-143.1v154.6l.5-158v155.2l.5-154.6v128.2l.5-126v126l.5-119.8v125.4l.5-120.3v128.1l.5-134.8v153.3l.5-150.7v139.1l.5-149.6v130.7l.5-138.8v135.5l.5-115.6v122.9l.5-128v123.9l.5-130.2v152.6l.5-152v133.8l.5-121.7v124.3l.5-132.6v144.9l.5-147.3v125.1l.5-118.1v151l.5-152.1v140.3l.5-152.7v141.9l.5-130v128.3l.5-128.3v122.7l.5-125.8v131l.5-130.3v124.2l.5-119.1v135.6l.5-166.9v147.6l.5-117.5v118.6l.5-128.4v132.9l.5-122.8v145.4l.5-147.1v125.5l.5-120.4v114.9l.5-139.7v138.9l.5-140.9v144.9l.5-140.6v133.8l.5-124.9v130.4l.5-128.1v132l.5-134.2v162.5l.5-157.1v131l.5-133.8v140.5l.5-139.7v125.1l.5-125.6v131.6l.5-123v125.4l.5-125.4v120.1l.5-121.6v146.4l.5-165.1v146.1l.5-136.1v129.9l.5-125.6v131.1l.5-130.5v135.1l.5-150.1v135.7l.5-120.7v140.7l.5-164.4v144.4l.5-121.5v130.5l.5-126.2v121.5l.5-122.3v133.2l.5-125.1v139.2l.5-156.8v133.9l.5-145.8v143.6l.5-128.5v131.2l.5-142.3v144l.5-127.9v122.2l.5-114.2v116.8l.5-142.9v149.9l.5-133.5v129.3l.5-127.3v122.7l.5-142.1v139.5l.5-125.1v127.3l.5-127.6v126.8l.5-130v131.9l.5-121.4v119.1l.5-132.9v148.7l.5-130.1v127.2l.5-137.4v125.9l.5-121.7v135.1l.5-136.3v128.6l.5-126v131.8l.5-136.6v136.2l.5-136.8v134.2l.5-127.7v121.9l.5-147.3v155.2l.5-135.4v128.1l.5-135.7v142.7l.5-137.4v138.7l.5-136.5v142.8l.5-171.7v181.7l.5-172.3v158l.5-137.4v147.7l.5-157.6v133.5l.5-118.8v125.4l.5-125.4v123l.5-127.1v125.8l.5-141.6v155.1l.5-140v144.7l.5-142.7v131.4l.5-136.6v154.5l.5-152.1v133.7l.5-135.1v138.4l.5-134.2v122.6l.5-144.6v153l.5-133.2v126.1l.5-153.1v156.7l.5-148.8v153.2l.5-126.9v131.4l.5-162v163.8l.5-135.8v120.7l.5-151.3v161.2l.5-138.5v155.7l.5-172.7v165.4l.5-147.2v134.4l.5-134.8v133.8l.5-155.1v143l.5-126.5v146.2l.5-150v143.1l.5-133.6v129.1l.5-132.2v128.1l.5-124v130.3l.5-136v133.6l.5-126.6v120.8l.5-132.7v149.6l.5-152.4v140.7l.5-133.8v140.3l.5-134.6v143.7l.5-135.4v128.2l.5-158v151.6l.5-126.8v126l.5-131.9v153l.5-157v148.2l.5-150.5v154.3l.5-145.3v147.4l.5-162.1v161l.5-146.4v133.6l.5-121.8v127.8l.5-152.8v152.7l.5-136.4v125.1l.5-125v133.7l.5-135.3v132.5l.5-137.3v135.1l.5-160.2v161.4l.5-126.8v136.9l.5-148v163.8l.5-177.9v145.1l.5-132.7v142.5l.5-141.3v146.4l.5-145.9v146.5l.5-145.5v137.2l.5-164.3v169.7l.5-139.3v130.8l.5-133v158.7l.5-164.1v141.8l.5-135.8v127.1l.5-149.5v163.1l.5-141.1v136.7l.5-134.2v128.8l.5-130v152.5l.5-148.8v133.1l.5-139v128.2l.5-127.9v144.7l.5-144.7v137.3l.5-131.7v133.3l.5-143.6v144.8l.5-146.8v150.2l.5-149.3v133.2l.5-125v157.1l.5-168.5v139.3l.5-144.2v147.4l.5-139.8v136.3l.5-153.4v162l.5-131.4v140.7l.5-153.9v146.3l.5-138v135.2l.5-157.4v155.2l.5-161.4v158.4l.5-130v121.3l.5-138.8v146.5l.5-132.6v154.3l.5-152.9v132.1l.5-133v135.2l.5-133.3v161l.5-156.7v140.4l.5-159.4v137.2l.5-120.4v134.5l.5-139.6v136.9l.5-137.9v151.4l.5-144.7v147.4l.5-150.7v124.9l.5-126.4v133.4l.5-149.5v151.3l.5-140.9v145.9l.5-130.6v122.1l.5-135.4v136l.5-127.4v133.1l.5-135.7v138.7l.5-131.5v131.9l.5-133.4v130.3l.5-135.9v127l.5-126.9v132.5l.5-136.7v130.6l.5-149.5v165.1l.5-147.3v139.8l.5-133.2v129.2l.5-160v165.3l.5-161.1v164.6l.5-136.6v147.5" stroke="#000" stroke-width="1.0"/>
<path d="M996.1 885.6v120.6l.5-113.9v109.8l.5-104.4v119.1l.5-121.5v106.6l.5-108.3v106.8l.5-114v131l.5-119.5v103.9l.5-104.6v99l.5-104.6v120.8l.5-117.2v119.4l.5-121.5v118.6l.5-120.2v108l.5-103.2v114.9l.5-117.9v113.2l.5-113.9v115.2l.5-110.7v114.9l.5-119.9v107.3l.5-102.2v110.2l.5-117.8v115.9l.5-109.4v122.7l.5-124.5v103.2l.5-111.8v114.1l.5-104.7v99.6l.5-103.3v120.2l.5-127v116l.5-106.6v104.8l.5-101.4v101.5l.5-105.8v103.6l.5-98.3v98.3l.5-107.4v110.2l.5-111.1v119.2l.5-112.4v108.3l.5-109.2v105.2l.5-104.9v108.4l.5-111.3v107.9l.5-102.6v103.5l.5-102.8v103.1l.5-116v108.9l.5-104v132.6l.5-127.1v103.4l.5-108.2v124.9l.5-122.5v102.8l.5-98.8v100.1l.5-101.2v105.2l.5-106.9v113.9l.5-109.2v103.9l.5-104.4v105.5l.5-112.3v108.5l.5-103.6v99.8l.5-101v114.7l.5-112.9v126.4l.5-137.1v108.4l.5-100.8v101.3l.5-104v110.9l.5-111.5v114.4l.5-112.4v106.8l.5-102.3v111.2l.5-114v98l.5-99.9v103.5l.5-101.3v102.9l.5-102.5v103.9l.5-105.2v102.8l.5-105v107.8l.5-111.4v116.7l.5-115.6v105.8l.5-104.9v104.4l.5-99.1v100.8l.5-98.1v101.9l.5-118.4v135.4l.5-120.4v104.1l.5-118.5v114.8l.5-113.7v115.4l.5-103.8v124.6l.5-128.8v112.2l.5-110.7v106.9l.5-102.3v104.2l.5-106v110.7l.5-109.6v104.6l.5-105.1v100l.5-104.6v117.2l.5-117.9v114.7l.5-111.8v99.8l.5-99.3v104.6l.5-100.5v119.7l.5-120.2v103.9l.5-113.5v106.1l.5-99.6v107.4l.5-111.2v113.5l.5-112.1v109.1l.5-108.4v102.9l.5-95.3v92.3l.5-99.3v108.1l.5-109.1v100.5l.5-100.1v109l.5-108.8v105.5l.5-112.5v110.5l.5-101.4v97.4l.5-97.4v107.4l.5-110.5v107l.5-100.5v94.7l.5-96.1v101.3l.5-102.1v97.7l.5-100.6v112.3l.5-118.4v110.5l.5-114.7v113.3l.5-100.8v95.4l.5-94.6v98.4l.5-96.1v97.4l.5-111.1v106.2l.5-97v95.8l.5-99.8v100.6l.5-97.6v97.6l.5-95.2v95.1l.5-94.8v109.4l.5-108.8v91.9l.5-100.7v104.1l.5-94.8v95.6l.5-94.3v94l.5-99.4v110.2l.5-120.9v112.4l.5-99.4v91.5l.5-93.5v95.4l.5-95.2v97.7l.5-100.1v102.6l.5-95.9v90.1l.5-94v90.2l.5-90.9v92l.5-93.4v98.1l.5-101.2v104l.5-98.3v90.3l.5-91.7v109.2l.5-111.5v98.6l.5-97v105.1l.5-106.2v105.6l.5-100.6v100.4l.5-109.3v103.3l.5-95.8v98.9l.5-98.1v99.7l.5-100.3v100.5l.5-96.4v94.3l.5-108.7v113l.5-105.1v94.4l.5-92.1v94.5l.5-100v97.7l.5-102.7v106l.5-91.7v95.8l.5-100.6v92l.5-91.8v92.9l.5-94.2v105.6l.5-101.5v90.1l.5-90.4v89.2l.5-91.6v88.7l.5-96v105.2l.5-108.2v118.2l.5-104.9v100.9l.5-101.2v87.3l.5-89.9v97.7l.5-93.8v88.2l.5-89.2v83.4l.5-78.9v88.5l.5-93.2v91.5l.5-96.1v100.3l.5-92.5v89.2l.5-95.5v90.4l.5-92.8v91.9l.5-82.7v88.9l.5-89.4v92.8l.5-102.3v96.2l.5-89.9v84.8l.5-84.7v89l.5-90.2v100.1l.5-99.9v89.8l.5-89.5v93.7l.5-91.6v87.8l.5-92.2v100.7l.5-101.1v92.4l.5-87v84.1l.5-87.4v89.5l.5-83.7v87.6l.5-89.6v84.5l.5-82v80.4l.5-83.8v86.1l.5-92.2v94.3l.5-88.4v93.6l.5-104.1v93.9l.5-83.7v85.4l.5-80.8v78.5l.5-83.7v83.8l.5-87.7v88.4l.5-76.8v80l.5-91.2v89.3l.5-82.6v88.4l.5-89.4v79.7l.5-77.7v82l.5-80.4v83.1l.5-86.7v85.8l.5-88.7v98.7l.5-103.4v89.3l.5-85.3v89.1l.5-82.8v78.2l.5-79.7v86.5l.5-89.2v82.6l.5-81.2v89.1l.5-88.4v84.9l.5-94.4v98.3l.5-85.2v86l.5-86.1v81.3l.5-90.8v85.3l.5-86.1v93.5l.5-85.5v83.9l.5-81.4v76l.5-74.6v77.5l.5-80.2v79.9l.5-81.2v82.9l.5-81.4v81.7l.5-93.1v90.5l.5-82.1v81.9l.5-78.8v87.2l.5-89.8v84.5l.5-83.3v87.9l.5-86.1v80.3l.5-79.5v75.5l.5-83v89.3l.5-85.5v79.9l.5-78.1v91.2l.5-96.5v88.5l.5-78.9v82.4l.5-87.1v74.8l.5-80.6v90.4l.5-85v85l.5-86.8v81.1l.5-77.3v80.8l.5-80.8v88.1l.5-98v88.8l.5-78.6v87.2l.5-87.3v78.7l.5-81.8v81.9l.5-83.1v89l.5-83.3v74.6l.5-84.6v97.7l.5-89.1v77.7l.5-78.1v73.8l.5-76.6v82.3l.5-82v93.3l.5-90.5v75.6l.5-74.4v78l.5-80.1v80.8l.5-78.9v79.6l.5-79.7v75.1l.5-79.3v80l.5-83.2v84.8l.5-83.1v93.6l.5-97.1v86l.5-85.2v83.4l.5-82.8v81.1l.5-73.3v75.7l.5-77.2v71.3l.5-75v85.7l.5-86.2v89l.5-84.3v79.5l.5-77.9v79.7l.5-86.5v83.4l.5-75.5v72.6l.5-84.4v85.6l.5-75v81.3l.5-89.3v95.5l.5-87.4v74.1l.5-76.2v79.2l.5-79.6v78.1l.5-81.5v95.7l.5-90.7v76.9l.5-79.1v77.7l.5-86v85.9l.5-83v87.8l.5-80.5v78.5l.5-82.4v89.1l.5-84.3v80.5l.5-80.9v77.7l.5-76.7v76.2l.5-78.4v76.9l.5-88.3v104.5l.5-93.8v77.5l.5-77.3v80.1l.5-79.9v76l.5-75.5v79.9l.5-85v85.1l.5-84.6v83.5l.5-81.7v90.6l.5-85.8v75.1l.5-79.8v89.9l.5-96.2v83.1l.5-81.5v95.9l.5-100.7v95.5l.5-82.1v78.8l.5-82.1v79.3l.5-77.9v76.4l.5-76.2v85.1l.5-82.6v75.2l.5-78.6v80.1l.5-83.1v82.6l.5-77.5v76.3l.5-81.6v87.1l.5-86.3v81.3l.5-85v88.7l.5-82.3v80l.5-83.9v82.2l.5-77.3v90.2l.5-90.1v74.8l.5-77.6v79.1l.5-75.7v80.6l.5-93.9v88.2l.5-81.8v98.4l.5-98.9v80.2l.5-73.7v88.3l.5-91v81.9l.5-78.1v83.4l.5-86.3v81.8l.5-81.4v84.9l.5-84v76.2l.5-75.7v76.5l.5-74.5v76.9l.5-85.4v87.4l.5-79.7v82.1l.5-84.6v76.1l.5-74.3v80.3l.5-80.3v76.7l.5-75.1v77l.5-84.7v82.6l.5-90.8v91l.5-79.7v86.7l.5-82.5v78.4l.5-77.8v70.2l.5-76.4v78.9l.5-74v80.5l.5-82.4v77.4l.5-81.5v79.7l.5-77.3v86.9l.5-84.9v76.3l.5-74.1v73.2l.5-74.7v90.3l.5-87.6v83.4l.5-89.9v82.9l.5-83v82.9l.5-80v81.3l.5-81.1v78.1l.5-80.9v82.5l.5-89.5v92.9l.5-79.6v74.4l.5-79.1v79.1l.5-83.2v88.9l.5-83.7v87.5l.5-89.4v80.2l.5-76.4v74.6l.5-87.2v89.5l.5-76.6v73.5l.5-77.5v92.1l.5-89.1v73.1l.5-72.3v72.9l.5-76v76.1l.5-83.6v84.9l.5-73.2v77.5l.5-79.7v75.5l.5-77.4v81.2l.5-76.6v72l.5-77.9v78.4l.5-80.7v84.8l.5-93v89.3l.5-74.9v82l.5-81.2v88.1l.5-91.9v82.5l.5-83.7v81.4l.5-80.6v79.7l.5-80.7v80.3l.5-79.6v78.3l.5-74.7v81.4l.5-79.3v71.5l.5-81.2v82.7l.5-80.5v81.9l.5-79.7v81.4l.5-78.8v78.9l.5-79.6v79.3l.5-85.3v84.4l.5-74.1v81l.5-88.2v79.1l.5-75.6v79.9l.5-79.4v76.3l.5-83.8v84.3l.5-81.5v83.1l.5-81.4v76.1l.5-77.3v92.4l.5-89v75.8l.5-76v78.9l.5-75.9v77.3l.5-81.2v88.8l.5-95.6v90.3l.5-87.4v93.1l.5-91v76.6l.5-83.9v85.8l.5-80.9v86.7l.5-82.5v81.9l.5-89.6v84.7l.5-78.4v78.6l.5-78.7v89.5l.5-86.9v75.7l.5-74.7v76l.5-82.3v81.9l.5-79.9v79.7l.5-78.8v90.9l.5-88.8v78.5l.5-74.8v75.2l.5-77.1v89.2l.5-99.4v86.5l.5-80.1v85l.5-88.7v80.1l.5-77.4v74.9l.5-70v74.6l.5-78.1v80.4l.5-80.7v83.9l.5-90.1v88.1l.5-82.3v79.9l.5-85.7v84.6l.5-76.5v76.2l.5-89.2v90.9l.5-79.7v88.3l.5-86.2v79.2l.5-78.4v79.5l.5-81.5v79.3l.5-79.9v79.5l.5-86.4v84.1l.5-78.3v82l.5-79.8v76.1l.5-77.9v86.7l.5-82.7v73.2l.5-78.8v79.3l.5-75.2v86.6l.5-88.1v86.8l.5-94.6v92.9l.5-83.6v87.4l.5-88.4v80.5l.5-82.2v79.7l.5-86v84.9l.5-88.7v89.3l.5-76.9v78.5l.5-79.4v76.6l.5-85.5v90.3l.5-93.4v103.8l.5-93.3v83.8l.5-85.3v90.9l.5-96.8v87.4l.5-81.3v84.7l.5-83.3v81.8l.5-94.7v89.5l.5-77.3v77.9l.5-74.4v73.1l.5-86.2v92.4l.5-85.5v85.1l.5-89.4v88.6l.5-81.3v79.9l.5-75.9v81.1l.5-84.9v84.5l.5-82.8v75.4l.5-84.2v96l.5-84.4v75.1l.5-82.3v80.2l.5-83.3v81.1l.5-71.3v77.8l.5-84.3v80l.5-77.7v92l.5-93.4v76.8l.5-73.3v81.3l.5-82.1v76.3l.5-80.8v82.1l.5-78.4v80l.5-80.1v84.1l.5-83.4v78.6l.5-78.8v75.5l.5-77.3v80.4l.5-76.1v73.9l.5-76.8v84.1l.5-80.8v77.2l.5-83.3v81.1l.5-74.6v88.4l.5-103.2v89.5l.5-78.4v76.9l.5-81.7v89.3l.5-84v85.6l.5-89.4v88.6l.5-82.9v80.1l.5-83.5v81.4l.5-84.1v87.8l.5-84.8v87.4l.5-100.6v95.5l.5-84.6v80.8l.5-77.6v90.5l.5-87.5v77.5l.5-86.4v88.9l.5-79.2v74.6l.5-87.3v87.5l.5-79.8v86.3l.5-85.3v80.5l.5-88.2v85.7l.5-76.2v81.1l.5-82.7v76.7l.5-85.5v91l.5-86.5v83.7l.5-79.3v85.1l.5-84.8v76.1l.5-73.8v73.4l.5-74.9v86.9l.5-95.6v92.3l.5-81.9v85l.5-86.7v77.8l.5-78.9v81.8l.5-79.6v75.2l.5-76.2v80.4l.5-79.3v78.8l.5-78.9v76.6l.5-80.6v82.4l.5-78.5v75l.5-76v86.8l.5-93.5v87.3l.5-80.5v78.7l.5-77v74.7l.5-77.1v77.1l.5-85.1v86.8l.5-77.3v83.4l.5-84v83l.5-84.7v81.7l.5-80.6v81l.5-89v95.1l.5-89.7v84.3l.5-82.3v78.8l.5-74v79.4l.5-81.4v77.3l.5-81.4v83.3l.5-85.9v86.1l.5-80.4v82.2l.5-82.9v76.1l.5-76.8v92.3l.5-90.6v80.8l.5-86.6v78.7l.5-73.8v78.6l.5-80.3v83l.5-84.2v79l.5-73.5v76.6l.5-76.5v74.1l.5-77.6v80.8l.5-79.7v74l.5-84.3v86.1l.5-77.9v81.4l.5-80.7v83.1l.5-84v79.3l.5-79.9v80.6l.5-76.1v79.8l.5-82.9v77l.5-75.3v72.3l.5-73.7v83.5l.5-81v77.8l.5-81.3v84.9l.5-86.1v79.8l.5-73.4v73.8l.5-83.2v89l.5-80.5v75.9l.5-74.3v79.6l.5-83.5v85.1l.5-87.1v79.5l.5-76.3v78.2l.5-77.4v79.2l.5-81v75.7l.5-74.4v73l.5-78.9v85.4l.5-80v88.5l.5-89.2v78.9l.5-82.7v85.9l.5-85.1v77.5l.5-72.9v77.8l.5-85.5v84.1l.5-88v86.4l.5-76.2v82.1l.5-87.8v86.6l.5-81.8v75.2l.5-77.9v83.1l.5-83.3v88.7l.5-89.8v90l.5-84.8v73.8l.5-80.4v86.1l.5-82.3v80.9l.5-88.2v85.5l.5-84v85.2l.5-78.9v77.5l.5-74.6v89.9l.5-92.8v77.8l.5-75.5v82.8l.5-80.2v86l.5-100.5v86.9l.5-78.3v78.6l.5-77.6v75.7l.5-76.5v79.5l.5-76.5v76.3l.5-76.8v89.1l.5-95.9v80.2l.5-74.7v82.7l.5-83.9v82.9l.5-90.7v84.3l.5-84.4v94.6l.5-90.1v82.3l.5-73.1v71.1l.5-83.6v86.7l.5-81.3v80.9l.5-83.4v80l.5-84.8v100.6l.5-88.6v72.1l.5-72.8v77.1l.5-79.5v77.3l.5-80.3v82.3l.5-78.1v87.9l.5-95.2v92.2l.5-87.2v82l.5-81.1v90.4l.5-99v90.3l.5-83.6v79.3l.5-74.1v73.2l.5-73.7v83l.5-85.9v76.4l.5-79.9v81.5l.5-79.7v82.6l.5-75.4v76.4l.5-86.3v83.6l.5-78.5v81.1l.5-78v82.5l.5-86.9v88.5l.5-87.3v79l.5-80.4v79.6l.5-80.7v82.2l.5-81.9v80.3l.5-77v81.9l.5-81.9v82.6l.5-81.1v73.5l.5-76v77.9l.5-80.5v81.3l.5-75.8v77.1l.5-80.8v76.8l.5-78.8v79l.5-78.2v82.4l.5-87.9v85.6l.5-77v81.3l.5-82v81.1l.5-80.7v78.7l.5-87.4v87.2l.5-75.9v72.2l.5-72.4v83.9l.5-84.3v73.8l.5-81v86.1l.5-78.8v73.3l.5-81.3v81.9l.5-77.1v80l.5-75.9v71.5l.5-72.5v75.8l.5-75.2v69.1l.5-81.2v92.1l.5-80.8v75.1l.5-79.5v89.2l.5-83.2v72.1l.5-75v78.2l.5-78v76.5l.5-76.2v76.6l.5-79.4v80.9l.5-83v81.5l.5-84.8v87.6l.5-76.8v76.8l.5-84.2v81.3l.5-87.6v86.9l.5-83.9v85.2l.5-82.4v86.7l.5-80.8v77.1l.5-76v76.1l.5-82.2v80.1l.5-76.5v90.8l.5-91.9v81.8l.5-88.6v85.7l.5-77.8v81.5l.5-88.2v85.6l.5-73.7v72.7l.5-75.1v77.6l.5-77.4v80.8l.5-79.8v72.1l.5-73.6v76.1l.5-84.1v84.9l.5-77.5v72.7l.5-70.1v83.1l.5-89v76.5l.5-74.2v79.5l.5-78.9v77.6l.5-75.8v82.5l.5-86.9v88.5l.5-97.5v88.5l.5-83.3v82.5l.5-74.5v79.1l.5-78.4v87.7l.5-89.5v76.6l.5-84.5v86.6l.5-77.4v84.3l.5-88.3v81.2l.5-81v83.4l.5-81.9v77.8l.5-82.5v94.2l.5-89.8v87.2l.5-86.6v89.2l.5-100.3v94.8l.5-94.4v90.1l.5-79.6v84.5l.5-85v81.5l.5-81v90.7l.5-100.7v82.5l.5-72.8v76l.5-76.3v80.7l.5-81.7v79.3l.5-89v91.1l.5-79.1v74.4l.5-79.7v89.6l.5-86v90.8l.5-91.5v79.6l.5-77.5v82.7l.5-84.6v82.2l.5-91.8v89.8l.5-89.7v100.6l.5-98.3v84.3l.5-81.2v85.1l.5-77.6v75.9l.5-78v80.3l.5-79.9v77l.5-75.1v78.4l.5-85.4v83.7l.5-81.2v89.8l.5-89v78.6l.5-74.4v78.1l.5-85.6v82.9l.5-75.9v76.8l.5-87.5v88.8l.5-80v76.7l.5-75.1v86.4l.5-86.7v76.3l.5-79.9v83.5l.5-78.1v74.2l.5-77.2v75.6l.5-78.3v93.6l.5-94v83l.5-86.8v81.8l.5-76.5v84.6l.5-83.5v81.9l.5-92.3v93.2l.5-85.5v87.2l.5-82.4v80l.5-87v82.3l.5-82.8v85.1l.5-80.5v83.4l.5-87v89.3l.5-89.6v88.6l.5-86.2v83.6l.5-79.6v82l.5-84.9v81l.5-79.2v77.3l.5-78.4v75.6l.5-74.5v78.6l.5-79.3v78.1l.5-77.2v75.9l.5-90v98l.5-88.3v85.9l.5-91.1v92l.5-85.4v81.2l.5-76.4v76.7l.5-83.1v85.8l.5-81.9v85.8l.5-85.7v85.1l.5-90.4v90.9l.5-88.1v82.1l.5-80.7v78.3l.5-72.9v77.5l.5-85.2v84.2l.5-82.8v80.6l.5-79.4v79.6l.5-75.9v79l.5-89.3v93.6l.5-91.9v92l.5-86.8v93.7l.5-92.3v81.9l.5-82.5v94.4l.5-99.5v82.7l.5-75.9v75.9l.5-80.2v87.9l.5-86.7v78.9l.5-80.7v81.6l.5-82.2v91.7l.5-95.1v88l.5-85.7v101.3l.5-102.5v91.9l.5-94.5v89.7l.5-83.9v88l.5-88.1v90l.5-88.1v82.2l.5-88.9v91.2l.5-86.4v86.2l.5-82.9v91.3l.5-93.5v87.6l.5-83.8v85l.5-90.2v80l.5-79.5v82.8l.5-80.9v81.4l.5-82.6v80.9l.5-82.3v85.9l.5-84.2v87.7l.5-84.9v90.4l.5-104.9v92.9l.5-81.6v86.9l.5-90.4v101.3l.5-98v90l.5-92.8v95.7l.5-90v79.8l.5-84.5v87.8l.5-90v88.1l.5-84.9v85.1l.5-86.2v82.8l.5-80.9v82.1l.5-85.4v87l.5-84.9v87.9l.5-89.5v85.8l.5-85.8v91.1l.5-85.4v84.2l.5-90.5v100.2l.5-95.7v90.9l.5-91.4v92.8l.5-96.6v84.3l.5-80.7v91.2l.5-96.3v84.3l.5-80.9v83.6l.5-83.3v95.1l.5-94.5v83.8l.5-83.7v84.4l.5-85.5v86.6l.5-83.7v80.4l.5-86.8v87.4l.5-94v94.3l.5-90.5v89.9l.5-87.9v89.8l.5-81.6v78.2l.5-84.6v83.7l.5-81.4v85.9l.5-83v78.4l.5-89.4v90.1l.5-83.7v82.9l.5-77.8v79.5l.5-78.1v78.2l.5-78.8v80.2l.5-85.6v83.8l.5-81.1v86.4l.5-88.5v83.1l.5-80.7v99.9l.5-105.2v86.3l.5-82.5v87.1l.5-94.6v92.2l.5-84.4v81l.5-94v96.7l.5-79.3v76.8l.5-82.7v83.3l.5-79.1v78.4l.5-81.5v99.1l.5-98v85.9l.5-87.7v85l.5-84.4v83.8l.5-83.8v81.7l.5-85.1v89.9l.5-84.4v81.1l.5-84.8v82.6l.5-84.4v88.2l.5-84.6v79.1l.5-78v83.6l.5-84.8v80.5l.5-84v89.7l.5-91v91l.5-86.2v86.4l.5-84.3v92.7l.5-99.9v103.1l.5-107.6v94.7l.5-82.7v94.7l.5-100.8v83.7l.5-79.5v80.7l.5-81.8v81.9l.5-81.5v92.6l.5-93v86.2l.5-81.7v83.6l.5-90v84.8l.5-78.7v84.5l.5-84.2v80l.5-85.6v83.8l.5-79.8v94.1l.5-97.4v88.7l.5-99.1v94.6l.5-92.8v97.2l.5-83.5v83.6l.5-97.9v91.4l.5-79.2v81.9l.5-89.4v103.6l.5-97.8v94.7l.5-94.7v86.9l.5-84.2v81.8l.5-86.5v82.3l.5-80.9v93.5l.5-92.6v81l.5-80v81.2l.5-81.4v80.4l.5-78.9v87.7l.5-88v87.9l.5-89.2v82.3l.5-89.4v85.4l.5-76.7v80.8l.5-87.4v85.4l.5-79.3v84.5l.5-85.1v83.3l.5-81.1v77.2l.5-83.9v99.4l.5-96.2v78.6l.5-73.7v85.5l.5-92.7v95.1l.5-90.8v89l.5-91.6v98.1l.5-103.2v90.3l.5-81.2v78.7l.5-79.5v80.7l.5-81.2v83.3l.5-85.9v90.4l.5-85v79.4l.5-83v81.8l.5-90.2v94.9l.5-87.3v80.2l.5-80.6v85.9l.5-81.9v75.6l.5-85.5v90.8l.5-85v88.2l.5-89v79.1l.5-75.1v84.7l.5-85.2v77.1l.5-87.7v94.1l.5-82.2v80.1l.5-84.8v80.2l.5-88.5v97.9l.5-84.9v79l.5-80.6v82.2l.5-90.9v87.5l.5-89.7v96.2l.5-84.1v86.8l.5-94.4v89.4l.5-82.2v80.7l.5-80.1v77.7l.5-78.4v89.4l.5-87.9v75.9l.5-79.2v79.4l.5-77.6v82.9l.5-81.3v81.7l.5-92.7v89.5l.5-84.1v85.8l.5-87.4v96l.5-90.8v78.9l.5-80.5v82.7l.5-83.2v81.3l.5-80.2v79.2l.5-77.4v84l.5-85.5v81.3l.5-78.3v80.4l.5-83.8v86.2l.5-87.7v90.1l.5-90.4v82.6l.5-82.1v82.1l.5-79.1v77.8l.5-76.7v83.6l.5-86.3v85.1l.5-84.2v87.2l.5-90.2v91.8l.5-84.3v74l.5-82.6v80.8l.5-84.6v82.3l.5-84.8v90.2l.5-80v77.7l.5-82.8v86.1l.5-81.3v79.4l.5-80.5v82.4l.5-80.3v83.2l.5-81.8v81.3l.5-80.3v79.6l.5-81.1v82.9l.5-85.2v93l.5-98.7v86.9l.5-84.2v81.8l.5-84.2v91l.5-94.5v88.8l.5-82.3v85.2l.5-80.2v86.7l.5-97.7v89.6l.5-80v77.2l.5-76.9v84l.5-82.4v88.9l.5-92v82.6l.5-77.2v82.6l.5-88.1v94.8l.5-93v89.1l.5-87.8v76.4l.5-80.4v82.5l.5-78.7v86.8l.5-87.4v77.9l.5-80.6v78.7l.5-76.6v88.6l.5-91.2v78.5l.5-77.9v80.2l.5-82.7v83.1l.5-89.8v93.4l.5-88v89.6l.5-86.4v81.5l.5-79.1v81.4l.5-92.8v88.5l.5-80.1v81.2l.5-75.2v77.5l.5-84.8v85.3l.5-81.4v78.8l.5-84.2v86.6l.5-78.6v79.8l.5-83.6v79.3l.5-77.3v77.6l.5-83.5v84.6l.5-79.4v80.3l.5-87.9v93.9l.5-90.2v91.4l.5-85.8v75.9l.5-79.4v79.3l.5-79.7v80.1l.5-76.6v77.9l.5-81.1v84.8l.5-82v78.5l.5-78.5v80.6l.5-81.4v91.2l.5-89.5v78.5l.5-86.2v98.5l.5-93.3v79.9l.5-78.3v76.5l.5-80.6v88.3l.5-94.3v82.9l.5-77.2v82.2l.5-89.4v89.9l.5-89v98.8l.5-88.5v86.2l.5-88.5v97l.5-95.4v77.5l.5-76.3v85.4l.5-92.5v88.8l.5-92.6v102.3l.5-96.8v83.1l.5-78.9v84.8l.5-91.2v91.7l.5-92.8v90.8l.5-82.4v81.8l.5-94.4v94.9l.5-81.8v78.9l.5-78.5v75.4l.5-82.4v87l.5-80.8v82.8l.5-83.5v81.7l.5-79.3v80.6l.5-84.9v81l.5-85.5v85l.5-82.2v95.1l.5-89.1v74.3l.5-77.9v86.1l.5-84.8v81.3l.5-80v80.3l.5-86.1v88.4l.5-84v80l.5-81.3v91.3l.5-90.2v83.9l.5-85.9v81l.5-80.6v90l.5-89.1v80.3l.5-91.9v104.3l.5-93.3v90.7l.5-89.9v78.4l.5-76.8v75.6l.5-74.6v85.9l.5-90.6v86.5l.5-85.5v79.7l.5-88.8v95.6l.5-86.4v79.5l.5-77v80l.5-80.6v80l.5-80.6v77.3l.5-86.1v85.9l.5-81.7v81.4l.5-77.7v94.1l.5-98.1v81.8l.5-90.5v103.5l.5-90.4v83.4l.5-95.8v96.5l.5-84.5v96.1l.5-97.3v78.6l.5-84.6v90.8l.5-81.9v77.7l.5-92.2v93.3l.5-84.8v83.1l.5-81.8v84.2l.5-84.3v93.5l.5-91.1v79.4l.5-78.7v80.6l.5-82.2v83.3l.5-92.1v91.4l.5-93.1v104.8l.5-97.7v84l.5-78.1v80.6l.5-79.4v82.9l.5-84.7v85.6l.5-84.4v88.6l.5-91.5v83.2l.5-82.1v77.4l.5-76.5v76.4l.5-77.9v85.9l.5-84.4v80l.5-81.5v78.5l.5-78.2v89.7l.5-88.6v78.5l.5-81.7v87l.5-86.3v82.2l.5-77.2v85.7l.5-84.9v89.7l.5-94.9v82.5l.5-83.4v86l.5-85.2v80.7l.5-90.5v93.7l.5-85.5v82.3l.5-78.9v82.5l.5-85.2v80.7l.5-92.6v103.7l.5-91.1v78.7l.5-83.6v88.5l.5-84.1v87.3l.5-86v81l.5-77.8v84.5l.5-85.4v81.9l.5-82.4v79.5l.5-92.7v98.8l.5-98.4v88.9l.5-78.1v80l.5-77.5v92.9l.5-96v85l.5-82v83l.5-90.3v89.3l.5-89.8v88.8l.5-84.6v87l.5-89.1v93.3l.5-95.2v83.5l.5-78.8v82.3l.5-80.6v78l.5-76.7v78l.5-88.9v94.2l.5-95.5v89.4l.5-78.2v78.1l.5-89.8v88.9l.5-82.7v84.8l.5-87.1v93.5l.5-88.6v89l.5-95.6v96.6l.5-93.8v97.8l.5-92.8v82.6l.5-80.1v94.6l.5-93.5v90.9l.5-90.6v77.2l.5-85.7v84.3l.5-79.7v81.8l.5-80.9v78.8l.5-81.3v88.8l.5-84.5v93l.5-93v79.2l.5-87.2v87.6l.5-83.9v82.6l.5-80.1v83l.5-81.9v92l.5-92.9v84.9l.5-81.7v78.7l.5-88.5v96.6l.5-89.5v78.9l.5-83.6v87.2l.5-83v85.4l.5-89v84.4l.5-78.1v89.7l.5-96v85.4l.5-83.6v83.9l.5-82.5v80.2l.5-81v90.2l.5-89.3v82.2l.5-81.4v83.4l.5-91.3v99.2l.5-92.9v81.7l.5-83.1v93l.5-99.2v91.4l.5-82.6v84.9l.5-91.1v90l.5-86.6v87.7l.5-85.8v80.2l.5-82.2v79.5l.5-77.7v82.2l.5-83.1v88.2l.5-88.5v83.8l.5-86.6v88.9l.5-95.9v99.5l.5-88v79.7l.5-78.9v80.7l.5-82.7v87.7l.5-94.3v88.1l.5-80v90.9l.5-92.6v80.9l.5-86.5v88.9l.5-80.9v80.3l.5-78.6v89.1l.5-95.8v87.1l.5-84.6v93.3l.5-96v91.6l.5-90.8v88.2l.5-92.8v107l.5-99.1v83.8l.5-82v79.6l.5-82v92.5l.5-89.8v79.9l.5-79.6v94.7l.5-102.2v87.2l.5-83.6v91.4l.5-91.9v80.6l.5-79.6v85.5l.5-90.5v86.3l.5-81.2v83.2l.5-85.8v87.6l.5-86.1v81.8l.5-79.2v83.9l.5-84.6v79.5l.5-77.5v78.7l.5-89.3v88.6" stroke="#f00" stroke-width="0.9"/>
</g>
<rect x="996.1" y="848.4" width="619.3" height="205.8" fill="none" stroke="#2a2a2a" stroke-width="1.3"/>
<text class="pl" transform="translate(824.2 819.3) scale(0.975 1)">F</text>
<text class="tk" text-anchor="end" transform="translate(991.4 863.4) scale(0.86 1)">8</text>
<text class="tk" text-anchor="end" transform="translate(991.4 914.9) scale(0.86 1)">4</text>
<text class="tk" text-anchor="end" transform="translate(991.4 966.3) scale(0.86 1)">0</text>
<text class="tk" text-anchor="end" transform="translate(991.4 1017.8) scale(0.86 1)">4</text>
<text class="se" font-size="29.5" text-anchor="end" x="969.6" y="1017.8">–</text>
<text class="tk" text-anchor="end" transform="translate(991.4 1069.2) scale(0.86 1)">8</text>
<text class="se" font-size="29.5" text-anchor="end" x="969.6" y="1069.2">–</text>
<text class="tk" text-anchor="middle" transform="translate(1002.5 1093.7) scale(0.86 1)">5</text>
<text class="tk" text-anchor="middle" transform="translate(1064.4 1093.7) scale(0.86 1)">8</text>
<text class="tk" text-anchor="middle" transform="translate(1126.3 1093.7) scale(0.86 1)">11</text>
<text class="tk" text-anchor="middle" transform="translate(1188.2 1093.7) scale(0.86 1)">14</text>
<text class="tk" text-anchor="middle" transform="translate(1250.1 1093.7) scale(0.86 1)">17</text>
<text class="tk" text-anchor="middle" transform="translate(1312.0 1093.7) scale(0.86 1)">20</text>
<text class="tk" text-anchor="middle" transform="translate(1373.9 1093.7) scale(0.86 1)">23</text>
<text class="tk" text-anchor="middle" transform="translate(1435.8 1093.7) scale(0.86 1)">26</text>
<text class="tk" text-anchor="middle" transform="translate(1497.7 1093.7) scale(0.86 1)">29</text>
<text class="tk" text-anchor="middle" transform="translate(1559.6 1093.7) scale(0.86 1)">32</text>
<text class="tk" text-anchor="middle" transform="translate(1621.5 1093.7) scale(0.86 1)">35</text>
<text class="se" font-size="46" transform="translate(904.1 1163.8) rotate(-90) scale(0.966 1)">Acceleration <tspan font-size="49" dy="1">[</tspan><tspan dy="-1">m/s</tspan><tspan font-size="28" dy="-14.5">2</tspan><tspan font-size="49" dy="15.5">]</tspan></text>
<rect x="938.9" y="1111.6" width="300.0" height="52.2" fill="#fff" stroke="#555" stroke-width="1.4"/>
<text class="se" font-weight="700" font-style="italic" font-size="58" transform="translate(946.7 1151.0) scale(0.96 1)">a</text><text class="se" font-weight="700" font-style="italic" font-size="45" x="972.7" y="1151.0">x</text><text class="se" font-weight="700" font-size="29" stroke="#000" stroke-width="0" x="994.7" y="1151.0">6</text><text class="se" font-size="42.5" stroke="#000" stroke-width="0.4" x="1008.9" y="1150.5">*</text>
<path d="M1020.6 1143.6H1074.3" stroke="#f00" stroke-width="5"/>
<text class="se" font-weight="700" font-style="italic" font-size="58" transform="translate(1103.3 1151.0) scale(0.96 1)">a</text><text class="se" font-weight="700" font-style="italic" font-size="45" x="1128.3" y="1151.0">y</text><text class="se" font-weight="700" font-size="29" stroke="#000" stroke-width="0" x="1150.3" y="1151.0">6</text><text class="se" font-size="42.5" stroke="#000" stroke-width="0.4" x="1164.5" y="1150.5">*</text>
<path d="M1176.6 1142.9H1230.3" stroke="#000" stroke-width="5"/>
<text class="se" font-size="45" transform="translate(1246.8 1156.4) scale(0.982 1)">Time <tspan font-size="48.5" dy="0.6">[</tspan><tspan dy="-0.6">s</tspan><tspan font-size="48.5" dy="0.6">]</tspan></text>
</g>
<g id="panelG">
<path d="M242.8 1248.6V1454.2M304.6 1248.6V1454.2M366.5 1248.6V1454.2M428.3 1248.6V1454.2M490.2 1248.6V1454.2M552.1 1248.6V1454.2M613.9 1248.6V1454.2M675.8 1248.6V1454.2M737.6 1248.6V1454.2M180.9 1289.7H799.5M180.9 1330.8H799.5M180.9 1372.0H799.5M180.9 1413.1H799.5" stroke="#c8c8c8" stroke-width="1" fill="none"/>
<clipPath id="cG"><rect x="180.4" y="1248.6" width="619.6" height="205.6"/></clipPath>
<g clip-path="url(#cG)" fill="none" stroke-linejoin="bevel">
<path d="M180.9 1270.3v162.4l.5-162.9v153.3l.5-154.6v161.4l.5-170.1v159.4l.5-145.6v135.6l.5-160.6v179.3l.5-168.5v194.8l.5-186v156.9l.5-165.9v153.3l.5-143.9v152.4l.5-149.3v141.8l.5-156.5v151.8l.5-127.1v138.4l.5-171.5v164.5l.5-164.5v165.7l.5-147v137.7l.5-146.4v169.3l.5-168.4v152l.5-150.9v166.9l.5-161.9v147.8l.5-146v186.8l.5-198.1v155.9l.5-163.4v189.1l.5-173.8v150.6l.5-140.1v141.8l.5-144.7v149.4l.5-155v181l.5-166.7v124.9l.5-128.1v164.5l.5-174.7v141.5l.5-131.6v146.4l.5-154.3v149.7l.5-146.8v139.8l.5-140v143.5l.5-146.7v165l.5-162v140.6l.5-156v155l.5-134.1v152.6l.5-159.6v162.9l.5-166v162.3l.5-169.7v165.5l.5-158.9v146.6l.5-142.4v138.9l.5-145.8v186.5l.5-196.1v169.6l.5-174.6v163.6l.5-146.6v149.6l.5-144.5v142.8l.5-151.4v154.8l.5-152.4v187.7l.5-191.5v160.5l.5-162.4v154.1l.5-145.4v152.7l.5-141.4v133.6l.5-144.6v144.1l.5-151.5v148.9l.5-130.7v146.7l.5-154.1v139.5l.5-138.2v154.5l.5-153.9v129.2l.5-153.7v172.4l.5-150.2v142.8l.5-147.3v149.9l.5-159.7v153.5l.5-133.1v151.1l.5-166.8v151.2l.5-162.3v173.3l.5-148.9v148.2l.5-166.3v161.1l.5-159.3v152.1l.5-137.9v157.9l.5-180.6v175.8l.5-158.3v147.3l.5-143.8v164.1l.5-166.7v154.4l.5-162.8v171.6l.5-155.2v160l.5-163.9v157.3l.5-163.6v154l.5-171.3v162.6l.5-142v180.7l.5-177.5v173.4l.5-174.8v179.3l.5-178.1v143.3l.5-147.6v183.5l.5-189.8v173.2l.5-159.2v135.4l.5-148.5v153.5l.5-146.7v150.6l.5-171.3v175.1l.5-175.1v165.5l.5-160.4v168l.5-141.7v145.9l.5-156.7v155.6l.5-166v174.9l.5-165.1v148l.5-146v143.1l.5-149.7v145.3l.5-145.7v180.5l.5-175.2v151.9l.5-146.4v150.7l.5-153.8v172.6l.5-185.6v162.3l.5-154.9v166.4l.5-160.3v150.1l.5-168.1v183.8l.5-180.8v177.5l.5-162.1v154.9l.5-161.7v175.7l.5-182.3v153.8l.5-145.5v163.2l.5-166.3v162.4l.5-176v203.8l.5-185.3v150l.5-144.5v148.2l.5-141.8v136.8l.5-155.1v158l.5-153.4v154.7l.5-161.6v159.1l.5-147v134.9l.5-132.4v138.7l.5-139.1v149l.5-152.9v155l.5-176.9v176.5l.5-156v151.4l.5-155.6v154.9l.5-171.2v167.3l.5-166.4v180.4l.5-163.4v151.8l.5-155.8v151.6l.5-147.7v164l.5-181.8v169.1l.5-163.1v161.4l.5-142.6v147.4l.5-172.2v168.5l.5-147.8v164.3l.5-185v175.5l.5-149.5v165.8l.5-182.3v161.8l.5-152.7v164.6l.5-175v164.2l.5-156.2v160.2l.5-176.4v186l.5-165.3v153.8l.5-159.8v155.9l.5-164.7v184.1l.5-164.4v169.2l.5-169.8v150.9l.5-152.1v155.5l.5-171.7v164.6l.5-152.1v152.5l.5-168.3v172.4l.5-156.4v163.6l.5-183.3v185.6l.5-186.2v180.1l.5-166.5v161.7l.5-162.5v163l.5-171.9v187.1l.5-173.5v180l.5-190v170.9l.5-155.5v160l.5-171.7v164.4l.5-160.3v154l.5-169.3v195.7l.5-184.1v166.4l.5-160.3v155.1l.5-156v150.1l.5-154.8v166.6l.5-157.5v173.7l.5-176v148l.5-160.3v170l.5-171.3v192l.5-180.8v146.7l.5-163.2v205.6l.5-192v189.9l.5-198.9v180.8l.5-170.5v190.7l.5-182v154.4l.5-161.2v151l.5-157.2v170.7l.5-174.4v153.7l.5-141.1v174.3l.5-179.5v155.6l.5-160v168.5l.5-165.7v183.7l.5-176v168.7l.5-176.2v160.6l.5-152v146.1l.5-162.6v175.4l.5-161.7v166.2l.5-166.5v158.6l.5-157v181.4l.5-183.5v160.8l.5-157v143.4l.5-145.9v158.6l.5-160.6v158.7l.5-157v144.9l.5-150.2v192l.5-183.6v148.1l.5-160.2v183.9l.5-193.8v171.5l.5-161.5v159.2l.5-169.2v170.5l.5-161.3v173.3l.5-162v147.2l.5-152.6v159.4l.5-174.5v174.6l.5-161v145.8l.5-139.2v152.4l.5-160v165.7l.5-170.2v162.9l.5-159.8v188.9l.5-171.7v145.8l.5-174.2v171.7l.5-150.3v144.6l.5-164.3v165.5l.5-163.7v174.5l.5-167.4v166.6l.5-153.8v151.6l.5-164.1v153.4l.5-141.9v141.7l.5-152.5v161.2l.5-172.8v178.5l.5-178.5v189.4l.5-165v177.9l.5-202.3v173.1l.5-156.9v149.5l.5-142v142.2l.5-150.3v181.8l.5-194v170.5l.5-155.3v156.8l.5-153.2v134.7l.5-145.9v159.6l.5-152.3v153.8l.5-147.6v147.8l.5-161.6v164.9l.5-175.6v175.8l.5-152.6v158.1l.5-157.2v151.6l.5-151v147.1l.5-151.5v148.5l.5-153.5v162.7l.5-167.8v171l.5-155.1v142.9l.5-148.7v152.2l.5-153.1v158.4l.5-149.7v149.3l.5-149.5v158l.5-180.8v176l.5-160.8v149.3l.5-158.5v161.8l.5-164.3v155l.5-163.6v176.6l.5-171.6v166.3l.5-149.2v155.7l.5-165.9v157.1l.5-162.9v172.2l.5-161.3v188.6l.5-189.8v159l.5-167.8v193.2l.5-180.4v161l.5-163.7v151.6l.5-168.7v170l.5-161.3v165.8l.5-146.4v135.9l.5-132.5v141.7l.5-151v160.1l.5-176.4v175.6l.5-160.5v161.2l.5-182.2v180.5l.5-158.7v178.5l.5-180.9v148.7l.5-139.7v176.6l.5-205v171.8l.5-151.7v153.7l.5-155.2v149.1l.5-146.9v173.8l.5-187v181.9l.5-171.8v160.3l.5-155.9v151.7l.5-156.9v175.9l.5-185.9v183.9l.5-171.1v163l.5-182.7v172l.5-146.1v153.9l.5-167.1v153.5l.5-158.6v174.3l.5-181.9v184.4l.5-172v193.2l.5-188.7v177.8l.5-194.7v167.6l.5-155v189.2l.5-200.2v169.3l.5-165.2v165.3l.5-144.7v179.3l.5-205.6v190l.5-168.5v158.7l.5-167.7v152.9l.5-134.6v147.4l.5-156.5v144.3l.5-147v151.9l.5-170.9v171.9l.5-144.2v137.8l.5-147.7v147.8l.5-155.3v155.5l.5-149.7v162.8l.5-150.2v154l.5-165.3v162.3l.5-162.7v144.8l.5-147.1v156l.5-150.2v167.6l.5-162.9v157.7l.5-172v194.7l.5-180.9v170.2l.5-175.4v154.4l.5-150.9v169.9l.5-188.4v163.1l.5-140.7v147.2l.5-168.2v175.8l.5-157.5v146l.5-154.7v165l.5-160.7v164.5l.5-158.9v180.2l.5-189.1v159.7l.5-155.3v184.7l.5-189.5v156.9l.5-163.1v163.9l.5-157.2v158.6l.5-155.9v157.6l.5-153v139.4l.5-145v165.7l.5-177.4v160.1l.5-148.7v163.9l.5-181.9v187.6l.5-165.9v183.6l.5-189.5v161.7l.5-169.7v157.5l.5-148.4v156l.5-169.3v181.5l.5-182.5v164.4l.5-161.7v167.3l.5-166.7v167.4l.5-150.7v153.3l.5-152.8v150.8l.5-165.9v162.3l.5-142.6v177.9l.5-187.1v155.3l.5-167.1v167.2l.5-154.5v185.1l.5-198.5v191.5l.5-185.6v160.5l.5-147.8v179.5l.5-187.9v180.2l.5-193.8v170.7l.5-169.7v169.7l.5-173.3v166.9l.5-166.5v196.9l.5-175.5v167.3l.5-165.2v155.7l.5-165.2v152.4l.5-154.5v193.3l.5-185v152.6l.5-145.8v178.2l.5-186.3v142.5l.5-143.9v166.2l.5-163.4v145.2l.5-141.1v176.7l.5-176.8v140.9l.5-144.9v154.8l.5-160.3v164.7l.5-155.8v142.4l.5-147.5v183.5l.5-183.8v163l.5-159v178.5l.5-176.1v139.5l.5-140.7v143.4l.5-167.3v163.3l.5-145.9v157.2l.5-156.7v147.7l.5-165.6v169.1l.5-169.1v185.3l.5-180.5v163.6l.5-159v170.3l.5-156.4v146.9l.5-152.1v179.9l.5-171.3v152.5l.5-175v164.3l.5-156.2v193.3l.5-185.2v146.3l.5-146.7v150.5l.5-148.6v176.4l.5-173v143.1l.5-168.4v164.1l.5-163.3v161l.5-142.1v163.2l.5-169.4v160.7l.5-155.3v156.4l.5-154v151.3l.5-145.5v140.9l.5-145.6v151.7l.5-155.4v182.4l.5-177.3v180.6l.5-192.9v160.7l.5-148.8v151.5l.5-164.1v194.8l.5-205.2v191.2l.5-174.7v188.7l.5-188.8v188.8l.5-205.6v171.8l.5-165.4v163.8l.5-156.5v162.9l.5-166.4v157.1l.5-167.3v170l.5-167.3v168.6l.5-167.7v201.3l.5-199.6v171l.5-166.2v158.1l.5-142.3v164.2l.5-185.7v164.3l.5-157.1v159.1l.5-159.5v158.7l.5-156.1v165.8l.5-163.9v148.5l.5-144.5v156.4l.5-145.8v130.2l.5-136.8v157.4l.5-154.4v143.7l.5-148.4v172.7l.5-176.5v161.8l.5-157.3v178.5l.5-178.8v158.1l.5-161.5v186.6l.5-186.1v141.8l.5-138.6v140.3l.5-139.2v178.7l.5-173.5v138.1l.5-162v169.7l.5-174.8v176.5l.5-149.5v150l.5-169v162.6l.5-148.5v163.7l.5-164.3v182.6l.5-182.5v152.9l.5-164.4v170.6l.5-164.4v189.3l.5-188.9v150.9l.5-162.3v162.1l.5-146.7v160.9l.5-158.5v170.5l.5-186.9v159.4l.5-144.4v165.8l.5-163.8v181.9l.5-194.2v160.6l.5-160.7v183.9l.5-184.4v149.7l.5-137.3v161.9l.5-165.3v163.5l.5-173.8v157.9l.5-142.5v177.6l.5-184.5v185.8l.5-185.8v166.6l.5-158.7v149.7l.5-166.7v168.4l.5-151.3v140.2l.5-146.9v158.4l.5-164.1v155.2l.5-168.8v161.8l.5-161.8v187.5l.5-170.7v154.7l.5-157.3v165.9l.5-165.7v156.7l.5-171.1v175.5l.5-157.3v150.2l.5-168.2v186.6l.5-163.6v143.3l.5-166.5v183.6l.5-165v158.2l.5-157.6v148.3l.5-167.5v181.9l.5-180.4v202.4l.5-187.5v189l.5-188.3v157.4l.5-155v154l.5-173.5v190.8l.5-163.6v134.1l.5-157.4v164.8l.5-146.9v139.1l.5-142.2v149.7l.5-150.3v152.3l.5-147.4v153.3l.5-176.3v198l.5-179.2v164.8l.5-163v144.4l.5-140.9v153.8l.5-161.5v171.4l.5-165.6v157.8l.5-158.3v139.1l.5-144.9v181.6l.5-196.4v187.1l.5-163.6v147.3l.5-154.3v188l.5-190.9v156.4l.5-157.7v160.3l.5-155.2v161.6l.5-172.4v168.4l.5-157.4v176.7l.5-172v161.6l.5-174.7v175.9l.5-186.2v205.6l.5-189.5v171.8l.5-187.3v203.5l.5-178.7v165.3l.5-165.3v153.6l.5-158.7v142.1l.5-143.1v186.3l.5-185.3v185.3l.5-205.6v176.7l.5-176.7v182.4l.5-176.7v162.4l.5-152.8v153.8l.5-145.8v136.5l.5-139.8v142.2l.5-144.8v164.8l.5-164.3v144.5l.5-150.2v161.8l.5-152.3v155.1l.5-159.5v175.8l.5-172.3v151.2l.5-158.4v159.3l.5-150.9v136.6l.5-136.6v141.8l.5-140.5v147.3l.5-145.7v155.2l.5-159.5v163.1l.5-168.3v164.1l.5-157.7v157.5l.5-165.7v148.7l.5-141v183.4l.5-175.4v149.4l.5-168.6v154.6l.5-152.4v155.8l.5-166.6v167l.5-146.7v183.8l.5-186.3v186.3l.5-184.1v144.8l.5-143.9v149.2l.5-152.5v158.9l.5-149v141.1l.5-170.1v176.7l.5-151.5v141.9l.5-144.9v147.8l.5-144v147.6l.5-156.5v188.5l.5-200v178.5l.5-161v154.3l.5-162.6v158.1l.5-165.1v182.1l.5-180.1v156.6l.5-157.6v158.7l.5-157.4v156.8l.5-148.2v164.6l.5-164.1v148.1l.5-163.4v172.9l.5-170.5v170.1l.5-162.5v153.1l.5-152.3v145.4l.5-150.8v169l.5-178.3v185.8l.5-156.4v142.4l.5-171.8v182.9l.5-169.7v151.2l.5-148.2v172.3l.5-174.7v158.4l.5-153.9v174.7l.5-171.7v148.4l.5-150v162.9l.5-156.9v144.8l.5-159.9v157.4l.5-139.2v159l.5-166.7v145.9l.5-146.3v167.7l.5-178.4v162.8l.5-160.5v153.3l.5-149.7v149.6l.5-144.9v154.9l.5-166.6v189l.5-184v169.8l.5-158.2v157.4l.5-162.8v144.5l.5-139.9v169.9l.5-173.7v156.9l.5-177.8v170.7l.5-154.7v155l.5-153.4v150.5l.5-154.2v152.1l.5-148.4v154.9l.5-167v168.2l.5-161.6v175.9l.5-181.8v188.2l.5-174.2v185.4l.5-177v141.7l.5-148.2v147.5l.5-156.3v156.6l.5-167.2v165.2l.5-148.3v154.7l.5-152.4v175.2l.5-176.1v165.9l.5-182v163.8l.5-155.5v192.4l.5-183.6v183.6l.5-184.4v143.5l.5-158v149.5l.5-145.7v160.3l.5-139.3v143.6l.5-160.1v154.6l.5-152.7v160.6l.5-153.5v169.2l.5-181.1v193.5l.5-189.2v166.5l.5-159.3v176.5l.5-173.2v166.8l.5-185.1v165.5l.5-150.6v149.3l.5-159v163.2l.5-162.6v149.5l.5-142.4v149.3l.5-148.4v147.4l.5-155.5v155.6l.5-149.5v166.7l.5-169.1v187.6l.5-196.6v161.7l.5-145.9v155l.5-179.8v170.2l.5-148.9v181.4l.5-180.1v168.8l.5-164.7v178.9l.5-180v152l.5-155.1v153l.5-164.5v162.7l.5-172.3v200.3l.5-182.5v170.8l.5-190v199.3l.5-172.1v178.4l.5-187.3v146.4l.5-141.2v182.1l.5-180.6v135.1l.5-141.5v146.3l.5-150.2v168.6l.5-164.1v169.9l.5-163.8v138.5l.5-163.8v176.9l.5-148.2v176.9l.5-178v149l.5-159.5v151.4l.5-167.3v165.1l.5-142.2v151.1l.5-152.2v140l.5-152.4v182.3l.5-175.9v155.4l.5-167.8v201l.5-205.6v166.5l.5-141v156.9l.5-164.8v188l.5-197.4v166.9l.5-161.1v185.4l.5-172.3v163.4l.5-188.8v174l.5-153.8v150l.5-152.3v148.9l.5-159.9v156.4l.5-152.2v159.2l.5-146.1v155.1l.5-181v204l.5-204v159.9l.5-137v155.9l.5-169.8v158.5l.5-145.6v146.9l.5-142.7v145.8l.5-155.5v155.1l.5-148.3v147.7l.5-149.7v146.8l.5-136.2v148l.5-162.5v154.6l.5-146.2v130.7l.5-126.3v144.9l.5-150.6v141.6l.5-148.4v170.4l.5-166.3v173.1l.5-174v164l.5-170.7v163.7l.5-155.5v144.9l.5-154.7v148.8l.5-146.7v164.5l.5-165.9v151.2l.5-151.7v161.2l.5-164.2v156.7l.5-148.8v155.2l.5-153.6v158.3l.5-151v170.1l.5-181.6v190.6l.5-203.7v168.6l.5-145.7v143.9l.5-155.3v156.4l.5-143.2v146.1l.5-161.4v182.2l.5-174.4v157.6l.5-155.1v151.7l.5-166.6v173.9l.5-168.8v151.5l.5-149.3v160.4l.5-157.5v153.2l.5-147.9v139.3l.5-140.1v137.4l.5-158.8v188.7l.5-188.7v197.6l.5-181.7v152l.5-151v176.7l.5-182.1v151.6l.5-163.1v168.7l.5-153.4v154.1l.5-150.7v172.2l.5-190.9v163.9l.5-152.5v156.5l.5-166.4v172.5l.5-164.9v178.3l.5-168.5v144.6l.5-143.8v156.5l.5-176.2v173.6l.5-169.7v169.1l.5-158v157.9l.5-163.1v165.6l.5-155.2v148.3l.5-153.3v166l.5-155.8v143.2l.5-164.6v182.5l.5-170.9v176l.5-187v165l.5-146.8v140.6l.5-151.6v168.8l.5-180.6v166l.5-141.7v144.5l.5-166.3v157.8l.5-146.5v159.6l.5-150.2v160.3l.5-173.6v160.3l.5-153.4v152.2l.5-155.1v191.7l.5-191.5v156.9l.5-166.2v158l.5-141v148.1l.5-148.7v146.3l.5-157.6v174.4l.5-174.3v183.2l.5-173.6v145.3l.5-145v153l.5-155.5v166l.5-183.4v175.7l.5-160.7v146.4l.5-161.4v162.5l.5-156.1v157.2l.5-159.3v171.1l.5-155.9v154l.5-149.5v157.6l.5-157v148.1l.5-160.2v178.1l.5-167.9v165.8l.5-169.1v171.6l.5-162.6v162.1l.5-169v138l.5-140.8v158.2l.5-160.7v160.5l.5-149v129.8l.5-140v172.1l.5-168.2v147l.5-150.5v138.8l.5-148.6v145.6l.5-153.7v170.8l.5-152.2v176.2l.5-189.2v153.4l.5-140.5v182.4l.5-179.1v142.9l.5-145.3v141l.5-131.2v146.8l.5-154.1v144.9l.5-166.8v198.2l.5-186v155.1l.5-157.1v189.2l.5-178.5v152.7l.5-152.6v157.1l.5-170.9v194l.5-200.7v162.1l.5-162.6v160.1l.5-143.1v151.7l.5-158.6v175.2l.5-172.4v152l.5-151.5v151l.5-144.2v160.4l.5-148.8v161.7l.5-171.5v138.6l.5-149.7v152.7l.5-142.1v167.1l.5-182.1v158.4l.5-141.5v138.2l.5-161.6v180.9l.5-158v169.6l.5-192.5v165.4l.5-161.4v161.1l.5-144.2v145.5l.5-138.9v165.7l.5-175.1v162.4l.5-165.8v159.1l.5-152.4v150.3l.5-149.8v169.8l.5-164.7v138.8l.5-143.5v147.7l.5-146.8v146.7l.5-153.3v159.4l.5-154.9v151.4l.5-163.6v166.3l.5-163.5v153.7l.5-157.1v165.5l.5-173.8v181.5l.5-160.7v145.7l.5-166.5v174.4l.5-164.5v169l.5-168.2v152.3l.5-145.9v151.1l.5-152.6v148.5l.5-156.3v171.5l.5-154.1v143.6l.5-152v157l.5-147.1v140.8l.5-146.3v152.7l.5-159.1v155.7l.5-146.6v136.3l.5-139.9v152.6l.5-154.9v166l.5-166.5v168.3l.5-164.2v170.9l.5-168.8v155.3l.5-157.1v154.7l.5-151.9v150.1l.5-153.5v182l.5-191.8v173.4l.5-170v180l.5-194.9v176.3l.5-149.9v177.5l.5-181.4v149.7l.5-153.4v158.6l.5-156.6v147.7l.5-151.4v161.2l.5-167.3v151.2l.5-139.1v167.8l.5-190.9v183.6l.5-162.2v145.5l.5-142.5v181.2l.5-189.1v149.9l.5-153.1v157.3l.5-152.1v166.7l.5-174v162.5l.5-160.8v174.7l.5-170v183.4l.5-177.4v182l.5-205.6v194.7l.5-194.7v167.6l.5-153.1v157l.5-147.8v181.9l.5-194.3v173.7l.5-180.8v177.2l.5-162.3v162.2l.5-162v155.2l.5-157.3v188.4l.5-187.7v154.6l.5-148.1v151.5l.5-152.7v157.4l.5-165.6v168.8l.5-161.4v147.5l.5-164.8v181.3l.5-163.1v182.3l.5-189.2v186.8l.5-178.7v153.2l.5-148v144.4l.5-174.1v170l.5-170v185.1l.5-181.9v198l.5-183.4v160l.5-161.7v170.4l.5-163.9v161.1l.5-167.6v153l.5-144.6v152.7l.5-170.6v170.5l.5-177.1v179.8l.5-159.6v141.6l.5-150.5v164.6l.5-153.2v162.2l.5-159.2v149.4l.5-160.2v190.7l.5-205.6v180l.5-159.3v157.2l.5-177.9v179.1l.5-157.6v156.8l.5-159.3v150.6l.5-141.3v147.6l.5-159.6v166.5l.5-167v163.2l.5-161.8v148.9l.5-149.6v159.7l.5-159.2v141.1l.5-133.4v144.6l.5-150.9v149.9l.5-152.7v173.1l.5-165.1v147.2l.5-170.1v183.2l.5-179v166.3l.5-153v172.7l.5-173.8v168.1l.5-159v169.6l.5-178.8v150.1l.5-154.7v157.4l.5-142.8v156.8l.5-169.3v156.3l.5-165.9v180.4l.5-161.7v159.5l.5-183.1v176.8l.5-165.8v177.3l.5-164v147.1l.5-160.5v163.4l.5-159.7v155.9l.5-162v164.4l.5-151.2v144.5l.5-138.5v145.7l.5-147.8v153.2l.5-173.9v185.3l.5-171.7v143.9l.5-162.4v170.6l.5-152.8v165l.5-160.4v154.8l.5-162.7v169.8l.5-168v150.5l.5-145.3v145.9l.5-156v174.5l.5-173.5v193.2l.5-178.4v135.5l.5-162.7v205.5l.5-193.6v159.7l.5-156.9v167.2l.5-158.4v149.6l.5-152v141.7l.5-144.2v148.2l.5-142.6v153.3l.5-170.9v167.8l.5-159.5v173.4l.5-161.7v150.4l.5-177v163.9l.5-158.9v172.4l.5-169.9v172l.5-154.8v155.6l.5-169.9v156.8l.5-148.9v143.1l.5-144.9v167.1l.5-159v145l.5-149v150.1l.5-148.2v147.6l.5-154.5v159.7l.5-155.2v175.8l.5-168.2v150.2l.5-154.1v157.8l.5-181.6v165.9l.5-139.3v154.1l.5-153.5v150.3l.5-152.5v139.1l.5-145.2v151.8l.5-153.9v181.5l.5-187.9v193.2l.5-194.5v196.5l.5-189.2v156.4l.5-153.2v147.7l.5-140.4v159.5l.5-165.1v153.6l.5-165.2v193.8l.5-178.6v153.3l.5-146.8v144.9l.5-162.2v158.5l.5-170.6v194.7l.5-182.2v154.2l.5-143.8v154.7l.5-174.1v169.8l.5-149.7v150.2l.5-162.1v191.9l.5-190.2v155.6l.5-158.2v172.1l.5-164.4v149.9l.5-145.1v143.5l.5-159.2v172.8l.5-173.3v154.4l.5-138.8v180.9l.5-197v176l.5-165.4v149.6l.5-152.6v174l.5-163.1v139.4l.5-140.7v170.9l.5-192.5v166.7l.5-152.4v169.5l.5-163.1v175.1l.5-196.5v165.4l.5-157.1v166.4l.5-160.6v152.7l.5-153.5v175.9l.5-170.5v156.2l.5-155.3v148.4l.5-155.6v171.9l.5-187.8v183.7l.5-170.2v173l.5-156.4v141.4l.5-144v165.8l.5-173.7v164.4l.5-153.4v142.2l.5-162.1v162.1l.5-148.6v144.4l.5-144.3v154.3l.5-157.5v155.7l.5-158.8v156.1l.5-154.6v155.6l.5-154.8v144.6l.5-138.8v151l.5-156.1v153.1l.5-147.3v148.7l.5-168v171.4l.5-170.1v172.3l.5-171.1v167.8l.5-153.6v148.1l.5-147.5v144.2l.5-150.6v163.8l.5-164.4v150.7l.5-143.8v154.1l.5-149.7v134.9l.5-143.7v162.8l.5-162.3v148.3l.5-155.4v164.7l.5-162.4v161.6l.5-160.1v153.6l.5-155.4v175.5l.5-181v160.2l.5-145.6v161.1l.5-171.3v166.9l.5-167.9v154.3l.5-154.3v172.4l.5-170.6v190.2l.5-183v173.7l.5-178.7v148.9l.5-162v171.9l.5-160.8v172.1l.5-173.4v153.9l.5-168.2v192.2l.5-170.4v161.9l.5-170v172.4l.5-178.6v169.5l.5-156v155l.5-154.7v184.3l.5-177.7v143l.5-165.3v175.5l.5-165.3v156.1l.5-158.6v160.2l.5-173.5v178.8l.5-154.8v150.3l.5-155.2v152.1l.5-151.6v159.3l.5-158.9v147.4l.5-149.4v157.7l.5-151.8v148.5l.5-151.1v152.4l.5-144.1v143l.5-155.3v139.2l.5-142v156.2l.5-151.6v162.2l.5-159.4v151.6l.5-173.5v203.2l.5-185.5v152.3l.5-150.2v151.6l.5-152.8v152.6l.5-144.2v149.9l.5-165.2v158.6l.5-151.4v165.8l.5-184.7v180.2l.5-154.9v140.5l.5-149.1v159.9l.5-160v175l.5-191.6v166.2l.5-142v146.3l.5-161.6v163.3l.5-152.7v144.3l.5-143.7v165.2l.5-165.2v152.3l.5-153.9v158.1l.5-159.4v151.9l.5-160.3v191.3l.5-179.4v148.1l.5-149.1v149.7l.5-147.9v172.9l.5-170.9v166.5l.5-189.7v169.5l.5-156.3v149l.5-142.7v150.7l.5-147.2v155.5l.5-159v175.1l.5-187.7v184.1l.5-184.7v183l.5-177.2v165l.5-166v172.9l.5-162v142.5l.5-143.9v151.9l.5-154.5v156.6l.5-160.2v148.5l.5-158v158.1l.5-154v165.3l.5-155.6v186.6l.5-194.6v177.5l.5-166.5v159.9l.5-179.2v169.5l.5-152.6v157.5l.5-158.5v153l.5-158.4v152.8l.5-145.2v152.7l.5-153.3v161.4l.5-171.2v163.5l.5-160.5v164.4l.5-160.1v167.7l.5-165.2v184l.5-197.9v181.4l.5-187.7v205.6l.5-204v171.7l.5-166.6v165.3l.5-154.1v151.9l.5-169.8v163.7l.5-147v159.7l.5-154.9v162.4l.5-171v157.5l.5-170.4v178.6l.5-158v175.4l.5-178.7v168.9l.5-169.5v152.4l.5-155.8v177.5l.5-168v152.9l.5-155.8v157.9l.5-157.3v150.7l.5-150.2v149l.5-168.4v179l.5-166.1v156.2l.5-161.4v160.8l.5-163.7v169.6l.5-176v176l.5-157.6v184.3l.5-194.5v168.3l.5-161.5v190.6l.5-182.2v142l.5-147.7v187.9l.5-189.9v151.2l.5-151.2v158.2l.5-155.6v146.6l.5-164.9v178.9l.5-178.9v163.8l.5-141.7v151.5l.5-153.5v155.7l.5-152.9v146.4l.5-163.3v173.2l.5-174.3v168.1l.5-153.4v156.6l.5-168.9v161.1l.5-146.2v183.4l.5-192v155.8l.5-148.5v149.8l.5-154.4v155.3l.5-147.7v151.7l.5-166.2v155.8l.5-149.8v167.7l.5-160.6v147.6l.5-147.6v158.3l.5-163.1v151l.5-143.5v155.4l.5-162.7v144l.5-135.4v144.1l.5-151.6v160.2l.5-168v180l.5-187.7v171.2l.5-155.4v178.1l.5-171.6v153.3l.5-163.3v148.4l.5-141.6v143.6l.5-151.7v161.8l.5-163v185.1l.5-178.1v141.7l.5-161.8v164.8l.5-155.6v157.6l.5-156.7v160.6l.5-145.9v175.1l.5-182.8v153.9l.5-153.7v182.6l.5-178.9v159.4l.5-165.7v156l.5-168.7v168.7l.5-153.5v149.1l.5-151.1v162.4l.5-177.8v187.1l.5-168.5v155.9l.5-174.5v184.6l.5-172.2v159.8l.5-155.6v152.7l.5-144.5v158.5l.5-169.9v163.3l.5-171.4v160.1l.5-150.7v155.1l.5-168.4v194.5l.5-173v147.9l.5-147.3v153.7l.5-148.1v155.3l.5-161.5v143.7l.5-146.3v156.4l.5-151.9v148.2l.5-152.5v158.7l.5-171.2v159.7l.5-144.6v143.2l.5-162.1v191l.5-179.5v168.6l.5-164.9v167.1l.5-164.2v143.7l.5-154v184.4l.5-175.8v160.8l.5-165.4v162.2l.5-166.4v177.7l.5-171.9v160.2l.5-152v149.3l.5-152.6v144.6l.5-145.9v158.3l.5-169.5v155.1l.5-142.2v173.4l.5-178.3v170.1l.5-184.8v164.5l.5-167.8v171.8" stroke="#000" stroke-width="1.0"/>
<path d="M180.9 1274.2v97.7l.5-89.4v91.2l.5-95.8v100.1l.5-95.2v88.4l.5-88.5v92.6l.5-87.2v82.6l.5-87v99.4l.5-98.6v89.4l.5-84.2v82.7l.5-98.6v98.4l.5-89.2v92.9l.5-89v94l.5-93.7v86.8l.5-102.2v104.7l.5-85.8v82l.5-87.2v91.6l.5-91v99.9l.5-105.8v89.8l.5-86.5v86.9l.5-81.9v101.2l.5-105.8v90.6l.5-99.2v94.3l.5-84.8v94.1l.5-99.2v96.6l.5-87v83l.5-89.8v95.5l.5-91.5v85.2l.5-85.1v98.3l.5-108.8v99.3l.5-92v88.4l.5-85.4v88.4l.5-90.5v93l.5-92.7v92.4l.5-97.6v91.9l.5-89.7v97.4l.5-108.6v103.4l.5-86.3v85.7l.5-91.4v95.4l.5-97.8v92.4l.5-83.9v86.7l.5-96.2v93.7l.5-87.1v94.3l.5-94.8v90.3l.5-85.6v86.7l.5-96.9v97.9l.5-102.4v97.4l.5-90.4v97l.5-91.5v83.3l.5-84.8v89.2l.5-100.9v102.5l.5-87.2v81.3l.5-90.1v91.8l.5-89.4v106.2l.5-105.3v100.5l.5-97.8v95.9l.5-109.2v115.2l.5-106.1v94.4l.5-93.2v95.9l.5-91.7v87l.5-90.9v94.6l.5-92.9v86l.5-88.8v90.8l.5-94.2v110.6l.5-102.8v85.3l.5-85.6v84.1l.5-82.8v87.7l.5-90.9v90.9l.5-87.9v88.1l.5-99.5v99.6l.5-89.1v105.7l.5-105.9v87.1l.5-91.6v95.9l.5-90v84l.5-84.9v96.6l.5-99.9v100.6l.5-108.9v105.2l.5-96.1v90.8l.5-90.4v96.1l.5-100.2v93.4l.5-94.7v95.8l.5-89.1v88.1l.5-86.9v95.7l.5-93.7v82.5l.5-84.6v96.1l.5-92.5v82.5l.5-79.3v77.9l.5-88.1v90.5l.5-91.9v102.8l.5-102.3v96.6l.5-90.3v89.7l.5-95.8v101.2l.5-94v81.8l.5-89.3v92.4l.5-92.3v93l.5-84v102.8l.5-104.2v81.6l.5-82.7v87.4l.5-89.1v91.2l.5-91.6v104.6l.5-99.3v80.8l.5-85.6v94.7l.5-94.5v85l.5-80.4v85.3l.5-85.4v86.3l.5-92.4v83.3l.5-77.9v83.1l.5-89.6v87.1l.5-89v95.7l.5-89.3v85l.5-97.5v106.4l.5-97.7v91.7l.5-91.4v108.9l.5-106.4v85.8l.5-91.7v91.6l.5-82v85.9l.5-90.8v86.8l.5-85.7v82.9l.5-79.7v81.9l.5-83.9v84.7l.5-83.3v82.5l.5-84.1v88.5l.5-93v106.1l.5-115.2v97.3l.5-82v81.8l.5-82.3v86.1l.5-88.2v84.6l.5-90.4v92.5l.5-93.9v96.8l.5-86.5v91.3l.5-94.2v87l.5-85.5v91l.5-98.6v98.1l.5-89.7v81.6l.5-88.8v88.9l.5-85.3v89.2l.5-94.7v94.6l.5-84.8v81.8l.5-83.8v83.6l.5-91.5v86.7l.5-79.1v86.2l.5-88.4v100.7l.5-97v96.1l.5-94.9v77.3l.5-88.6v94.2l.5-87.7v85.9l.5-95v96.3l.5-83v97.3l.5-102.6v91l.5-101.6v97.2l.5-84.1v83.8l.5-95.1v91.4l.5-83v98l.5-95.9v88.8l.5-87.6v92l.5-94.6v104.2l.5-110.7v91.3l.5-90.8v94.4l.5-98.5v98l.5-95v92.2l.5-85.4v97.5l.5-91.7v83.2l.5-83.8v90.1l.5-94.1v88.8l.5-91.8v87.7l.5-86.1v85.6l.5-85.1v95l.5-90v78.9l.5-80.7v85.1l.5-88.2v85.6l.5-95.4v94.9l.5-82.6v89.7l.5-92.9v96.2l.5-99.8v92.3l.5-86.5v91.1l.5-90.7v97.3l.5-96.5v81.5l.5-86.7v88.6l.5-85.1v83.8l.5-85.4v90.3l.5-87.2v84.9l.5-98.8v96.2l.5-98.1v100.8l.5-93.9v91.3l.5-100.7v101l.5-89.5v91.2l.5-96v98.9l.5-95.9v91.2l.5-82.2v85.1l.5-92v103.6l.5-105.2v94.8l.5-91.6v104.3l.5-103.6v96.4l.5-95v84.8l.5-82.9v84.2l.5-93.4v96.3l.5-85.5v99.9l.5-110.8v93.5l.5-85.8v93.9l.5-91.1v84.2l.5-89.6v88.1l.5-88.9v96l.5-99.7v96.1l.5-91v93.5l.5-88v80.6l.5-96.8v99.2l.5-83.4v80.3l.5-86.6v88.5l.5-85.2v84.9l.5-86.3v85.1l.5-100.7v101.5l.5-86.2v87.5l.5-89.7v94.9l.5-89.9v88.3l.5-102.4v97.5l.5-87.7v84.3l.5-84.8v106.4l.5-103.9v89.4l.5-91.5v90.4l.5-87.9v87.9l.5-93.4v93.4l.5-85.7v83.1l.5-85.9v91.5l.5-89.5v86.7l.5-90.1v101.5l.5-102.2v95.3l.5-92v84.6l.5-80.5v82.6l.5-87v88.8l.5-87.3v89.2l.5-106.2v101.2l.5-89.2v89l.5-88.4v90.1l.5-85.2v99.6l.5-107.1v92.1l.5-88.3v84.2l.5-81.2v89.6l.5-99.2v96l.5-88.2v86.8l.5-83.4v86.2l.5-90.1v90.9l.5-88.3v89.8l.5-90.4v86.6l.5-89.6v88.7l.5-85.2v92l.5-91.6v91.7l.5-101.5v91.6l.5-79.3v86.3l.5-90.4v82.6l.5-86.9v90.7l.5-93.1v91.2l.5-87.9v88l.5-85.2v90.9l.5-89.8v83.1l.5-98.2v99.9l.5-83.9v88.4l.5-89.3v84.7l.5-83.7v86.7l.5-95.4v95.6l.5-91v87.2l.5-86.4v90.2l.5-95.4v103.5l.5-99.5v90.5l.5-100.4v104.4l.5-92.3v87.3l.5-97.4v96.9l.5-86.8v87.5l.5-85.5v80.6l.5-88.1v92.8l.5-89.3v84.8l.5-88.3v87.5l.5-80.6v80.8l.5-81.8v79.4l.5-78.7v87.4l.5-87.3v82.5l.5-84.3v88.7l.5-94.2v92.9l.5-97.8v99l.5-87.4v92l.5-98.7v94.6l.5-92.4v95.4l.5-87.3v85.1l.5-100v98.3l.5-86.1v101.5l.5-102.5v87.8l.5-89.1v90.4l.5-85.6v82.1l.5-87.8v89l.5-89.7v101.7l.5-110.2v112.8l.5-111.4v92.5l.5-82.4v83.3l.5-86.8v88.6l.5-88.9v89l.5-82.6v96.2l.5-97.8v80.9l.5-89.2v92.3l.5-84.3v89.5l.5-106v102.1l.5-100.4v96.7l.5-88.1v88.5l.5-82.3v86.5l.5-101.6v99.3l.5-100.2v97.3l.5-96.2v101.1l.5-90.3v85.1l.5-87.5v90.1l.5-84.1v88.7l.5-88.5v83.5l.5-84.3v81.5l.5-79.6v82.9l.5-87.7v89.5l.5-85.3v80.5l.5-86.8v91.9l.5-104.2v104.4l.5-85.4v89.5l.5-92.4v82.6l.5-80.6v97.9l.5-101.9v90.5l.5-87.4v90.2l.5-91.2v96.4l.5-107.8v98.6l.5-101.4v100.6l.5-88.7v98.7l.5-97.6v102.3l.5-101.6v87.5l.5-85.5v81.7l.5-83.9v83.9l.5-79.2v85.6l.5-94.4v93l.5-94.1v93.2l.5-86.7v85.7l.5-85.9v90.2l.5-95.1v88.2l.5-82.2v84.5l.5-91.2v98.9l.5-97v90.3l.5-88.2v91.9l.5-91.3v84.3l.5-94.4v107.1l.5-95.8v83.4l.5-90.4v92.9l.5-86.8v82.8l.5-89.3v95.4l.5-86.8v87l.5-86.7v88.2l.5-88.6v85.1l.5-97.6v95.6l.5-84.9v86.6l.5-87.6v88.2l.5-99.7v100.3l.5-85.7v92.9l.5-96.2v92.6l.5-93.6v90.2l.5-86.8v87.7l.5-94.3v94.1l.5-95.2v89.4l.5-83.4v84.3l.5-87.5v99.1l.5-94.8v84.7l.5-84.1v92.9l.5-104.7v101.1l.5-88.6v90.6l.5-94.9v86.6l.5-98.2v99.8l.5-86.3v85l.5-83.1v82.8l.5-89.4v94.7l.5-93.3v88.9l.5-82.9v78.9l.5-79.7v82.4l.5-85v86.1l.5-84.8v87.6l.5-94v99l.5-91.3v90.7l.5-104.1v103.3l.5-96.7v89.5l.5-88.7v91.1l.5-92v100.2l.5-96.7v89.8l.5-92.9v96.2l.5-87.3v86.2l.5-90.1v91.3l.5-95.5v93l.5-85.6v80.5l.5-80.9v87.5l.5-86.3v95l.5-98.4v88.5l.5-86.5v89.2l.5-89.4v80.3l.5-80.9v84.7l.5-87.5v89.1l.5-94.7v91.8l.5-81.2v94.7l.5-109.8v97.7l.5-87.5v85.2l.5-87.5v94.3l.5-98v92.1l.5-90.8v95.1l.5-91v89.4l.5-100.2v102.9l.5-95v89.3l.5-94.6v109.7l.5-99.5v92.6l.5-100.3v97.2l.5-92.4v92.5l.5-90.1v88.5l.5-100.3v99.3l.5-81.5v81.7l.5-88.1v102.7l.5-96.9v86l.5-90.6v103.8l.5-103.7v87.6l.5-91.8v88.8l.5-84.1v87.4l.5-101.8v99.1l.5-84.7v84.6l.5-81.5v96.1l.5-98.4v83.7l.5-84.8v87.2l.5-90.1v88.9l.5-85.3v93.4l.5-92.2v83.8l.5-95.1v100.5l.5-92.1v87.1l.5-99v99.5l.5-91.1v102.2l.5-105v93l.5-84.6v80.2l.5-88.2v102.9l.5-99.4v87.1l.5-95.9v111.7l.5-112.6v112.2l.5-98.5v85.7l.5-85.7v81.2l.5-79.5v85l.5-87.3v86.1l.5-93.5v94.4l.5-91.3v104l.5-98.9v86.7l.5-94.1v88.4l.5-81.7v84.2l.5-78.8v87l.5-101.9v98.4l.5-91.9v96.1l.5-95.4v85.1l.5-80.4v83.5l.5-91.5v89.8l.5-81.3v87.1l.5-90.2v94l.5-105.4v100.5l.5-96v98.2l.5-89.3v80.4l.5-84v96.2l.5-91.6v84.1l.5-89.8v88.2l.5-83.5v82.6l.5-81.9v89l.5-89.2v90.9l.5-98v95.2l.5-98.6v93.4l.5-89.7v92l.5-87.2v83.4l.5-85.7v89.4l.5-87v86.3l.5-84.6v83.4l.5-83.8v84.4l.5-87v86.2l.5-93.3v96l.5-90v84.4l.5-84.1v88.8l.5-83.2v81.8l.5-85.7v91.3l.5-104.3v99.9l.5-86v83.6l.5-82.1v84.8l.5-82.8v79.8l.5-87v90.4l.5-84.2v84.9l.5-102.6v101.2l.5-87.7v89l.5-86.2v83.5l.5-82.1v81.4l.5-90.1v93.7l.5-87v85.4l.5-89.1v90.8l.5-85.6v82.3l.5-84.1v87.6l.5-89.1v89.1l.5-91.2v86.5l.5-80v80.6l.5-86.5v85.9l.5-92.1v91.2l.5-89.5v91.1l.5-97.3v109.7l.5-99.6v98l.5-91.5v81.6l.5-84.5v90.7l.5-97.3v93.2l.5-91.6v96.8l.5-92.8v89.8l.5-87.6v89.2l.5-102.1v102.3l.5-100.9v100.6l.5-89.8v84.9l.5-89v87.2l.5-85.9v83.7l.5-80.7v91.4l.5-91.2v84.9l.5-85.4v81.5l.5-81.3v82.2l.5-81.3v81.8l.5-81.6v81.6l.5-83.2v87.6l.5-91.8v89l.5-86.3v87.2l.5-85.1v92.1l.5-88.8v82.6l.5-86.1v87.1l.5-88.6v85.4l.5-85.8v86.9l.5-86.6v86.4l.5-83.9v80l.5-82.6v84.2l.5-83.4v88l.5-84.8v79l.5-81.9v82.7l.5-91.8v100.9l.5-91.6v97.7l.5-97.3v83.1l.5-89.9v106l.5-100.3v83.3l.5-82v94.7l.5-100.5v93.2l.5-85v84l.5-85.9v78.5l.5-75.1v83.9l.5-88.2v95.3l.5-94.8v88l.5-88.6v92.7l.5-106.2v106l.5-93v83.9l.5-95v109.6l.5-108.6v95.7l.5-81.3v80.1l.5-79.5v87.9l.5-99.1v93.2l.5-84v90.6l.5-91v81.9l.5-85.8v86.8l.5-82.5v96.5l.5-101.1v100.4l.5-94.7v81.6l.5-91.4v93.3l.5-86.3v84.6l.5-83.3v78.7l.5-78.6v86.2l.5-83.3v82.4l.5-91.4v86l.5-78.6v84.1l.5-92.8v85.5l.5-78.6v84.8l.5-85.8v92.2l.5-87.7v85.4l.5-87.7v89.6l.5-96.1v89l.5-81.4v94.4l.5-108.7v91.8l.5-79.3v80.3l.5-79.6v91.8l.5-99.2v88.2l.5-90.6v94.1l.5-99.9v94.7l.5-82.8v99.4l.5-101.6v88.9l.5-85.8v85l.5-94v92.3l.5-82.7v80.5l.5-84v84.8l.5-77.4v93l.5-93.3v89.8l.5-93.7v85.1l.5-84.7v82.5l.5-87.3v87.4l.5-93v93.4l.5-82.2v81.2l.5-80.9v89.5l.5-89.3v85.6l.5-87.3v80.2l.5-76.2v79.9l.5-82.6v81.6l.5-81.3v87.1l.5-86v82.2l.5-83.2v87.6l.5-99.2v107l.5-99.6v84.1l.5-79.7v91.7l.5-91.5v83.5l.5-96.7v93.1l.5-81.1v90.8l.5-90.4v82.6l.5-80.5v77.8l.5-80.2v88.7l.5-103.5v96.9l.5-79.5v77.7l.5-77.3v80.9l.5-96.5v92l.5-83.6v98l.5-91.5v86.8l.5-85.8v78.5l.5-88.5v93.1l.5-92v87l.5-83.8v84.1l.5-80.1v83.8l.5-87.5v84.6l.5-80.8v86.2l.5-91.2v91.6l.5-88.9v93l.5-93.4v92.4l.5-98v90.6l.5-91.3v101.1l.5-93.5v86.7l.5-86.9v90.8l.5-89.9v80.3l.5-94.4v102.2l.5-91.5v84.6l.5-90v93.4l.5-86.4v83l.5-80.9v79.9l.5-86.5v96.2l.5-88.6v89.8l.5-89.6v87l.5-98.8v92.5l.5-92.6v91.3l.5-84.2v89.1l.5-92.2v87.2l.5-80.2v87.4l.5-99.3v96.1l.5-86.7v80.5l.5-75.7v87.1l.5-99.4v97.2l.5-86.6v79.5l.5-82.5v96.1l.5-96.2v83.1l.5-78.3v78.1l.5-80.6v86.7l.5-97.1v98l.5-86.7v86.1l.5-96.5v87.1l.5-79v88.4l.5-90.6v97l.5-104.9v91.4l.5-79v87l.5-90.1v80.6l.5-85.2v89l.5-85.8v98.6l.5-99.3v82.4l.5-85.9v91.9l.5-84.9v82.9l.5-86.6v85l.5-90.5v89.6l.5-81.8v87l.5-85.6v81.2l.5-88.8v90.7l.5-85.3v84.1l.5-80.8v76.3l.5-76.5v95.2l.5-102.3v90.6l.5-84.7v83.1l.5-83.4v82.3l.5-81.9v83l.5-83.4v95.4l.5-95.2v79.4l.5-84.5v92.2l.5-88.5v82.7l.5-93.1v102.2l.5-92.4v89.4l.5-86.7v92.5l.5-106.6v93.3l.5-80.6v84.6l.5-88.7v89.3l.5-84.4v86.9l.5-89.9v87.2l.5-89.3v86.5l.5-82v84.5l.5-91.7v100.2l.5-103v94.6l.5-79.9v94.1l.5-97v77.5l.5-79v87.1l.5-89.8v95.4l.5-94.4v85.3l.5-86v84.9l.5-83.2v88.4l.5-87.6v80.7l.5-86.1v88.1l.5-79.6v78.1l.5-83.3v84.5l.5-82.5v86.1l.5-86.3v99.3l.5-95.9v83.2l.5-88.7v95.6l.5-99v87.4l.5-84.7v84.9l.5-82v98l.5-99.9v96.7l.5-93.7v89.3l.5-91.7v102.7l.5-98.7v85.7l.5-88.2v85.8l.5-85.8v83.9l.5-89.1v87.7l.5-82.4v81.9l.5-85.3v87.5l.5-85.2v90l.5-92.5v102.5l.5-97.1v83.6l.5-89.3v95.4l.5-99.9v91.9l.5-83.9v82.8l.5-81.7v88.5l.5-91.3v91.3l.5-88.7v81.1l.5-86v86.9l.5-90.9v95.5l.5-90.5v93.5l.5-92.6v91.3l.5-91.4v89.7l.5-87.6v86.6l.5-101.5v104.3l.5-94.8v88.1l.5-85.1v93.6l.5-91v87.9l.5-87.8v82.7l.5-84.8v98.1l.5-98.8v87.2l.5-100.1v99.1l.5-96.4v98.6l.5-91.2v86.7l.5-83.4v86.2l.5-85.8v91.9l.5-103.6v103.8l.5-96v85.7l.5-81.9v93.8l.5-95.7v87.4l.5-85.1v95.5l.5-99.8v88.3l.5-81.7v85.9l.5-98.2v107.9l.5-107.2v97.9l.5-93.1v92.8l.5-88v80.1l.5-80.6v87.9l.5-91.9v85.2l.5-81.8v89.4l.5-93.6v90l.5-100.3v103.9l.5-89.3v81.3l.5-90.1v104.8l.5-104v95.4l.5-85.3v98.1l.5-100.9v88.7l.5-92.3v91.1l.5-90.2v86.8l.5-90.3v100.1l.5-99.4v105l.5-98.7v89.3l.5-91.6v88.1l.5-91v106.9l.5-104.5v86.3l.5-89.7v94.9l.5-96.1v100.8l.5-102.1v94.5l.5-88.3v98.3l.5-101.8v91.7l.5-94.4v105.7l.5-99.2v86.9l.5-92.3v91.5l.5-83.8v85.5l.5-86v89.3l.5-96.1v93.6l.5-88.1v89.9l.5-103.1v98l.5-83v87l.5-87.8v92.7l.5-90.8v83.9l.5-95.7v98.2l.5-89v90.5l.5-93.3v98.7l.5-102.3v92.9l.5-89v87.6l.5-97.1v100.1l.5-85.9v81.6l.5-89.8v93.5l.5-90.8v92l.5-96.5v104.2l.5-100.3v90.1l.5-89.8v95.8l.5-96.4v93.8l.5-86.2v85l.5-86.7v88.4l.5-87.3v92.6l.5-95.4v91.5l.5-87.5v88.6l.5-90.4v87.6l.5-94.2v103.1l.5-104v94.2l.5-93.1v97.6l.5-95.6v92l.5-90.7v93.1l.5-90.9v96.6l.5-95v102.5l.5-101.3v91.5l.5-95v87.2l.5-88.1v91.4l.5-93.3v91.2l.5-87.5v83.7l.5-85.3v90.7l.5-85.3v87l.5-87.5v87.8l.5-89.5v84.9l.5-90.1v100l.5-101.3v86.6l.5-80.2v87.9l.5-88.7v94.1l.5-91.1v88l.5-89v87.5l.5-87v89.3l.5-95.1v97l.5-88.9v87.6l.5-101.7v99.6l.5-89.9v89.7l.5-91v86.9l.5-89.7v92l.5-81v79.4l.5-87.3v88.6l.5-84.8v88.9l.5-95.8v95.3l.5-91.4v102.6l.5-105.8v102.8l.5-97.4v105.3l.5-106.5v81.8l.5-78.9v79.7l.5-84.7v91.6l.5-87.8v85l.5-100.2v105.3l.5-94.1v98.1l.5-93.9v85.9l.5-84.5v83.1l.5-86.4v85.5l.5-85.5v81.4l.5-82.5v82.7l.5-92.4v104.3l.5-87.7v80.5l.5-85.1v85.3l.5-86.4v85.8l.5-82.4v83.2l.5-84.7v81.4l.5-84.7v90.2l.5-92.9v91.5l.5-86.5v84.3l.5-85.7v85l.5-83.1v92.9l.5-95.8v100.9l.5-97.5v92.5l.5-106.5v100.1l.5-86.5v85.9l.5-85.2v82.2l.5-95v98.5l.5-100.6v109l.5-101.8v98.6l.5-102.1v91.3l.5-96.1v104l.5-94.8v111l.5-106.4v88.2l.5-87.5v87.4l.5-97v94.2l.5-86.2v88.2l.5-93.1v89.9l.5-83.3v93.4l.5-95.1v87.5l.5-91v92.9l.5-84.5v97l.5-103.4v83.7l.5-80.8v93.5l.5-98.5v90.5l.5-85.7v92.9l.5-92.8v90.1l.5-99.9v104.6l.5-108.5v102.2l.5-88.9v86.1l.5-84.4v83l.5-89.3v94.5l.5-101.8v95.3l.5-89.2v88.9l.5-89.1v100.6l.5-98.3v92l.5-87.6v88.2l.5-88.2v84.9l.5-86.4v88.8l.5-91.3v91.8l.5-88.8v84.1l.5-89.6v88.6l.5-84.8v86.5l.5-85.6v103.4l.5-100.8v90.2l.5-91.6v90l.5-102.4v98.5l.5-91.7v97l.5-92.2v87.4l.5-94.7v96.1l.5-86.8v84.1l.5-95v95.7l.5-84v89.3l.5-94.3v87.3l.5-85.5v88.2l.5-89.6v89.6l.5-91.7v84.8l.5-83.6v87.9l.5-92.7v96.9l.5-87.3v82.3l.5-87v101l.5-97.3v98l.5-100v90.4l.5-87.6v83.4l.5-88.8v92.8l.5-96.6v90.2l.5-90.7v94.1l.5-85.1v87.4l.5-90v87l.5-83.9v96l.5-99.7v86.7l.5-88.7v94.3l.5-94.8v86.5l.5-81.7v88.7l.5-85v78.2l.5-86v89.1l.5-92.7v94.2l.5-89.8v84.9l.5-90.9v94.3l.5-92.7v92.4l.5-88v96.1l.5-92.4v87.6l.5-98.8v100.7l.5-108.6v109.7l.5-91.9v93.9l.5-96.1v90l.5-90.7v86.9l.5-86.8v86.6l.5-87.6v98.6l.5-98.2v87l.5-90.2v92.2l.5-84.5v81.1l.5-85.3v87.2l.5-96.7v106.1l.5-96.8v86.2l.5-82.4v85.1l.5-84.1v83.8l.5-86.5v84.4l.5-98.5v99.4l.5-86.7v88.9l.5-92v90l.5-90.7v93.6l.5-85.6v90l.5-100.5v91.1l.5-90.4v93.8l.5-95.5v98.1l.5-86.1v82l.5-86.3v86.5l.5-94.4v95.2l.5-86.8v88.6l.5-86.6v86.4l.5-102.3v98.8l.5-78.3v76.8l.5-80.6v87.3l.5-95.1v92.8l.5-100.8v98l.5-89.5v91.8l.5-92.1v103.8l.5-104.8v90.1l.5-83.1v81.6l.5-88.7v93.7l.5-104v112.3l.5-94.7v88l.5-96.6v95.5l.5-90.6v93l.5-88.8v88.1l.5-90.9v94.8l.5-91.7v82.6l.5-81.4v84.1l.5-90.3v91.6l.5-88v85.6l.5-89.4v89.8l.5-82.2v82.2l.5-93.1v92.5l.5-84.3v85.7l.5-85.3v93.5l.5-99.9v94.1l.5-90.8v102.7l.5-101.6v100.7l.5-95.7v82.9l.5-84.8v83.8l.5-88.9v95.6l.5-98.6v98.1l.5-97.3v93l.5-86.5v89.8l.5-97.4v88.2l.5-82.4v94l.5-104.2v92.7l.5-88.1v86.6l.5-80v95.2l.5-95.5v86l.5-90.5v104.5l.5-104v88.9l.5-100v101.3l.5-88v89.1l.5-85v80.7l.5-81v93.3l.5-95.7v101.7l.5-105.2v92.2l.5-88.8v84.5l.5-87.9v91.7l.5-90.5v96.5l.5-106.9v96.4l.5-89.6v89.7l.5-84.2v86.7l.5-88.2v100.2l.5-103.8v96l.5-93v96.2l.5-95.2v82.6l.5-86.8v103l.5-100.6v90.8l.5-91.1v89.4l.5-95.9v94.1l.5-92.6v92.5l.5-87.1v93.6l.5-95.5v106l.5-109v91.9l.5-95.2v94.8l.5-86.1v87.6l.5-85.1v84.5l.5-96v94.9l.5-86.6v87.1l.5-92.8v88.2l.5-76.9v95l.5-98.9v83.9l.5-86.6v89.4l.5-85.3v99.5l.5-99.8v85.7l.5-85v81.8l.5-85.9v93.4l.5-93.8v103.7l.5-98.2v86l.5-96.4v91.3l.5-80.2v96l.5-109.2v96.8l.5-83.2v83l.5-94.7v90.5l.5-79.2v89.1l.5-88.8v95.6l.5-103.2v89.3l.5-84.3v83.9l.5-87.2v101.2l.5-97.5v94.3l.5-98.8v102l.5-102.2v90.2l.5-88.1v97.8l.5-95.1v90.7l.5-107.1v103l.5-85.3v78.6l.5-80.9v98.6l.5-95.2v81l.5-99.7v101.6l.5-88.8v87.1l.5-92.9v96.8l.5-88.4v82.8l.5-94.2v104.7l.5-94.4v88.5l.5-95.1v94.5l.5-84.3v82.3l.5-89.3v89.5l.5-93.4v89.8l.5-81.8v86.9l.5-83.4v80.7l.5-80.6v80.3l.5-94.6v106.6l.5-96v87.4l.5-97.8v92.8l.5-82.2v85.8l.5-86.2v87.7l.5-92v94.5l.5-91.1v85l.5-86.6v92.4l.5-89.4v92.5l.5-91.4v86.2l.5-91.1v88l.5-86.5v91.5l.5-90.8v85.5l.5-87.1v89.8l.5-91.3v88.4l.5-85.6v85.8l.5-84.7v100.6l.5-110.4v95.3l.5-81.6v88.6l.5-94.6v89.8l.5-97.9v94.5l.5-87.2v87.7l.5-82.8v81.2l.5-84v96.1l.5-94.2v99.1l.5-112.2v96.5l.5-83.2v85.6l.5-85v81.5l.5-78.6v86.2l.5-90v84.8l.5-82.5v91.4l.5-95.8v96.8l.5-90.5v78.5l.5-84v84.7l.5-83.2v86.4l.5-89.3v91.5l.5-89.6v87.5l.5-84v84.1l.5-84.2v99.6l.5-100.4v81.1l.5-87.3v90l.5-93v104.2l.5-94.5v88.3l.5-88.2v80.9l.5-87.6v90.7l.5-87.5v86.3l.5-88.8v84l.5-78.7v87.7l.5-90.2v83.1l.5-80.2v93.7l.5-95.2v87.2l.5-93.5v89.6l.5-87.6v88.4l.5-84.7v88.7l.5-95.1v93.6l.5-93v104.6l.5-97.5v83.6l.5-84.6v83.8l.5-79.9v81.8l.5-94.9v98l.5-93.5v88.8l.5-87.5v96l.5-100.7v94.7l.5-92.7v96l.5-91.6v86.3l.5-87.3v104.5l.5-109v91.6l.5-91.2v92.9l.5-81.5v87.6l.5-91v79.7l.5-81.4v87.5l.5-90.8v89.3l.5-82.2v80.6l.5-84v88.2l.5-84.9v98.3l.5-105.8v93.2l.5-85.1v98.3l.5-101.1v84.7l.5-89.6v105.6l.5-100.6v85.1l.5-83.9v82.9l.5-82.4v81.2l.5-88.7v96.4l.5-91.5v85.6l.5-89.8v91.1l.5-82.5v84.8l.5-103.1v94.3l.5-81.5v87.4l.5-91v92.2l.5-97.2v112l.5-116.4v106.1l.5-91.4v84.6l.5-84.6v85.3l.5-85.4v91.3l.5-88.7v87l.5-87.6v80.6l.5-81.4v81.9l.5-93v99.5l.5-95.5v87.8l.5-85.7v85.7l.5-86.5v89.8l.5-85.6v87.9l.5-99.8v104.3l.5-97.8v88.4l.5-82.7v100.6l.5-108.1v91.1l.5-88.5v96.6l.5-93v89.3l.5-96.6v91.3l.5-85.5v93.4l.5-91.2v80.2l.5-79.4v84.8l.5-88.3v97l.5-93.8v86.8l.5-85.2v91.2l.5-93.1v90.6l.5-93v91.5l.5-96.7v96.1l.5-99v93.4l.5-85.7v93.4l.5-88.4v85l.5-83.7v86.3l.5-95.5v93.8l.5-85.7v85.5l.5-85.6v90.1l.5-91.7v83.8l.5-96.8v97.4l.5-86v90.4l.5-105.4v96.6l.5-81.1v86.8l.5-84.7v84.1l.5-83v81.9l.5-88.1v93.9l.5-92.7v90l.5-86v82l.5-86.8v93.5l.5-94.6v91.7l.5-91v87.9l.5-91.4v97.2l.5-90.4v80.7l.5-86.9v91.6l.5-96.6v100.8l.5-90.4v83.9l.5-93.3v91.9l.5-78.2v83.5l.5-90.3v86.7l.5-94.8v106.9l.5-92.5v82.3l.5-88.4v87.9l.5-84.5v84.6l.5-97.2v100.9l.5-85.7v83.6l.5-88.5v94l.5-94.8v99.7" stroke="#f00" stroke-width="0.9"/>
</g>
<rect x="180.9" y="1248.6" width="618.6" height="205.6" fill="none" stroke="#2a2a2a" stroke-width="1.3"/>
<text class="pl" transform="translate(0.4 1213.0) scale(0.975 1)">G</text>
<text class="tk" text-anchor="end" transform="translate(176.8 1263.6) scale(0.86 1)">10</text>
<text class="tk" text-anchor="end" transform="translate(176.8 1304.7) scale(0.86 1)">5</text>
<text class="tk" text-anchor="end" transform="translate(176.8 1345.8) scale(0.86 1)">0</text>
<text class="tk" text-anchor="end" transform="translate(176.8 1387.0) scale(0.86 1)">5</text>
<text class="se" font-size="29.5" text-anchor="end" x="155.0" y="1387.0">–</text>
<text class="tk" text-anchor="end" transform="translate(176.8 1428.1) scale(0.86 1)">10</text>
<text class="se" font-size="29.5" text-anchor="end" x="140.2" y="1428.1">–</text>
<text class="tk" text-anchor="end" transform="translate(176.8 1469.2) scale(0.86 1)">15</text>
<text class="se" font-size="29.5" text-anchor="end" x="140.2" y="1469.2">–</text>
<text class="tk" text-anchor="middle" transform="translate(187.2 1493.7) scale(0.86 1)">5</text>
<text class="tk" text-anchor="middle" transform="translate(249.1 1493.7) scale(0.86 1)">8</text>
<text class="tk" text-anchor="middle" transform="translate(311.0 1493.7) scale(0.86 1)">11</text>
<text class="tk" text-anchor="middle" transform="translate(372.9 1493.7) scale(0.86 1)">14</text>
<text class="tk" text-anchor="middle" transform="translate(434.8 1493.7) scale(0.86 1)">17</text>
<text class="tk" text-anchor="middle" transform="translate(496.7 1493.7) scale(0.86 1)">20</text>
<text class="tk" text-anchor="middle" transform="translate(558.7 1493.7) scale(0.86 1)">23</text>
<text class="tk" text-anchor="middle" transform="translate(620.6 1493.7) scale(0.86 1)">26</text>
<text class="tk" text-anchor="middle" transform="translate(682.5 1493.7) scale(0.86 1)">29</text>
<text class="tk" text-anchor="middle" transform="translate(744.4 1493.7) scale(0.86 1)">32</text>
<text class="tk" text-anchor="middle" transform="translate(806.3 1493.7) scale(0.86 1)">35</text>
<text class="se" font-size="46" transform="translate(87.0 1563.1) rotate(-90) scale(0.966 1)">Acceleration <tspan font-size="49" dy="1">[</tspan><tspan dy="-1">m/s</tspan><tspan font-size="28" dy="-14.5">2</tspan><tspan font-size="49" dy="15.5">]</tspan></text>
<rect x="122.0" y="1511.3" width="300.0" height="52.2" fill="#fff" stroke="#555" stroke-width="1.4"/>
<text class="se" font-weight="700" font-style="italic" font-size="58" transform="translate(129.8 1550.7) scale(0.96 1)">a</text><text class="se" font-weight="700" font-style="italic" font-size="45" x="155.8" y="1550.7">x</text><text class="se" font-weight="700" font-size="29" stroke="#000" stroke-width="0" x="177.8" y="1550.7">7</text><text class="se" font-size="42.5" stroke="#000" stroke-width="0.4" x="192.0" y="1550.2">*</text>
<path d="M203.7 1543.3H257.4" stroke="#f00" stroke-width="5"/>
<text class="se" font-weight="700" font-style="italic" font-size="58" transform="translate(286.4 1550.7) scale(0.96 1)">a</text><text class="se" font-weight="700" font-style="italic" font-size="45" x="311.4" y="1550.7">y</text><text class="se" font-weight="700" font-size="29" stroke="#000" stroke-width="0" x="333.4" y="1550.7">7</text><text class="se" font-size="42.5" stroke="#000" stroke-width="0.4" x="347.6" y="1550.2">*</text>
<path d="M359.7 1542.6H413.4" stroke="#000" stroke-width="5"/>
<text class="se" font-size="45" transform="translate(429.9 1556.1) scale(0.982 1)">Time <tspan font-size="48.5" dy="0.6">[</tspan><tspan dy="-0.6">s</tspan><tspan font-size="48.5" dy="0.6">]</tspan></text>
</g>
<g id="panelH">
<path d="M1066.5 1248.6V1453.9M1128.0 1248.6V1453.9M1189.5 1248.6V1453.9M1251.1 1248.6V1453.9M1312.7 1248.6V1453.9M1374.2 1248.6V1453.9M1435.8 1248.6V1453.9M1497.3 1248.6V1453.9M1558.8 1248.6V1453.9M1004.9 1299.9H1620.4M1004.9 1351.2H1620.4M1004.9 1402.6H1620.4" stroke="#c8c8c8" stroke-width="1" fill="none"/>
<clipPath id="cH"><rect x="1004.4" y="1248.6" width="616.5" height="205.3"/></clipPath>
<g clip-path="url(#cH)" fill="none" stroke-linejoin="bevel">
<path d="M1004.9 1272.8v144.5l.5-162.2v162.7l.5-142.4v136.8l.5-163.6v160.9l.5-129.1v139.7l.5-145.7v152.5l.5-157.6v159.7l.5-143.5v160.9l.5-182.6v159.5l.5-154.8v143.2l.5-142.8v178.6l.5-198.9v165.2l.5-139.7v140.8l.5-132v132l.5-124.7v121.7l.5-127.8v165.3l.5-163.5v132l.5-151v187l.5-187v168.7l.5-152v122.4l.5-137.1v161.7l.5-149.5v152.2l.5-159.8v150.4l.5-172.8v171.7l.5-143.5v174.6l.5-163.1v151.3l.5-155.3v127.9l.5-132.7v130l.5-163.4v162.3l.5-140.8v138.3l.5-140.6v150.3l.5-130.8v126.4l.5-132.6v133.9l.5-131.2v133.8l.5-151.9v154.9l.5-151.7v147.7l.5-138v155l.5-183.9v183l.5-150.8v119.2l.5-152.5v195.8l.5-171.6v151.4l.5-175.6v169.2l.5-142v143.6l.5-153.3v170l.5-148.3v135.7l.5-174.9v168.4l.5-139.2v131.8l.5-120.1v125.8l.5-138.6v143.9l.5-139.9v164.9l.5-166.3v138.1l.5-132.3v131.1l.5-127.5v116l.5-118v135.2l.5-140.2v124.6l.5-125.3v138.8l.5-146v137.4l.5-162.6v175.9l.5-175.9v202.3l.5-173.1v133.5l.5-147.8v154.4l.5-136.5v131.8l.5-137.4v169.8l.5-163.3v127.6l.5-132.7v134.3l.5-123.7v124.2l.5-131.3v135.4l.5-135.5v155.5l.5-157.9v125.7l.5-121v122.9l.5-114.1v133.3l.5-140v121.7l.5-126.3v130l.5-122.2v128.4l.5-132v134.5l.5-137.1v129.9l.5-124v123.2l.5-139.5v167.1l.5-171.4v146.9l.5-144.1v157.4l.5-153.4v152.6l.5-169.1v169.4l.5-162v150.7l.5-142.3v136.3l.5-123.3v136.7l.5-135.1v132l.5-123.8v137.9l.5-153.9v146.4l.5-143.7v140.9l.5-147.3v138.6l.5-126.7v152.2l.5-173.6v153.7l.5-123.5v118.1l.5-130.7v115.2l.5-128.3v137.5l.5-137.2v136.5l.5-123.3v129.5l.5-122.8v114.3l.5-112v146.4l.5-182.2v159.6l.5-125.4v141.2l.5-145.8v138l.5-144.6v122l.5-104v133.7l.5-174.5v150.8l.5-143.8v155.1l.5-145.6v128.6l.5-102.6v115.8l.5-125.8v118.4l.5-109v106.8l.5-132.5v128.3l.5-128.6v130.9l.5-112.4v138.4l.5-144.5v118.8l.5-112v106.3l.5-106.7v109.7l.5-112.4v121.1l.5-113.1v115.8l.5-119.2v122.6l.5-116.7v99.6l.5-95.9v97.9l.5-126.4v133l.5-106.4v128.8l.5-134.9v111.8l.5-112.5v102.1l.5-121.9v133.7l.5-106.7v98.8l.5-114.2v113.7l.5-105.2v105l.5-126.1v121.5l.5-105.1v117.6l.5-138.9v138.5l.5-108.5v101.5l.5-100v99l.5-98.3v99.4l.5-93.7v113.9l.5-140v130.1l.5-109.5v104l.5-99.8v90.1l.5-94.4v119l.5-120.3v101.7l.5-117.9v112.9l.5-95.9v95.4l.5-109.4v118.5l.5-104.6v94l.5-96.1v92.5l.5-94.9v117.6l.5-108.5v98.7l.5-93.2v77.6l.5-92.6v106.7l.5-111.2v100.9l.5-98.8v126.8l.5-142.9v123.3l.5-95v92.7l.5-98.6v100.7l.5-94.5v99.7l.5-123.9v115l.5-94.6v91.9l.5-96.3v98.5l.5-113.3v112l.5-89.1v95.1l.5-111.3v127.6l.5-114.2v96.8l.5-88.6v88.5l.5-100.9v99.4l.5-108.7v118.9l.5-111.4v101.1l.5-102.3v118l.5-128.3v120.1l.5-102v89.8l.5-99.5v92.4l.5-86.5v111.3l.5-111.1v103.5l.5-106.9v97l.5-90.7v114.5l.5-121.1v105.3l.5-107.8v105.7l.5-89.3v88.2l.5-89.8v95.5l.5-107.3v101.1l.5-99.3v96.4l.5-86.2v116.3l.5-123.1v97l.5-95.1v90.9l.5-118v126.8l.5-102.6v96.3l.5-111.3v121.8l.5-105.5v102.6l.5-131v153.1l.5-131.6v109.3l.5-114.1v137.2l.5-142.4v111.6l.5-113.4v124.1l.5-105.7v92.3l.5-107.6v126.2l.5-143.6v129.1l.5-106.6v117.1l.5-104.1v98.1l.5-114.2v112.3l.5-107.6v116.3l.5-121.5v121.9l.5-112.6v106.6l.5-118v115.9l.5-103.7v117.1l.5-146.8v132l.5-100.7v104.2l.5-117v111.6l.5-101.6v115.2l.5-109.4v109l.5-115.4v102.2l.5-102.5v111.9l.5-140.4v136.7l.5-106.8v105.4l.5-127.9v128.7l.5-113.3v112.8l.5-116.4v138.1l.5-126v109.9l.5-123v112l.5-100.7v109.3l.5-114.8v125.7l.5-135.2v114l.5-100.6v118.9l.5-126.9v137.8l.5-132.1v120.4l.5-115.1v113l.5-131.7v131.1l.5-138.7v140.8l.5-142.3v140.2l.5-108.3v104.7l.5-106.6v112.3l.5-116.1v132.3l.5-138.1v126.5l.5-118.9v111.6l.5-127.5v125l.5-119.6v164.4l.5-158.1v128.4l.5-130.2v109.8l.5-106.5v138.8l.5-151.1v129.9l.5-123.6v117.1l.5-114.4v132.4l.5-134.3v135.5l.5-125.4v120.6l.5-154.8v146.4l.5-119.4v153.7l.5-172v141.7l.5-122.2v119.4l.5-135.8v156.6l.5-149v126.4l.5-126.1v122.9l.5-123.1v138.5l.5-163.8v139.9l.5-112.9v126.5l.5-131.5v125.3l.5-137.1v141.2l.5-119v121l.5-130.8v124.8l.5-124.9v132.3l.5-122.3v133l.5-142.2v133.8l.5-143.2v134.4l.5-119.6v120.9l.5-150.8v148.7l.5-125.4v128.1l.5-118.7v126.6l.5-140.9v131.8l.5-136.5v144.7l.5-123.2v113.1l.5-117.1v125.4l.5-122.6v127.6l.5-155.2v139.3l.5-119.2v127.6l.5-117.2v124.6l.5-140.4v138l.5-144.3v128.4l.5-121.7v151.2l.5-166.8v144.2l.5-116.8v121.3l.5-153.1v167.4l.5-155v143.1l.5-146.4v154.7l.5-127.9v131.9l.5-154.8v139.2l.5-111.5v131.6l.5-145.1v130.3l.5-120.2v109.9l.5-125.7v130.8l.5-128.7v130.9l.5-118.4v140.8l.5-172.2v175.7l.5-155.5v140.2l.5-149.9v133.3l.5-107.5v113.7l.5-113.8v119l.5-140.8v131l.5-110.2v104.2l.5-132v134.8l.5-125.8v139.7l.5-151.5v141.6l.5-113.1v112.6l.5-110.5v100.8l.5-127.6v130.3l.5-118.9v113.1l.5-99.7v101.7l.5-118.3v117.4l.5-122.3v133.2l.5-115.3v122.4l.5-111v96.5l.5-100.3v98.2l.5-114.4v111.2l.5-95.8v96.6l.5-101.7v130.7l.5-125.5v99.6l.5-106.2v115.2l.5-105.2v89.1l.5-103.1v115.4l.5-99.9v87.6l.5-114.4v130.2l.5-112.3v102.4l.5-114.2v110.3l.5-117.3v122.2l.5-111.2v104.7l.5-113.4v115.3l.5-94.6v99.3l.5-112.7v111.6l.5-116.4v128.9l.5-116.1v97.3l.5-93.8v96.2l.5-105.2v100l.5-85.7v99.5l.5-112.6v94.9l.5-103.7v122.9l.5-117.4v104.2l.5-118.6v116.4l.5-89.1v90.1l.5-86.7v95.7l.5-102.2v97.5l.5-105.6v107.9l.5-137.4v149.4l.5-112v93.7l.5-110.7v119.9l.5-115v108.3l.5-104.7v103.8l.5-94.6v95l.5-109.8v118.5l.5-98.1v86.4l.5-89.6v100.7l.5-123.5v126.1l.5-106.8v103.8l.5-110.5v107.9l.5-110.4v106.8l.5-105.8v105l.5-105v106.3l.5-113.1v120.2l.5-111.8v131.7l.5-146.3v120.1l.5-113.9v135.4l.5-126.3v109.7l.5-110.7v113.6l.5-116.1v112.5l.5-130.8v131.8l.5-127.7v132.5l.5-134.3v144.5l.5-121v103.6l.5-147.7v164.2l.5-136.4v138.9l.5-127.8v113.4l.5-114.1v119.5l.5-119.5v120l.5-130.3v141l.5-143.1v131.1l.5-116.8v107.3l.5-106v137.7l.5-156.1v149.8l.5-173.1v158.5l.5-158.9v161.7l.5-140.1v134.5l.5-131.3v129.4l.5-112.9v114.7l.5-119.1v127.9l.5-153.1v149l.5-118.9v117.3l.5-133.3v131.7l.5-109.8v117l.5-130.7v140.6l.5-145.1v130.1l.5-121.3v135l.5-127.4v117l.5-130.6v155.4l.5-141.8v116.1l.5-116.2v121.5l.5-123.5v114.3l.5-116.6v150.3l.5-184.7v161.1l.5-140.2v149.8l.5-166.8v157.1l.5-135.8v128l.5-112.4v152.6l.5-166.1v130.2l.5-125.4v121l.5-121.6v119.9l.5-147.4v175.4l.5-158.3v139.8l.5-157v178.9l.5-165.4v147.2l.5-133.6v118l.5-123.8v151.7l.5-139.2v111.7l.5-120.4v133.6l.5-136.5v126.2l.5-122.6v115l.5-116.5v121.4l.5-112.1v107.8l.5-107.5v120.7l.5-134.1v131.9l.5-153.7v156.9l.5-116.5v104.9l.5-108.7v116.4l.5-124.8v139.4l.5-149.7v125.5l.5-119.1v115.7l.5-96.2v94.5l.5-113v114.7l.5-106.3v117.4l.5-109.3v100.7l.5-113.6v140.1l.5-145.6v136.6l.5-124.3v126.8l.5-160.4v136l.5-111.3v145.6l.5-132.8v111.3l.5-115.1v128.2l.5-129.1v110.2l.5-109.2v108.5l.5-113.5v107.2l.5-118.7v125l.5-110.3v106.6l.5-116.4v144.8l.5-154.4v145.3l.5-126.7v102.7l.5-115v123l.5-125.2v124.2l.5-106.3v104.4l.5-109.6v101.6l.5-106.6v119.9l.5-107.4v108.5l.5-109v95.1l.5-112.7v146.6l.5-143.4v109.2l.5-112.7v119l.5-115.4v119.3l.5-116.9v114.9l.5-99.4v90.2l.5-93.1v99.9l.5-124.5v122.5l.5-97.7v94.6l.5-97.8v95.2l.5-87.1v116.3l.5-146.7v112.9l.5-89.1v100.9l.5-99.2v94.8l.5-92.2v98.7l.5-105.4v101.7l.5-100.5v93.5l.5-84.1v93.6l.5-97.9v94.3l.5-91.7v84.3l.5-86.9v96.3l.5-107.9v125.8l.5-118.5v90.2l.5-88.9v100.7l.5-97.6v97.4l.5-101.4v90.4l.5-93.4v98.9l.5-93.3v91.6l.5-96.5v104.2l.5-93.1v97.8l.5-98.5v92.9l.5-96.1v82.3l.5-90.6v115l.5-106.1v105l.5-103.8v120l.5-133.4v115.8l.5-126v114.4l.5-117.1v116.8l.5-104.4v109.8l.5-119.5v124.8l.5-116.5v103.9l.5-98.5v100.2l.5-91.2v109.9l.5-125.3v113.2l.5-131v144.4l.5-127.1v114l.5-114.1v117.9l.5-122.7v153.4l.5-142.4v131.4l.5-132.6v127.2l.5-121.1v112.3l.5-116v152.4l.5-154v104.5l.5-103.8v113.4l.5-113.5v142.2l.5-153v122.3l.5-127.7v127.6l.5-116v111l.5-111.8v120.9l.5-121.6v118.3l.5-120.1v143.7l.5-164.6v156.2l.5-148.9v126.5l.5-126.6v156.1l.5-134.7v145.1l.5-149.5v121l.5-111.8v137.3l.5-173.8v143.3l.5-139.7v181.6l.5-160.2v115.6l.5-138.2v146.4l.5-123.1v161l.5-162.9v145.4l.5-146.2v140.3l.5-134.5v115.7l.5-133.8v138.6l.5-125.8v121.3l.5-120.7v150.4l.5-158.6v142.1l.5-141.1v136.7l.5-137.6v140l.5-145.2v138.7l.5-122.7v118.6l.5-129.7v170.9l.5-154v113.8l.5-128.6v138.2l.5-134.9v145.8l.5-159.1v166.6l.5-147v127.8l.5-140.2v140.2l.5-136.9v158.5l.5-164.9v142.1l.5-125v130.8l.5-133.7v137l.5-150.3v136.4l.5-127.8v123.5l.5-134.7v140.6l.5-135.7v138.1l.5-137.7v167.4l.5-170.6v144.7l.5-129.7v121.8l.5-131.3v140.6l.5-127.9v116.3l.5-116v119.5l.5-125.8v138.2l.5-130.4v120.7l.5-128.8v123.4l.5-113.2v126.1l.5-130v117l.5-111.1v103.3l.5-110.5v118.2l.5-119.2v140l.5-158.7v148.4l.5-126.2v124.2l.5-134.8v138.5l.5-146v126.4l.5-100.3v128.6l.5-147.1v121.3l.5-104.9v103.3l.5-114.3v113.2l.5-103.9v149.3l.5-167.6v143.6l.5-126.3v114.9l.5-121.3v118.3l.5-126.9v123.9l.5-119.9v147.8l.5-137.8v123.2l.5-121.8v112.7l.5-116.3v110.8l.5-108.7v125.9l.5-116.8v116.7l.5-135.6v122l.5-108.3v141l.5-136.7v101l.5-103.4v126.5l.5-130v104.2l.5-111v121.2l.5-139.2v121.7l.5-92v100.2l.5-104.3v97.9l.5-86v88.4l.5-97.5v108.9l.5-107v103.9l.5-118.5v135.6l.5-119.4v93.1l.5-93.2v112.5l.5-110.8v97.8l.5-106.3v100.6l.5-81.8v77.8l.5-91.7v91.4l.5-88.4v101.5l.5-129.2v143.3l.5-111.5v101.1l.5-104v88.7l.5-88.6v102.5l.5-102.2v90.8l.5-98.9v108.7l.5-105.9v99.2l.5-101.3v90.1l.5-91.1v104.9l.5-105.2v97.8l.5-92.6v102.6l.5-126.3v120l.5-102.2v111.3l.5-107.1v92.1l.5-91.8v97.4l.5-101.7v94.4l.5-90.7v93.5l.5-96.8v102.9l.5-102v93.6l.5-95.5v109.9l.5-106.2v121.4l.5-125.8v100.6l.5-99.4v102.3l.5-110.5v108.1l.5-93.6v101.5l.5-107.7v95.1l.5-93.7v105.3l.5-101v92.7l.5-124.3v142.7l.5-119.9v96.8l.5-105.6v132l.5-116.8v86.9l.5-111.6v118.4l.5-97v95.4l.5-97.9v97.9l.5-98.9v123.8l.5-124.8v106.6l.5-107.9v103.6l.5-100.8v101.1l.5-105.2v99.6l.5-101.5v102.3l.5-96.7v99.3l.5-114.2v108.8l.5-109.1v125.8l.5-106.5v94.6l.5-112.1v108.9l.5-95.8v95.8l.5-105v115.5l.5-105.6v93.3l.5-105v127l.5-128.9v109l.5-103.8v100.2l.5-98.3v113.8l.5-113.9v107.9l.5-115.7v106.4l.5-95.1v108.1l.5-111.1v97.1l.5-110.4v115.7l.5-99.4v101.4l.5-108.2v102.5l.5-95.7v93.7l.5-90.1v104.8l.5-101.7v93.7l.5-94.7v105.8l.5-130.4v120.6l.5-102.1v101.1l.5-103.6v103.5l.5-104.6v103l.5-98.6v101l.5-105.6v105.1l.5-123v113.2l.5-94.3v97.2l.5-94.7v123.4l.5-160.1v153.1l.5-142.1v131.2l.5-104.5v126l.5-134.2v101.5l.5-115.1v124.6l.5-106.3v100.6l.5-92.3v97.7l.5-104.1v101.8l.5-107.6v123.2l.5-122.3v117.4l.5-117.2v138.4l.5-155.5v134.3l.5-121v117.7l.5-127.7v132.7l.5-115.1v100.8l.5-143v151l.5-110v109.7l.5-134.9v130.6l.5-108.4v127l.5-134.1v121l.5-136.4v141.7l.5-124.7v118.3l.5-115.5v115.4l.5-120.7v118.8l.5-109.2v125.9l.5-133.3v124.3l.5-122.9v139.2l.5-150v152.1l.5-146.3v115.7l.5-110.2v134.1l.5-138.4v137.1l.5-138.9v120.9l.5-146.8v149.2l.5-148.7v149.4l.5-111.2v139.3l.5-136.5v112.4l.5-132.7v128.3l.5-117.2v141.1l.5-125.6v98.2l.5-107.9v144.9l.5-143.9v127.5l.5-132v122.8l.5-137.6v138.8l.5-121.7v125.6l.5-138.8v128.9l.5-113v148.6l.5-175.7v140.1l.5-109.8v116.1l.5-126.6v118l.5-114.1v123.8l.5-116.5v126.5l.5-137.6v114.4l.5-119.6v125.7l.5-119v134.1l.5-148.9v134.9l.5-107.8v140.8l.5-151.3v129.1l.5-122.8v121.9l.5-108.4v135l.5-156.7v150.1l.5-136.7v106.6l.5-105.8v112.4l.5-128.1v156.3l.5-147.2v141.6l.5-135.1v120l.5-124.2v116.7l.5-116v111.5l.5-101.6v113l.5-115.5v105.3l.5-111v104.4l.5-106v113.6l.5-106.8v105l.5-105.3v103.8l.5-126.3v122.8l.5-125.2v135.1l.5-112.9v133.3l.5-130.6v114.7l.5-143.9v130.3l.5-101.9v99.3l.5-120.2v121.9l.5-105.7v104.2l.5-95.4v105.5l.5-132v121.2l.5-98v113.4l.5-111.8v124.2l.5-138.2v115.4l.5-114v106.1l.5-94.2v126.7l.5-117v111.3l.5-116v103.9l.5-108.6v95.4l.5-99.9v131l.5-122.6v131l.5-135.8v107.8l.5-110.3v123.3l.5-125.1v102.9l.5-119.2v140l.5-121.2v106.3l.5-102.6v113.6l.5-117.7v101.5l.5-95.8v96.8l.5-122.6v141.8l.5-139.4v130.7l.5-123v103.9l.5-98.7v118.7l.5-117.7v108.2l.5-96.5v89.5l.5-87.2v88.7l.5-108.9v127.5l.5-115.9v98.8l.5-94.5v95.4l.5-112.2v114.1l.5-114.6v116l.5-101.5v122.4l.5-132.9v121.4l.5-118.7v115l.5-115.5v107.2l.5-118.9v132l.5-119.5v118.9l.5-110v97.6l.5-96.2v88l.5-96.8v106.9l.5-105.6v116.2l.5-120.1v127.4l.5-123.3v107.4l.5-100.7v125l.5-137.9v116.2l.5-106.5v104.9l.5-131.1v137.3l.5-114.5v98l.5-96.1v104.7l.5-121.1v119.3l.5-102.6v105.6l.5-121.5v146.4l.5-131.1v104.8l.5-100.9v110.4l.5-114.7v121.2l.5-125.9v107.6l.5-105.3v99.8l.5-95.1v91.1l.5-96.6v107.7l.5-100.6v114.7l.5-123v114.6l.5-109.7v107l.5-112.7v140.9l.5-132.5v138.8l.5-168.2v131.5l.5-108.7v130.1l.5-148.6v147.8l.5-121v105.8l.5-132.7v131.6l.5-129.6v147.1l.5-131v108.5l.5-128.6v141.8l.5-127.7v116.1l.5-142.3v148.6l.5-135.8v160.2l.5-160.4v138.5l.5-135.1v129.7l.5-107.9v110.3l.5-140.6v147.7l.5-159.6v158.7l.5-144.1v135.4l.5-123.8v112.8l.5-115.5v145.7l.5-167.2v148.4l.5-132.3v143.3l.5-154.1v130.7l.5-106.5v116.1l.5-124.3v140l.5-137.4v129.8l.5-135.2v113.5l.5-139.4v152.4l.5-120v160.3l.5-168.2v127.9l.5-113.6v115.5l.5-116v117.6l.5-157.3v154.4l.5-113.9v111.6l.5-129.6v141.3l.5-134.8v161.1l.5-154.7v120.7l.5-132.4v154.7l.5-134.9v119.9l.5-156v153l.5-126.1v146.5l.5-182.2v148.1l.5-117.8v124.4l.5-121v135.9l.5-130.4v140.7l.5-159.8v128.8l.5-108v112.9l.5-113.8v118.4l.5-133.5v131l.5-116.1v108.7l.5-111.2v121.2l.5-121.9v113.2l.5-123.4v155.3l.5-145.9v117.4l.5-140.8v152.7l.5-156.9v146.3l.5-123.7v139.1l.5-141.9v132.6l.5-126.2v127.9l.5-123.7v114.8l.5-124.8v133.2l.5-127.8v121.4l.5-116.2v113.7l.5-135.2v131l.5-121.2v148.3l.5-137.1v113.9l.5-109.9v99.3l.5-99.7v109.9l.5-123.8v119.9l.5-98.3v128l.5-133.3v104.5l.5-103.8v119.1l.5-121.4v134.9l.5-131v101.8l.5-106.9v110.8l.5-119.2v131.5l.5-133.5v109.4l.5-116.7v142.9l.5-144.1v125l.5-113.4v119.2l.5-119.5v133.5l.5-143.9v128.9l.5-119.3v117.3l.5-127.8v125.8l.5-130.3v125.4l.5-101.4v130.6l.5-133.1v112l.5-111.8v134.8l.5-150.6v122.6l.5-122v122.2l.5-97.8v106.6l.5-120.5v115.5l.5-122.7v136.8l.5-132.1v113.1l.5-114.1v128.9l.5-112v100.5l.5-106.8v115.4l.5-143.8v134.1l.5-124.7v123.6l.5-116.7v108.2l.5-104.4v123.3l.5-118.8v113.7l.5-101.6v96.7l.5-129.1v139.1l.5-113.3v99.7l.5-98.6v101.2l.5-117.6v113.1l.5-103.9v110.1l.5-132.2v151.6l.5-136v120.1l.5-104.6v96.6l.5-125.9v125.2l.5-97v109.3l.5-141.4v127.3l.5-100.3v101.2l.5-101.5v105.4l.5-109.3v115.6l.5-115.6v105l.5-90.5v115.6l.5-118.5v123.4l.5-128.5v108.9l.5-109v98.1l.5-107v105.2l.5-98.2v118.3l.5-108v90.2l.5-101.6v102l.5-100.5v115l.5-128.4v121l.5-125.2v127.4l.5-110.1v107l.5-132.2v121.3l.5-96v104.6l.5-124v118l.5-127.9v131.5l.5-109.2v109.1l.5-95.8v109.2l.5-111.6v97.2l.5-104.8v122.4l.5-124.7v117.2l.5-111.7v97.3l.5-98v101.5l.5-94.5v92l.5-99.3v115.1l.5-114.1v104.8l.5-113v107.2l.5-108.7v113.5l.5-119.2v115l.5-127.9v122.9l.5-98.4v103.8l.5-97.9v97.5l.5-129.3v128.7l.5-119.6v135.9l.5-109.7v100.3l.5-114.5v114.3l.5-115.5v118.8l.5-150.2v147.7l.5-143.5v145l.5-119.7v112.1l.5-111.3v136.8l.5-120.5v114.4l.5-145v124.9l.5-123.4v122.8l.5-112.9v128.5l.5-116v133.3l.5-164.1v142.8l.5-112.3v127.1l.5-128.8v112.3l.5-119.9v109l.5-105.8v114.2l.5-112.7v114.9l.5-125.4v117.1l.5-106.9v112.8l.5-107v104.9l.5-111.2v108.1l.5-99.9v105.4l.5-101v102.9l.5-111.2v106.1l.5-117.6v124.4l.5-114.1v141.3l.5-152.1v125.5l.5-127.8v130.1l.5-123.7v127.6l.5-127.7v124.9l.5-129.2v122.7l.5-127.3v136.3l.5-160.1v147.6l.5-114.9v118.5l.5-113.1v119.6l.5-114.1v114l.5-148.3v146.7l.5-129.3v120.9l.5-113.6v122.7l.5-126.2v133l.5-142v137.3l.5-147.7v158.9l.5-134.8v116.2l.5-119.7v138.2l.5-128.4v108.4l.5-114.6v111.1l.5-109.2v126l.5-158.8v150.4l.5-121.8v133.3l.5-168.9v156.8l.5-124.3v124.4l.5-110.7v118.7l.5-110.6v99.7l.5-103.5v110.9l.5-114.6v106.7l.5-108.1v108.5l.5-116.7v129.6l.5-159.8v195l.5-162.8v115.9l.5-106.9v117.8l.5-142.4v145.7l.5-130.7v122l.5-113v115.7l.5-150.1v144.4l.5-114.6v133.3l.5-119.9v107.6l.5-120.8v150.9l.5-145v129.5l.5-131.5v131.9l.5-137.2v122.8l.5-124.8v153.7l.5-148.5v105.4l.5-100v149.6l.5-149.1v109.4l.5-121.9v122.2l.5-120.6v134.9l.5-140.9v121.6l.5-101.9v104.3l.5-104v107.2l.5-108v144.9l.5-147.8v117.2l.5-125.4v135.6l.5-125.8v118.1l.5-111.1v93.3l.5-106.3v114.4l.5-107.8v108.8l.5-122.5v131.6l.5-120.3v98.5l.5-106.8v153.4l.5-140v116.3l.5-121.4v115.8l.5-117.9v117.6l.5-107v114.6l.5-132.5v115.4l.5-99.2v134l.5-131.3v104.6l.5-110.7v111.7l.5-113.6v128.9l.5-123.6v108.6l.5-100.1v108.4l.5-115.4v120.9l.5-122.8v134.5l.5-137.9v114.6l.5-128.3v127.1l.5-111.4v123.1l.5-143.6v163.5l.5-138.2v117.1l.5-114v117.8l.5-124.8v132.8l.5-129.5v124.9l.5-128.3v99l.5-98.8v120.3l.5-124.9v138.3l.5-132v111.2l.5-121v144.2l.5-153.6v124.1l.5-114.6v110l.5-109.6v111l.5-115.6v114.4l.5-129.1v123.5l.5-105.4v106.7l.5-101.3v125.8l.5-128.5v106l.5-100.5v117.9l.5-123v106.6l.5-117.3v112.6l.5-100v102.6l.5-121.5v123.8l.5-113.5v116l.5-118.5v121.6l.5-107.7v110.1l.5-129.4v139.8l.5-130.3v125.7l.5-127v112.4l.5-98.1v91.4l.5-96.4v128.7l.5-128.4v95.8l.5-96.9v108.3l.5-108.3v101.3l.5-109.6v111.2l.5-140.3v167.4l.5-123.8v112.9l.5-118.5v105.2l.5-111v114.1l.5-114.2v113.4l.5-113.5v105.7l.5-105.4v116.4l.5-109v118l.5-117.9v108.8l.5-137.7v148.8l.5-132.2v104.4l.5-97.7v99.6l.5-96.3v115.8l.5-119.4v105.6l.5-99.2v100.6l.5-101.7v96l.5-126.1v122.5l.5-115.9v149.8l.5-161v131.1l.5-101.7v105.8l.5-101.4v98.5l.5-100.9v93.3l.5-92.5v100.9l.5-114v106.7l.5-99.1v131.1l.5-120.1v104.9l.5-113.6v106l.5-127.1v127.8l.5-101v112.3l.5-124.7v131.5l.5-133v107.8l.5-130.1v134.8l.5-109.1v110.1l.5-111.9v117.4l.5-112.4v117.2l.5-134.3v144.6l.5-124.6v127.6l.5-126.2v101.9l.5-117.6v149.1l.5-136.3v104.7l.5-104.8v124.1l.5-138.6v120.8l.5-118.3v123.5l.5-122.5v118l.5-109.3v125.2l.5-125.8v112.9l.5-118.3v130.7l.5-146.2v134.8l.5-120.2v121.4l.5-109v107.2l.5-120.5v145.2l.5-149.8v139.6l.5-126.1v156.5l.5-165.9v121.2l.5-121.9v121.2l.5-115.9v116.7l.5-123.4v130.9l.5-129.3v142.9l.5-141.4v144l.5-142.8v153.3l.5-152.9v143.1l.5-147.7v132.4l.5-134v124.7l.5-114.5v130.2l.5-127.9v120.7l.5-122.2v122.5l.5-142.4v143.2l.5-154.9v158.7l.5-169.5v198.5l.5-159.3v134.6l.5-128v131.2l.5-146.2v166.3l.5-169.8v128.2l.5-111.5v147.6l.5-154.5v159.7l.5-169.7v154.1l.5-162.7v163.9l.5-141.3v126.1l.5-133.4v150.3l.5-162.4v177.2l.5-173v155.4l.5-147.8v161.9l.5-162.6v161.7l.5-174.4v165l.5-148v122.6l.5-128.1v149.3l.5-136.5v129l.5-130.7v128.7l.5-133.5v130.4l.5-145.9v165.2l.5-163.8v166.5l.5-165.5v144.6l.5-131.7v154l.5-161.3v141.2l.5-134.2v154.4l.5-160.3v149.1l.5-150.8v157.9l.5-152.7v129.1l.5-141.9v146.6l.5-131.2v133.8l.5-129.9v134l.5-147.2v174.3l.5-159.4v128.7l.5-137.6v131.3l.5-112.7v122.5l.5-128.4v132.6l.5-134v141.4l.5-149.9v121.4l.5-125.7v147l.5-131.4v114.8l.5-120.5v129.1l.5-123.6v149.4l.5-152.4v129.4l.5-131.5v159.2l.5-148.2v103.8l.5-100.5v100.7l.5-110.1v120.4l.5-114.5v113.4l.5-123.7v124.7l.5-125.5v135.6l.5-131.3v113.2l.5-116.6v119.8l.5-118.5v108.1" stroke="#000" stroke-width="1.0"/>
<path d="M1004.9 1312v78.4l.5-81.3v91.8l.5-84.5v82.4l.5-75.2v67.3l.5-72v66l.5-64.3v61.1l.5-80.7v90.2l.5-72.5v61.8l.5-68.2v72.7l.5-70.4v70.3l.5-59.3v57.2l.5-62.6v58.9l.5-55.2v48.8l.5-52.4v58.8l.5-49.8v53.2l.5-57.1v53.9l.5-62.6v62.3l.5-57.4v51.5l.5-47.2v46.6l.5-58.2v70.4l.5-55.1v48.6l.5-66.8v60l.5-51.9v54.6l.5-46.2v46.8l.5-49.1v50.5l.5-54v59.9l.5-51.6v58.6l.5-68.7v56.2l.5-57.3v69.9l.5-78.1v61.5l.5-45.1v47l.5-50.6v53.5l.5-49.4v56.5l.5-64.7v53.7l.5-46.6v47.6l.5-53.3v53.3l.5-50.3v53.8l.5-49.3v54.1l.5-50.8v40.4l.5-50.6v56.7l.5-50.5v47.5l.5-47.8v42.7l.5-44.8v58l.5-56.7v46.9l.5-45v50.3l.5-58.5v61.1l.5-53.8v43.4l.5-54v57.1l.5-51.4v55.4l.5-52.9v48.9l.5-45.7v49.5l.5-50.7v55.4l.5-64.8v64.6l.5-63.1v58.1l.5-51.7v47.7l.5-50.2v49.3l.5-60.8v66.1l.5-54.6v52.4l.5-47.5v56.4l.5-56.5v47.3l.5-52.6v48.9l.5-48.9v47.8l.5-40.2v48.2l.5-51.7v56.9l.5-52.2v42.8l.5-43.4v46.6l.5-69.6v70.2l.5-52.5v65.2l.5-63.4v44.3l.5-46.7v57.1l.5-57.3v62.2l.5-57.1v41.7l.5-45.8v47.3l.5-45.4v45.7l.5-46.2v51.7l.5-49.3v48.6l.5-51.6v48l.5-51.7v53.1l.5-66.9v64l.5-45.5v49.1l.5-53.4v55.5l.5-50.6v48l.5-43.4v42l.5-46.8v45.8l.5-48.4v50.5l.5-49v47.1l.5-46.6v47.9l.5-47.9v50l.5-48.5v51.4l.5-49.1v42l.5-45.6v62.3l.5-62.3v44.5l.5-45v52.7l.5-61.2v54l.5-47v55.9l.5-65.7v62.9l.5-68.3v60.7l.5-39.7v44.8l.5-54.3v67.3l.5-61.5v55.2l.5-65v56l.5-47.7v63.1l.5-60.1v44.6l.5-47.2v48.6l.5-45.2v43.9l.5-56v57.3l.5-49v50.9l.5-49.6v45.3l.5-58.3v59.2l.5-41.1v46.9l.5-52.7v49.9l.5-56.3v56.1l.5-49.7v53.2l.5-48.3v43.5l.5-47.8v62.3l.5-62.5v50.2l.5-50.2v45.6l.5-50.4v49.8l.5-43v47.4l.5-50.2v52.9l.5-55.1v44.9l.5-44.6v61.1l.5-57v43.3l.5-43.1v43.9l.5-57.5v58.7l.5-44.9v53.5l.5-55v48.6l.5-63.6v70.8l.5-54.5v44.3l.5-43.3v53.7l.5-60.8v53.3l.5-48.3v49.5l.5-44.6v54.6l.5-58.8v48.5l.5-63.5v67l.5-69.3v74.3l.5-60.1v61.5l.5-61.5v66.8l.5-62.3v51.8l.5-54.3v51.7l.5-47.3v51l.5-55.2v67.6l.5-73v59.4l.5-65.6v64.1l.5-49v48.8l.5-57.6v77l.5-73.2v63.5l.5-67.2v74.6l.5-78.1v72.3l.5-63.2v46.9l.5-47.3v48.1l.5-42.1v49.9l.5-59.8v58.2l.5-52.9v48.1l.5-52v57.4l.5-54v56.9l.5-74.2v86.1l.5-84.4v69.1l.5-55.3v58.7l.5-58.6v54.9l.5-53.1v65.9l.5-69.4v54.8l.5-51.2v48.8l.5-50v56.9l.5-66v54.4l.5-49.2v61l.5-61.3v74.1l.5-68.9v47.2l.5-54.9v67.5l.5-61.5v72.2l.5-74.2v68l.5-62.2v49.1l.5-57.9v54.3l.5-50.3v53.4l.5-49v46.4l.5-53.6v59.8l.5-53.5v47.5l.5-46.4v48.3l.5-50.5v48.6l.5-57.6v53.2l.5-44.7v48.1l.5-49.2v53.3l.5-54.1v48.6l.5-48.5v48.6l.5-48.8v50.6l.5-48.5v53.2l.5-49.5v41.9l.5-45v51.7l.5-63.9v73l.5-62.9v47.3l.5-53.2v49.1l.5-54.8v75.1l.5-66.5v49.7l.5-57.4v56.7l.5-43.8v41.9l.5-56.5v64.3l.5-51v54.9l.5-54v45.1l.5-55v60.7l.5-49.3v48.5l.5-51.7v45.4l.5-49.1v47.7l.5-42.3v61.4l.5-60.3v54.8l.5-60.2v52.3l.5-44.6v41l.5-46.4v44.9l.5-41.3v47.3l.5-50.9v47.4l.5-49.2v60.1l.5-55.1v48.4l.5-54.3v51l.5-45.8v46.5l.5-57.7v61.6l.5-55v66l.5-62.5v48.5l.5-46.7v45.9l.5-49.4v50.5l.5-51.5v48.8l.5-54.9v54.4l.5-46.8v47.8l.5-50.1v49l.5-45.6v53.4l.5-53.6v51.7l.5-68.9v71.3l.5-66.1v61l.5-52v52l.5-54.3v52.6l.5-53.6v52.2l.5-53.6v50l.5-39.9v54.2l.5-70.1v64.8l.5-52v55.2l.5-52.5v47.2l.5-51v47.4l.5-44.4v44.8l.5-48.7v51.6l.5-49.2v42.8l.5-44.2v55.3l.5-59.2v62.8l.5-59.3v60.6l.5-72.6v79l.5-72.7v53.7l.5-55.1v52.8l.5-43.8v59.1l.5-59.6v45.5l.5-45.4v44.5l.5-44v52.8l.5-55.3v49.8l.5-45.7v49.8l.5-57.5v52.8l.5-47v48.3l.5-48v44l.5-44.4v46.4l.5-45.9v48.8l.5-49.9v52.4l.5-52.5v49.7l.5-47.1v54.3l.5-57.7v51.2l.5-49.1v43l.5-43.6v66.5l.5-67.5v47.7l.5-61.6v61.3l.5-51.3v47.3l.5-41.3v48l.5-47.7v51.4l.5-52v41l.5-44.4v49.7l.5-46.9v46.4l.5-47.2v63.5l.5-62.6v44.5l.5-45.2v45.8l.5-53.1v74.4l.5-66.7v46.5l.5-64.1v61.6l.5-44.4v48.5l.5-69.9v65.1l.5-57.4v56.3l.5-42.1v46.2l.5-47.6v57.7l.5-62.4v69.4l.5-68.5v57.5l.5-60.7v63l.5-60.2v64.1l.5-62.3v53.4l.5-53.1v50.6l.5-56.6v67.5l.5-77.4v66l.5-56.3v57.7l.5-50.5v53.1l.5-54.5v62.2l.5-71.7v62.5l.5-62.7v74.7l.5-65.5v50.9l.5-56.8v63.7l.5-59v57l.5-55.1v57.9l.5-60.9v56.4l.5-55.7v56.2l.5-58.6v86.3l.5-98.8v77.3l.5-65.3v73.7l.5-83.5v85.5l.5-75.5v90.6l.5-91.2v72.3l.5-73.1v73.4l.5-87v107.8l.5-101.2v101.4l.5-99.2v74.2l.5-66.3v69.7l.5-85v88.1l.5-78.8v91.6l.5-88.4v98.4l.5-99.5v73.1l.5-94.8v94.6l.5-71.8v91l.5-83.5v66.7l.5-74.3v64.6l.5-58.4v64.5l.5-65.4v67.8l.5-77.2v77.5l.5-70.4v61.2l.5-57.9v57.1l.5-62.9v64.6l.5-80.1v81.4l.5-65.2v74.8l.5-93.7v80.4l.5-73.2v91.5l.5-75.6v56.6l.5-62.8v69.4l.5-63.1v59.1l.5-58.2v52.6l.5-63v63.4l.5-55.4v67.7l.5-63.7v52.1l.5-53.6v52.4l.5-52.6v53.2l.5-57v61l.5-55.6v50.4l.5-50.3v57.3l.5-56.2v44.4l.5-44.7v48l.5-55.3v62.1l.5-63.8v58.5l.5-69.6v81.5l.5-74.4v64.2l.5-59.4v58.6l.5-60.1v59.7l.5-61.8v63.8l.5-58v60.9l.5-54.4v49.3l.5-59.2v56.3l.5-62.6v67.8l.5-57v67.5l.5-69.8v58.2l.5-49.9v49.8l.5-57.7v62.5l.5-57.9v57.5l.5-53.2v45.6l.5-51.6v50.8l.5-42.7v44.6l.5-49.2v46.3l.5-44.6v57l.5-60.6v56.7l.5-72.4v68.8l.5-51.5v48.2l.5-55v73l.5-70.7v61.6l.5-64.7v56l.5-50.3v50.1l.5-48.8v50.8l.5-54.8v55l.5-53.1v52.3l.5-44.3v42.2l.5-45.7v43.8l.5-45.5v65.5l.5-77.1v64.9l.5-53.4v51.7l.5-71.4v72.4l.5-53.9v52.6l.5-53.8v56.7l.5-53.4v56.2l.5-55.9v51.1l.5-66.1v63.9l.5-50.8v50.4l.5-52.5v64.8l.5-61.8v49.2l.5-47.5v47.9l.5-44.6v55l.5-58.3v45l.5-66.1v78.5l.5-72.7v65.1l.5-57.9v53.6l.5-52.4v54.7l.5-53.1v51.6l.5-47.2v69.6l.5-70.7v52.8l.5-72.1v68.5l.5-58.9v59.6l.5-55.3v67.6l.5-62v51.4l.5-52.9v50.5l.5-59.4v63.4l.5-54.3v70.5l.5-71.7v54.3l.5-52.2v50.3l.5-63.1v65.1l.5-51.3v54.9l.5-54.1v45.9l.5-51.4v66l.5-64.5v51.9l.5-50.2v56.7l.5-69.1v65.5l.5-56.9v53.3l.5-53.1v54.5l.5-46.4v45.1l.5-50.7v53l.5-68.2v71.1l.5-56.6v58.9l.5-62.6v56.1l.5-56.5v75.6l.5-74.3v56.5l.5-59.1v77.5l.5-73.4v51.4l.5-49.2v55.9l.5-56.2v49.8l.5-52.1v54.3l.5-61.8v62.2l.5-54.3v54.3l.5-53.1v52l.5-51.5v62.4l.5-58.9v59.5l.5-70.5v78.5l.5-73.4v53.3l.5-65.1v69.4l.5-54.1v53.6l.5-54.3v67l.5-75v61.3l.5-68.4v68.1l.5-59.7v60.8l.5-57.5v56.8l.5-57.9v60.8l.5-55.1v64.5l.5-79.1v74.9l.5-65.8v55.6l.5-63.6v67.1l.5-80.1v81.5l.5-61v59.2l.5-52.3v62.1l.5-80.9v79l.5-62.7v58.4l.5-56.5v49.9l.5-62.6v64.7l.5-60.5v60.4l.5-51.8v51.6l.5-53v60.5l.5-66v57.1l.5-60.2v60.8l.5-55.3v57l.5-59.1v56.5l.5-55.5v76.7l.5-67.6v53.3l.5-56.4v54l.5-72.6v66.5l.5-53.3v64.8l.5-61v62.6l.5-58.6v50.1l.5-69.3v85.7l.5-90.1v80.1l.5-76.5v69.7l.5-58.1v60.9l.5-68.1v64.2l.5-69.1v77.1l.5-61.8v60.3l.5-58.8v69.9l.5-74.5v54.7l.5-59.3v61.4l.5-52.3v64.7l.5-66.7v62l.5-71.5v71.8l.5-62.8v83.3l.5-101.9v83.5l.5-69.7v80l.5-81.3v72.4l.5-75.1v73.1l.5-92.5v89.5l.5-73.8v79.7l.5-84.9v76.6l.5-57.5v56l.5-67.6v78.4l.5-69.8v85.1l.5-91.9v84.7l.5-98.3v93.7l.5-82.4v95.3l.5-91.2v74.9l.5-67.2v65.1l.5-70.1v72l.5-64.4v58.3l.5-81.1v78.4l.5-65v71.6l.5-71.3v71.6l.5-65.6v66.7l.5-71.9v86.5l.5-82.7v56.3l.5-58.7v63l.5-74.3v76.2l.5-62.3v53.1l.5-55.2v57.2l.5-51.7v57.3l.5-71.5v68.8l.5-55.3v52.6l.5-51.5v57.2l.5-56v58.2l.5-61v66.3l.5-80.4v69.6l.5-65.9v83.3l.5-72v47.3l.5-48.3v55l.5-66.8v70.8l.5-62.5v52l.5-49.2v47.6l.5-50.1v60.5l.5-51.8v46.1l.5-59.8v68.8l.5-56.6v47.1l.5-50.5v63l.5-66.2v50.9l.5-43.6v44.9l.5-52.4v51.1l.5-54.9v59.7l.5-49.4v45.3l.5-51.1v58.5l.5-64.6v62.6l.5-48.7v47.3l.5-47.5v42.8l.5-41.1v41.1l.5-40.1v40.8l.5-48.3v54.1l.5-59.8v68.5l.5-56.8v55.9l.5-63.4v51.6l.5-42.3v43l.5-59.4v62.8l.5-47.3v45.5l.5-48.1v43.7l.5-46.2v51l.5-47.9v44.2l.5-56v64.1l.5-48.7v42.7l.5-47.4v58.3l.5-61.9v53.1l.5-57.7v64l.5-59.2v47.7l.5-51.6v55.5l.5-47v44.2l.5-47v58.2l.5-53.3v41.2l.5-40.4v45.4l.5-53.2v65.2l.5-61.5v44.1l.5-40.9v53.8l.5-61.8v49.7l.5-43.1v42.6l.5-48.5v53.6l.5-65.8v61.9l.5-46.7v49.4l.5-51.9v60.8l.5-63.3v54.8l.5-48.7v48.7l.5-48.5v53.6l.5-66.9v58.8l.5-42v48.5l.5-52.6v44.4l.5-42.8v46.5l.5-49.4v59l.5-61.7v68.4l.5-64.9v47.5l.5-44.6v48.5l.5-55.3v60.5l.5-65v59.4l.5-51.7v49.4l.5-45.5v64.4l.5-64.3v39.6l.5-41.9v43.1l.5-43.7v45.8l.5-46.6v47.6l.5-46.3v62.5l.5-60.9v64.4l.5-80.3v66l.5-54.8v46.8l.5-38.1v38.5l.5-42.2v42.6l.5-42.7v45.5l.5-48.7v52.1l.5-55.2v56.5l.5-59.9v58.1l.5-52.1v51.4l.5-52.9v50.4l.5-49.8v52.2l.5-46.6v61.2l.5-63.9v48.9l.5-65.6v61.9l.5-44.7v48.5l.5-48.9v50.7l.5-59.7v59l.5-48.9v41.6l.5-46.2v47.7l.5-61.9v73.5l.5-60.8v54l.5-51.7v49.7l.5-48v43.2l.5-42.7v49.2l.5-51.5v56.8l.5-61.1v55.3l.5-71.6v67.5l.5-49.4v53.4l.5-59v56.6l.5-54.8v58l.5-59.7v73.6l.5-74.8v62.5l.5-61.6v65.2l.5-57.6v51.8l.5-54.8v65.2l.5-78.1v72.1l.5-61.6v64l.5-68.6v63.4l.5-60.5v55.2l.5-75.9v83l.5-62.9v59.8l.5-67v68.6l.5-67.5v66.4l.5-70.3v77.2l.5-76.1v70.1l.5-65.2v74.6l.5-69.6v73.7l.5-79.5v68.6l.5-69.1v73.3l.5-85.5v76.9l.5-66v77.1l.5-96.3v85.6l.5-71v77.8l.5-74.4v72.7l.5-78.9v84l.5-75.8v69.1l.5-81v103.4l.5-89.4v90l.5-96.9v79.1l.5-75.2v68.9l.5-76.8v80.9l.5-80.2v80.5l.5-84.7v83.2l.5-71.7v72.4l.5-82v81.9l.5-77.1v79.6l.5-87.3v86.6l.5-95.1v94.2l.5-84.4v92.6l.5-118.1v134l.5-99.1v72.6l.5-83.9v94.9l.5-87.6v75.7l.5-67.4v77.4l.5-89.6v76.3l.5-73.1v79.4l.5-69v76.6l.5-87.9v76.1l.5-61.6v85.9l.5-91.8v68.8l.5-69.8v77.8l.5-81.7v78.3l.5-75.1v74.7l.5-72.6v70.7l.5-93.1v94.7l.5-77.3v80.8l.5-77.4v80.9l.5-72.6v73.1l.5-81.1v79.2l.5-86.3v74.6l.5-59.8v70.5l.5-83.2v66.8l.5-81.3v93.3l.5-92v90.6l.5-78.8v75.1l.5-72v72.7l.5-75.2v73.6l.5-58.2v60.7l.5-66.7v62.7l.5-81.4v88.3l.5-67v60.2l.5-59.8v66.4l.5-71.7v62.2l.5-58.8v70.3l.5-69.5v66l.5-66.1v66l.5-74.1v79.2l.5-74.9v62.3l.5-59.4v62.8l.5-66.9v70.8l.5-64.6v65.7l.5-64v67l.5-77.4v81.2l.5-67.7v54.5l.5-59.8v68.8l.5-67.4v65.9l.5-68v67.3l.5-84.5v91.9l.5-80.1v68.4l.5-63.4v59.9l.5-52.7v55.3l.5-58.9v56.8l.5-62.8v62.8l.5-71.8v77.4l.5-64.3v61.7l.5-58.5v56.6l.5-59.3v68.7l.5-64.6v59.6l.5-58.4v64.7l.5-74.6v67.4l.5-61v62.7l.5-63.1v68.9l.5-67.2v55.7l.5-59.5v55.4l.5-51.6v55.4l.5-60.6v63.4l.5-58.3v62.5l.5-56.1v64.1l.5-66.9v55.8l.5-55.3v67.2l.5-73.5v60.8l.5-59.5v51.8l.5-44.8v49.8l.5-53.8v60.3l.5-58.3v56.8l.5-76v65.1l.5-51.4v55.9l.5-46.5v46.2l.5-56.9v64.6l.5-63.5v75.1l.5-70.1v48.7l.5-49.8v56.1l.5-59.9v68.9l.5-60.8v65.1l.5-77.2v58.1l.5-61.1v77.4l.5-78.8v84.9l.5-67.3v48.6l.5-54.1v56.2l.5-51.9v49.1l.5-49.9v57.9l.5-68.6v66.2l.5-55.8v51.7l.5-46.3v37.3l.5-43.6v48.9l.5-55.2v58.9l.5-51v50.1l.5-48.9v42.7l.5-41.4v44.8l.5-55.2v59.7l.5-51.7v57.7l.5-61v46.7l.5-40.3v55.5l.5-51.5v37.8l.5-39.4v40.8l.5-42.6v49l.5-53v45.3l.5-44.8v50.9l.5-47.9v43.1l.5-49.3v51.5l.5-43.9v46.4l.5-47.9v41.8l.5-43.5v41.4l.5-55.8v59.5l.5-38.6v44.3l.5-49.3v41.4l.5-44.7v44.6l.5-40v57.4l.5-59.9v54.5l.5-53.2v55.2l.5-65.3v54.6l.5-52.9v54.2l.5-52.6v56.3l.5-59.8v58.1l.5-50.2v45.6l.5-48.4v50l.5-47.2v51.2l.5-64.4v59.3l.5-53.3v53.1l.5-51.1v54.6l.5-48.5v46.4l.5-48.2v47.7l.5-58.7v61.1l.5-46v44.3l.5-60.2v60.2l.5-45.5v55.5l.5-75.7v66.1l.5-51.1v49l.5-59.1v56.9l.5-41.5v61.3l.5-79.5v65.1l.5-67.3v65.7l.5-49.8v47l.5-49.1v49.8l.5-57v57.7l.5-63.8v62.7l.5-45.5v48.9l.5-52v48.9l.5-44.1v58.7l.5-60.3v54.6l.5-55.8v54.6l.5-52.6v51l.5-45.5v47.3l.5-63.9v53.8l.5-46.6v53.8l.5-58.3v58.9l.5-51.3v48.5l.5-48.1v46.7l.5-47.2v45.7l.5-44.2v53.6l.5-57.9v54.2l.5-51.9v51.2l.5-54.8v49.5l.5-44.8v68.1l.5-82.9v80.4l.5-72.8v51.5l.5-51.7v53.2l.5-43.6v45.2l.5-52.3v70.5l.5-77.9v55.4l.5-44.8v50.9l.5-49.6v47.8l.5-52v66.5l.5-58.3v48.7l.5-55.4v53.1l.5-60v53.8l.5-46.5v56.4l.5-65.6v68.3l.5-64.5v57.7l.5-63.7v61.3l.5-50.9v51.2l.5-51.3v65.5l.5-74.7v64l.5-52v48.9l.5-49v54.1l.5-52.4v42.3l.5-48.5v52.7l.5-51.5v47.5l.5-45.3v55.2l.5-63.7v64.1l.5-63.2v65.4l.5-66.5v57.9l.5-49.1v47l.5-48.3v59.4l.5-54.8v45.3l.5-46.5v43.5l.5-49.5v54.3l.5-53.7v49.9l.5-48.8v52.1l.5-49.1v58.7l.5-55.1v45.8l.5-46.7v50.4l.5-59.9v68.8l.5-63.2v63.2l.5-68.2v62.4l.5-56.7v61l.5-66.2v58l.5-53.3v56.6l.5-57.7v65l.5-64.1v62.9l.5-70.9v75.5l.5-67.2v49.5l.5-49.3v66.7l.5-83.9v72.2l.5-50v47.6l.5-53.9v49.1l.5-45.7v48.7l.5-52.4v70.3l.5-64.9v51.2l.5-51.4v52.4l.5-66.3v64l.5-50.3v53.8l.5-53.8v52.7l.5-57.8v53.8l.5-54.1v54.9l.5-57.9v58.5l.5-53.3v49l.5-62.2v62.1l.5-52.5v54.6l.5-48.8v45.6l.5-53.6v52.9l.5-48.2v54.5l.5-49.8v61.9l.5-65.8v47l.5-46.9v46.8l.5-51.4v58.7l.5-65.7v62l.5-53.4v50.3l.5-51.6v54.3l.5-48.6v53l.5-56.8v53.1l.5-63v63.6l.5-49.1v46.9l.5-63.6v65.3l.5-66.8v66.6l.5-45.8v42.4l.5-42.5v57.1l.5-67.3v53.7l.5-59.7v59l.5-51.7v52.6l.5-50.7v58.6l.5-53.9v49.7l.5-55.2v59.1l.5-62.1v60.2l.5-54.7v52.7l.5-54.6v64.2l.5-71.1v66.6l.5-62.7v58.7l.5-63.8v65.8l.5-57.9v59.2l.5-57.1v56.7l.5-61.3v64.5l.5-55.3v50.7l.5-58.4v65.8l.5-67.2v63.1l.5-72.9v85.9l.5-76.6v64.6l.5-79.7v77l.5-60.2v77l.5-78.9v58.5l.5-57.9v56.7l.5-61v65.1l.5-68.4v89.7l.5-82.1v61.9l.5-68.6v80.4l.5-72v60l.5-65.7v68.1l.5-63.5v64.4l.5-66v63.6l.5-78.1v72.9l.5-74v89.2l.5-70.3v73.2l.5-78.4v87.1l.5-82.8v59.4l.5-69v83.3l.5-84.7v77.9l.5-86v85.8l.5-78v73.3l.5-65.5v69.3l.5-84.7v88.7l.5-86.3v82.3l.5-66.8v65.2l.5-74.7v68.1l.5-61.6v72.4l.5-76.3v68.6l.5-68v75.3l.5-83.7v80.5l.5-93.4v91.7l.5-62.1v58.7l.5-75.8v83.3l.5-75.9v72.5l.5-69.4v67.8l.5-60.2v62.3l.5-71.1v79.8l.5-90.4v79.1l.5-63.2v61.7l.5-63.6v66.9l.5-64v63.4l.5-65.1v66.7l.5-68.2v72.3l.5-68.4v80.3l.5-83.8v64.2l.5-71.2v70.4l.5-77.6v95.8l.5-87.4v77.4l.5-65.2v64.8l.5-65.4v58.3l.5-62.2v71.1l.5-69.4v67l.5-66.3v75.7l.5-73.1v56.7l.5-58v75.2l.5-74.8v59.4l.5-56.5v52.6l.5-53v55.7l.5-57.1v80l.5-80.8v59.3l.5-60.8v56.4l.5-48.9v70.6l.5-70.6v51.4l.5-54.6v53.2l.5-52.8v57l.5-73.9v66.1l.5-59.2v60l.5-59.8v54.6l.5-45.6v50.3l.5-54.4v56.6l.5-50.8v58.1l.5-56.8v51l.5-50.9v54.3l.5-60.9v49l.5-41.8v43l.5-43.9v49.2l.5-49.8v41.8l.5-41.7v53.1l.5-55.7v44.8l.5-37.8v50.2l.5-65.8v53.5l.5-43.5v54.5l.5-55.4v51l.5-52.5v50.5l.5-53.1v63.5l.5-84.4v73.6l.5-53.7v54.8l.5-55.8v56.4l.5-59.7v57.2l.5-55.3v63.1l.5-57.4v56.7l.5-53.1v55.3l.5-55v45l.5-51.6v66.4l.5-67.8v69.3l.5-65.1v50.2l.5-48.8v49.7l.5-49.4v54.8l.5-50.8v41l.5-42.5v45.2l.5-46.1v49.5l.5-47.4v58.4l.5-74.5v56.3l.5-41v48.6l.5-54.6v54l.5-60.8v74.5l.5-64.3v51l.5-57.1v65l.5-61.8v52.7l.5-53.2v50.8l.5-60.5v62.8l.5-55.7v58.1l.5-55.1v51.1l.5-54.2v58.2l.5-63.1v68.8l.5-64.3v54.1l.5-55.1v55.4l.5-45.5v53.3l.5-62.2v57.3l.5-50.9v49.3l.5-46.7v55.4l.5-54.8v50.9l.5-57.9v62.2l.5-55.7v48.8l.5-49.9v47.5l.5-53.4v69.5l.5-63.9v45.4l.5-61.2v72.9l.5-57.4v62.1l.5-62.9v52.6l.5-53.2v55l.5-58.9v68l.5-65.3v58l.5-60.5v51.2l.5-52.8v53l.5-46.6v45.8l.5-53v52.1l.5-44.6v42.9l.5-49.4v61.9l.5-56v50.7l.5-55.2v47.8l.5-44.5v57.9l.5-58.2v48.4l.5-46.7v49.9l.5-49.4v47.6l.5-57.3v57.9l.5-49.9v49.4l.5-52.5v50.6l.5-48.2v52.6l.5-67v61.7l.5-41.1v41.3l.5-51.6v62.6l.5-81.4v69.7l.5-64.9v73.5l.5-58.1v58l.5-60.6v51.7l.5-59.8v79.3l.5-72.2v62.1l.5-52.9v43.3l.5-60.6v61.9l.5-53.6v61.4l.5-54.8v50.4l.5-51.8v52.7l.5-71.8v68.5l.5-51.8v52.7l.5-50.6v53.9l.5-67.9v76.2l.5-67.6v57.2l.5-63.9v70.3l.5-68.2v68.9l.5-77.3v83.6l.5-67.1v53.4l.5-75.2v74.7l.5-56.3v54l.5-62.5v78.7l.5-85.1v90.2l.5-93.3v82.3l.5-62.9v55.4l.5-55.6v59.3l.5-63.1v57.7l.5-51.7v54.1l.5-58.3v56.7l.5-53.2v68.9l.5-64v51.1l.5-68.3v73l.5-64.9v66.1l.5-79v68.8l.5-58.3v63.8l.5-71.7v76.8l.5-68.7v70.6l.5-77.5v77.3l.5-59.3v48.9l.5-62.8v63.7l.5-78.1v93l.5-88.3v73.6l.5-58.3v80.8l.5-88.1v68.4l.5-64.8v72.9l.5-84.8v82.6l.5-87v100.1l.5-78.4v71.5l.5-72.3v87.2l.5-95.8v83l.5-81.8v71.6l.5-69.9v69.7l.5-68v82l.5-77.4v69.8l.5-76.9v75l.5-71.2v66.8l.5-77.7v88.3l.5-80.8v76.8l.5-80.9v97.4l.5-90.1v66.3l.5-65.7v87.1l.5-96.5v73.1l.5-72.9v72.9l.5-62.1v82.6l.5-88.1v68.7l.5-60.8v62.9l.5-59.4v56.8l.5-63.5v63.9l.5-59.1v61.2l.5-72.1v79.8l.5-68.9v68l.5-69.7v56.3l.5-56.6v60.7l.5-56.9v70.5l.5-78v61.6l.5-55v55.3l.5-67.2v61.3l.5-53.7v63.6l.5-64.7v63.5l.5-70.9v71l.5-62v67.8l.5-62.8v51.2l.5-48.5v56.7l.5-59.3v57.8l.5-61.5v65.2l.5-61.1v51.7l.5-49v67.4l.5-72.5v54.1l.5-60.1v58.6l.5-55v59.8l.5-63.6v66.6l.5-62.6v55.6l.5-54v60.3l.5-52.1v58.5l.5-72.8v58.6l.5-46.6v53.3l.5-55.1v53.1l.5-51.7v45.2l.5-46.1v53.2l.5-55.6v65.4l.5-75.4v66.5l.5-52.2v55.2l.5-72.2v62.7l.5-51.5v54.5l.5-57.1v52.7l.5-58.2v79l.5-72v52.9l.5-48.9v53.7l.5-52.7v46l.5-61.9v72.4l.5-57.2v48l.5-44.3v43.5l.5-47.8v51.6l.5-50.3v51.3l.5-55.1v53.2l.5-61.1v66.1l.5-53.7v62.7l.5-64.2v47.9l.5-52.2v62.9l.5-60.3v57l.5-58.1v52.7l.5-54.4v63.2l.5-64.7v52.5l.5-43.4v45.8l.5-46.7v64.4l.5-68.7v48.6l.5-50.7v59l.5-61.6v56.1l.5-44.5v45.6l.5-58.6v57.9l.5-46.9v44.3l.5-46.4v49.7l.5-52.8v51l.5-60.6v65.4l.5-54.3v51.7l.5-61.6v57.8l.5-41.4v59.3l.5-65v48.4l.5-52.8v52.6l.5-44.9v42.4l.5-46v51.8l.5-45v44.6l.5-50.7v49.3l.5-45v50.5l.5-50.4v45.4l.5-49.2v51l.5-47.6v41.5l.5-47.8v56.7l.5-57.3v56l.5-58.4v60.4l.5-52.6v39.8l.5-38.1v45.9l.5-50.3v45.4l.5-49.5v48.4" stroke="#f00" stroke-width="0.9"/>
</g>
<rect x="1004.9" y="1248.6" width="615.5" height="205.3" fill="none" stroke="#2a2a2a" stroke-width="1.3"/>
<text class="pl" transform="translate(826.8 1209.3) scale(0.975 1)">H</text>
<text class="tk" text-anchor="end" transform="translate(999.9 1263.6) scale(0.86 1)">20</text>
<text class="tk" text-anchor="end" transform="translate(999.9 1314.9) scale(0.86 1)">10</text>
<text class="tk" text-anchor="end" transform="translate(999.9 1366.2) scale(0.86 1)">0</text>
<text class="tk" text-anchor="end" transform="translate(999.9 1417.6) scale(0.86 1)">10</text>
<text class="se" font-size="29.5" text-anchor="end" x="963.3" y="1417.6">–</text>
<text class="tk" text-anchor="end" transform="translate(999.9 1468.9) scale(0.86 1)">20</text>
<text class="se" font-size="29.5" text-anchor="end" x="963.3" y="1468.9">–</text>
<text class="tk" text-anchor="middle" transform="translate(1011.0 1493.4) scale(0.86 1)">5</text>
<text class="tk" text-anchor="middle" transform="translate(1072.5 1493.4) scale(0.86 1)">8</text>
<text class="tk" text-anchor="middle" transform="translate(1134.0 1493.4) scale(0.86 1)">11</text>
<text class="tk" text-anchor="middle" transform="translate(1195.5 1493.4) scale(0.86 1)">14</text>
<text class="tk" text-anchor="middle" transform="translate(1257.0 1493.4) scale(0.86 1)">17</text>
<text class="tk" text-anchor="middle" transform="translate(1318.5 1493.4) scale(0.86 1)">20</text>
<text class="tk" text-anchor="middle" transform="translate(1379.9 1493.4) scale(0.86 1)">23</text>
<text class="tk" text-anchor="middle" transform="translate(1441.4 1493.4) scale(0.86 1)">26</text>
<text class="tk" text-anchor="middle" transform="translate(1502.9 1493.4) scale(0.86 1)">29</text>
<text class="tk" text-anchor="middle" transform="translate(1564.4 1493.4) scale(0.86 1)">32</text>
<text class="tk" text-anchor="middle" transform="translate(1625.9 1493.4) scale(0.86 1)">35</text>
<text class="se" font-size="46" transform="translate(904.1 1563.1) rotate(-90) scale(0.966 1)">Acceleration <tspan font-size="49" dy="1">[</tspan><tspan dy="-1">m/s</tspan><tspan font-size="28" dy="-14.5">2</tspan><tspan font-size="49" dy="15.5">]</tspan></text>
<rect x="938.9" y="1511.3" width="300.0" height="52.2" fill="#fff" stroke="#555" stroke-width="1.4"/>
<text class="se" font-weight="700" font-style="italic" font-size="58" transform="translate(946.7 1550.7) scale(0.96 1)">a</text><text class="se" font-weight="700" font-style="italic" font-size="45" x="972.7" y="1550.7">x</text><text class="se" font-weight="700" font-size="29" stroke="#000" stroke-width="0" x="994.7" y="1550.7">8</text><text class="se" font-size="42.5" stroke="#000" stroke-width="0.4" x="1008.9" y="1550.2">*</text>
<path d="M1020.6 1543.3H1074.3" stroke="#f00" stroke-width="5"/>
<text class="se" font-weight="700" font-style="italic" font-size="58" transform="translate(1103.3 1550.7) scale(0.96 1)">a</text><text class="se" font-weight="700" font-style="italic" font-size="45" x="1128.3" y="1550.7">y</text><text class="se" font-weight="700" font-size="29" stroke="#000" stroke-width="0" x="1150.3" y="1550.7">8</text><text class="se" font-size="42.5" stroke="#000" stroke-width="0.4" x="1164.5" y="1550.2">*</text>
<path d="M1176.6 1542.6H1230.3" stroke="#000" stroke-width="5"/>
<text class="se" font-size="45" transform="translate(1246.8 1556.1) scale(0.982 1)">Time <tspan font-size="48.5" dy="0.6">[</tspan><tspan dy="-0.6">s</tspan><tspan font-size="48.5" dy="0.6">]</tspan></text>
</g>
<path d="M1239 372.5Q1232.4 383 1239 393.2Z" fill="#000"/>
</svg></body></html>
